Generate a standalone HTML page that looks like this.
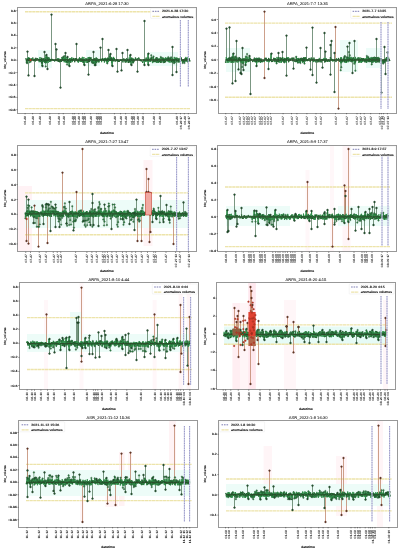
<!DOCTYPE html>
<html><head><meta charset="utf-8"><style>
html,body{margin:0;padding:0;background:#fff;width:401px;height:550px;overflow:hidden}
svg{display:block;font-family:"Liberation Sans",sans-serif;text-rendering:geometricPrecision}
</style></head><body>
<svg xmlns="http://www.w3.org/2000/svg" width="401" height="550" viewBox="0 0 401 550">
<rect width="401" height="550" fill="#fff"/>
<g opacity="0.999">
<clipPath id="c1"><rect x="17.5" y="7" width="179.0" height="106"/></clipPath>
<g clip-path="url(#c1)">
<rect x="38" y="50" width="14" height="18" fill="#edfcf8"/>
<rect x="86" y="50" width="14" height="16" fill="#edfcf8"/>
<rect x="150" y="52" width="28" height="14" fill="#edfcf8"/>
<line x1="25" y1="11.8" x2="190" y2="11.8" stroke="#ede4aa" stroke-width="1.4" stroke-dasharray="3.2 0.4"/>
<line x1="25" y1="108.6" x2="190" y2="108.6" stroke="#ede4aa" stroke-width="1.4" stroke-dasharray="3.2 0.4"/>
<path d="M27.5 60V51.6M28.5 60V75.4M34.5 60V76M47.5 60V69M51.5 60V14.6M55.5 60V44M56.5 60V49.4M60.5 60V87.6M76.5 60V44M84.5 60V65M88.5 60V74.6M93.5 60V52M95.5 60V65M100.5 60V47.6M102.5 60V39M108.5 60V50M116.5 60V49M117.5 60V71.6M121.5 60V70.4M122.5 60V53M127.5 60V50M137.5 60V71.6M144.5 60V21M144.5 60V65M148.5 60V53.6M148.5 60V65M172.5 60V47M172.5 60V75M176.5 60V72M44.5 60V52M46.5 60V55M42.5 60V66M65.5 60V53M67.5 60V57M69.5 60V66M110.5 60V54M112.5 60V66M130.5 60V55M131.5 60V65" stroke="#4f7458" stroke-width="0.75" fill="none"/>
<path d="M26.62 60V62.21M27.11 60V63.17M28.52 60V59.46M29.29 60V59.2M40.23 60V60.2M41.47 60V61.88M41.99 60V63.08M43.01 60V60.58M44.43 60V59.38M45.28 60V62.36M45.7 60V66.49M46.92 60V59.5M47.44 60V57.41M48.46 60V58.73M49.74 60V60.64M62.44 60V57.52M63.73 60V56.48M65.13 60V55.72M66.32 60V60.49M67.08 60V64.56M67.79 60V61.89M69.59 60V60.9M70.51 60V59.82M71.57 60V60.06M90.45 60V59.26M91.7 60V60.59M92.12 60V62.65M93.28 60V63.17M94.66 60V65.22M95.84 60V62.81M96.3 60V59.23M97.64 60V59.37M104.95 60V59.89M105.42 60V58.56M107.25 60V63.41M108.53 60V60.31M109.93 60V56.43M110.57 60V59.02M112.1 60V59.3M113.35 60V59.28M126.71 60V59.44M128.44 60V61.83M129.71 60V61.62M130.6 60V60.04M132.05 60V59.69M132.83 60V62.72M151.27 60V55.21M151.94 60V57.66M153.54 60V56.48M156.11 60V58.77M157.18 60V61.79M158.97 60V60.47M160.84 60V57M162.81 60V58.08M163.58 60V62.25M165.52 60V60.25M166.89 60V58.86M168.3 60V57.2M171.11 60V57.42M172.71 60V61.69M174.05 60V63.27M175.54 60V60.2M177.81 60V59.56M179.27 60V60.92M182.68 60V63M184.53 60V63M187.37 60V60.71M78.93 60V59.22M82.7 60V61.48M85.57 60V59.76M89.69 60V57.9" stroke="#3f7a4e" stroke-width="0.6" fill="none"/>
<path d="M26 58.8 26 59.7 26.4 61.7 26.5 62.7 26.6 62.2 26.9 60.1 27.1 60.5 27.1 63.2 27.4 58 27.6 59 27.8 60.8 28.3 60.3 28.4 57.4 28.5 59.5 28.8 57.4 28.9 60.6 29.3 59.2 29.3 61.2 29.6 58.6 29.6 63.1 30 62.1 30.8 61.7 31.2 58.1 31.6 59.7 32.3 58.3 32.9 58.1 33.3 60.8 33.9 60.6 34.4 59.9 34.8 59.3 35.5 61.5 35.9 58.3 36.6 60.5 37.3 58.7 37.8 58.9 38.6 59.4 39.2 62.2 39.7 60.2 40 57 40.2 60.2 40.4 61.9 40.4 59.6 40.9 59.4 41 60.1 41.3 61.7 41.5 61.9 41.5 60 41.7 58.2 42 59.7 42 63.1 42 66 42.3 59.9 42.4 63.2 43 59.1 43 62.2 43 60.6 43.5 58.8 43.7 58.1 43.8 58.6 44.1 60.7 44.2 61.7 44.4 59.4 44.5 59.1 44.6 62.2 45 62.9 45.2 60.9 45.3 62.4 45.6 56.8 45.6 58.4 45.7 63.2 45.9 62.6 46 55 46.2 61 46.4 63.1 46.7 58.3 46.8 57.3 46.9 59.5 47.3 61.8 47.3 60.3 47.4 57.4 47.7 57.4 48.1 63 48.1 61.9 48.5 58.7 48.6 57.6 48.9 59.7 49 57.4 49.3 61.9 49.6 59.1 49.6 60.4 49.7 60.6 50.1 59.6 50.8 61.7 51.3 59.4 51.8 59.4 52.3 59.5 52.8 60.3 53.5 60.2 54.2 60.3 54.6 61.1 55.4 59 55.8 60.1 56.3 60.3 57.1 60.7 57.8 58.1 58.4 61.3 58.8 58.2 59.5 61.8 59.9 60.6 60.3 61.1 61 58.9 61.4 61.2 62 61.2 62 57.3 62.3 60.5 62.4 57.5 62.5 59.3 62.7 60.6 63.1 59.7 63.3 60.8 63.7 59.9 63.7 56.8 63.9 60.2 64.2 62.3 64.5 57.8 64.5 60.9 65.1 62 65.1 56.8 65.3 59.6 65.5 58 66 62.8 66 60.7 66.3 60.5 66.4 62.9 66.8 61.3 66.9 60.7 67 57 67.1 63.2 67.3 57.5 67.5 61.7 67.7 63 67.8 61.9 68 61.3 68.3 60.6 68.4 62.1 68.9 60.9 68.9 58.7 69 66 69.2 61.4 69.6 58.3 69.6 59.7 69.6 60.9 70 62.3 70.1 58.4 70.5 58.6 70.5 59.8 70.8 62.2 71.1 58.1 71.3 58.5 71.4 58.5 71.6 60.1 71.8 59.7 71.8 57.2 72.2 62.1 72.6 59.2 73 60.7 73.7 58.6 74.1 59.8 74.7 61.8 75.1 58.3 75.5 58.8 76 61 76.6 58.8 77 59 77.4 61.1 77.9 60.2 78 61.7 78.3 62.8 78.6 59.9 78.7 59.8 78.9 59.2 79 60 79.1 61.7 79.5 57.2 79.9 59.3 80.1 59.5 80.5 62 80.5 60.6 80.9 58.6 81 58.8 81.4 62 81.4 60.4 81.8 61.4 82.1 59.5 82.2 56.9 82.6 57.1 82.7 61.5 82.7 60.1 82.9 61.6 83.2 62.2 83.4 62.5 83.8 58.8 83.9 57.1 84 65 84.2 59.9 84.5 62.8 84.7 61.3 84.8 62.6 85.2 59.9 85.4 60.5 85.6 59.8 85.8 58.5 85.8 58.4 86.3 62.8 86.3 58.9 86.8 59.8 87 60.1 87.4 62 87.7 62.2 87.9 57.5 88.1 60.2 88.4 59.7 88.6 61.2 88.7 57.1 88.9 61.4 89.2 57.6 89.6 61.1 89.6 61.4 89.7 57.9 90 59.9 90 59 90.5 59.3 90.5 58.8 90.7 58.2 91.1 57.3 91.3 59.9 91.6 61.5 91.7 60.6 92 60.4 92.1 62.6 92.2 61.5 92.7 61.9 92.8 59.1 93.2 59.1 93.3 63.2 93.5 59.6 93.7 62.6 94.2 58.2 94.3 59.5 94.7 63.2 94.8 62.3 95 58.7 95 65 95.3 60.8 95.6 60.1 95.7 60.5 95.8 62.8 96 61.5 96.2 57.3 96.3 59.2 96.5 59.2 96.7 63.2 96.9 59.1 97.3 61.5 97.4 60.9 97.6 59.4 97.7 61.5 97.9 60.8 98.3 59.5 98.9 62.1 99.6 60.7 100 59.5 100.6 58.8 101.2 59.8 101.6 62.2 102.3 58.7 102.9 59.1 103.4 60.2 103.9 59.3 104 58.1 104.4 62.6 104.5 60.7 104.8 59.6 104.9 58.7 105 59.9 105.4 58.9 105.4 58.6 105.6 59.2 105.9 58.1 106.3 62 106.4 60.3 106.9 62.4 107.1 59.3 107.3 63.2 107.3 60.5 107.7 57.7 107.8 58.2 108.2 62.2 108.2 58.2 108.5 60.3 108.7 61.4 108.8 60.9 109.3 59.6 109.3 58.6 109.7 59.7 109.9 56.8 110 60.4 110 54 110.1 58.2 110.4 58.8 110.5 60.8 110.6 59 110.8 58.3 110.9 58.8 111.3 58.1 111.5 63.1 111.9 57.3 112 66 112.1 59.3 112.1 59.7 112.2 62.4 112.5 61.3 112.7 60.6 113 58.8 113.3 59.3 113.4 61.4 113.5 56.9 113.9 59.7 113.9 59.3 114.4 57.9 115 60.9 115.8 61.3 116.4 60.5 116.8 59.3 117.3 60.7 117.7 59.5 118.3 61.3 119 60.5 119.4 61.2 120.1 60.2 120.7 60 121.1 60.9 121.9 60.1 122.5 61.5 123 62 123.6 58.7 124 58.9 124.6 60.9 125.1 61.9 125.6 59.8 126 61.4 126 62.1 126.4 58.5 126.4 61.8 126.7 59.4 126.8 61.3 127 60.3 127.2 60.7 127.6 59 127.7 59.3 128.3 62.6 128.4 62.2 128.4 61.8 128.6 62.8 129.1 60.4 129.1 57.6 129.5 61.4 129.6 60.8 129.7 61.6 130 61.7 130 55 130.1 59.2 130.4 60.3 130.6 62.4 130.6 60 131 65 131.1 62.8 131.2 58.6 131.6 61 131.8 58.1 131.9 61.4 132.1 59.7 132.1 58.6 132.5 60.9 132.8 62.7 132.9 61.9 133 58.2 133.6 63.1 133.6 59.2 134.2 61 134.7 60.4 135.5 57.9 135.9 59.9 136.3 59.5 136.9 58.6 137.5 59 138.1 59.3 138.7 58 139.4 58.4 140.2 60.4 140.7 59.6 141.4 60.8 142.1 61.1 142.6 62.2 143.4 61.6 143.9 59.7 144.4 65 144.5 61.8 145.1 60.1 145.6 61.8 146.1 58 146.8 61.8 147.5 60.4 148 53.6 148 65 148.2 59.1 148.8 58.1 149.2 59.8 149.8 59.5 150 62 150.1 60.9 150.3 61.9 150.7 58.9 150.7 58.9 151.2 57.7 151.2 59.5 151.3 56.8 151.6 60.1 151.7 58.1 151.9 57.7 152.1 62.2 152.4 62.1 152.6 62.9 153 62.9 153.1 61.6 153.3 58.2 153.5 56.8 153.6 61.3 153.8 58.7 154.1 61.1 154.3 60.9 154.7 61.8 154.8 62.2 155.1 61.3 155.3 58.8 155.5 60.2 155.7 62.2 156.1 58.8 156.2 58.1 156.3 57.8 156.7 59.1 156.8 63 157.2 61.8 157.2 58.1 157.2 60.5 157.6 60.2 158 61.4 158.1 60.7 158.4 63 158.5 59.4 158.8 59.4 159 60.5 159.1 58 159.4 60.4 159.5 61.8 159.8 61.2 160 60 160.1 60.2 160.6 62.9 160.7 62.1 160.8 57 161.1 58.5 161.3 58.7 161.6 57.6 161.8 61.9 162 62 162.5 58.7 162.6 59.8 162.8 58.1 163 58 163.3 59.4 163.5 62.7 163.6 62.2 163.8 61.8 163.8 58.6 164.1 58 164.5 61.2 164.6 62.2 164.9 59.1 165 60.6 165.4 57.5 165.4 61.7 165.5 60.3 165.8 58.3 165.9 57.6 166.3 58.4 166.5 59.2 166.7 60.2 166.9 58.9 167.1 59.2 167.2 61.6 167.5 60.2 167.9 58.1 167.9 58.4 168.3 57.2 168.4 60.9 168.6 61.9 168.8 62.2 169.1 58.1 169.3 62.3 169.6 59.2 169.7 61.5 170.2 62.6 170.3 58.7 170.6 58.8 170.7 58.8 171.1 57.4 171.2 58.2 171.3 61.3 171.8 62.5 171.8 60.7 172.1 58.3 172.6 60.4 172.7 58.5 172.7 61.7 173 62.1 173 59.1 173.4 61.9 173.8 59.4 173.8 60.7 174.1 63.2 174.3 56.9 174.3 60.6 174.6 61.2 174.7 62.1 175.2 63 175.2 60.1 175.5 60 175.5 60.2 175.8 58 176.1 60 176.4 59.1 176.6 58 176.9 57.5 176.9 61.3 177.2 60.3 177.3 59.1 177.6 60.4 177.8 59.6 178 58.9 178 58 178 62.6 178.5 60.2 178.5 61.8 178.9 61.7 179.1 59.4 179.3 60.9 179.6 62.4 179.7 57.9 180.1 61.7 180.2 61.1 180.7 59.4 180.8 61.9 181.2 57.3 181.3 58.6 181.6 59.8 181.9 59.1 181.9 60.6 182.4 60.8 182.5 60.7 182.7 63 182.8 62.8 183.2 60.1 183.3 59 183.7 61.5 183.8 60.4 184.2 59.3 184.4 60.1 184.5 63 184.8 60.9 185.2 58.6 185.3 61.7 185.9 58.5 185.9 56.9 186.4 61.5 186.5 58.8 186.8 59.4 187 61.2 187.1 58.1 187.4 60.7 187.5 57.4 187.7 61.3 187.9 62.6 188.2 60 188.7 60.4 189.2 58 189.8 60.9" stroke="#2e8c48" stroke-width="1.0" fill="none" stroke-linejoin="round"/>
<line x1="26" y1="60" x2="190" y2="60" stroke="#30482c" stroke-width="1.3"/>
<path d="M25.2 58.8a0.75 0.75 0 1 0 1.5 0a0.75 0.75 0 1 0 -1.5 0M26.4 60.5a0.75 0.75 0 1 0 1.5 0a0.75 0.75 0 1 0 -1.5 0M27.5 60.3a0.75 0.75 0 1 0 1.5 0a0.75 0.75 0 1 0 -1.5 0M28.8 58.6a0.75 0.75 0 1 0 1.5 0a0.75 0.75 0 1 0 -1.5 0M30.1 61.7a0.75 0.75 0 1 0 1.5 0a0.75 0.75 0 1 0 -1.5 0M30.9 59.7a0.75 0.75 0 1 0 1.5 0a0.75 0.75 0 1 0 -1.5 0M32.1 58.1a0.75 0.75 0 1 0 1.5 0a0.75 0.75 0 1 0 -1.5 0M33.1 60.6a0.75 0.75 0 1 0 1.5 0a0.75 0.75 0 1 0 -1.5 0M34.1 59.3a0.75 0.75 0 1 0 1.5 0a0.75 0.75 0 1 0 -1.5 0M35.1 58.3a0.75 0.75 0 1 0 1.5 0a0.75 0.75 0 1 0 -1.5 0M36.5 58.7a0.75 0.75 0 1 0 1.5 0a0.75 0.75 0 1 0 -1.5 0M37.8 59.4a0.75 0.75 0 1 0 1.5 0a0.75 0.75 0 1 0 -1.5 0M38.9 60.2a0.75 0.75 0 1 0 1.5 0a0.75 0.75 0 1 0 -1.5 0M40.2 59.4a0.75 0.75 0 1 0 1.5 0a0.75 0.75 0 1 0 -1.5 0M40.9 58.2a0.75 0.75 0 1 0 1.5 0a0.75 0.75 0 1 0 -1.5 0M42.2 59.1a0.75 0.75 0 1 0 1.5 0a0.75 0.75 0 1 0 -1.5 0M43.4 60.7a0.75 0.75 0 1 0 1.5 0a0.75 0.75 0 1 0 -1.5 0M44.4 60.9a0.75 0.75 0 1 0 1.5 0a0.75 0.75 0 1 0 -1.5 0M45.4 61a0.75 0.75 0 1 0 1.5 0a0.75 0.75 0 1 0 -1.5 0M46.6 60.3a0.75 0.75 0 1 0 1.5 0a0.75 0.75 0 1 0 -1.5 0M48.1 59.7a0.75 0.75 0 1 0 1.5 0a0.75 0.75 0 1 0 -1.5 0M49.3 59.6a0.75 0.75 0 1 0 1.5 0a0.75 0.75 0 1 0 -1.5 0M50.6 59.4a0.75 0.75 0 1 0 1.5 0a0.75 0.75 0 1 0 -1.5 0M51.6 59.5a0.75 0.75 0 1 0 1.5 0a0.75 0.75 0 1 0 -1.5 0M52.7 60.2a0.75 0.75 0 1 0 1.5 0a0.75 0.75 0 1 0 -1.5 0M53.9 61.1a0.75 0.75 0 1 0 1.5 0a0.75 0.75 0 1 0 -1.5 0M55 60.1a0.75 0.75 0 1 0 1.5 0a0.75 0.75 0 1 0 -1.5 0M56.4 60.7a0.75 0.75 0 1 0 1.5 0a0.75 0.75 0 1 0 -1.5 0M57.7 61.3a0.75 0.75 0 1 0 1.5 0a0.75 0.75 0 1 0 -1.5 0M58.8 61.8a0.75 0.75 0 1 0 1.5 0a0.75 0.75 0 1 0 -1.5 0M59.6 61.1a0.75 0.75 0 1 0 1.5 0a0.75 0.75 0 1 0 -1.5 0M60.7 61.2a0.75 0.75 0 1 0 1.5 0a0.75 0.75 0 1 0 -1.5 0M61.8 59.3a0.75 0.75 0 1 0 1.5 0a0.75 0.75 0 1 0 -1.5 0M63.1 60.2a0.75 0.75 0 1 0 1.5 0a0.75 0.75 0 1 0 -1.5 0M64.6 59.6a0.75 0.75 0 1 0 1.5 0a0.75 0.75 0 1 0 -1.5 0M66 61.3a0.75 0.75 0 1 0 1.5 0a0.75 0.75 0 1 0 -1.5 0M67.5 60.6a0.75 0.75 0 1 0 1.5 0a0.75 0.75 0 1 0 -1.5 0M68.8 59.7a0.75 0.75 0 1 0 1.5 0a0.75 0.75 0 1 0 -1.5 0M70 62.2a0.75 0.75 0 1 0 1.5 0a0.75 0.75 0 1 0 -1.5 0M71 59.7a0.75 0.75 0 1 0 1.5 0a0.75 0.75 0 1 0 -1.5 0M71.9 59.2a0.75 0.75 0 1 0 1.5 0a0.75 0.75 0 1 0 -1.5 0M73 58.6a0.75 0.75 0 1 0 1.5 0a0.75 0.75 0 1 0 -1.5 0M74 61.8a0.75 0.75 0 1 0 1.5 0a0.75 0.75 0 1 0 -1.5 0M74.8 58.8a0.75 0.75 0 1 0 1.5 0a0.75 0.75 0 1 0 -1.5 0M75.8 58.8a0.75 0.75 0 1 0 1.5 0a0.75 0.75 0 1 0 -1.5 0M76.7 61.1a0.75 0.75 0 1 0 1.5 0a0.75 0.75 0 1 0 -1.5 0M77.9 59.9a0.75 0.75 0 1 0 1.5 0a0.75 0.75 0 1 0 -1.5 0M79.1 59.3a0.75 0.75 0 1 0 1.5 0a0.75 0.75 0 1 0 -1.5 0M80.3 58.8a0.75 0.75 0 1 0 1.5 0a0.75 0.75 0 1 0 -1.5 0M81.4 59.5a0.75 0.75 0 1 0 1.5 0a0.75 0.75 0 1 0 -1.5 0M82.4 62.2a0.75 0.75 0 1 0 1.5 0a0.75 0.75 0 1 0 -1.5 0M83.4 59.9a0.75 0.75 0 1 0 1.5 0a0.75 0.75 0 1 0 -1.5 0M84.6 60.5a0.75 0.75 0 1 0 1.5 0a0.75 0.75 0 1 0 -1.5 0M85.5 58.9a0.75 0.75 0 1 0 1.5 0a0.75 0.75 0 1 0 -1.5 0M86.9 62.2a0.75 0.75 0 1 0 1.5 0a0.75 0.75 0 1 0 -1.5 0M87.8 61.2a0.75 0.75 0 1 0 1.5 0a0.75 0.75 0 1 0 -1.5 0M88.9 61.4a0.75 0.75 0 1 0 1.5 0a0.75 0.75 0 1 0 -1.5 0M89.9 58.2a0.75 0.75 0 1 0 1.5 0a0.75 0.75 0 1 0 -1.5 0M91.3 60.4a0.75 0.75 0 1 0 1.5 0a0.75 0.75 0 1 0 -1.5 0M92.7 59.6a0.75 0.75 0 1 0 1.5 0a0.75 0.75 0 1 0 -1.5 0M94.2 58.7a0.75 0.75 0 1 0 1.5 0a0.75 0.75 0 1 0 -1.5 0M95.2 61.5a0.75 0.75 0 1 0 1.5 0a0.75 0.75 0 1 0 -1.5 0M96.1 59.1a0.75 0.75 0 1 0 1.5 0a0.75 0.75 0 1 0 -1.5 0M97.2 60.8a0.75 0.75 0 1 0 1.5 0a0.75 0.75 0 1 0 -1.5 0M98.1 62.1a0.75 0.75 0 1 0 1.5 0a0.75 0.75 0 1 0 -1.5 0M99.2 59.5a0.75 0.75 0 1 0 1.5 0a0.75 0.75 0 1 0 -1.5 0M100.5 59.8a0.75 0.75 0 1 0 1.5 0a0.75 0.75 0 1 0 -1.5 0M101.5 58.7a0.75 0.75 0 1 0 1.5 0a0.75 0.75 0 1 0 -1.5 0M102.7 60.2a0.75 0.75 0 1 0 1.5 0a0.75 0.75 0 1 0 -1.5 0M103.7 60.7a0.75 0.75 0 1 0 1.5 0a0.75 0.75 0 1 0 -1.5 0M104.8 59.2a0.75 0.75 0 1 0 1.5 0a0.75 0.75 0 1 0 -1.5 0M106.3 59.3a0.75 0.75 0 1 0 1.5 0a0.75 0.75 0 1 0 -1.5 0M107.4 58.2a0.75 0.75 0 1 0 1.5 0a0.75 0.75 0 1 0 -1.5 0M108.5 59.6a0.75 0.75 0 1 0 1.5 0a0.75 0.75 0 1 0 -1.5 0M109.6 58.8a0.75 0.75 0 1 0 1.5 0a0.75 0.75 0 1 0 -1.5 0M110.6 58.1a0.75 0.75 0 1 0 1.5 0a0.75 0.75 0 1 0 -1.5 0M111.9 60.6a0.75 0.75 0 1 0 1.5 0a0.75 0.75 0 1 0 -1.5 0M113.2 59.3a0.75 0.75 0 1 0 1.5 0a0.75 0.75 0 1 0 -1.5 0M114.2 60.9a0.75 0.75 0 1 0 1.5 0a0.75 0.75 0 1 0 -1.5 0M115.7 60.5a0.75 0.75 0 1 0 1.5 0a0.75 0.75 0 1 0 -1.5 0M116.5 60.7a0.75 0.75 0 1 0 1.5 0a0.75 0.75 0 1 0 -1.5 0M117.5 61.3a0.75 0.75 0 1 0 1.5 0a0.75 0.75 0 1 0 -1.5 0M118.6 61.2a0.75 0.75 0 1 0 1.5 0a0.75 0.75 0 1 0 -1.5 0M119.9 60a0.75 0.75 0 1 0 1.5 0a0.75 0.75 0 1 0 -1.5 0M121.1 60.1a0.75 0.75 0 1 0 1.5 0a0.75 0.75 0 1 0 -1.5 0M122.2 62a0.75 0.75 0 1 0 1.5 0a0.75 0.75 0 1 0 -1.5 0M123.2 58.9a0.75 0.75 0 1 0 1.5 0a0.75 0.75 0 1 0 -1.5 0M124.4 61.9a0.75 0.75 0 1 0 1.5 0a0.75 0.75 0 1 0 -1.5 0M125.3 62.1a0.75 0.75 0 1 0 1.5 0a0.75 0.75 0 1 0 -1.5 0M126.3 60.3a0.75 0.75 0 1 0 1.5 0a0.75 0.75 0 1 0 -1.5 0M127.6 62.2a0.75 0.75 0 1 0 1.5 0a0.75 0.75 0 1 0 -1.5 0M128.8 61.4a0.75 0.75 0 1 0 1.5 0a0.75 0.75 0 1 0 -1.5 0M129.7 60.3a0.75 0.75 0 1 0 1.5 0a0.75 0.75 0 1 0 -1.5 0M131 58.1a0.75 0.75 0 1 0 1.5 0a0.75 0.75 0 1 0 -1.5 0M132.2 61.9a0.75 0.75 0 1 0 1.5 0a0.75 0.75 0 1 0 -1.5 0M133.5 61a0.75 0.75 0 1 0 1.5 0a0.75 0.75 0 1 0 -1.5 0M134.7 57.9a0.75 0.75 0 1 0 1.5 0a0.75 0.75 0 1 0 -1.5 0M135.6 59.5a0.75 0.75 0 1 0 1.5 0a0.75 0.75 0 1 0 -1.5 0M136.8 59a0.75 0.75 0 1 0 1.5 0a0.75 0.75 0 1 0 -1.5 0M138 58a0.75 0.75 0 1 0 1.5 0a0.75 0.75 0 1 0 -1.5 0M139.4 60.4a0.75 0.75 0 1 0 1.5 0a0.75 0.75 0 1 0 -1.5 0M140.6 60.8a0.75 0.75 0 1 0 1.5 0a0.75 0.75 0 1 0 -1.5 0M141.9 62.2a0.75 0.75 0 1 0 1.5 0a0.75 0.75 0 1 0 -1.5 0M143.1 59.7a0.75 0.75 0 1 0 1.5 0a0.75 0.75 0 1 0 -1.5 0M144.3 60.1a0.75 0.75 0 1 0 1.5 0a0.75 0.75 0 1 0 -1.5 0M145.4 58a0.75 0.75 0 1 0 1.5 0a0.75 0.75 0 1 0 -1.5 0M146.7 60.4a0.75 0.75 0 1 0 1.5 0a0.75 0.75 0 1 0 -1.5 0M148 58.1a0.75 0.75 0 1 0 1.5 0a0.75 0.75 0 1 0 -1.5 0M149 59.5a0.75 0.75 0 1 0 1.5 0a0.75 0.75 0 1 0 -1.5 0M150 58.9a0.75 0.75 0 1 0 1.5 0a0.75 0.75 0 1 0 -1.5 0M150.9 58.1a0.75 0.75 0 1 0 1.5 0a0.75 0.75 0 1 0 -1.5 0M152.3 61.6a0.75 0.75 0 1 0 1.5 0a0.75 0.75 0 1 0 -1.5 0M153.3 61.1a0.75 0.75 0 1 0 1.5 0a0.75 0.75 0 1 0 -1.5 0M154.3 61.3a0.75 0.75 0 1 0 1.5 0a0.75 0.75 0 1 0 -1.5 0M155.5 57.8a0.75 0.75 0 1 0 1.5 0a0.75 0.75 0 1 0 -1.5 0M156.5 58.1a0.75 0.75 0 1 0 1.5 0a0.75 0.75 0 1 0 -1.5 0M157.7 59.4a0.75 0.75 0 1 0 1.5 0a0.75 0.75 0 1 0 -1.5 0M158.7 61.8a0.75 0.75 0 1 0 1.5 0a0.75 0.75 0 1 0 -1.5 0M160 62.1a0.75 0.75 0 1 0 1.5 0a0.75 0.75 0 1 0 -1.5 0M161 61.9a0.75 0.75 0 1 0 1.5 0a0.75 0.75 0 1 0 -1.5 0M162.5 59.4a0.75 0.75 0 1 0 1.5 0a0.75 0.75 0 1 0 -1.5 0M163.8 62.2a0.75 0.75 0 1 0 1.5 0a0.75 0.75 0 1 0 -1.5 0M164.7 61.7a0.75 0.75 0 1 0 1.5 0a0.75 0.75 0 1 0 -1.5 0M165.7 59.2a0.75 0.75 0 1 0 1.5 0a0.75 0.75 0 1 0 -1.5 0M167.2 58.4a0.75 0.75 0 1 0 1.5 0a0.75 0.75 0 1 0 -1.5 0M168.4 58.1a0.75 0.75 0 1 0 1.5 0a0.75 0.75 0 1 0 -1.5 0M169.5 58.7a0.75 0.75 0 1 0 1.5 0a0.75 0.75 0 1 0 -1.5 0M170.6 61.3a0.75 0.75 0 1 0 1.5 0a0.75 0.75 0 1 0 -1.5 0M171.8 60.4a0.75 0.75 0 1 0 1.5 0a0.75 0.75 0 1 0 -1.5 0M173.1 60.7a0.75 0.75 0 1 0 1.5 0a0.75 0.75 0 1 0 -1.5 0M173.9 62.1a0.75 0.75 0 1 0 1.5 0a0.75 0.75 0 1 0 -1.5 0M175.1 58a0.75 0.75 0 1 0 1.5 0a0.75 0.75 0 1 0 -1.5 0M176.2 61.3a0.75 0.75 0 1 0 1.5 0a0.75 0.75 0 1 0 -1.5 0M177.2 58.9a0.75 0.75 0 1 0 1.5 0a0.75 0.75 0 1 0 -1.5 0M178.1 61.7a0.75 0.75 0 1 0 1.5 0a0.75 0.75 0 1 0 -1.5 0M179.5 61.1a0.75 0.75 0 1 0 1.5 0a0.75 0.75 0 1 0 -1.5 0M180.6 58.6a0.75 0.75 0 1 0 1.5 0a0.75 0.75 0 1 0 -1.5 0M181.7 60.7a0.75 0.75 0 1 0 1.5 0a0.75 0.75 0 1 0 -1.5 0M183 61.5a0.75 0.75 0 1 0 1.5 0a0.75 0.75 0 1 0 -1.5 0M184.4 58.6a0.75 0.75 0 1 0 1.5 0a0.75 0.75 0 1 0 -1.5 0M185.7 58.8a0.75 0.75 0 1 0 1.5 0a0.75 0.75 0 1 0 -1.5 0M187 61.3a0.75 0.75 0 1 0 1.5 0a0.75 0.75 0 1 0 -1.5 0M187.9 60.4a0.75 0.75 0 1 0 1.5 0a0.75 0.75 0 1 0 -1.5 0M189.1 60.9a0.75 0.75 0 1 0 1.5 0a0.75 0.75 0 1 0 -1.5 0" fill="#24602f"/>
<path d="M25.8 62.2a0.8 0.8 0 1 0 1.6 0a0.8 0.8 0 1 0 -1.6 0M26.3 63.2a0.8 0.8 0 1 0 1.6 0a0.8 0.8 0 1 0 -1.6 0M27.7 59.5a0.8 0.8 0 1 0 1.6 0a0.8 0.8 0 1 0 -1.6 0M28.5 59.2a0.8 0.8 0 1 0 1.6 0a0.8 0.8 0 1 0 -1.6 0M39.4 60.2a0.8 0.8 0 1 0 1.6 0a0.8 0.8 0 1 0 -1.6 0M40.7 61.9a0.8 0.8 0 1 0 1.6 0a0.8 0.8 0 1 0 -1.6 0M41.2 63.1a0.8 0.8 0 1 0 1.6 0a0.8 0.8 0 1 0 -1.6 0M42.2 60.6a0.8 0.8 0 1 0 1.6 0a0.8 0.8 0 1 0 -1.6 0M43.6 59.4a0.8 0.8 0 1 0 1.6 0a0.8 0.8 0 1 0 -1.6 0M44.5 62.4a0.8 0.8 0 1 0 1.6 0a0.8 0.8 0 1 0 -1.6 0M44.9 66.5a0.8 0.8 0 1 0 1.6 0a0.8 0.8 0 1 0 -1.6 0M46.1 59.5a0.8 0.8 0 1 0 1.6 0a0.8 0.8 0 1 0 -1.6 0M46.6 57.4a0.8 0.8 0 1 0 1.6 0a0.8 0.8 0 1 0 -1.6 0M47.7 58.7a0.8 0.8 0 1 0 1.6 0a0.8 0.8 0 1 0 -1.6 0M48.9 60.6a0.8 0.8 0 1 0 1.6 0a0.8 0.8 0 1 0 -1.6 0M61.6 57.5a0.8 0.8 0 1 0 1.6 0a0.8 0.8 0 1 0 -1.6 0M62.9 56.5a0.8 0.8 0 1 0 1.6 0a0.8 0.8 0 1 0 -1.6 0M64.3 55.7a0.8 0.8 0 1 0 1.6 0a0.8 0.8 0 1 0 -1.6 0M65.5 60.5a0.8 0.8 0 1 0 1.6 0a0.8 0.8 0 1 0 -1.6 0M66.3 64.6a0.8 0.8 0 1 0 1.6 0a0.8 0.8 0 1 0 -1.6 0M67 61.9a0.8 0.8 0 1 0 1.6 0a0.8 0.8 0 1 0 -1.6 0M68.8 60.9a0.8 0.8 0 1 0 1.6 0a0.8 0.8 0 1 0 -1.6 0M69.7 59.8a0.8 0.8 0 1 0 1.6 0a0.8 0.8 0 1 0 -1.6 0M70.8 60.1a0.8 0.8 0 1 0 1.6 0a0.8 0.8 0 1 0 -1.6 0M89.7 59.3a0.8 0.8 0 1 0 1.6 0a0.8 0.8 0 1 0 -1.6 0M90.9 60.6a0.8 0.8 0 1 0 1.6 0a0.8 0.8 0 1 0 -1.6 0M91.3 62.6a0.8 0.8 0 1 0 1.6 0a0.8 0.8 0 1 0 -1.6 0M92.5 63.2a0.8 0.8 0 1 0 1.6 0a0.8 0.8 0 1 0 -1.6 0M93.9 65.2a0.8 0.8 0 1 0 1.6 0a0.8 0.8 0 1 0 -1.6 0M95 62.8a0.8 0.8 0 1 0 1.6 0a0.8 0.8 0 1 0 -1.6 0M95.5 59.2a0.8 0.8 0 1 0 1.6 0a0.8 0.8 0 1 0 -1.6 0M96.8 59.4a0.8 0.8 0 1 0 1.6 0a0.8 0.8 0 1 0 -1.6 0M104.2 59.9a0.8 0.8 0 1 0 1.6 0a0.8 0.8 0 1 0 -1.6 0M104.6 58.6a0.8 0.8 0 1 0 1.6 0a0.8 0.8 0 1 0 -1.6 0M106.5 63.4a0.8 0.8 0 1 0 1.6 0a0.8 0.8 0 1 0 -1.6 0M107.7 60.3a0.8 0.8 0 1 0 1.6 0a0.8 0.8 0 1 0 -1.6 0M109.1 56.4a0.8 0.8 0 1 0 1.6 0a0.8 0.8 0 1 0 -1.6 0M109.8 59a0.8 0.8 0 1 0 1.6 0a0.8 0.8 0 1 0 -1.6 0M111.3 59.3a0.8 0.8 0 1 0 1.6 0a0.8 0.8 0 1 0 -1.6 0M112.5 59.3a0.8 0.8 0 1 0 1.6 0a0.8 0.8 0 1 0 -1.6 0M125.9 59.4a0.8 0.8 0 1 0 1.6 0a0.8 0.8 0 1 0 -1.6 0M127.6 61.8a0.8 0.8 0 1 0 1.6 0a0.8 0.8 0 1 0 -1.6 0M128.9 61.6a0.8 0.8 0 1 0 1.6 0a0.8 0.8 0 1 0 -1.6 0M129.8 60a0.8 0.8 0 1 0 1.6 0a0.8 0.8 0 1 0 -1.6 0M131.3 59.7a0.8 0.8 0 1 0 1.6 0a0.8 0.8 0 1 0 -1.6 0M132 62.7a0.8 0.8 0 1 0 1.6 0a0.8 0.8 0 1 0 -1.6 0M150.5 55.2a0.8 0.8 0 1 0 1.6 0a0.8 0.8 0 1 0 -1.6 0M151.1 57.7a0.8 0.8 0 1 0 1.6 0a0.8 0.8 0 1 0 -1.6 0M152.7 56.5a0.8 0.8 0 1 0 1.6 0a0.8 0.8 0 1 0 -1.6 0M155.3 58.8a0.8 0.8 0 1 0 1.6 0a0.8 0.8 0 1 0 -1.6 0M156.4 61.8a0.8 0.8 0 1 0 1.6 0a0.8 0.8 0 1 0 -1.6 0M158.2 60.5a0.8 0.8 0 1 0 1.6 0a0.8 0.8 0 1 0 -1.6 0M160 57a0.8 0.8 0 1 0 1.6 0a0.8 0.8 0 1 0 -1.6 0M162 58.1a0.8 0.8 0 1 0 1.6 0a0.8 0.8 0 1 0 -1.6 0M162.8 62.2a0.8 0.8 0 1 0 1.6 0a0.8 0.8 0 1 0 -1.6 0M164.7 60.3a0.8 0.8 0 1 0 1.6 0a0.8 0.8 0 1 0 -1.6 0M166.1 58.9a0.8 0.8 0 1 0 1.6 0a0.8 0.8 0 1 0 -1.6 0M167.5 57.2a0.8 0.8 0 1 0 1.6 0a0.8 0.8 0 1 0 -1.6 0M170.3 57.4a0.8 0.8 0 1 0 1.6 0a0.8 0.8 0 1 0 -1.6 0M171.9 61.7a0.8 0.8 0 1 0 1.6 0a0.8 0.8 0 1 0 -1.6 0M173.3 63.3a0.8 0.8 0 1 0 1.6 0a0.8 0.8 0 1 0 -1.6 0M174.7 60.2a0.8 0.8 0 1 0 1.6 0a0.8 0.8 0 1 0 -1.6 0M177 59.6a0.8 0.8 0 1 0 1.6 0a0.8 0.8 0 1 0 -1.6 0M178.5 60.9a0.8 0.8 0 1 0 1.6 0a0.8 0.8 0 1 0 -1.6 0M181.9 63a0.8 0.8 0 1 0 1.6 0a0.8 0.8 0 1 0 -1.6 0M183.7 63a0.8 0.8 0 1 0 1.6 0a0.8 0.8 0 1 0 -1.6 0M186.6 60.7a0.8 0.8 0 1 0 1.6 0a0.8 0.8 0 1 0 -1.6 0M78.1 59.2a0.8 0.8 0 1 0 1.6 0a0.8 0.8 0 1 0 -1.6 0M81.9 61.5a0.8 0.8 0 1 0 1.6 0a0.8 0.8 0 1 0 -1.6 0M84.8 59.8a0.8 0.8 0 1 0 1.6 0a0.8 0.8 0 1 0 -1.6 0M88.9 57.9a0.8 0.8 0 1 0 1.6 0a0.8 0.8 0 1 0 -1.6 0" fill="#33904c" stroke="#1a3320" stroke-width="0.3"/>
<path d="M26.6 51.6a0.9 0.9 0 1 0 1.8 0a0.9 0.9 0 1 0 -1.8 0M27.6 75.4a0.9 0.9 0 1 0 1.8 0a0.9 0.9 0 1 0 -1.8 0M33.6 76a0.9 0.9 0 1 0 1.8 0a0.9 0.9 0 1 0 -1.8 0M46.6 69a0.9 0.9 0 1 0 1.8 0a0.9 0.9 0 1 0 -1.8 0M50.6 14.6a0.9 0.9 0 1 0 1.8 0a0.9 0.9 0 1 0 -1.8 0M54.6 44a0.9 0.9 0 1 0 1.8 0a0.9 0.9 0 1 0 -1.8 0M55.6 49.4a0.9 0.9 0 1 0 1.8 0a0.9 0.9 0 1 0 -1.8 0M59.6 87.6a0.9 0.9 0 1 0 1.8 0a0.9 0.9 0 1 0 -1.8 0M75.6 44a0.9 0.9 0 1 0 1.8 0a0.9 0.9 0 1 0 -1.8 0M83.6 65a0.9 0.9 0 1 0 1.8 0a0.9 0.9 0 1 0 -1.8 0M87.6 74.6a0.9 0.9 0 1 0 1.8 0a0.9 0.9 0 1 0 -1.8 0M92.6 52a0.9 0.9 0 1 0 1.8 0a0.9 0.9 0 1 0 -1.8 0M94.6 65a0.9 0.9 0 1 0 1.8 0a0.9 0.9 0 1 0 -1.8 0M99.6 47.6a0.9 0.9 0 1 0 1.8 0a0.9 0.9 0 1 0 -1.8 0M101.6 39a0.9 0.9 0 1 0 1.8 0a0.9 0.9 0 1 0 -1.8 0M107.6 50a0.9 0.9 0 1 0 1.8 0a0.9 0.9 0 1 0 -1.8 0M115.6 49a0.9 0.9 0 1 0 1.8 0a0.9 0.9 0 1 0 -1.8 0M116.6 71.6a0.9 0.9 0 1 0 1.8 0a0.9 0.9 0 1 0 -1.8 0M120.6 70.4a0.9 0.9 0 1 0 1.8 0a0.9 0.9 0 1 0 -1.8 0M121.6 53a0.9 0.9 0 1 0 1.8 0a0.9 0.9 0 1 0 -1.8 0M126.6 50a0.9 0.9 0 1 0 1.8 0a0.9 0.9 0 1 0 -1.8 0M136.6 71.6a0.9 0.9 0 1 0 1.8 0a0.9 0.9 0 1 0 -1.8 0M143.6 21a0.9 0.9 0 1 0 1.8 0a0.9 0.9 0 1 0 -1.8 0M143.6 65a0.9 0.9 0 1 0 1.8 0a0.9 0.9 0 1 0 -1.8 0M147.6 53.6a0.9 0.9 0 1 0 1.8 0a0.9 0.9 0 1 0 -1.8 0M147.6 65a0.9 0.9 0 1 0 1.8 0a0.9 0.9 0 1 0 -1.8 0M171.6 47a0.9 0.9 0 1 0 1.8 0a0.9 0.9 0 1 0 -1.8 0M171.6 75a0.9 0.9 0 1 0 1.8 0a0.9 0.9 0 1 0 -1.8 0M175.6 72a0.9 0.9 0 1 0 1.8 0a0.9 0.9 0 1 0 -1.8 0M43.6 52a0.9 0.9 0 1 0 1.8 0a0.9 0.9 0 1 0 -1.8 0M45.6 55a0.9 0.9 0 1 0 1.8 0a0.9 0.9 0 1 0 -1.8 0M41.6 66a0.9 0.9 0 1 0 1.8 0a0.9 0.9 0 1 0 -1.8 0M64.6 53a0.9 0.9 0 1 0 1.8 0a0.9 0.9 0 1 0 -1.8 0M66.6 57a0.9 0.9 0 1 0 1.8 0a0.9 0.9 0 1 0 -1.8 0M68.6 66a0.9 0.9 0 1 0 1.8 0a0.9 0.9 0 1 0 -1.8 0M109.6 54a0.9 0.9 0 1 0 1.8 0a0.9 0.9 0 1 0 -1.8 0M111.6 66a0.9 0.9 0 1 0 1.8 0a0.9 0.9 0 1 0 -1.8 0M129.6 55a0.9 0.9 0 1 0 1.8 0a0.9 0.9 0 1 0 -1.8 0M130.6 65a0.9 0.9 0 1 0 1.8 0a0.9 0.9 0 1 0 -1.8 0" fill="#275a32" stroke="#1a3320" stroke-width="0.4"/>
<path d="M29.6 60a0.9 0.9 0 1 0 1.8 0a0.9 0.9 0 1 0 -1.8 0" fill="#c83a2a" stroke="#6a2a1a" stroke-width="0.25"/>
<line x1="180.4" y1="20" x2="180.4" y2="87" stroke="#cfcfe8" stroke-width="1.1"/>
<line x1="180.4" y1="20" x2="180.4" y2="87" stroke="#8080b8" stroke-width="0.7" stroke-dasharray="1.3 1.1"/>
<line x1="188.3" y1="20" x2="188.3" y2="87" stroke="#cfcfe8" stroke-width="1.1"/>
<line x1="188.3" y1="20" x2="188.3" y2="87" stroke="#8080b8" stroke-width="0.7" stroke-dasharray="1.3 1.1"/>
</g>
<rect x="17.5" y="7.5" width="179" height="106" fill="none" stroke="#989898" stroke-width="1.0"/>
<line x1="16.2" y1="10.7" x2="17.5" y2="10.7" stroke="#333" stroke-width="0.5"/>
<text x="15.6" y="11.74" text-anchor="end" font-size="3.02" textLength="4.61" lengthAdjust="spacingAndGlyphs" fill="#111" stroke="#111" stroke-width="0.14">0.8</text>
<line x1="16.2" y1="23.07" x2="17.5" y2="23.07" stroke="#333" stroke-width="0.5"/>
<text x="15.6" y="24.12" text-anchor="end" font-size="3.02" textLength="4.61" lengthAdjust="spacingAndGlyphs" fill="#111" stroke="#111" stroke-width="0.14">0.6</text>
<line x1="16.2" y1="35.45" x2="17.5" y2="35.45" stroke="#333" stroke-width="0.5"/>
<text x="15.6" y="36.49" text-anchor="end" font-size="3.02" textLength="4.61" lengthAdjust="spacingAndGlyphs" fill="#111" stroke="#111" stroke-width="0.14">0.4</text>
<line x1="16.2" y1="47.83" x2="17.5" y2="47.83" stroke="#333" stroke-width="0.5"/>
<text x="15.6" y="48.87" text-anchor="end" font-size="3.02" textLength="4.61" lengthAdjust="spacingAndGlyphs" fill="#111" stroke="#111" stroke-width="0.14">0.2</text>
<line x1="16.2" y1="60.2" x2="17.5" y2="60.2" stroke="#333" stroke-width="0.5"/>
<text x="15.6" y="61.24" text-anchor="end" font-size="3.02" textLength="4.61" lengthAdjust="spacingAndGlyphs" fill="#111" stroke="#111" stroke-width="0.14">0.0</text>
<line x1="16.2" y1="72.58" x2="17.5" y2="72.58" stroke="#333" stroke-width="0.5"/>
<text x="15.6" y="73.62" text-anchor="end" font-size="3.02" textLength="7.04" lengthAdjust="spacingAndGlyphs" fill="#111" stroke="#111" stroke-width="0.14">−0.2</text>
<line x1="16.2" y1="84.95" x2="17.5" y2="84.95" stroke="#333" stroke-width="0.5"/>
<text x="15.6" y="85.99" text-anchor="end" font-size="3.02" textLength="7.04" lengthAdjust="spacingAndGlyphs" fill="#111" stroke="#111" stroke-width="0.14">−0.4</text>
<line x1="16.2" y1="97.33" x2="17.5" y2="97.33" stroke="#333" stroke-width="0.5"/>
<text x="15.6" y="98.37" text-anchor="end" font-size="3.02" textLength="7.04" lengthAdjust="spacingAndGlyphs" fill="#111" stroke="#111" stroke-width="0.14">−0.6</text>
<line x1="16.2" y1="109.7" x2="17.5" y2="109.7" stroke="#333" stroke-width="0.5"/>
<text x="15.6" y="110.74" text-anchor="end" font-size="3.02" textLength="7.04" lengthAdjust="spacingAndGlyphs" fill="#111" stroke="#111" stroke-width="0.14">−0.8</text>
<line x1="25.1" y1="113" x2="25.1" y2="114.3" stroke="#333" stroke-width="0.5"/>
<text transform="translate(26.49 116.1) rotate(-90)" text-anchor="end" font-size="3.02" textLength="8.43" lengthAdjust="spacingAndGlyphs" fill="#222" stroke="#222" stroke-width="0.06">06-28</text>
<line x1="32.6" y1="113" x2="32.6" y2="114.3" stroke="#333" stroke-width="0.5"/>
<text transform="translate(33.99 116.1) rotate(-90)" text-anchor="end" font-size="3.02" textLength="8.43" lengthAdjust="spacingAndGlyphs" fill="#222" stroke="#222" stroke-width="0.06">06-28</text>
<line x1="40.1" y1="113" x2="40.1" y2="114.3" stroke="#333" stroke-width="0.5"/>
<text transform="translate(41.49 116.1) rotate(-90)" text-anchor="end" font-size="3.02" textLength="8.43" lengthAdjust="spacingAndGlyphs" fill="#222" stroke="#222" stroke-width="0.06">06-28</text>
<line x1="49.75" y1="113" x2="49.75" y2="114.3" stroke="#333" stroke-width="0.5"/>
<text transform="translate(51.14 116.1) rotate(-90)" text-anchor="end" font-size="3.02" textLength="8.43" lengthAdjust="spacingAndGlyphs" fill="#222" stroke="#222" stroke-width="0.06">06-28</text>
<line x1="58.9" y1="113" x2="58.9" y2="114.3" stroke="#333" stroke-width="0.5"/>
<text transform="translate(60.29 116.1) rotate(-90)" text-anchor="end" font-size="3.02" textLength="8.43" lengthAdjust="spacingAndGlyphs" fill="#222" stroke="#222" stroke-width="0.06">06-28</text>
<line x1="63.25" y1="113" x2="63.25" y2="114.3" stroke="#333" stroke-width="0.5"/>
<text transform="translate(64.64 116.1) rotate(-90)" text-anchor="end" font-size="3.02" textLength="8.43" lengthAdjust="spacingAndGlyphs" fill="#222" stroke="#222" stroke-width="0.06">06-28</text>
<line x1="72.8" y1="113" x2="72.8" y2="114.3" stroke="#333" stroke-width="0.5"/>
<text transform="translate(74.19 116.1) rotate(-90)" text-anchor="end" font-size="3.02" textLength="8.43" lengthAdjust="spacingAndGlyphs" fill="#222" stroke="#222" stroke-width="0.06">06-28</text>
<line x1="74.4" y1="113" x2="74.4" y2="114.3" stroke="#333" stroke-width="0.5"/>
<text transform="translate(75.79 116.1) rotate(-90)" text-anchor="end" font-size="3.02" textLength="8.43" lengthAdjust="spacingAndGlyphs" fill="#222" stroke="#222" stroke-width="0.06">06-28</text>
<line x1="78.75" y1="113" x2="78.75" y2="114.3" stroke="#333" stroke-width="0.5"/>
<text transform="translate(80.14 116.1) rotate(-90)" text-anchor="end" font-size="3.02" textLength="8.43" lengthAdjust="spacingAndGlyphs" fill="#222" stroke="#222" stroke-width="0.06">06-28</text>
<line x1="82.5" y1="113" x2="82.5" y2="114.3" stroke="#333" stroke-width="0.5"/>
<text transform="translate(83.89 116.1) rotate(-90)" text-anchor="end" font-size="3.02" textLength="8.43" lengthAdjust="spacingAndGlyphs" fill="#222" stroke="#222" stroke-width="0.06">06-28</text>
<line x1="84.5" y1="113" x2="84.5" y2="114.3" stroke="#333" stroke-width="0.5"/>
<text transform="translate(85.89 116.1) rotate(-90)" text-anchor="end" font-size="3.02" textLength="8.43" lengthAdjust="spacingAndGlyphs" fill="#222" stroke="#222" stroke-width="0.06">06-28</text>
<line x1="90.6" y1="113" x2="90.6" y2="114.3" stroke="#333" stroke-width="0.5"/>
<text transform="translate(91.99 116.1) rotate(-90)" text-anchor="end" font-size="3.02" textLength="8.43" lengthAdjust="spacingAndGlyphs" fill="#222" stroke="#222" stroke-width="0.06">06-28</text>
<line x1="96.8" y1="113" x2="96.8" y2="114.3" stroke="#333" stroke-width="0.5"/>
<text transform="translate(98.19 116.1) rotate(-90)" text-anchor="end" font-size="3.02" textLength="8.43" lengthAdjust="spacingAndGlyphs" fill="#222" stroke="#222" stroke-width="0.06">06-28</text>
<line x1="98.8" y1="113" x2="98.8" y2="114.3" stroke="#333" stroke-width="0.5"/>
<text transform="translate(100.19 116.1) rotate(-90)" text-anchor="end" font-size="3.02" textLength="8.43" lengthAdjust="spacingAndGlyphs" fill="#222" stroke="#222" stroke-width="0.06">06-28</text>
<line x1="100.8" y1="113" x2="100.8" y2="114.3" stroke="#333" stroke-width="0.5"/>
<text transform="translate(102.19 116.1) rotate(-90)" text-anchor="end" font-size="3.02" textLength="8.43" lengthAdjust="spacingAndGlyphs" fill="#222" stroke="#222" stroke-width="0.06">06-28</text>
<line x1="114.4" y1="113" x2="114.4" y2="114.3" stroke="#333" stroke-width="0.5"/>
<text transform="translate(115.79 116.1) rotate(-90)" text-anchor="end" font-size="3.02" textLength="8.43" lengthAdjust="spacingAndGlyphs" fill="#222" stroke="#222" stroke-width="0.06">06-28</text>
<line x1="120.6" y1="113" x2="120.6" y2="114.3" stroke="#333" stroke-width="0.5"/>
<text transform="translate(121.99 116.1) rotate(-90)" text-anchor="end" font-size="3.02" textLength="8.43" lengthAdjust="spacingAndGlyphs" fill="#222" stroke="#222" stroke-width="0.06">06-28</text>
<line x1="125.6" y1="113" x2="125.6" y2="114.3" stroke="#333" stroke-width="0.5"/>
<text transform="translate(126.99 116.1) rotate(-90)" text-anchor="end" font-size="3.02" textLength="8.43" lengthAdjust="spacingAndGlyphs" fill="#222" stroke="#222" stroke-width="0.06">06-28</text>
<line x1="131.8" y1="113" x2="131.8" y2="114.3" stroke="#333" stroke-width="0.5"/>
<text transform="translate(133.19 116.1) rotate(-90)" text-anchor="end" font-size="3.02" textLength="8.43" lengthAdjust="spacingAndGlyphs" fill="#222" stroke="#222" stroke-width="0.06">06-28</text>
<line x1="133.8" y1="113" x2="133.8" y2="114.3" stroke="#333" stroke-width="0.5"/>
<text transform="translate(135.19 116.1) rotate(-90)" text-anchor="end" font-size="3.02" textLength="8.43" lengthAdjust="spacingAndGlyphs" fill="#222" stroke="#222" stroke-width="0.06">06-28</text>
<line x1="137.5" y1="113" x2="137.5" y2="114.3" stroke="#333" stroke-width="0.5"/>
<text transform="translate(138.89 116.1) rotate(-90)" text-anchor="end" font-size="3.02" textLength="8.43" lengthAdjust="spacingAndGlyphs" fill="#222" stroke="#222" stroke-width="0.06">06-28</text>
<line x1="143.1" y1="113" x2="143.1" y2="114.3" stroke="#333" stroke-width="0.5"/>
<text transform="translate(144.49 116.1) rotate(-90)" text-anchor="end" font-size="3.02" textLength="8.43" lengthAdjust="spacingAndGlyphs" fill="#222" stroke="#222" stroke-width="0.06">06-28</text>
<line x1="153.75" y1="113" x2="153.75" y2="114.3" stroke="#333" stroke-width="0.5"/>
<text transform="translate(155.14 116.1) rotate(-90)" text-anchor="end" font-size="3.02" textLength="8.43" lengthAdjust="spacingAndGlyphs" fill="#222" stroke="#222" stroke-width="0.06">06-28</text>
<line x1="159.4" y1="113" x2="159.4" y2="114.3" stroke="#333" stroke-width="0.5"/>
<text transform="translate(160.79 116.1) rotate(-90)" text-anchor="end" font-size="3.02" textLength="8.43" lengthAdjust="spacingAndGlyphs" fill="#222" stroke="#222" stroke-width="0.06">06-28</text>
<line x1="176.2" y1="113" x2="176.2" y2="114.3" stroke="#333" stroke-width="0.5"/>
<text transform="translate(177.59 116.1) rotate(-90)" text-anchor="end" font-size="3.02" textLength="8.43" lengthAdjust="spacingAndGlyphs" fill="#222" stroke="#222" stroke-width="0.06">06-28</text>
<line x1="180.5" y1="113" x2="180.5" y2="114.3" stroke="#333" stroke-width="0.5"/>
<text transform="translate(181.89 116.1) rotate(-90)" text-anchor="end" font-size="3.02" textLength="13.04" lengthAdjust="spacingAndGlyphs" fill="#222" stroke="#222" stroke-width="0.06">06-28 17</text>
<line x1="184.3" y1="113" x2="184.3" y2="114.3" stroke="#333" stroke-width="0.5"/>
<text transform="translate(185.69 116.1) rotate(-90)" text-anchor="end" font-size="3.02" textLength="8.43" lengthAdjust="spacingAndGlyphs" fill="#222" stroke="#222" stroke-width="0.06">06-28</text>
<line x1="188.3" y1="113" x2="188.3" y2="114.3" stroke="#333" stroke-width="0.5"/>
<text transform="translate(189.69 116.1) rotate(-90)" text-anchor="end" font-size="3.02" textLength="13.04" lengthAdjust="spacingAndGlyphs" fill="#222" stroke="#222" stroke-width="0.06">06-28 17</text>
<text x="107" y="5.1" text-anchor="middle" font-size="3.92" textLength="43.27" lengthAdjust="spacingAndGlyphs" fill="#1a1a1a" stroke="#1a1a1a" stroke-width="0.05">ARPA_2021-6-28 17:30</text>
<text transform="translate(5.9 60) rotate(-90)" text-anchor="middle" font-size="3.17" textLength="17.63" lengthAdjust="spacingAndGlyphs" fill="#111" stroke="#111" stroke-width="0.14">btc_volume</text>
<text x="107" y="133.9" text-anchor="middle" font-size="3.17" textLength="13.77" lengthAdjust="spacingAndGlyphs" fill="#111" stroke="#111" stroke-width="0.14">datetime</text>
<rect x="150.5" y="8.3" width="45" height="10" rx="0.6" fill="#fff" fill-opacity="0.85" stroke="#ddd" stroke-width="0.3"/>
<line x1="152.4" y1="11.3" x2="159.9" y2="11.3" stroke="#5a5aa0" stroke-width="0.8" stroke-dasharray="1.6 0.9"/>
<line x1="152.4" y1="16.4" x2="159.9" y2="16.4" stroke="#ede4aa" stroke-width="1.4" stroke-dasharray="3.2 0.4"/>
<text x="162" y="12.42" font-size="3.24" textLength="26.13" lengthAdjust="spacingAndGlyphs" fill="#111" stroke="#111" stroke-width="0.14">2021-6-28 17:30</text>
<text x="162" y="17.52" font-size="3.24" textLength="31.3" lengthAdjust="spacingAndGlyphs" fill="#111" stroke="#111" stroke-width="0.14">anomalous volumes</text>
<clipPath id="c2"><rect x="218" y="7" width="178.7" height="106"/></clipPath>
<g clip-path="url(#c2)">
<rect x="226" y="48" width="24" height="24" fill="#edfcf8"/>
<rect x="340" y="40" width="18" height="32" fill="#edfcf8"/>
<rect x="366" y="48" width="16" height="20" fill="#edfcf8"/>
<line x1="225" y1="23.1" x2="392" y2="23.1" stroke="#ede4aa" stroke-width="1.4" stroke-dasharray="3.2 0.4"/>
<line x1="225" y1="97.3" x2="392" y2="97.3" stroke="#ede4aa" stroke-width="1.4" stroke-dasharray="3.2 0.4"/>
<path d="M226.5 60V28.6M229.5 60V27.4M232.5 60V83.4M233.5 60V53.6M235.5 60V81M236.5 60V41M238.5 60V69.4M240.5 60V73M241.5 60V74M242.5 60V48M243.5 60V70M245.5 60V65M249.5 60V56M250.5 60V94M256.5 60V66M268.5 60V69M271.5 60V53.6M278.5 60V53M282.5 60V52M286.5 60V35.6M286.5 60V75.6M293.5 60V68.6M306.5 60V47.6M310.5 60V69.6M312.5 60V27.6M312.5 60V75M316.5 60V82.6M320.5 60V48M322.5 60V67.6M324.5 60V33M325.5 60V51.6M330.5 60V45M330.5 60V74.6M331.5 60V41M334.5 60V53M334.5 60V92M347.5 60V46.6M349.5 60V43M354.5 60V41M352.5 60V73M376.5 60V39M381.5 60V92.6M384.5 60V47M385.5 60V74M387.5 60V52.4" stroke="#4f7458" stroke-width="0.75" fill="none"/>
<path d="M226.54 60V60.18M228.25 60V59.32M228.86 60V58.33M229.96 60V57.89M231.75 60V57.98M232.21 60V57.05M233.77 60V57.77M235.23 60V56.54M236.61 60V57.74M237.28 60V59.37M238.93 60V57.99M239.79 60V58.54M240.89 60V59.19M242.17 60V67.13M243.16 60V63.44M244.18 60V58.98M245.96 60V56.54M247.14 60V54M247.77 60V59.95M248.96 60V59.95M254.46 60V58.44M256.58 60V58.63M259.03 60V58.3M261.09 60V59.25M276.58 60V63.41M278.44 60V58.18M279.84 60V59.63M281.68 60V60.34M283.38 60V61.14M284.29 60V62.37M285.5 60V60.25M287.61 60V59.35M289.57 60V58.96M296.19 60V56.75M297.27 60V59.57M297.92 60V62.75M299.14 60V60.45M300.41 60V63M301.01 60V60.42M301.82 60V58.99M302.8 60V58.89M303.73 60V58.29M304.46 60V63.57M305.69 60V60.07M340.7 60V70.33M341.4 60V67.35M342 60V61.48M343.56 60V58.2M344.48 60V56.71M344.88 60V56.09M345.91 60V59.93M346.8 60V57.18M348.12 60V58.1M348.93 60V52M349.83 60V55.24M350.64 60V60.69M351.48 60V61.4M352.88 60V58.15M353.54 60V59.71M354.26 60V63.66M355.38 60V70.65M366.81 60V55.97M368.19 60V56.95M369.14 60V61.42M370.33 60V60.93M371.72 60V64.42M372.68 60V62.1M373.2 60V57.9M374.63 60V57.45M375.94 60V61.94M377.34 60V58.59M378.23 60V57.79M379.41 60V61.76M383.19 60V63.62M384.14 60V62.52M385.37 60V61.28M386.9 60V60.26M358.75 60V58.5M361.56 60V60M364.94 60V61.56" stroke="#3f7a4e" stroke-width="0.6" fill="none"/>
<path d="M264.5 60V11.6M264.5 60V78M335.5 60V27M338.5 60V108.6" stroke="#bc8064" stroke-width="0.75" fill="none"/>
<path d="M225.6 61.9 226 62.9 226.2 58.4 226.3 57 226.5 60.2 226.8 60.1 226.9 58 227.3 61 227.5 60.1 227.7 62.5 227.9 59.9 228.1 62.9 228.2 59.3 228.4 60.6 228.5 61.3 228.9 58.3 229 61.2 229.1 58.7 229.4 60 229.6 61.3 229.9 62.4 230 57.9 230.1 58.3 230.4 58.8 230.7 60.4 230.8 62.2 231.2 62.8 231.3 58.8 231.7 57.9 231.8 58 231.8 63 232.2 61.7 232.2 57.1 232.2 61.3 232.7 62.1 232.7 58.5 233 53.6 233.3 58.8 233.4 60.4 233.8 57.8 233.8 62.9 234 60.3 234.3 57.7 234.7 59.3 234.9 61.1 235.1 61.8 235.2 56.8 235.2 57.1 235.7 57 235.8 59.5 236.3 60 236.3 58.2 236.6 57.7 236.7 59.4 236.9 61.3 237.2 62.7 237.3 59.4 237.5 60.9 237.6 59.2 238.1 58.7 238.2 59.3 238.6 60.3 238.8 62.1 238.9 58 239 61.1 239.5 57.4 239.5 58.6 239.8 58.5 240.1 59.1 240.1 60.6 240.5 59.4 240.8 60.9 240.9 59.2 241.1 62.9 241.5 59.4 241.6 62.1 241.8 62.5 242 59.9 242.2 63.2 242.2 60.3 242.4 62.1 242.6 58.9 242.8 59.7 243 58 243.2 63.2 243.3 60.2 243.4 59.7 243.8 60 243.9 60.9 244.2 59 244.2 61.2 244.3 60 244.5 59.4 245 59.1 245.1 62.7 245.5 60.6 245.5 62.2 245.6 65 246 56.8 246 60.2 246.1 61.3 246.4 63.1 246.9 62.1 247 59.8 247.1 56.8 247.3 59.9 247.5 60.9 247.7 60.9 247.8 59.9 247.9 61.8 248.2 61.5 248.4 60.7 248.8 61.3 249 59.9 249 56.9 249.1 60.5 249.5 60.9 249.6 56 249.7 61.5 249.9 57.9 250.1 58.2 250.7 59.2 251.3 59.6 252.1 60.5 252.8 61.5 253.5 59.8 254 59.9 254 60.1 254.3 61.7 254.5 58.4 254.6 60.8 254.8 61.7 255.2 62.2 255.3 61.8 255.6 60.2 255.9 59 256 58 256.5 62 256.6 58.6 256.6 66 256.7 61.3 256.8 59.2 257 59.5 257.3 57.9 257.7 60 257.8 62.5 258.3 58.2 258.3 59.1 258.7 61.6 258.8 60.1 259 58.3 259.2 58.6 259.2 59.9 259.5 62.2 259.8 59 260 61.3 260.4 60 260.5 63 260.9 59.4 261.1 59.2 261.1 61.5 261.5 61.7 261.6 60 261.9 61 262.2 61.7 262.8 60.6 263.5 60.7 264.2 62.1 265 58.3 265.7 59.5 266.2 58.2 266.9 61.7 267.5 60 268 61.9 268.6 58.5 269.3 62.2 269.7 59.4 270.2 59.4 270.6 60.6 271 53.6 271.1 60.8 271.7 61.5 272.3 61.6 272.8 61.3 273.5 59.1 273.8 58.2 274.5 62.1 274.9 58.9 275.4 58.1 276 62.3 276.1 61.6 276.5 60.2 276.6 63.2 276.8 58.6 277 56.9 277.6 61.3 277.6 61.2 278 61.6 278.1 62.1 278.4 58.2 278.5 57.2 278.7 61.7 278.8 60 279.4 62.6 279.4 61.4 279.8 60.8 279.8 59.6 280 57.8 280.3 58.9 280.7 60 280.9 62.8 281.1 58.4 281.5 62.6 281.7 60.3 281.8 61.8 282 61 282.2 57.9 282.4 58.6 282.8 57.2 282.9 59.1 283.3 58.7 283.4 61.1 283.6 59.8 283.6 58.8 284 59.6 284.3 62.4 284.3 58 284.4 57.9 284.8 59.5 285 58.7 285.2 62 285.5 60.2 285.5 59.9 285.6 60.3 286 58.9 286.2 62.9 286.6 58 286.6 57.1 287 58.4 287.2 60.1 287.5 57.6 287.6 59.3 287.7 59.2 287.9 58.8 288.3 57.1 288.5 61.8 288.9 62 289 61.6 289.2 59.9 289.6 59 289.7 60 289.7 59.7 290.3 60.8 290.9 59 291.6 58.8 292.1 57.9 292.6 61.3 293 58.6 293.5 59.1 293.9 58 294.3 61.3 295 61.3 295.7 62.2 296 60.9 296.1 60.9 296.2 56.8 296.5 56.9 296.7 62 297.1 60.5 297.2 61 297.3 59.6 297.5 58.3 297.9 62.7 297.9 62 298 62.8 298.4 59.3 298.6 59.2 298.8 57.9 299.1 60.4 299.3 62.7 299.3 61.3 299.7 62.1 300.1 58.9 300.1 62.4 300.4 63 300.6 58.2 300.7 61 301 60.4 301.1 61.2 301.2 58.3 301.6 60.7 301.8 60.4 301.8 59 301.9 60.3 302.3 60.5 302.3 61.9 302.7 60.3 302.8 63.1 302.8 58.9 303.2 58.3 303.3 61.5 303.7 57.6 303.7 58.3 303.9 58.1 304.2 57.1 304.5 63.2 304.5 58.4 304.7 58.8 305.1 60.8 305.2 57.6 305.7 60.1 305.7 61.4 305.8 57.8 306.4 58.6 307 60 307.5 61.2 308 59.9 308.5 58.7 309.1 58.5 309.8 59.4 310.2 61.3 310.6 59.1 311.2 57.9 311.9 60.3 312.7 59.2 313.4 62.1 314 58.1 314.5 61.4 314.8 60.6 315.4 61.1 315.9 61.9 316.3 59.6 316.8 60.3 317.3 59.5 317.8 61.9 318.2 59 318.6 60.9 319.3 57.9 320 61.7 320.6 60.4 321.3 61.9 321.7 60.9 322.1 59.4 322.9 60.6 323.4 59.8 324 57.9 324.6 61.9 325 58 325.6 61.4 326.2 58.2 326.8 60.7 327.3 61.4 327.9 61.3 328.3 59.4 329 60.7 329.7 62 330.4 57.8 330.9 60.7 331.6 59.2 332 60.4 332.5 60.1 332.9 61.7 333.3 60.3 334 60.6 334.4 60.2 335.2 60.6 335.9 61.4 336.4 58.3 337.1 59.9 337.8 59.8 338.5 58.4 339.2 61.6 339.9 61.2 340 60.5 340.4 58 340.5 58.6 340.7 63.2 340.9 57.1 341 59 341.3 57.2 341.4 63.2 341.5 60.4 341.8 60.3 342 61.5 342 60.7 342.4 60.8 342.8 59.6 342.8 62.2 343.1 60.5 343.3 58.3 343.6 58.2 343.8 59.7 343.8 59.4 344.2 59 344.4 61.7 344.5 56.8 344.6 57.7 344.9 56.8 344.9 60.6 345.2 62.7 345.3 59.7 345.7 62.6 345.8 61.4 345.9 59.9 346.2 60.2 346.5 62.9 346.6 61.6 346.8 57.2 347.1 59.7 347.2 60.9 347.5 57.3 347.8 60.2 348 62.3 348.1 58.1 348.2 59 348.4 58.6 348.9 61.9 348.9 56.8 349 60.4 349.2 58.6 349.4 59.4 349.7 57.1 349.8 58.4 349.8 56.8 350.3 58.8 350.3 59.1 350.6 60.7 350.7 60 350.8 59.7 351.2 56.9 351.5 59.8 351.5 61.4 351.5 58.5 352 59.5 352 61.9 352.5 59.2 352.5 58.8 352.9 58.2 352.9 59.7 353 61.5 353.4 57.3 353.5 59.7 353.7 59.4 353.9 58.2 354.2 59.3 354.3 63.2 354.4 60 354.6 62.5 354.9 62.5 355 59.9 355.4 63.2 355.5 56.9 355.6 61.7 356.2 58.6 356.7 59.5 357.3 59.5 357.8 59.1 358 57.1 358.3 57.4 358.5 61.1 358.8 58.5 358.8 63 359.3 61.7 359.4 60.1 359.7 60.2 359.7 61.8 360 57.3 360.4 59.9 360.5 62.3 360.9 62.3 361 60.6 361.3 63 361.6 60 361.6 58.6 361.8 62.3 362 59 362.3 59.2 362.4 62 362.7 58.3 362.8 60.1 363.2 61.4 363.4 58.7 363.6 60.5 364 58 364 59.6 364.4 61.9 364.7 60.3 364.9 59.1 364.9 61.6 365.3 59.1 365.5 59.7 365.7 58.5 366 58.1 366 61.9 366.4 57.8 366.7 59.7 366.7 62.9 366.8 56.8 367.3 58.3 367.4 61 367.6 59.9 368.1 57.9 368.1 57.5 368.2 57 368.5 61.7 368.8 58.3 368.8 61.4 369.1 61.4 369.2 59.3 369.3 61.8 369.6 58.9 369.8 59.8 370.2 60 370.2 57.7 370.3 60.9 370.7 58.3 370.8 61.6 371.1 57.1 371.4 57.2 371.5 61.6 371.7 63.2 371.9 58.3 372 58.5 372.4 60 372.7 62.1 372.7 62.2 372.7 57.6 373.1 60.5 373.2 57.9 373.2 61.1 373.7 62.1 373.7 60 374 59.9 374.2 57 374.5 59.4 374.6 61.9 374.6 57.5 375 57.5 375.2 57.8 375.4 62.1 375.7 62.1 375.8 57.5 375.9 61.9 376.2 62.4 376.3 57.9 376.6 58.4 376.9 60.7 377.2 57.4 377.3 58.6 377.5 60.6 377.7 61.7 378.1 62.3 378.2 57.8 378.4 59 378.5 58.5 378.9 57.6 378.9 60.9 379.3 61.7 379.4 61.8 379.4 59.5 379.8 58.7 379.9 58.5 380.2 59.4 380.9 58.7 381.4 58.2 381.9 60.4 382 61.9 382.5 61.2 382.5 60.6 382.9 63.1 383.1 60.9 383.2 63.2 383.4 60.6 383.8 61.5 383.8 59.5 384.1 62.5 384.2 61.9 384.4 59.2 384.7 62.2 384.9 61.5 385.4 61.3 385.4 59.8 385.5 61.3 385.8 58.2 386 59.1 386.3 61 386.5 57.8 386.8 61.4 386.9 60.9 386.9 60.3 387.3 57 387.5 60.8 387.8 58.6 387.9 62 388.5 57.9 389.2 59.2 389.6 60.5" stroke="#2e8c48" stroke-width="1.0" fill="none" stroke-linejoin="round"/>
<line x1="225.6" y1="60" x2="390" y2="60" stroke="#30482c" stroke-width="1.3"/>
<path d="M224.8 61.9a0.75 0.75 0 1 0 1.5 0a0.75 0.75 0 1 0 -1.5 0M226 60.1a0.75 0.75 0 1 0 1.5 0a0.75 0.75 0 1 0 -1.5 0M227.1 59.9a0.75 0.75 0 1 0 1.5 0a0.75 0.75 0 1 0 -1.5 0M228.3 58.7a0.75 0.75 0 1 0 1.5 0a0.75 0.75 0 1 0 -1.5 0M229.4 58.3a0.75 0.75 0 1 0 1.5 0a0.75 0.75 0 1 0 -1.5 0M230.5 58.8a0.75 0.75 0 1 0 1.5 0a0.75 0.75 0 1 0 -1.5 0M231.4 61.7a0.75 0.75 0 1 0 1.5 0a0.75 0.75 0 1 0 -1.5 0M232.7 60.4a0.75 0.75 0 1 0 1.5 0a0.75 0.75 0 1 0 -1.5 0M234 59.3a0.75 0.75 0 1 0 1.5 0a0.75 0.75 0 1 0 -1.5 0M235 59.5a0.75 0.75 0 1 0 1.5 0a0.75 0.75 0 1 0 -1.5 0M236.1 61.3a0.75 0.75 0 1 0 1.5 0a0.75 0.75 0 1 0 -1.5 0M237.4 59.3a0.75 0.75 0 1 0 1.5 0a0.75 0.75 0 1 0 -1.5 0M238.7 58.6a0.75 0.75 0 1 0 1.5 0a0.75 0.75 0 1 0 -1.5 0M240.1 60.9a0.75 0.75 0 1 0 1.5 0a0.75 0.75 0 1 0 -1.5 0M241.3 59.9a0.75 0.75 0 1 0 1.5 0a0.75 0.75 0 1 0 -1.5 0M242 59.7a0.75 0.75 0 1 0 1.5 0a0.75 0.75 0 1 0 -1.5 0M243.1 60a0.75 0.75 0 1 0 1.5 0a0.75 0.75 0 1 0 -1.5 0M244.2 59.1a0.75 0.75 0 1 0 1.5 0a0.75 0.75 0 1 0 -1.5 0M245.4 61.3a0.75 0.75 0 1 0 1.5 0a0.75 0.75 0 1 0 -1.5 0M246.5 59.9a0.75 0.75 0 1 0 1.5 0a0.75 0.75 0 1 0 -1.5 0M247.5 61.5a0.75 0.75 0 1 0 1.5 0a0.75 0.75 0 1 0 -1.5 0M248.4 60.5a0.75 0.75 0 1 0 1.5 0a0.75 0.75 0 1 0 -1.5 0M249.3 58.2a0.75 0.75 0 1 0 1.5 0a0.75 0.75 0 1 0 -1.5 0M250.5 59.6a0.75 0.75 0 1 0 1.5 0a0.75 0.75 0 1 0 -1.5 0M252 61.5a0.75 0.75 0 1 0 1.5 0a0.75 0.75 0 1 0 -1.5 0M253.3 60.1a0.75 0.75 0 1 0 1.5 0a0.75 0.75 0 1 0 -1.5 0M254.6 61.8a0.75 0.75 0 1 0 1.5 0a0.75 0.75 0 1 0 -1.5 0M255.9 61.3a0.75 0.75 0 1 0 1.5 0a0.75 0.75 0 1 0 -1.5 0M256.9 60a0.75 0.75 0 1 0 1.5 0a0.75 0.75 0 1 0 -1.5 0M258 61.6a0.75 0.75 0 1 0 1.5 0a0.75 0.75 0 1 0 -1.5 0M259.1 59a0.75 0.75 0 1 0 1.5 0a0.75 0.75 0 1 0 -1.5 0M260.4 61.5a0.75 0.75 0 1 0 1.5 0a0.75 0.75 0 1 0 -1.5 0M261.5 61.7a0.75 0.75 0 1 0 1.5 0a0.75 0.75 0 1 0 -1.5 0M262.7 60.7a0.75 0.75 0 1 0 1.5 0a0.75 0.75 0 1 0 -1.5 0M264.3 58.3a0.75 0.75 0 1 0 1.5 0a0.75 0.75 0 1 0 -1.5 0M265.4 58.2a0.75 0.75 0 1 0 1.5 0a0.75 0.75 0 1 0 -1.5 0M266.8 60a0.75 0.75 0 1 0 1.5 0a0.75 0.75 0 1 0 -1.5 0M267.9 58.5a0.75 0.75 0 1 0 1.5 0a0.75 0.75 0 1 0 -1.5 0M269 59.4a0.75 0.75 0 1 0 1.5 0a0.75 0.75 0 1 0 -1.5 0M269.9 60.6a0.75 0.75 0 1 0 1.5 0a0.75 0.75 0 1 0 -1.5 0M270.9 61.5a0.75 0.75 0 1 0 1.5 0a0.75 0.75 0 1 0 -1.5 0M272 61.3a0.75 0.75 0 1 0 1.5 0a0.75 0.75 0 1 0 -1.5 0M273.1 58.2a0.75 0.75 0 1 0 1.5 0a0.75 0.75 0 1 0 -1.5 0M274.1 58.9a0.75 0.75 0 1 0 1.5 0a0.75 0.75 0 1 0 -1.5 0M275.3 61.6a0.75 0.75 0 1 0 1.5 0a0.75 0.75 0 1 0 -1.5 0M276.8 61.3a0.75 0.75 0 1 0 1.5 0a0.75 0.75 0 1 0 -1.5 0M278 61.7a0.75 0.75 0 1 0 1.5 0a0.75 0.75 0 1 0 -1.5 0M279.3 57.8a0.75 0.75 0 1 0 1.5 0a0.75 0.75 0 1 0 -1.5 0M280.3 58.4a0.75 0.75 0 1 0 1.5 0a0.75 0.75 0 1 0 -1.5 0M281.5 57.9a0.75 0.75 0 1 0 1.5 0a0.75 0.75 0 1 0 -1.5 0M282.9 59.8a0.75 0.75 0 1 0 1.5 0a0.75 0.75 0 1 0 -1.5 0M284.2 58.7a0.75 0.75 0 1 0 1.5 0a0.75 0.75 0 1 0 -1.5 0M285.3 58.9a0.75 0.75 0 1 0 1.5 0a0.75 0.75 0 1 0 -1.5 0M286.3 58.4a0.75 0.75 0 1 0 1.5 0a0.75 0.75 0 1 0 -1.5 0M287.8 61.8a0.75 0.75 0 1 0 1.5 0a0.75 0.75 0 1 0 -1.5 0M289 59.7a0.75 0.75 0 1 0 1.5 0a0.75 0.75 0 1 0 -1.5 0M290.1 59a0.75 0.75 0 1 0 1.5 0a0.75 0.75 0 1 0 -1.5 0M291.3 57.9a0.75 0.75 0 1 0 1.5 0a0.75 0.75 0 1 0 -1.5 0M292.2 58.6a0.75 0.75 0 1 0 1.5 0a0.75 0.75 0 1 0 -1.5 0M293.1 58a0.75 0.75 0 1 0 1.5 0a0.75 0.75 0 1 0 -1.5 0M294.3 61.3a0.75 0.75 0 1 0 1.5 0a0.75 0.75 0 1 0 -1.5 0M295.4 60.9a0.75 0.75 0 1 0 1.5 0a0.75 0.75 0 1 0 -1.5 0M296.5 61a0.75 0.75 0 1 0 1.5 0a0.75 0.75 0 1 0 -1.5 0M297.9 59.2a0.75 0.75 0 1 0 1.5 0a0.75 0.75 0 1 0 -1.5 0M299.3 58.9a0.75 0.75 0 1 0 1.5 0a0.75 0.75 0 1 0 -1.5 0M300.4 58.3a0.75 0.75 0 1 0 1.5 0a0.75 0.75 0 1 0 -1.5 0M301.5 60.5a0.75 0.75 0 1 0 1.5 0a0.75 0.75 0 1 0 -1.5 0M302.5 61.5a0.75 0.75 0 1 0 1.5 0a0.75 0.75 0 1 0 -1.5 0M303.8 58.4a0.75 0.75 0 1 0 1.5 0a0.75 0.75 0 1 0 -1.5 0M305 57.8a0.75 0.75 0 1 0 1.5 0a0.75 0.75 0 1 0 -1.5 0M306.2 60a0.75 0.75 0 1 0 1.5 0a0.75 0.75 0 1 0 -1.5 0M307.3 59.9a0.75 0.75 0 1 0 1.5 0a0.75 0.75 0 1 0 -1.5 0M308.4 58.5a0.75 0.75 0 1 0 1.5 0a0.75 0.75 0 1 0 -1.5 0M309.5 61.3a0.75 0.75 0 1 0 1.5 0a0.75 0.75 0 1 0 -1.5 0M310.5 57.9a0.75 0.75 0 1 0 1.5 0a0.75 0.75 0 1 0 -1.5 0M311.9 59.2a0.75 0.75 0 1 0 1.5 0a0.75 0.75 0 1 0 -1.5 0M313.2 58.1a0.75 0.75 0 1 0 1.5 0a0.75 0.75 0 1 0 -1.5 0M314.1 60.6a0.75 0.75 0 1 0 1.5 0a0.75 0.75 0 1 0 -1.5 0M315.2 61.9a0.75 0.75 0 1 0 1.5 0a0.75 0.75 0 1 0 -1.5 0M316.1 60.3a0.75 0.75 0 1 0 1.5 0a0.75 0.75 0 1 0 -1.5 0M317.1 61.9a0.75 0.75 0 1 0 1.5 0a0.75 0.75 0 1 0 -1.5 0M317.8 60.9a0.75 0.75 0 1 0 1.5 0a0.75 0.75 0 1 0 -1.5 0M319.2 61.7a0.75 0.75 0 1 0 1.5 0a0.75 0.75 0 1 0 -1.5 0M320.5 61.9a0.75 0.75 0 1 0 1.5 0a0.75 0.75 0 1 0 -1.5 0M321.3 59.4a0.75 0.75 0 1 0 1.5 0a0.75 0.75 0 1 0 -1.5 0M322.7 59.8a0.75 0.75 0 1 0 1.5 0a0.75 0.75 0 1 0 -1.5 0M323.9 61.9a0.75 0.75 0 1 0 1.5 0a0.75 0.75 0 1 0 -1.5 0M324.9 61.4a0.75 0.75 0 1 0 1.5 0a0.75 0.75 0 1 0 -1.5 0M326.1 60.7a0.75 0.75 0 1 0 1.5 0a0.75 0.75 0 1 0 -1.5 0M327.1 61.3a0.75 0.75 0 1 0 1.5 0a0.75 0.75 0 1 0 -1.5 0M328.2 60.7a0.75 0.75 0 1 0 1.5 0a0.75 0.75 0 1 0 -1.5 0M329.6 57.8a0.75 0.75 0 1 0 1.5 0a0.75 0.75 0 1 0 -1.5 0M330.9 59.2a0.75 0.75 0 1 0 1.5 0a0.75 0.75 0 1 0 -1.5 0M331.7 60.1a0.75 0.75 0 1 0 1.5 0a0.75 0.75 0 1 0 -1.5 0M332.5 60.3a0.75 0.75 0 1 0 1.5 0a0.75 0.75 0 1 0 -1.5 0M333.7 60.2a0.75 0.75 0 1 0 1.5 0a0.75 0.75 0 1 0 -1.5 0M335.2 61.4a0.75 0.75 0 1 0 1.5 0a0.75 0.75 0 1 0 -1.5 0M336.3 59.9a0.75 0.75 0 1 0 1.5 0a0.75 0.75 0 1 0 -1.5 0M337.7 58.4a0.75 0.75 0 1 0 1.5 0a0.75 0.75 0 1 0 -1.5 0M339.1 61.2a0.75 0.75 0 1 0 1.5 0a0.75 0.75 0 1 0 -1.5 0M340.3 59a0.75 0.75 0 1 0 1.5 0a0.75 0.75 0 1 0 -1.5 0M341.3 60.7a0.75 0.75 0 1 0 1.5 0a0.75 0.75 0 1 0 -1.5 0M342.4 60.5a0.75 0.75 0 1 0 1.5 0a0.75 0.75 0 1 0 -1.5 0M343.7 61.7a0.75 0.75 0 1 0 1.5 0a0.75 0.75 0 1 0 -1.5 0M344.6 59.7a0.75 0.75 0 1 0 1.5 0a0.75 0.75 0 1 0 -1.5 0M345.8 61.6a0.75 0.75 0 1 0 1.5 0a0.75 0.75 0 1 0 -1.5 0M347.1 60.2a0.75 0.75 0 1 0 1.5 0a0.75 0.75 0 1 0 -1.5 0M348.3 60.4a0.75 0.75 0 1 0 1.5 0a0.75 0.75 0 1 0 -1.5 0M349.1 58.4a0.75 0.75 0 1 0 1.5 0a0.75 0.75 0 1 0 -1.5 0M349.9 60a0.75 0.75 0 1 0 1.5 0a0.75 0.75 0 1 0 -1.5 0M351.2 59.5a0.75 0.75 0 1 0 1.5 0a0.75 0.75 0 1 0 -1.5 0M352.2 59.7a0.75 0.75 0 1 0 1.5 0a0.75 0.75 0 1 0 -1.5 0M353.7 60a0.75 0.75 0 1 0 1.5 0a0.75 0.75 0 1 0 -1.5 0M354.8 61.7a0.75 0.75 0 1 0 1.5 0a0.75 0.75 0 1 0 -1.5 0M355.9 59.5a0.75 0.75 0 1 0 1.5 0a0.75 0.75 0 1 0 -1.5 0M357 59.1a0.75 0.75 0 1 0 1.5 0a0.75 0.75 0 1 0 -1.5 0M358.5 61.7a0.75 0.75 0 1 0 1.5 0a0.75 0.75 0 1 0 -1.5 0M359.6 59.9a0.75 0.75 0 1 0 1.5 0a0.75 0.75 0 1 0 -1.5 0M360.8 58.6a0.75 0.75 0 1 0 1.5 0a0.75 0.75 0 1 0 -1.5 0M361.6 59.2a0.75 0.75 0 1 0 1.5 0a0.75 0.75 0 1 0 -1.5 0M362.6 58.7a0.75 0.75 0 1 0 1.5 0a0.75 0.75 0 1 0 -1.5 0M364 60.3a0.75 0.75 0 1 0 1.5 0a0.75 0.75 0 1 0 -1.5 0M365.3 61.9a0.75 0.75 0 1 0 1.5 0a0.75 0.75 0 1 0 -1.5 0M366.7 61a0.75 0.75 0 1 0 1.5 0a0.75 0.75 0 1 0 -1.5 0M368.1 58.3a0.75 0.75 0 1 0 1.5 0a0.75 0.75 0 1 0 -1.5 0M368.9 58.9a0.75 0.75 0 1 0 1.5 0a0.75 0.75 0 1 0 -1.5 0M370.1 61.6a0.75 0.75 0 1 0 1.5 0a0.75 0.75 0 1 0 -1.5 0M371.3 58.5a0.75 0.75 0 1 0 1.5 0a0.75 0.75 0 1 0 -1.5 0M372.4 60.5a0.75 0.75 0 1 0 1.5 0a0.75 0.75 0 1 0 -1.5 0M373.3 59.9a0.75 0.75 0 1 0 1.5 0a0.75 0.75 0 1 0 -1.5 0M374.5 57.8a0.75 0.75 0 1 0 1.5 0a0.75 0.75 0 1 0 -1.5 0M375.5 57.9a0.75 0.75 0 1 0 1.5 0a0.75 0.75 0 1 0 -1.5 0M376.9 61.7a0.75 0.75 0 1 0 1.5 0a0.75 0.75 0 1 0 -1.5 0M378.2 60.9a0.75 0.75 0 1 0 1.5 0a0.75 0.75 0 1 0 -1.5 0M379 58.7a0.75 0.75 0 1 0 1.5 0a0.75 0.75 0 1 0 -1.5 0M380.1 58.7a0.75 0.75 0 1 0 1.5 0a0.75 0.75 0 1 0 -1.5 0M381.1 60.4a0.75 0.75 0 1 0 1.5 0a0.75 0.75 0 1 0 -1.5 0M382.3 60.9a0.75 0.75 0 1 0 1.5 0a0.75 0.75 0 1 0 -1.5 0M383.4 61.9a0.75 0.75 0 1 0 1.5 0a0.75 0.75 0 1 0 -1.5 0M384.7 59.8a0.75 0.75 0 1 0 1.5 0a0.75 0.75 0 1 0 -1.5 0M385.7 57.8a0.75 0.75 0 1 0 1.5 0a0.75 0.75 0 1 0 -1.5 0M386.7 60.8a0.75 0.75 0 1 0 1.5 0a0.75 0.75 0 1 0 -1.5 0M387.8 57.9a0.75 0.75 0 1 0 1.5 0a0.75 0.75 0 1 0 -1.5 0M388.9 60.5a0.75 0.75 0 1 0 1.5 0a0.75 0.75 0 1 0 -1.5 0" fill="#24602f"/>
<path d="M225.7 60.2a0.8 0.8 0 1 0 1.6 0a0.8 0.8 0 1 0 -1.6 0M227.4 59.3a0.8 0.8 0 1 0 1.6 0a0.8 0.8 0 1 0 -1.6 0M228.1 58.3a0.8 0.8 0 1 0 1.6 0a0.8 0.8 0 1 0 -1.6 0M229.2 57.9a0.8 0.8 0 1 0 1.6 0a0.8 0.8 0 1 0 -1.6 0M231 58a0.8 0.8 0 1 0 1.6 0a0.8 0.8 0 1 0 -1.6 0M231.4 57.1a0.8 0.8 0 1 0 1.6 0a0.8 0.8 0 1 0 -1.6 0M233 57.8a0.8 0.8 0 1 0 1.6 0a0.8 0.8 0 1 0 -1.6 0M234.4 56.5a0.8 0.8 0 1 0 1.6 0a0.8 0.8 0 1 0 -1.6 0M235.8 57.7a0.8 0.8 0 1 0 1.6 0a0.8 0.8 0 1 0 -1.6 0M236.5 59.4a0.8 0.8 0 1 0 1.6 0a0.8 0.8 0 1 0 -1.6 0M238.1 58a0.8 0.8 0 1 0 1.6 0a0.8 0.8 0 1 0 -1.6 0M239 58.5a0.8 0.8 0 1 0 1.6 0a0.8 0.8 0 1 0 -1.6 0M240.1 59.2a0.8 0.8 0 1 0 1.6 0a0.8 0.8 0 1 0 -1.6 0M241.4 67.1a0.8 0.8 0 1 0 1.6 0a0.8 0.8 0 1 0 -1.6 0M242.4 63.4a0.8 0.8 0 1 0 1.6 0a0.8 0.8 0 1 0 -1.6 0M243.4 59a0.8 0.8 0 1 0 1.6 0a0.8 0.8 0 1 0 -1.6 0M245.2 56.5a0.8 0.8 0 1 0 1.6 0a0.8 0.8 0 1 0 -1.6 0M246.3 54a0.8 0.8 0 1 0 1.6 0a0.8 0.8 0 1 0 -1.6 0M247 59.9a0.8 0.8 0 1 0 1.6 0a0.8 0.8 0 1 0 -1.6 0M248.2 59.9a0.8 0.8 0 1 0 1.6 0a0.8 0.8 0 1 0 -1.6 0M253.7 58.4a0.8 0.8 0 1 0 1.6 0a0.8 0.8 0 1 0 -1.6 0M255.8 58.6a0.8 0.8 0 1 0 1.6 0a0.8 0.8 0 1 0 -1.6 0M258.2 58.3a0.8 0.8 0 1 0 1.6 0a0.8 0.8 0 1 0 -1.6 0M260.3 59.2a0.8 0.8 0 1 0 1.6 0a0.8 0.8 0 1 0 -1.6 0M275.8 63.4a0.8 0.8 0 1 0 1.6 0a0.8 0.8 0 1 0 -1.6 0M277.6 58.2a0.8 0.8 0 1 0 1.6 0a0.8 0.8 0 1 0 -1.6 0M279 59.6a0.8 0.8 0 1 0 1.6 0a0.8 0.8 0 1 0 -1.6 0M280.9 60.3a0.8 0.8 0 1 0 1.6 0a0.8 0.8 0 1 0 -1.6 0M282.6 61.1a0.8 0.8 0 1 0 1.6 0a0.8 0.8 0 1 0 -1.6 0M283.5 62.4a0.8 0.8 0 1 0 1.6 0a0.8 0.8 0 1 0 -1.6 0M284.7 60.2a0.8 0.8 0 1 0 1.6 0a0.8 0.8 0 1 0 -1.6 0M286.8 59.3a0.8 0.8 0 1 0 1.6 0a0.8 0.8 0 1 0 -1.6 0M288.8 59a0.8 0.8 0 1 0 1.6 0a0.8 0.8 0 1 0 -1.6 0M295.4 56.7a0.8 0.8 0 1 0 1.6 0a0.8 0.8 0 1 0 -1.6 0M296.5 59.6a0.8 0.8 0 1 0 1.6 0a0.8 0.8 0 1 0 -1.6 0M297.1 62.7a0.8 0.8 0 1 0 1.6 0a0.8 0.8 0 1 0 -1.6 0M298.3 60.4a0.8 0.8 0 1 0 1.6 0a0.8 0.8 0 1 0 -1.6 0M299.6 63a0.8 0.8 0 1 0 1.6 0a0.8 0.8 0 1 0 -1.6 0M300.2 60.4a0.8 0.8 0 1 0 1.6 0a0.8 0.8 0 1 0 -1.6 0M301 59a0.8 0.8 0 1 0 1.6 0a0.8 0.8 0 1 0 -1.6 0M302 58.9a0.8 0.8 0 1 0 1.6 0a0.8 0.8 0 1 0 -1.6 0M302.9 58.3a0.8 0.8 0 1 0 1.6 0a0.8 0.8 0 1 0 -1.6 0M303.7 63.6a0.8 0.8 0 1 0 1.6 0a0.8 0.8 0 1 0 -1.6 0M304.9 60.1a0.8 0.8 0 1 0 1.6 0a0.8 0.8 0 1 0 -1.6 0M339.9 70.3a0.8 0.8 0 1 0 1.6 0a0.8 0.8 0 1 0 -1.6 0M340.6 67.3a0.8 0.8 0 1 0 1.6 0a0.8 0.8 0 1 0 -1.6 0M341.2 61.5a0.8 0.8 0 1 0 1.6 0a0.8 0.8 0 1 0 -1.6 0M342.8 58.2a0.8 0.8 0 1 0 1.6 0a0.8 0.8 0 1 0 -1.6 0M343.7 56.7a0.8 0.8 0 1 0 1.6 0a0.8 0.8 0 1 0 -1.6 0M344.1 56.1a0.8 0.8 0 1 0 1.6 0a0.8 0.8 0 1 0 -1.6 0M345.1 59.9a0.8 0.8 0 1 0 1.6 0a0.8 0.8 0 1 0 -1.6 0M346 57.2a0.8 0.8 0 1 0 1.6 0a0.8 0.8 0 1 0 -1.6 0M347.3 58.1a0.8 0.8 0 1 0 1.6 0a0.8 0.8 0 1 0 -1.6 0M348.1 52a0.8 0.8 0 1 0 1.6 0a0.8 0.8 0 1 0 -1.6 0M349 55.2a0.8 0.8 0 1 0 1.6 0a0.8 0.8 0 1 0 -1.6 0M349.8 60.7a0.8 0.8 0 1 0 1.6 0a0.8 0.8 0 1 0 -1.6 0M350.7 61.4a0.8 0.8 0 1 0 1.6 0a0.8 0.8 0 1 0 -1.6 0M352.1 58.2a0.8 0.8 0 1 0 1.6 0a0.8 0.8 0 1 0 -1.6 0M352.7 59.7a0.8 0.8 0 1 0 1.6 0a0.8 0.8 0 1 0 -1.6 0M353.5 63.7a0.8 0.8 0 1 0 1.6 0a0.8 0.8 0 1 0 -1.6 0M354.6 70.7a0.8 0.8 0 1 0 1.6 0a0.8 0.8 0 1 0 -1.6 0M366 56a0.8 0.8 0 1 0 1.6 0a0.8 0.8 0 1 0 -1.6 0M367.4 57a0.8 0.8 0 1 0 1.6 0a0.8 0.8 0 1 0 -1.6 0M368.3 61.4a0.8 0.8 0 1 0 1.6 0a0.8 0.8 0 1 0 -1.6 0M369.5 60.9a0.8 0.8 0 1 0 1.6 0a0.8 0.8 0 1 0 -1.6 0M370.9 64.4a0.8 0.8 0 1 0 1.6 0a0.8 0.8 0 1 0 -1.6 0M371.9 62.1a0.8 0.8 0 1 0 1.6 0a0.8 0.8 0 1 0 -1.6 0M372.4 57.9a0.8 0.8 0 1 0 1.6 0a0.8 0.8 0 1 0 -1.6 0M373.8 57.5a0.8 0.8 0 1 0 1.6 0a0.8 0.8 0 1 0 -1.6 0M375.1 61.9a0.8 0.8 0 1 0 1.6 0a0.8 0.8 0 1 0 -1.6 0M376.5 58.6a0.8 0.8 0 1 0 1.6 0a0.8 0.8 0 1 0 -1.6 0M377.4 57.8a0.8 0.8 0 1 0 1.6 0a0.8 0.8 0 1 0 -1.6 0M378.6 61.8a0.8 0.8 0 1 0 1.6 0a0.8 0.8 0 1 0 -1.6 0M382.4 63.6a0.8 0.8 0 1 0 1.6 0a0.8 0.8 0 1 0 -1.6 0M383.3 62.5a0.8 0.8 0 1 0 1.6 0a0.8 0.8 0 1 0 -1.6 0M384.6 61.3a0.8 0.8 0 1 0 1.6 0a0.8 0.8 0 1 0 -1.6 0M386.1 60.3a0.8 0.8 0 1 0 1.6 0a0.8 0.8 0 1 0 -1.6 0M358 58.5a0.8 0.8 0 1 0 1.6 0a0.8 0.8 0 1 0 -1.6 0M360.8 60a0.8 0.8 0 1 0 1.6 0a0.8 0.8 0 1 0 -1.6 0M364.1 61.6a0.8 0.8 0 1 0 1.6 0a0.8 0.8 0 1 0 -1.6 0" fill="#33904c" stroke="#1a3320" stroke-width="0.3"/>
<path d="M225.6 28.6a0.9 0.9 0 1 0 1.8 0a0.9 0.9 0 1 0 -1.8 0M228.6 27.4a0.9 0.9 0 1 0 1.8 0a0.9 0.9 0 1 0 -1.8 0M231.6 83.4a0.9 0.9 0 1 0 1.8 0a0.9 0.9 0 1 0 -1.8 0M232.6 53.6a0.9 0.9 0 1 0 1.8 0a0.9 0.9 0 1 0 -1.8 0M234.6 81a0.9 0.9 0 1 0 1.8 0a0.9 0.9 0 1 0 -1.8 0M235.6 41a0.9 0.9 0 1 0 1.8 0a0.9 0.9 0 1 0 -1.8 0M237.6 69.4a0.9 0.9 0 1 0 1.8 0a0.9 0.9 0 1 0 -1.8 0M239.6 73a0.9 0.9 0 1 0 1.8 0a0.9 0.9 0 1 0 -1.8 0M240.6 74a0.9 0.9 0 1 0 1.8 0a0.9 0.9 0 1 0 -1.8 0M241.6 48a0.9 0.9 0 1 0 1.8 0a0.9 0.9 0 1 0 -1.8 0M242.6 70a0.9 0.9 0 1 0 1.8 0a0.9 0.9 0 1 0 -1.8 0M244.6 65a0.9 0.9 0 1 0 1.8 0a0.9 0.9 0 1 0 -1.8 0M248.6 56a0.9 0.9 0 1 0 1.8 0a0.9 0.9 0 1 0 -1.8 0M249.6 94a0.9 0.9 0 1 0 1.8 0a0.9 0.9 0 1 0 -1.8 0M255.6 66a0.9 0.9 0 1 0 1.8 0a0.9 0.9 0 1 0 -1.8 0M267.6 69a0.9 0.9 0 1 0 1.8 0a0.9 0.9 0 1 0 -1.8 0M270.6 53.6a0.9 0.9 0 1 0 1.8 0a0.9 0.9 0 1 0 -1.8 0M277.6 53a0.9 0.9 0 1 0 1.8 0a0.9 0.9 0 1 0 -1.8 0M281.6 52a0.9 0.9 0 1 0 1.8 0a0.9 0.9 0 1 0 -1.8 0M285.6 35.6a0.9 0.9 0 1 0 1.8 0a0.9 0.9 0 1 0 -1.8 0M285.6 75.6a0.9 0.9 0 1 0 1.8 0a0.9 0.9 0 1 0 -1.8 0M292.6 68.6a0.9 0.9 0 1 0 1.8 0a0.9 0.9 0 1 0 -1.8 0M305.6 47.6a0.9 0.9 0 1 0 1.8 0a0.9 0.9 0 1 0 -1.8 0M309.6 69.6a0.9 0.9 0 1 0 1.8 0a0.9 0.9 0 1 0 -1.8 0M311.6 27.6a0.9 0.9 0 1 0 1.8 0a0.9 0.9 0 1 0 -1.8 0M311.6 75a0.9 0.9 0 1 0 1.8 0a0.9 0.9 0 1 0 -1.8 0M315.6 82.6a0.9 0.9 0 1 0 1.8 0a0.9 0.9 0 1 0 -1.8 0M319.6 48a0.9 0.9 0 1 0 1.8 0a0.9 0.9 0 1 0 -1.8 0M321.6 67.6a0.9 0.9 0 1 0 1.8 0a0.9 0.9 0 1 0 -1.8 0M323.6 33a0.9 0.9 0 1 0 1.8 0a0.9 0.9 0 1 0 -1.8 0M324.6 51.6a0.9 0.9 0 1 0 1.8 0a0.9 0.9 0 1 0 -1.8 0M329.6 45a0.9 0.9 0 1 0 1.8 0a0.9 0.9 0 1 0 -1.8 0M329.6 74.6a0.9 0.9 0 1 0 1.8 0a0.9 0.9 0 1 0 -1.8 0M330.6 41a0.9 0.9 0 1 0 1.8 0a0.9 0.9 0 1 0 -1.8 0M333.6 53a0.9 0.9 0 1 0 1.8 0a0.9 0.9 0 1 0 -1.8 0M333.6 92a0.9 0.9 0 1 0 1.8 0a0.9 0.9 0 1 0 -1.8 0M346.6 46.6a0.9 0.9 0 1 0 1.8 0a0.9 0.9 0 1 0 -1.8 0M348.6 43a0.9 0.9 0 1 0 1.8 0a0.9 0.9 0 1 0 -1.8 0M353.6 41a0.9 0.9 0 1 0 1.8 0a0.9 0.9 0 1 0 -1.8 0M351.6 73a0.9 0.9 0 1 0 1.8 0a0.9 0.9 0 1 0 -1.8 0M375.6 39a0.9 0.9 0 1 0 1.8 0a0.9 0.9 0 1 0 -1.8 0M380.6 92.6a0.9 0.9 0 1 0 1.8 0a0.9 0.9 0 1 0 -1.8 0M383.6 47a0.9 0.9 0 1 0 1.8 0a0.9 0.9 0 1 0 -1.8 0M384.6 74a0.9 0.9 0 1 0 1.8 0a0.9 0.9 0 1 0 -1.8 0M386.6 52.4a0.9 0.9 0 1 0 1.8 0a0.9 0.9 0 1 0 -1.8 0" fill="#275a32" stroke="#1a3320" stroke-width="0.4"/>
<path d="M263.6 11.6a0.9 0.9 0 1 0 1.8 0a0.9 0.9 0 1 0 -1.8 0M263.6 78a0.9 0.9 0 1 0 1.8 0a0.9 0.9 0 1 0 -1.8 0M334.6 27a0.9 0.9 0 1 0 1.8 0a0.9 0.9 0 1 0 -1.8 0M337.6 108.6a0.9 0.9 0 1 0 1.8 0a0.9 0.9 0 1 0 -1.8 0" fill="#6a3a28" stroke="#3a1a10" stroke-width="0.3"/>
<line x1="381" y1="22" x2="381" y2="109" stroke="#cfcfe8" stroke-width="1.1"/>
<line x1="381" y1="22" x2="381" y2="109" stroke="#8080b8" stroke-width="0.7" stroke-dasharray="1.3 1.1"/>
<line x1="388" y1="22" x2="388" y2="109" stroke="#cfcfe8" stroke-width="1.1"/>
<line x1="388" y1="22" x2="388" y2="109" stroke="#8080b8" stroke-width="0.7" stroke-dasharray="1.3 1.1"/>
</g>
<rect x="218.5" y="7.5" width="178" height="106" fill="none" stroke="#989898" stroke-width="1.0"/>
<line x1="216.7" y1="19.5" x2="218" y2="19.5" stroke="#333" stroke-width="0.5"/>
<text x="216.1" y="20.54" text-anchor="end" font-size="3.02" textLength="4.61" lengthAdjust="spacingAndGlyphs" fill="#111" stroke="#111" stroke-width="0.14">0.6</text>
<line x1="216.7" y1="32.95" x2="218" y2="32.95" stroke="#333" stroke-width="0.5"/>
<text x="216.1" y="33.99" text-anchor="end" font-size="3.02" textLength="4.61" lengthAdjust="spacingAndGlyphs" fill="#111" stroke="#111" stroke-width="0.14">0.4</text>
<line x1="216.7" y1="46.4" x2="218" y2="46.4" stroke="#333" stroke-width="0.5"/>
<text x="216.1" y="47.44" text-anchor="end" font-size="3.02" textLength="4.61" lengthAdjust="spacingAndGlyphs" fill="#111" stroke="#111" stroke-width="0.14">0.2</text>
<line x1="216.7" y1="59.85" x2="218" y2="59.85" stroke="#333" stroke-width="0.5"/>
<text x="216.1" y="60.89" text-anchor="end" font-size="3.02" textLength="4.61" lengthAdjust="spacingAndGlyphs" fill="#111" stroke="#111" stroke-width="0.14">0.0</text>
<line x1="216.7" y1="73.3" x2="218" y2="73.3" stroke="#333" stroke-width="0.5"/>
<text x="216.1" y="74.34" text-anchor="end" font-size="3.02" textLength="7.04" lengthAdjust="spacingAndGlyphs" fill="#111" stroke="#111" stroke-width="0.14">−0.2</text>
<line x1="216.7" y1="86.75" x2="218" y2="86.75" stroke="#333" stroke-width="0.5"/>
<text x="216.1" y="87.79" text-anchor="end" font-size="3.02" textLength="7.04" lengthAdjust="spacingAndGlyphs" fill="#111" stroke="#111" stroke-width="0.14">−0.4</text>
<line x1="216.7" y1="100.2" x2="218" y2="100.2" stroke="#333" stroke-width="0.5"/>
<text x="216.1" y="101.24" text-anchor="end" font-size="3.02" textLength="7.04" lengthAdjust="spacingAndGlyphs" fill="#111" stroke="#111" stroke-width="0.14">−0.6</text>
<line x1="225.75" y1="113" x2="225.75" y2="114.3" stroke="#333" stroke-width="0.5"/>
<text transform="translate(227.14 116.1) rotate(-90)" text-anchor="end" font-size="3.02" textLength="8.43" lengthAdjust="spacingAndGlyphs" fill="#222" stroke="#222" stroke-width="0.06">07-07</text>
<line x1="231.75" y1="113" x2="231.75" y2="114.3" stroke="#333" stroke-width="0.5"/>
<text transform="translate(233.14 116.1) rotate(-90)" text-anchor="end" font-size="3.02" textLength="8.43" lengthAdjust="spacingAndGlyphs" fill="#222" stroke="#222" stroke-width="0.06">07-07</text>
<line x1="239.25" y1="113" x2="239.25" y2="114.3" stroke="#333" stroke-width="0.5"/>
<text transform="translate(240.64 116.1) rotate(-90)" text-anchor="end" font-size="3.02" textLength="8.43" lengthAdjust="spacingAndGlyphs" fill="#222" stroke="#222" stroke-width="0.06">07-07</text>
<line x1="243.5" y1="113" x2="243.5" y2="114.3" stroke="#333" stroke-width="0.5"/>
<text transform="translate(244.89 116.1) rotate(-90)" text-anchor="end" font-size="3.02" textLength="8.43" lengthAdjust="spacingAndGlyphs" fill="#222" stroke="#222" stroke-width="0.06">07-07</text>
<line x1="247" y1="113" x2="247" y2="114.3" stroke="#333" stroke-width="0.5"/>
<text transform="translate(248.39 116.1) rotate(-90)" text-anchor="end" font-size="3.02" textLength="8.43" lengthAdjust="spacingAndGlyphs" fill="#222" stroke="#222" stroke-width="0.06">07-07</text>
<line x1="249" y1="113" x2="249" y2="114.3" stroke="#333" stroke-width="0.5"/>
<text transform="translate(250.39 116.1) rotate(-90)" text-anchor="end" font-size="3.02" textLength="8.43" lengthAdjust="spacingAndGlyphs" fill="#222" stroke="#222" stroke-width="0.06">07-07</text>
<line x1="251.4" y1="113" x2="251.4" y2="114.3" stroke="#333" stroke-width="0.5"/>
<text transform="translate(252.79 116.1) rotate(-90)" text-anchor="end" font-size="3.02" textLength="8.43" lengthAdjust="spacingAndGlyphs" fill="#222" stroke="#222" stroke-width="0.06">07-07</text>
<line x1="254.5" y1="113" x2="254.5" y2="114.3" stroke="#333" stroke-width="0.5"/>
<text transform="translate(255.89 116.1) rotate(-90)" text-anchor="end" font-size="3.02" textLength="8.43" lengthAdjust="spacingAndGlyphs" fill="#222" stroke="#222" stroke-width="0.06">07-07</text>
<line x1="259.5" y1="113" x2="259.5" y2="114.3" stroke="#333" stroke-width="0.5"/>
<text transform="translate(260.89 116.1) rotate(-90)" text-anchor="end" font-size="3.02" textLength="8.43" lengthAdjust="spacingAndGlyphs" fill="#222" stroke="#222" stroke-width="0.06">07-07</text>
<line x1="262" y1="113" x2="262" y2="114.3" stroke="#333" stroke-width="0.5"/>
<text transform="translate(263.39 116.1) rotate(-90)" text-anchor="end" font-size="3.02" textLength="8.43" lengthAdjust="spacingAndGlyphs" fill="#222" stroke="#222" stroke-width="0.06">07-07</text>
<line x1="264.2" y1="113" x2="264.2" y2="114.3" stroke="#333" stroke-width="0.5"/>
<text transform="translate(265.59 116.1) rotate(-90)" text-anchor="end" font-size="3.02" textLength="8.43" lengthAdjust="spacingAndGlyphs" fill="#222" stroke="#222" stroke-width="0.06">07-07</text>
<line x1="268" y1="113" x2="268" y2="114.3" stroke="#333" stroke-width="0.5"/>
<text transform="translate(269.39 116.1) rotate(-90)" text-anchor="end" font-size="3.02" textLength="8.43" lengthAdjust="spacingAndGlyphs" fill="#222" stroke="#222" stroke-width="0.06">07-07</text>
<line x1="270.5" y1="113" x2="270.5" y2="114.3" stroke="#333" stroke-width="0.5"/>
<text transform="translate(271.89 116.1) rotate(-90)" text-anchor="end" font-size="3.02" textLength="8.43" lengthAdjust="spacingAndGlyphs" fill="#222" stroke="#222" stroke-width="0.06">07-07</text>
<line x1="283.1" y1="113" x2="283.1" y2="114.3" stroke="#333" stroke-width="0.5"/>
<text transform="translate(284.49 116.1) rotate(-90)" text-anchor="end" font-size="3.02" textLength="8.43" lengthAdjust="spacingAndGlyphs" fill="#222" stroke="#222" stroke-width="0.06">07-07</text>
<line x1="291.5" y1="113" x2="291.5" y2="114.3" stroke="#333" stroke-width="0.5"/>
<text transform="translate(292.89 116.1) rotate(-90)" text-anchor="end" font-size="3.02" textLength="8.43" lengthAdjust="spacingAndGlyphs" fill="#222" stroke="#222" stroke-width="0.06">07-07</text>
<line x1="296.9" y1="113" x2="296.9" y2="114.3" stroke="#333" stroke-width="0.5"/>
<text transform="translate(298.29 116.1) rotate(-90)" text-anchor="end" font-size="3.02" textLength="8.43" lengthAdjust="spacingAndGlyphs" fill="#222" stroke="#222" stroke-width="0.06">07-07</text>
<line x1="306.9" y1="113" x2="306.9" y2="114.3" stroke="#333" stroke-width="0.5"/>
<text transform="translate(308.29 116.1) rotate(-90)" text-anchor="end" font-size="3.02" textLength="8.43" lengthAdjust="spacingAndGlyphs" fill="#222" stroke="#222" stroke-width="0.06">07-07</text>
<line x1="316" y1="113" x2="316" y2="114.3" stroke="#333" stroke-width="0.5"/>
<text transform="translate(317.39 116.1) rotate(-90)" text-anchor="end" font-size="3.02" textLength="8.43" lengthAdjust="spacingAndGlyphs" fill="#222" stroke="#222" stroke-width="0.06">07-07</text>
<line x1="321" y1="113" x2="321" y2="114.3" stroke="#333" stroke-width="0.5"/>
<text transform="translate(322.39 116.1) rotate(-90)" text-anchor="end" font-size="3.02" textLength="8.43" lengthAdjust="spacingAndGlyphs" fill="#222" stroke="#222" stroke-width="0.06">07-07</text>
<line x1="335.6" y1="113" x2="335.6" y2="114.3" stroke="#333" stroke-width="0.5"/>
<text transform="translate(336.99 116.1) rotate(-90)" text-anchor="end" font-size="3.02" textLength="8.43" lengthAdjust="spacingAndGlyphs" fill="#222" stroke="#222" stroke-width="0.06">07-07</text>
<line x1="346.6" y1="113" x2="346.6" y2="114.3" stroke="#333" stroke-width="0.5"/>
<text transform="translate(347.99 116.1) rotate(-90)" text-anchor="end" font-size="3.02" textLength="8.43" lengthAdjust="spacingAndGlyphs" fill="#222" stroke="#222" stroke-width="0.06">07-07</text>
<line x1="357" y1="113" x2="357" y2="114.3" stroke="#333" stroke-width="0.5"/>
<text transform="translate(358.39 116.1) rotate(-90)" text-anchor="end" font-size="3.02" textLength="8.43" lengthAdjust="spacingAndGlyphs" fill="#222" stroke="#222" stroke-width="0.06">07-07</text>
<line x1="360.6" y1="113" x2="360.6" y2="114.3" stroke="#333" stroke-width="0.5"/>
<text transform="translate(361.99 116.1) rotate(-90)" text-anchor="end" font-size="3.02" textLength="8.43" lengthAdjust="spacingAndGlyphs" fill="#222" stroke="#222" stroke-width="0.06">07-07</text>
<line x1="364.2" y1="113" x2="364.2" y2="114.3" stroke="#333" stroke-width="0.5"/>
<text transform="translate(365.59 116.1) rotate(-90)" text-anchor="end" font-size="3.02" textLength="8.43" lengthAdjust="spacingAndGlyphs" fill="#222" stroke="#222" stroke-width="0.06">07-07</text>
<line x1="370.7" y1="113" x2="370.7" y2="114.3" stroke="#333" stroke-width="0.5"/>
<text transform="translate(372.09 116.1) rotate(-90)" text-anchor="end" font-size="3.02" textLength="8.43" lengthAdjust="spacingAndGlyphs" fill="#222" stroke="#222" stroke-width="0.06">07-07</text>
<line x1="379.6" y1="113" x2="379.6" y2="114.3" stroke="#333" stroke-width="0.5"/>
<text transform="translate(380.99 116.1) rotate(-90)" text-anchor="end" font-size="3.02" textLength="8.43" lengthAdjust="spacingAndGlyphs" fill="#222" stroke="#222" stroke-width="0.06">07-07</text>
<line x1="381.4" y1="113" x2="381.4" y2="114.3" stroke="#333" stroke-width="0.5"/>
<text transform="translate(382.79 116.1) rotate(-90)" text-anchor="end" font-size="3.02" textLength="13.04" lengthAdjust="spacingAndGlyphs" fill="#222" stroke="#222" stroke-width="0.06">07-07 13</text>
<line x1="383.6" y1="113" x2="383.6" y2="114.3" stroke="#333" stroke-width="0.5"/>
<text transform="translate(384.99 116.1) rotate(-90)" text-anchor="end" font-size="3.02" textLength="8.43" lengthAdjust="spacingAndGlyphs" fill="#222" stroke="#222" stroke-width="0.06">07-07</text>
<line x1="387.4" y1="113" x2="387.4" y2="114.3" stroke="#333" stroke-width="0.5"/>
<text transform="translate(388.79 116.1) rotate(-90)" text-anchor="end" font-size="3.02" textLength="13.04" lengthAdjust="spacingAndGlyphs" fill="#222" stroke="#222" stroke-width="0.06">07-07 13</text>
<text x="307.35" y="5.1" text-anchor="middle" font-size="3.92" textLength="40.87" lengthAdjust="spacingAndGlyphs" fill="#1a1a1a" stroke="#1a1a1a" stroke-width="0.05">ARPA_2021-7-7 13:35</text>
<text transform="translate(205.6 60) rotate(-90)" text-anchor="middle" font-size="3.17" textLength="17.63" lengthAdjust="spacingAndGlyphs" fill="#111" stroke="#111" stroke-width="0.14">btc_volume</text>
<text x="307.35" y="133.9" text-anchor="middle" font-size="3.17" textLength="13.77" lengthAdjust="spacingAndGlyphs" fill="#111" stroke="#111" stroke-width="0.14">datetime</text>
<rect x="350.7" y="8.3" width="45" height="10" rx="0.6" fill="#fff" fill-opacity="0.85" stroke="#ddd" stroke-width="0.3"/>
<line x1="352.6" y1="11.3" x2="360.1" y2="11.3" stroke="#5a5aa0" stroke-width="0.8" stroke-dasharray="1.6 0.9"/>
<line x1="352.6" y1="16.4" x2="360.1" y2="16.4" stroke="#ede4aa" stroke-width="1.4" stroke-dasharray="3.2 0.4"/>
<text x="362.2" y="12.42" font-size="3.24" textLength="24.15" lengthAdjust="spacingAndGlyphs" fill="#111" stroke="#111" stroke-width="0.14">2021-7-7 13:35</text>
<text x="362.2" y="17.52" font-size="3.24" textLength="31.3" lengthAdjust="spacingAndGlyphs" fill="#111" stroke="#111" stroke-width="0.14">anomalous volumes</text>
<clipPath id="c3"><rect x="17.7" y="145" width="178.5" height="106.69999999999999"/></clipPath>
<g clip-path="url(#c3)">
<rect x="18" y="186" width="14" height="65" fill="#fff2f5"/>
<rect x="143.5" y="160" width="9" height="86" fill="#fff3f5"/>
<rect x="25" y="200" width="163" height="28" fill="#edfcf8"/>
<line x1="25" y1="192.9" x2="189" y2="192.9" stroke="#ede4aa" stroke-width="1.4" stroke-dasharray="3.2 0.4"/>
<line x1="25" y1="234.8" x2="189" y2="234.8" stroke="#ede4aa" stroke-width="1.4" stroke-dasharray="3.2 0.4"/>
<path d="M26.5 213.8V196.6M28.5 213.8V199.6M33.5 213.8V223M42.5 213.8V206M43.5 213.8V224M46.5 213.8V204M48.5 213.8V204.4M50.5 213.8V231M55.5 213.8V204.6M55.5 213.8V227M59.5 213.8V227M66.5 213.8V223.6M69.5 213.8V202M73.5 213.8V230.4M83.5 213.8V221M90.5 213.8V225M92.5 213.8V194M92.5 213.8V203M93.5 213.8V225M98.5 213.8V226M104.5 213.8V204.6M111.5 213.8V229M122.5 213.8V219M129.5 213.8V224M134.5 213.8V213M134.5 213.8V230M136.5 213.8V199.6M160.5 213.8V196M166.5 213.8V205M169.5 213.8V220M183.5 213.8V202.4M152.5 213.8V222M156.5 213.8V219M163.5 213.8V222" stroke="#4f7458" stroke-width="0.75" fill="none"/>
<path d="M25.4 213.8V218.26M26.36 213.8V214.6M27 213.8V211.37M27.69 213.8V207.85M28.1 213.8V205.18M29.26 213.8V205.78M29.85 213.8V214.32M30.48 213.8V211.46M31.6 213.8V207.37M31.84 213.8V211.52M32.81 213.8V211.21M33.39 213.8V216.69M34.19 213.8V217.21M35 213.8V223.07M35.95 213.8V217.95M36.82 213.8V226.8M37.34 213.8V218.3M38.35 213.8V226.8M39.03 213.8V226.8M39.84 213.8V224.51M40.24 213.8V212.87M40.86 213.8V212.43M41.61 213.8V215M42.3 213.8V205.15M42.93 213.8V206.95M43.58 213.8V214.05M44.06 213.8V214.65M44.92 213.8V211.79M45.61 213.8V204.84M45.82 213.8V207.32M46.64 213.8V214.8M47.28 213.8V204.33M47.96 213.8V210.98M48.46 213.8V209.21M49 213.8V204.93M49.98 213.8V208.35M50.59 213.8V211.68M50.92 213.8V201.8M51.74 213.8V206.49M52.64 213.8V207.04M53.15 213.8V207.95M53.84 213.8V208.27M54.25 213.8V212.1M54.87 213.8V208.86M55.64 213.8V213.63M56 213.8V207.46M56.88 213.8V214.2M57.69 213.8V216.61M58.35 213.8V218.68M58.6 213.8V221.54M59.47 213.8V218.91M60.06 213.8V213.28M60.53 213.8V219.83M61.07 213.8V224.74M62.02 213.8V217.9M62.7 213.8V211.47M63.46 213.8V216.16M63.79 213.8V207.14M64.72 213.8V206.7M64.92 213.8V203.28M65.8 213.8V208.5M66.54 213.8V223.39M67.07 213.8V225.78M67.76 213.8V215.52M68.37 213.8V216.92M69.18 213.8V225M69.65 213.8V213.18M70.17 213.8V220.18M71.02 213.8V224.63M71.69 213.8V211.81M72.34 213.8V206.17M72.77 213.8V213.74M73.3 213.8V221.73M73.97 213.8V227.69M74.53 213.8V220.86M75.48 213.8V221.16M76.01 213.8V219.88M77.24 213.8V217.55M78.47 213.8V212.51M79.25 213.8V213.55M79.94 213.8V210.69M81.07 213.8V210.45M81.95 213.8V213.64M82.56 213.8V221.8M83.7 213.8V215.98M84.57 213.8V225.08M84.82 213.8V220.67M85.64 213.8V226.8M86.13 213.8V220.55M87.2 213.8V225.17M87.88 213.8V220.21M88.66 213.8V218.94M89.35 213.8V222.39M90.02 213.8V211.09M90.42 213.8V215.99M91.29 213.8V209.04M91.77 213.8V215.27M92.43 213.8V226.8M93.4 213.8V216.66M94.04 213.8V210.03M94.49 213.8V212.58M95.15 213.8V209.15M95.84 213.8V214.53M96.63 213.8V212.23M97.11 213.8V213.39M98.16 213.8V207.95M98.5 213.8V206.96M99.35 213.8V202.13M99.77 213.8V204.06M100.73 213.8V209.01M101.2 213.8V208.91M102.09 213.8V215.53M102.86 213.8V216.1M103.27 213.8V219.58M104.11 213.8V225.51M104.51 213.8V221.62M105.18 213.8V208.66M105.92 213.8V210.81M106.92 213.8V225.09M107.53 213.8V216.37M108.33 213.8V206.48M108.76 213.8V203.49M109.25 213.8V205.81M110.26 213.8V212.27M110.6 213.8V218.56M111.51 213.8V214.14M112.4 213.8V216.82M112.72 213.8V204.55M113.83 213.8V210.41M114.49 213.8V204.54M115.04 213.8V207.41M115.87 213.8V212M116.05 213.8V217.29M117.13 213.8V224.82M117.78 213.8V226.8M118.22 213.8V222.24M118.81 213.8V214.23M119.73 213.8V213.98M120.55 213.8V219.12M121.33 213.8V214.88M121.79 213.8V212.41M122.87 213.8V219.5M123.45 213.8V224.8M124.23 213.8V222.41M124.73 213.8V216.53M125.45 213.8V217.56M126.49 213.8V218.42M127.26 213.8V215.59M127.81 213.8V210.86M128.38 213.8V211.72M129.07 213.8V213.19M129.68 213.8V216.71M130.85 213.8V220.08M131.58 213.8V219.64M132.19 213.8V214.53M132.69 213.8V217.55M133.43 213.8V221.82M134.08 213.8V217.08M135.01 213.8V208.96M135.41 213.8V213.75M136.4 213.8V214.82M137.42 213.8V215.49M138.03 213.8V219.93M138.66 213.8V219.19M139.25 213.8V221.63M139.94 213.8V220.65M140.73 213.8V211.84M141.32 213.8V210.63M142.06 213.8V208.05M142.89 213.8V204.91M143.69 213.8V214.55M152.51 213.8V214.23M153.08 213.8V210.53M153.68 213.8V208.6M154.08 213.8V210.08M155.23 213.8V212.14M155.77 213.8V215.25M156.2 213.8V218.3M157 213.8V214.3M157.65 213.8V214.68M158.39 213.8V207.78M159.24 213.8V211.65M159.77 213.8V222.45M160.09 213.8V214.29M161.13 213.8V212.23M161.43 213.8V212.77M162.31 213.8V211.08M163.06 213.8V220.03M163.6 213.8V218.57M164.24 213.8V211.73M165.01 213.8V213.78M165.9 213.8V215.4M166.14 213.8V214.11M166.74 213.8V214.55M167.91 213.8V216.4M168.48 213.8V211.42M168.78 213.8V219.62M169.66 213.8V222.8M170.08 213.8V213.33M170.84 213.8V206.54M171.78 213.8V214.48M172.12 213.8V216.59M173.61 213.8V214.59M174.55 213.8V215.14M175.86 213.8V215.83M177.04 213.8V216.29M178.17 213.8V216.39M178.65 213.8V218.8M179.96 213.8V218.3M181.04 213.8V215.35M182.55 213.8V214.71M183.42 213.8V215.66M184.45 213.8V214.83M185.08 213.8V211.89M186.42 213.8V212.96" stroke="#3f7a4e" stroke-width="0.6" fill="none"/>
<path d="M26.5 213.8V241M28.5 213.8V243.6M34.5 213.8V205.6M38.5 213.8V246.6M47.5 213.8V243M62.5 213.8V172.6M76.5 213.8V192M82.5 213.8V149M137.5 213.8V241M141.5 213.8V241M146.5 213.8V169M148.5 213.8V179M148.5 213.8V192M149.5 213.8V242M150.5 213.8V232M173.5 213.8V244M146.5 213.8V192M150.5 213.8V193" stroke="#bc8064" stroke-width="0.75" fill="none"/>
<path d="M25 214.3 25.4 212.9 25.4 217 25.5 215.8 25.9 216.1 25.9 214.8 26.3 213.5 26.4 214.6 26.4 216.4 26.8 213.8 26.8 214.8 27 211.4 27.3 213.8 27.5 215.6 27.7 210.6 27.9 214 28.1 215.9 28.1 210.6 28.3 216.6 28.6 214.7 28.8 212.5 29.1 212.6 29.2 213.8 29.3 210.6 29.5 214.5 29.6 212.4 29.9 214.3 30 213.3 30.2 212.2 30.5 211.5 30.6 216.5 30.9 214.9 31 215 31.3 213.2 31.4 211 31.6 210.6 31.8 211.5 31.9 214.5 32 212.4 32.3 216.3 32.5 211.5 32.8 211.2 32.9 211.4 33.2 212.1 33.3 212.2 33.4 216.7 33.6 215 33.6 210.6 34.1 212.5 34.1 212.3 34.2 217 34.5 211.8 34.5 213.2 34.9 210.8 35 217 35.2 211.6 35.4 215.4 35.8 213.6 35.9 211.4 35.9 217 36.2 211.4 36.5 213.4 36.6 211 36.8 217 36.9 214.2 37 211.9 37.3 217 37.3 211.9 37.4 214.8 37.8 213.6 38.1 214.1 38.2 214 38.3 217 38.6 212.4 38.7 212.6 39 213.4 39 217 39.1 213.7 39.5 215.6 39.6 215.9 39.8 216.2 39.8 217 40 214.6 40.1 213.3 40.2 212.9 40.5 212.1 40.7 212.8 40.8 212.3 40.9 212.4 41.3 213.3 41.3 214.3 41.6 215 41.7 211.8 41.7 213.2 42.3 211.1 42.3 210.6 42.4 211.8 42.8 215.5 42.9 210.6 43 215.9 43.3 217 43.6 214.1 43.6 213.6 43.8 210.6 44.1 214.6 44.4 214.9 44.4 213.2 44.9 211.4 44.9 211.8 45 215.8 45.3 210.9 45.6 210.6 45.6 215.6 45.6 213.6 45.8 210.6 46.1 211.4 46.2 212.1 46.5 212.9 46.6 214.9 46.6 214.8 47 215.3 47.2 212.1 47.3 210.6 47.6 216.8 47.9 215.2 48 211 48.1 215.9 48.3 214.4 48.4 210.6 48.5 210.6 48.8 213.2 49 214.6 49 210.6 49.3 214 49.4 211.4 49.7 216 49.8 212.8 50 210.6 50.1 216.1 50.2 213.5 50.4 213.4 50.6 211.7 50.6 211.1 50.9 216.2 50.9 210.6 51 211.4 51.3 213.3 51.4 216.2 51.6 215.7 51.7 210.6 51.9 211.9 52.1 213.5 52.5 211.7 52.6 212.1 52.6 210.6 52.9 211.1 53 212.2 53.2 210.6 53.3 212.9 53.5 212.1 53.7 212.6 53.8 210.6 54 216.2 54.2 210.7 54.3 212.1 54.6 214.4 54.6 213.1 54.9 210.6 55 215.2 55.3 213.5 55.4 210.9 55.6 213.6 55.7 216.9 55.9 211.5 56 210.6 56.1 211.3 56.5 215.4 56.7 214.7 56.9 214.2 57 212 57.3 212.7 57.7 216.6 57.8 215.2 57.9 210.9 58.2 215.7 58.3 212 58.4 217 58.6 217 58.7 215.7 58.8 213.7 59.1 216.2 59.3 215.5 59.4 214.6 59.5 217 59.8 211.9 59.9 215.3 60.1 213.3 60.4 213.4 60.5 215.9 60.5 217 60.9 212.4 61.1 217 61.1 213.8 61.4 216.4 61.7 215.5 61.9 212.1 62 217 62.3 214.1 62.4 216.7 62.7 211.5 62.7 215.6 62.9 213.4 63.4 211.2 63.4 216.1 63.5 216.2 63.8 210.6 63.9 211.6 63.9 212.4 64.3 210.8 64.3 213 64.6 213.1 64.7 210.6 64.9 212.6 64.9 210.6 65.1 211.7 65.5 215.5 65.5 212.3 65.8 210.6 65.8 211.5 66.3 216.4 66.3 212.1 66.5 217 66.7 212 66.8 214.2 67.1 217 67.2 216.2 67.4 215.6 67.8 215.5 67.8 216.4 68.1 212.6 68.2 213 68.4 216.9 68.7 215.7 68.8 214.7 69.2 217 69.3 215.7 69.3 213.8 69.7 213.2 69.8 212.6 70 212.7 70.2 217 70.2 214.1 70.6 211.4 70.6 213.5 71 211.8 71 217 71.2 212.1 71.6 212.5 71.7 213.6 71.7 211.8 72.1 212.5 72.3 215.8 72.3 210.6 72.7 216.5 72.8 213.7 72.8 212.1 73.2 215.7 73.3 215.9 73.3 217 73.6 213.5 73.8 211.6 74 217 74.1 212.2 74.1 213.2 74.5 217 74.6 216.2 74.9 212.5 75 211.9 75.3 211.3 75.5 217 75.6 213.1 75.8 215.9 76 217 76.2 215.7 76.4 214.3 76.5 211.9 76.8 213 77 215.5 77.2 217 77.4 215 77.4 213.3 77.8 213 78 216 78.3 210.6 78.3 213.1 78.5 212.5 78.6 212.8 79 215.7 79.1 211.9 79.3 213.6 79.5 216.9 79.8 213.2 79.9 210.7 80 213.2 80.3 215.7 80.5 215.2 80.9 216 81.1 210.6 81.1 214.2 81.3 215.1 81.6 211.2 82 213.6 82 216.2 82 213.1 82.4 212.9 82.4 214.3 82.6 217 82.9 212 83.2 213.6 83.3 212.7 83.6 214.7 83.6 210.7 83.7 216 84 212.2 84 216.2 84.6 212.8 84.6 217 84.8 213.6 84.8 217 85 214.6 85.3 212.6 85.6 215.9 85.6 217 85.7 211.9 86 212.5 86.1 214.8 86.1 217 86.5 211 86.7 212.2 87 216.7 87.1 211.8 87.2 217 87.4 215 87.7 212 87.8 215.7 87.9 217 88.1 214.7 88.5 215.9 88.6 213.2 88.7 217 89 215.4 89 214 89.3 217 89.4 212.4 89.6 214.3 89.9 211.6 90 211.1 90.1 216.2 90.4 216 90.5 215.9 90.7 212.5 91 216.7 91.3 215.8 91.3 210.6 91.5 213.2 91.8 215.3 91.9 214 91.9 213.3 92.4 217 92.5 216.3 92.5 214.8 92.8 210.6 93 213 93.2 216.4 93.4 216.7 93.6 213.6 93.8 216 94 210.6 94.1 211.9 94.4 212.3 94.5 212.6 94.6 213.4 94.7 214.1 95 216.7 95.1 210.6 95.3 213.7 95.5 215.9 95.8 214.5 95.9 215.1 96 216.2 96.5 212.3 96.6 212.2 96.7 212.7 96.9 216.9 97.1 213.4 97.2 212.4 97.3 213.4 97.7 214.1 97.9 211.6 98.2 210.6 98.2 213.8 98.4 215.4 98.5 210.6 98.8 212.1 98.8 216.9 99.3 211.4 99.3 210.6 99.4 212 99.8 210.6 99.9 216.2 100 212.3 100.3 210.8 100.4 214.1 100.7 210.6 100.9 214.3 101.1 213.9 101.2 210.6 101.4 211.1 101.5 212.3 101.8 215.8 102.1 215.5 102.2 214.1 102.4 211.7 102.7 213.3 102.8 213.5 102.9 216.1 103.1 214.2 103.2 216.9 103.3 217 103.5 215.2 103.8 210.6 103.9 213.1 104.1 217 104.3 211.5 104.5 217 104.7 211.7 104.8 214 105.2 210.6 105.2 214.4 105.4 216.4 105.9 215.4 105.9 210.8 106 211.7 106.3 215.5 106.6 213.6 106.7 215.6 106.9 217 107.2 213.3 107.3 212.5 107.5 216.4 107.7 213 108 215.4 108.1 213.1 108.3 210.6 108.3 215.1 108.6 211.1 108.8 210.6 108.8 212 109.1 214.3 109.3 210.6 109.3 212.7 109.6 216.4 110 215.5 110 216.8 110.3 212.3 110.5 213.1 110.6 217 110.6 213.1 111 212.9 111.1 212.4 111.5 213.6 111.5 210.8 111.5 214.1 112 212.9 112.1 215.3 112.3 211.2 112.4 216.8 112.7 210.6 112.7 212.3 112.8 215.6 113.3 213 113.4 215 113.8 210.6 113.9 212.4 114 214.5 114.3 216.7 114.5 210.6 114.7 211.9 114.8 216.6 115 210.6 115.1 212.4 115.2 211 115.6 213.5 115.7 212.8 115.9 212 116 214.6 116 211.2 116.1 217 116.4 212.6 116.6 213.1 116.9 216.9 117.1 217 117.3 215.7 117.4 212.7 117.7 216.1 117.8 217 117.9 216.1 118 212 118.2 217 118.4 212.4 118.6 215.8 118.7 213.2 118.8 214.2 118.9 213.6 119.3 213.2 119.4 211.6 119.7 214 119.9 216.1 119.9 214.5 120.4 210.8 120.5 216.2 120.6 217 121 216.5 121.2 211.8 121.3 214.9 121.5 216.6 121.8 212.4 122 214.8 122.1 215.1 122.6 212.5 122.6 219 122.7 215.5 122.9 217 123.1 212.6 123.4 212.5 123.5 217 123.5 212.7 123.9 210.8 124 214.6 124.2 217 124.2 212.4 124.5 215.1 124.6 210.7 124.7 216.5 125.1 214.7 125.1 215.9 125.5 217 125.5 215.2 125.6 213 126.1 210.8 126.2 213.5 126.5 217 126.6 214.4 126.7 213.5 126.9 216.4 127.3 215.6 127.3 213 127.4 214 127.8 214.1 127.8 210.9 127.9 215.9 128.2 213.2 128.2 216.2 128.4 211.7 128.7 212.5 128.8 213.2 129.1 214.1 129.1 213.2 129.4 215.9 129.6 212.8 129.7 216.7 129.8 216.3 130.1 213.6 130.4 215.7 130.6 213.8 130.7 212.2 130.8 217 131.2 216.6 131.4 215.9 131.6 217 131.7 212.9 131.8 215.3 132.2 214.5 132.3 213.6 132.4 213.8 132.7 217 132.7 213.5 132.8 212.7 133.3 214.5 133.4 212.1 133.4 217 133.6 214.7 134.1 211.7 134.1 217 134.1 215.7 134.5 212.3 134.6 213 134.9 211.8 135 210.6 135.1 212 135.3 216 135.4 213.8 135.6 210.6 136 214.8 136 212.7 136.4 214.8 136.4 214.8 136.6 214.2 136.9 214.5 137.3 216.5 137.3 215.6 137.4 215.5 137.7 210.8 137.8 212.8 138 217 138.3 211.7 138.4 216 138.7 217 138.7 214.8 139 214.3 139.2 217 139.3 211.7 139.6 211.5 139.7 213.9 139.9 217 140.2 213.6 140.3 214 140.7 216.9 140.7 211.8 140.8 211.8 141 213.2 141.3 215.3 141.3 210.6 141.6 215.8 142 215.3 142.1 210.6 142.1 212.8 142.5 214.9 142.8 214.6 142.9 210.6 143.1 215.7 143.3 212.4 143.5 211.4 143.7 214.6 143.9 213.7 144.4 216 144.7 212.3 145.2 213.9 145.8 212.4 146.3 214.8 147 213.7 147.8 214.3 148.4 212.7 148.8 213.2 149.6 214.6 150.3 215.6 151 212.9 151.4 211.5 152 212.9 152.1 212.2 152.4 215.5 152.5 214.2 152.8 215.4 152.9 211.6 153.1 210.6 153.2 215.4 153.2 212.9 153.7 210.6 153.7 213.9 153.8 212.6 154.1 210.6 154.1 213.4 154.4 211.6 154.6 214.6 154.9 212.6 155 213.2 155.2 212.1 155.6 215.5 155.6 215.7 155.8 215.2 156 213.9 156 219 156.2 211.9 156.2 217 156.3 216.9 156.7 216.5 156.9 212.8 157 214.3 157 212 157.4 212.7 157.5 216 157.7 214.7 157.8 213.1 158.2 214.4 158.3 211.3 158.4 210.6 158.8 215 158.8 213.9 159.1 211.5 159.2 211.6 159.4 213.5 159.4 211.8 159.8 217 159.9 214.6 160.1 214.3 160.1 215.8 160.5 212.5 160.5 215.8 160.8 212.3 161.1 215.4 161.1 212.2 161.2 211 161.4 212.8 161.5 214.1 161.7 213.4 162.1 216.9 162.2 214.5 162.3 211.1 162.4 212.2 162.5 212.6 162.8 216.1 163.1 217 163.1 213.4 163.3 213.9 163.6 217 163.7 215.6 163.9 212.2 164 213.9 164.2 211.7 164.3 215.4 164.5 211.4 164.7 213.9 165 213.8 165.1 214.9 165.3 213.4 165.5 212.7 165.8 214.1 165.8 216.4 165.9 215.4 166.1 214.1 166.2 214.4 166.4 211.9 166.7 214.5 166.7 214.6 166.9 214.8 167.2 212.4 167.5 212.7 167.7 212 167.9 216.4 168.1 213.5 168.2 215.4 168.5 211.4 168.5 212.1 168.7 215.3 168.8 217 169 220 169.2 214.6 169.2 210.7 169.6 211.9 169.7 217 169.7 213.3 170.1 215.9 170.1 213.3 170.1 211.7 170.4 216.5 170.6 213.1 170.8 213.3 170.8 210.6 171.1 211.9 171.3 212.4 171.8 214.5 171.8 213.5 171.9 210.9 172 214.7 172.1 216.6 172.2 214.5 172.5 215.7 172.6 214.7 173 212.1 173.1 213.9 173.3 214.4 173.6 214.6 173.6 215.5 173.8 214.9 174.1 212 174.2 216.9 174.5 215.1 174.6 213.3 174.7 214.8 175 211.8 175.2 213.9 175.4 215 175.8 215.8 175.9 212 175.9 215.8 176.2 216 176.6 213 176.8 214.9 177 216.3 177.2 212.8 177.3 212.5 177.8 213.1 177.9 214.3 178.2 216.4 178.2 216.8 178.4 213 178.6 216.8 178.7 217 179.1 212.3 179.1 212.9 179.5 213.4 179.6 211.6 180 217 180 216.7 180.3 215.6 180.5 213.8 180.9 212.8 181 216.2 181 215.4 181.3 213.1 181.5 215.7 181.8 215.7 182.1 214.7 182.2 212.7 182.5 214.7 182.7 214.6 182.7 213 183.2 212.7 183.2 212.6 183.4 215.7 183.6 213.2 183.7 215.9 183.9 216.1 184.1 213.6 184.3 214.8 184.5 214.8 184.8 215.2 184.8 214 185.1 211.9 185.1 215.3 185.2 215.6 185.6 214.5 185.8 216.9 186.2 213.6 186.2 215.4 186.4 213 186.7 216.7 187 215 187.4 212.8" stroke="#2e8c48" stroke-width="1.0" fill="none" stroke-linejoin="round"/>
<line x1="25.4" y1="213.8" x2="187.5" y2="213.8" stroke="#30482c" stroke-width="1.3"/>
<path d="M24.6 212.9a0.75 0.75 0 1 0 1.5 0a0.75 0.75 0 1 0 -1.5 0M25.6 213.5a0.75 0.75 0 1 0 1.5 0a0.75 0.75 0 1 0 -1.5 0M26.7 215.6a0.75 0.75 0 1 0 1.5 0a0.75 0.75 0 1 0 -1.5 0M27.8 214.7a0.75 0.75 0 1 0 1.5 0a0.75 0.75 0 1 0 -1.5 0M28.9 212.4a0.75 0.75 0 1 0 1.5 0a0.75 0.75 0 1 0 -1.5 0M30.2 214.9a0.75 0.75 0 1 0 1.5 0a0.75 0.75 0 1 0 -1.5 0M31.2 214.5a0.75 0.75 0 1 0 1.5 0a0.75 0.75 0 1 0 -1.5 0M32.5 212.1a0.75 0.75 0 1 0 1.5 0a0.75 0.75 0 1 0 -1.5 0M33.4 212.3a0.75 0.75 0 1 0 1.5 0a0.75 0.75 0 1 0 -1.5 0M34.4 211.6a0.75 0.75 0 1 0 1.5 0a0.75 0.75 0 1 0 -1.5 0M35.8 213.4a0.75 0.75 0 1 0 1.5 0a0.75 0.75 0 1 0 -1.5 0M36.6 211.9a0.75 0.75 0 1 0 1.5 0a0.75 0.75 0 1 0 -1.5 0M37.8 212.4a0.75 0.75 0 1 0 1.5 0a0.75 0.75 0 1 0 -1.5 0M38.8 215.9a0.75 0.75 0 1 0 1.5 0a0.75 0.75 0 1 0 -1.5 0M39.9 212.8a0.75 0.75 0 1 0 1.5 0a0.75 0.75 0 1 0 -1.5 0M41 213.2a0.75 0.75 0 1 0 1.5 0a0.75 0.75 0 1 0 -1.5 0M42.3 215.9a0.75 0.75 0 1 0 1.5 0a0.75 0.75 0 1 0 -1.5 0M43.6 214.9a0.75 0.75 0 1 0 1.5 0a0.75 0.75 0 1 0 -1.5 0M44.9 213.6a0.75 0.75 0 1 0 1.5 0a0.75 0.75 0 1 0 -1.5 0M45.8 214.9a0.75 0.75 0 1 0 1.5 0a0.75 0.75 0 1 0 -1.5 0M47.1 215.2a0.75 0.75 0 1 0 1.5 0a0.75 0.75 0 1 0 -1.5 0M48 213.2a0.75 0.75 0 1 0 1.5 0a0.75 0.75 0 1 0 -1.5 0M48.9 216a0.75 0.75 0 1 0 1.5 0a0.75 0.75 0 1 0 -1.5 0M49.7 213.4a0.75 0.75 0 1 0 1.5 0a0.75 0.75 0 1 0 -1.5 0M50.7 216.2a0.75 0.75 0 1 0 1.5 0a0.75 0.75 0 1 0 -1.5 0M51.7 211.7a0.75 0.75 0 1 0 1.5 0a0.75 0.75 0 1 0 -1.5 0M52.7 212.1a0.75 0.75 0 1 0 1.5 0a0.75 0.75 0 1 0 -1.5 0M53.8 214.4a0.75 0.75 0 1 0 1.5 0a0.75 0.75 0 1 0 -1.5 0M55.2 211.5a0.75 0.75 0 1 0 1.5 0a0.75 0.75 0 1 0 -1.5 0M56.3 212a0.75 0.75 0 1 0 1.5 0a0.75 0.75 0 1 0 -1.5 0M57.5 212a0.75 0.75 0 1 0 1.5 0a0.75 0.75 0 1 0 -1.5 0M58.5 215.5a0.75 0.75 0 1 0 1.5 0a0.75 0.75 0 1 0 -1.5 0M59.7 215.9a0.75 0.75 0 1 0 1.5 0a0.75 0.75 0 1 0 -1.5 0M60.9 215.5a0.75 0.75 0 1 0 1.5 0a0.75 0.75 0 1 0 -1.5 0M62 215.6a0.75 0.75 0 1 0 1.5 0a0.75 0.75 0 1 0 -1.5 0M63.2 212.4a0.75 0.75 0 1 0 1.5 0a0.75 0.75 0 1 0 -1.5 0M64.1 212.6a0.75 0.75 0 1 0 1.5 0a0.75 0.75 0 1 0 -1.5 0M65.5 212.1a0.75 0.75 0 1 0 1.5 0a0.75 0.75 0 1 0 -1.5 0M66.7 215.6a0.75 0.75 0 1 0 1.5 0a0.75 0.75 0 1 0 -1.5 0M68.1 214.7a0.75 0.75 0 1 0 1.5 0a0.75 0.75 0 1 0 -1.5 0M69.2 212.7a0.75 0.75 0 1 0 1.5 0a0.75 0.75 0 1 0 -1.5 0M70.2 211.8a0.75 0.75 0 1 0 1.5 0a0.75 0.75 0 1 0 -1.5 0M71.6 215.8a0.75 0.75 0 1 0 1.5 0a0.75 0.75 0 1 0 -1.5 0M72.5 215.9a0.75 0.75 0 1 0 1.5 0a0.75 0.75 0 1 0 -1.5 0M73.4 213.2a0.75 0.75 0 1 0 1.5 0a0.75 0.75 0 1 0 -1.5 0M74.8 213.1a0.75 0.75 0 1 0 1.5 0a0.75 0.75 0 1 0 -1.5 0M76.1 213a0.75 0.75 0 1 0 1.5 0a0.75 0.75 0 1 0 -1.5 0M77.2 216a0.75 0.75 0 1 0 1.5 0a0.75 0.75 0 1 0 -1.5 0M78.3 215.7a0.75 0.75 0 1 0 1.5 0a0.75 0.75 0 1 0 -1.5 0M79.5 215.7a0.75 0.75 0 1 0 1.5 0a0.75 0.75 0 1 0 -1.5 0M80.5 215.1a0.75 0.75 0 1 0 1.5 0a0.75 0.75 0 1 0 -1.5 0M81.7 214.3a0.75 0.75 0 1 0 1.5 0a0.75 0.75 0 1 0 -1.5 0M82.8 214.7a0.75 0.75 0 1 0 1.5 0a0.75 0.75 0 1 0 -1.5 0M84 213.6a0.75 0.75 0 1 0 1.5 0a0.75 0.75 0 1 0 -1.5 0M85.2 212.5a0.75 0.75 0 1 0 1.5 0a0.75 0.75 0 1 0 -1.5 0M86.3 211.8a0.75 0.75 0 1 0 1.5 0a0.75 0.75 0 1 0 -1.5 0M87.8 213.2a0.75 0.75 0 1 0 1.5 0a0.75 0.75 0 1 0 -1.5 0M88.6 212.4a0.75 0.75 0 1 0 1.5 0a0.75 0.75 0 1 0 -1.5 0M89.9 212.5a0.75 0.75 0 1 0 1.5 0a0.75 0.75 0 1 0 -1.5 0M91.1 214a0.75 0.75 0 1 0 1.5 0a0.75 0.75 0 1 0 -1.5 0M92.3 213a0.75 0.75 0 1 0 1.5 0a0.75 0.75 0 1 0 -1.5 0M93.6 212.3a0.75 0.75 0 1 0 1.5 0a0.75 0.75 0 1 0 -1.5 0M94.8 215.9a0.75 0.75 0 1 0 1.5 0a0.75 0.75 0 1 0 -1.5 0M96 212.7a0.75 0.75 0 1 0 1.5 0a0.75 0.75 0 1 0 -1.5 0M97 214.1a0.75 0.75 0 1 0 1.5 0a0.75 0.75 0 1 0 -1.5 0M98 212.1a0.75 0.75 0 1 0 1.5 0a0.75 0.75 0 1 0 -1.5 0M99.2 212.3a0.75 0.75 0 1 0 1.5 0a0.75 0.75 0 1 0 -1.5 0M100.3 213.9a0.75 0.75 0 1 0 1.5 0a0.75 0.75 0 1 0 -1.5 0M101.5 214.1a0.75 0.75 0 1 0 1.5 0a0.75 0.75 0 1 0 -1.5 0M102.4 214.2a0.75 0.75 0 1 0 1.5 0a0.75 0.75 0 1 0 -1.5 0M103.2 213.1a0.75 0.75 0 1 0 1.5 0a0.75 0.75 0 1 0 -1.5 0M104.5 214.4a0.75 0.75 0 1 0 1.5 0a0.75 0.75 0 1 0 -1.5 0M105.8 213.6a0.75 0.75 0 1 0 1.5 0a0.75 0.75 0 1 0 -1.5 0M107.2 215.4a0.75 0.75 0 1 0 1.5 0a0.75 0.75 0 1 0 -1.5 0M108.1 212a0.75 0.75 0 1 0 1.5 0a0.75 0.75 0 1 0 -1.5 0M109.2 215.5a0.75 0.75 0 1 0 1.5 0a0.75 0.75 0 1 0 -1.5 0M110.3 212.4a0.75 0.75 0 1 0 1.5 0a0.75 0.75 0 1 0 -1.5 0M111.4 215.3a0.75 0.75 0 1 0 1.5 0a0.75 0.75 0 1 0 -1.5 0M112.6 215a0.75 0.75 0 1 0 1.5 0a0.75 0.75 0 1 0 -1.5 0M114 211.9a0.75 0.75 0 1 0 1.5 0a0.75 0.75 0 1 0 -1.5 0M114.9 213.5a0.75 0.75 0 1 0 1.5 0a0.75 0.75 0 1 0 -1.5 0M115.9 213.1a0.75 0.75 0 1 0 1.5 0a0.75 0.75 0 1 0 -1.5 0M117.1 216.1a0.75 0.75 0 1 0 1.5 0a0.75 0.75 0 1 0 -1.5 0M118 213.2a0.75 0.75 0 1 0 1.5 0a0.75 0.75 0 1 0 -1.5 0M119.2 214.5a0.75 0.75 0 1 0 1.5 0a0.75 0.75 0 1 0 -1.5 0M120.5 211.8a0.75 0.75 0 1 0 1.5 0a0.75 0.75 0 1 0 -1.5 0M121.9 215.5a0.75 0.75 0 1 0 1.5 0a0.75 0.75 0 1 0 -1.5 0M123.2 214.6a0.75 0.75 0 1 0 1.5 0a0.75 0.75 0 1 0 -1.5 0M124.3 214.7a0.75 0.75 0 1 0 1.5 0a0.75 0.75 0 1 0 -1.5 0M125.5 213.5a0.75 0.75 0 1 0 1.5 0a0.75 0.75 0 1 0 -1.5 0M126.5 213a0.75 0.75 0 1 0 1.5 0a0.75 0.75 0 1 0 -1.5 0M127.5 213.2a0.75 0.75 0 1 0 1.5 0a0.75 0.75 0 1 0 -1.5 0M128.8 212.8a0.75 0.75 0 1 0 1.5 0a0.75 0.75 0 1 0 -1.5 0M129.9 213.8a0.75 0.75 0 1 0 1.5 0a0.75 0.75 0 1 0 -1.5 0M131 215.3a0.75 0.75 0 1 0 1.5 0a0.75 0.75 0 1 0 -1.5 0M132.1 212.7a0.75 0.75 0 1 0 1.5 0a0.75 0.75 0 1 0 -1.5 0M133.4 215.7a0.75 0.75 0 1 0 1.5 0a0.75 0.75 0 1 0 -1.5 0M134.6 216a0.75 0.75 0 1 0 1.5 0a0.75 0.75 0 1 0 -1.5 0M135.9 214.2a0.75 0.75 0 1 0 1.5 0a0.75 0.75 0 1 0 -1.5 0M137 212.8a0.75 0.75 0 1 0 1.5 0a0.75 0.75 0 1 0 -1.5 0M138.3 214.3a0.75 0.75 0 1 0 1.5 0a0.75 0.75 0 1 0 -1.5 0M139.6 214a0.75 0.75 0 1 0 1.5 0a0.75 0.75 0 1 0 -1.5 0M140.6 215.3a0.75 0.75 0 1 0 1.5 0a0.75 0.75 0 1 0 -1.5 0M142.1 214.6a0.75 0.75 0 1 0 1.5 0a0.75 0.75 0 1 0 -1.5 0M143.2 213.7a0.75 0.75 0 1 0 1.5 0a0.75 0.75 0 1 0 -1.5 0M144 212.3a0.75 0.75 0 1 0 1.5 0a0.75 0.75 0 1 0 -1.5 0M145.1 212.4a0.75 0.75 0 1 0 1.5 0a0.75 0.75 0 1 0 -1.5 0M146.3 213.7a0.75 0.75 0 1 0 1.5 0a0.75 0.75 0 1 0 -1.5 0M147.6 212.7a0.75 0.75 0 1 0 1.5 0a0.75 0.75 0 1 0 -1.5 0M148.8 214.6a0.75 0.75 0 1 0 1.5 0a0.75 0.75 0 1 0 -1.5 0M150.3 212.9a0.75 0.75 0 1 0 1.5 0a0.75 0.75 0 1 0 -1.5 0M151.3 212.2a0.75 0.75 0 1 0 1.5 0a0.75 0.75 0 1 0 -1.5 0M152.5 215.4a0.75 0.75 0 1 0 1.5 0a0.75 0.75 0 1 0 -1.5 0M153.7 211.6a0.75 0.75 0 1 0 1.5 0a0.75 0.75 0 1 0 -1.5 0M154.9 215.7a0.75 0.75 0 1 0 1.5 0a0.75 0.75 0 1 0 -1.5 0M156.1 212.8a0.75 0.75 0 1 0 1.5 0a0.75 0.75 0 1 0 -1.5 0M157.5 214.4a0.75 0.75 0 1 0 1.5 0a0.75 0.75 0 1 0 -1.5 0M158.7 213.5a0.75 0.75 0 1 0 1.5 0a0.75 0.75 0 1 0 -1.5 0M159.7 212.5a0.75 0.75 0 1 0 1.5 0a0.75 0.75 0 1 0 -1.5 0M161 213.4a0.75 0.75 0 1 0 1.5 0a0.75 0.75 0 1 0 -1.5 0M161.8 212.6a0.75 0.75 0 1 0 1.5 0a0.75 0.75 0 1 0 -1.5 0M163.1 212.2a0.75 0.75 0 1 0 1.5 0a0.75 0.75 0 1 0 -1.5 0M163.9 213.9a0.75 0.75 0 1 0 1.5 0a0.75 0.75 0 1 0 -1.5 0M165 214.1a0.75 0.75 0 1 0 1.5 0a0.75 0.75 0 1 0 -1.5 0M166.1 214.8a0.75 0.75 0 1 0 1.5 0a0.75 0.75 0 1 0 -1.5 0M167.3 213.5a0.75 0.75 0 1 0 1.5 0a0.75 0.75 0 1 0 -1.5 0M168.4 214.6a0.75 0.75 0 1 0 1.5 0a0.75 0.75 0 1 0 -1.5 0M169.4 211.7a0.75 0.75 0 1 0 1.5 0a0.75 0.75 0 1 0 -1.5 0M170.4 211.9a0.75 0.75 0 1 0 1.5 0a0.75 0.75 0 1 0 -1.5 0M171.4 214.5a0.75 0.75 0 1 0 1.5 0a0.75 0.75 0 1 0 -1.5 0M172.4 213.9a0.75 0.75 0 1 0 1.5 0a0.75 0.75 0 1 0 -1.5 0M173.4 212a0.75 0.75 0 1 0 1.5 0a0.75 0.75 0 1 0 -1.5 0M174.4 213.9a0.75 0.75 0 1 0 1.5 0a0.75 0.75 0 1 0 -1.5 0M175.8 213a0.75 0.75 0 1 0 1.5 0a0.75 0.75 0 1 0 -1.5 0M177.1 214.3a0.75 0.75 0 1 0 1.5 0a0.75 0.75 0 1 0 -1.5 0M178.3 212.9a0.75 0.75 0 1 0 1.5 0a0.75 0.75 0 1 0 -1.5 0M179.5 215.6a0.75 0.75 0 1 0 1.5 0a0.75 0.75 0 1 0 -1.5 0M180.8 215.7a0.75 0.75 0 1 0 1.5 0a0.75 0.75 0 1 0 -1.5 0M181.9 213a0.75 0.75 0 1 0 1.5 0a0.75 0.75 0 1 0 -1.5 0M182.9 215.9a0.75 0.75 0 1 0 1.5 0a0.75 0.75 0 1 0 -1.5 0M184 215.2a0.75 0.75 0 1 0 1.5 0a0.75 0.75 0 1 0 -1.5 0M184.9 214.5a0.75 0.75 0 1 0 1.5 0a0.75 0.75 0 1 0 -1.5 0M186.2 215a0.75 0.75 0 1 0 1.5 0a0.75 0.75 0 1 0 -1.5 0" fill="#24602f"/>
<path d="M24.6 218.3a0.8 0.8 0 1 0 1.6 0a0.8 0.8 0 1 0 -1.6 0M25.6 214.6a0.8 0.8 0 1 0 1.6 0a0.8 0.8 0 1 0 -1.6 0M26.2 211.4a0.8 0.8 0 1 0 1.6 0a0.8 0.8 0 1 0 -1.6 0M26.9 207.8a0.8 0.8 0 1 0 1.6 0a0.8 0.8 0 1 0 -1.6 0M27.3 205.2a0.8 0.8 0 1 0 1.6 0a0.8 0.8 0 1 0 -1.6 0M28.5 205.8a0.8 0.8 0 1 0 1.6 0a0.8 0.8 0 1 0 -1.6 0M29.1 214.3a0.8 0.8 0 1 0 1.6 0a0.8 0.8 0 1 0 -1.6 0M29.7 211.5a0.8 0.8 0 1 0 1.6 0a0.8 0.8 0 1 0 -1.6 0M30.8 207.4a0.8 0.8 0 1 0 1.6 0a0.8 0.8 0 1 0 -1.6 0M31 211.5a0.8 0.8 0 1 0 1.6 0a0.8 0.8 0 1 0 -1.6 0M32 211.2a0.8 0.8 0 1 0 1.6 0a0.8 0.8 0 1 0 -1.6 0M32.6 216.7a0.8 0.8 0 1 0 1.6 0a0.8 0.8 0 1 0 -1.6 0M33.4 217.2a0.8 0.8 0 1 0 1.6 0a0.8 0.8 0 1 0 -1.6 0M34.2 223.1a0.8 0.8 0 1 0 1.6 0a0.8 0.8 0 1 0 -1.6 0M35.1 217.9a0.8 0.8 0 1 0 1.6 0a0.8 0.8 0 1 0 -1.6 0M36 226.8a0.8 0.8 0 1 0 1.6 0a0.8 0.8 0 1 0 -1.6 0M36.5 218.3a0.8 0.8 0 1 0 1.6 0a0.8 0.8 0 1 0 -1.6 0M37.5 226.8a0.8 0.8 0 1 0 1.6 0a0.8 0.8 0 1 0 -1.6 0M38.2 226.8a0.8 0.8 0 1 0 1.6 0a0.8 0.8 0 1 0 -1.6 0M39 224.5a0.8 0.8 0 1 0 1.6 0a0.8 0.8 0 1 0 -1.6 0M39.4 212.9a0.8 0.8 0 1 0 1.6 0a0.8 0.8 0 1 0 -1.6 0M40.1 212.4a0.8 0.8 0 1 0 1.6 0a0.8 0.8 0 1 0 -1.6 0M40.8 215a0.8 0.8 0 1 0 1.6 0a0.8 0.8 0 1 0 -1.6 0M41.5 205.1a0.8 0.8 0 1 0 1.6 0a0.8 0.8 0 1 0 -1.6 0M42.1 207a0.8 0.8 0 1 0 1.6 0a0.8 0.8 0 1 0 -1.6 0M42.8 214.1a0.8 0.8 0 1 0 1.6 0a0.8 0.8 0 1 0 -1.6 0M43.3 214.6a0.8 0.8 0 1 0 1.6 0a0.8 0.8 0 1 0 -1.6 0M44.1 211.8a0.8 0.8 0 1 0 1.6 0a0.8 0.8 0 1 0 -1.6 0M44.8 204.8a0.8 0.8 0 1 0 1.6 0a0.8 0.8 0 1 0 -1.6 0M45 207.3a0.8 0.8 0 1 0 1.6 0a0.8 0.8 0 1 0 -1.6 0M45.8 214.8a0.8 0.8 0 1 0 1.6 0a0.8 0.8 0 1 0 -1.6 0M46.5 204.3a0.8 0.8 0 1 0 1.6 0a0.8 0.8 0 1 0 -1.6 0M47.2 211a0.8 0.8 0 1 0 1.6 0a0.8 0.8 0 1 0 -1.6 0M47.7 209.2a0.8 0.8 0 1 0 1.6 0a0.8 0.8 0 1 0 -1.6 0M48.2 204.9a0.8 0.8 0 1 0 1.6 0a0.8 0.8 0 1 0 -1.6 0M49.2 208.3a0.8 0.8 0 1 0 1.6 0a0.8 0.8 0 1 0 -1.6 0M49.8 211.7a0.8 0.8 0 1 0 1.6 0a0.8 0.8 0 1 0 -1.6 0M50.1 201.8a0.8 0.8 0 1 0 1.6 0a0.8 0.8 0 1 0 -1.6 0M50.9 206.5a0.8 0.8 0 1 0 1.6 0a0.8 0.8 0 1 0 -1.6 0M51.8 207a0.8 0.8 0 1 0 1.6 0a0.8 0.8 0 1 0 -1.6 0M52.4 207.9a0.8 0.8 0 1 0 1.6 0a0.8 0.8 0 1 0 -1.6 0M53 208.3a0.8 0.8 0 1 0 1.6 0a0.8 0.8 0 1 0 -1.6 0M53.5 212.1a0.8 0.8 0 1 0 1.6 0a0.8 0.8 0 1 0 -1.6 0M54.1 208.9a0.8 0.8 0 1 0 1.6 0a0.8 0.8 0 1 0 -1.6 0M54.8 213.6a0.8 0.8 0 1 0 1.6 0a0.8 0.8 0 1 0 -1.6 0M55.2 207.5a0.8 0.8 0 1 0 1.6 0a0.8 0.8 0 1 0 -1.6 0M56.1 214.2a0.8 0.8 0 1 0 1.6 0a0.8 0.8 0 1 0 -1.6 0M56.9 216.6a0.8 0.8 0 1 0 1.6 0a0.8 0.8 0 1 0 -1.6 0M57.6 218.7a0.8 0.8 0 1 0 1.6 0a0.8 0.8 0 1 0 -1.6 0M57.8 221.5a0.8 0.8 0 1 0 1.6 0a0.8 0.8 0 1 0 -1.6 0M58.7 218.9a0.8 0.8 0 1 0 1.6 0a0.8 0.8 0 1 0 -1.6 0M59.3 213.3a0.8 0.8 0 1 0 1.6 0a0.8 0.8 0 1 0 -1.6 0M59.7 219.8a0.8 0.8 0 1 0 1.6 0a0.8 0.8 0 1 0 -1.6 0M60.3 224.7a0.8 0.8 0 1 0 1.6 0a0.8 0.8 0 1 0 -1.6 0M61.2 217.9a0.8 0.8 0 1 0 1.6 0a0.8 0.8 0 1 0 -1.6 0M61.9 211.5a0.8 0.8 0 1 0 1.6 0a0.8 0.8 0 1 0 -1.6 0M62.7 216.2a0.8 0.8 0 1 0 1.6 0a0.8 0.8 0 1 0 -1.6 0M63 207.1a0.8 0.8 0 1 0 1.6 0a0.8 0.8 0 1 0 -1.6 0M63.9 206.7a0.8 0.8 0 1 0 1.6 0a0.8 0.8 0 1 0 -1.6 0M64.1 203.3a0.8 0.8 0 1 0 1.6 0a0.8 0.8 0 1 0 -1.6 0M65 208.5a0.8 0.8 0 1 0 1.6 0a0.8 0.8 0 1 0 -1.6 0M65.7 223.4a0.8 0.8 0 1 0 1.6 0a0.8 0.8 0 1 0 -1.6 0M66.3 225.8a0.8 0.8 0 1 0 1.6 0a0.8 0.8 0 1 0 -1.6 0M67 215.5a0.8 0.8 0 1 0 1.6 0a0.8 0.8 0 1 0 -1.6 0M67.6 216.9a0.8 0.8 0 1 0 1.6 0a0.8 0.8 0 1 0 -1.6 0M68.4 225a0.8 0.8 0 1 0 1.6 0a0.8 0.8 0 1 0 -1.6 0M68.9 213.2a0.8 0.8 0 1 0 1.6 0a0.8 0.8 0 1 0 -1.6 0M69.4 220.2a0.8 0.8 0 1 0 1.6 0a0.8 0.8 0 1 0 -1.6 0M70.2 224.6a0.8 0.8 0 1 0 1.6 0a0.8 0.8 0 1 0 -1.6 0M70.9 211.8a0.8 0.8 0 1 0 1.6 0a0.8 0.8 0 1 0 -1.6 0M71.5 206.2a0.8 0.8 0 1 0 1.6 0a0.8 0.8 0 1 0 -1.6 0M72 213.7a0.8 0.8 0 1 0 1.6 0a0.8 0.8 0 1 0 -1.6 0M72.5 221.7a0.8 0.8 0 1 0 1.6 0a0.8 0.8 0 1 0 -1.6 0M73.2 227.7a0.8 0.8 0 1 0 1.6 0a0.8 0.8 0 1 0 -1.6 0M73.7 220.9a0.8 0.8 0 1 0 1.6 0a0.8 0.8 0 1 0 -1.6 0M74.7 221.2a0.8 0.8 0 1 0 1.6 0a0.8 0.8 0 1 0 -1.6 0M75.2 219.9a0.8 0.8 0 1 0 1.6 0a0.8 0.8 0 1 0 -1.6 0M76.4 217.6a0.8 0.8 0 1 0 1.6 0a0.8 0.8 0 1 0 -1.6 0M77.7 212.5a0.8 0.8 0 1 0 1.6 0a0.8 0.8 0 1 0 -1.6 0M78.5 213.6a0.8 0.8 0 1 0 1.6 0a0.8 0.8 0 1 0 -1.6 0M79.1 210.7a0.8 0.8 0 1 0 1.6 0a0.8 0.8 0 1 0 -1.6 0M80.3 210.4a0.8 0.8 0 1 0 1.6 0a0.8 0.8 0 1 0 -1.6 0M81.2 213.6a0.8 0.8 0 1 0 1.6 0a0.8 0.8 0 1 0 -1.6 0M81.8 221.8a0.8 0.8 0 1 0 1.6 0a0.8 0.8 0 1 0 -1.6 0M82.9 216a0.8 0.8 0 1 0 1.6 0a0.8 0.8 0 1 0 -1.6 0M83.8 225.1a0.8 0.8 0 1 0 1.6 0a0.8 0.8 0 1 0 -1.6 0M84 220.7a0.8 0.8 0 1 0 1.6 0a0.8 0.8 0 1 0 -1.6 0M84.8 226.8a0.8 0.8 0 1 0 1.6 0a0.8 0.8 0 1 0 -1.6 0M85.3 220.6a0.8 0.8 0 1 0 1.6 0a0.8 0.8 0 1 0 -1.6 0M86.4 225.2a0.8 0.8 0 1 0 1.6 0a0.8 0.8 0 1 0 -1.6 0M87.1 220.2a0.8 0.8 0 1 0 1.6 0a0.8 0.8 0 1 0 -1.6 0M87.9 218.9a0.8 0.8 0 1 0 1.6 0a0.8 0.8 0 1 0 -1.6 0M88.5 222.4a0.8 0.8 0 1 0 1.6 0a0.8 0.8 0 1 0 -1.6 0M89.2 211.1a0.8 0.8 0 1 0 1.6 0a0.8 0.8 0 1 0 -1.6 0M89.6 216a0.8 0.8 0 1 0 1.6 0a0.8 0.8 0 1 0 -1.6 0M90.5 209a0.8 0.8 0 1 0 1.6 0a0.8 0.8 0 1 0 -1.6 0M91 215.3a0.8 0.8 0 1 0 1.6 0a0.8 0.8 0 1 0 -1.6 0M91.6 226.8a0.8 0.8 0 1 0 1.6 0a0.8 0.8 0 1 0 -1.6 0M92.6 216.7a0.8 0.8 0 1 0 1.6 0a0.8 0.8 0 1 0 -1.6 0M93.2 210a0.8 0.8 0 1 0 1.6 0a0.8 0.8 0 1 0 -1.6 0M93.7 212.6a0.8 0.8 0 1 0 1.6 0a0.8 0.8 0 1 0 -1.6 0M94.3 209.2a0.8 0.8 0 1 0 1.6 0a0.8 0.8 0 1 0 -1.6 0M95 214.5a0.8 0.8 0 1 0 1.6 0a0.8 0.8 0 1 0 -1.6 0M95.8 212.2a0.8 0.8 0 1 0 1.6 0a0.8 0.8 0 1 0 -1.6 0M96.3 213.4a0.8 0.8 0 1 0 1.6 0a0.8 0.8 0 1 0 -1.6 0M97.4 208a0.8 0.8 0 1 0 1.6 0a0.8 0.8 0 1 0 -1.6 0M97.7 207a0.8 0.8 0 1 0 1.6 0a0.8 0.8 0 1 0 -1.6 0M98.5 202.1a0.8 0.8 0 1 0 1.6 0a0.8 0.8 0 1 0 -1.6 0M99 204.1a0.8 0.8 0 1 0 1.6 0a0.8 0.8 0 1 0 -1.6 0M99.9 209a0.8 0.8 0 1 0 1.6 0a0.8 0.8 0 1 0 -1.6 0M100.4 208.9a0.8 0.8 0 1 0 1.6 0a0.8 0.8 0 1 0 -1.6 0M101.3 215.5a0.8 0.8 0 1 0 1.6 0a0.8 0.8 0 1 0 -1.6 0M102.1 216.1a0.8 0.8 0 1 0 1.6 0a0.8 0.8 0 1 0 -1.6 0M102.5 219.6a0.8 0.8 0 1 0 1.6 0a0.8 0.8 0 1 0 -1.6 0M103.3 225.5a0.8 0.8 0 1 0 1.6 0a0.8 0.8 0 1 0 -1.6 0M103.7 221.6a0.8 0.8 0 1 0 1.6 0a0.8 0.8 0 1 0 -1.6 0M104.4 208.7a0.8 0.8 0 1 0 1.6 0a0.8 0.8 0 1 0 -1.6 0M105.1 210.8a0.8 0.8 0 1 0 1.6 0a0.8 0.8 0 1 0 -1.6 0M106.1 225.1a0.8 0.8 0 1 0 1.6 0a0.8 0.8 0 1 0 -1.6 0M106.7 216.4a0.8 0.8 0 1 0 1.6 0a0.8 0.8 0 1 0 -1.6 0M107.5 206.5a0.8 0.8 0 1 0 1.6 0a0.8 0.8 0 1 0 -1.6 0M108 203.5a0.8 0.8 0 1 0 1.6 0a0.8 0.8 0 1 0 -1.6 0M108.5 205.8a0.8 0.8 0 1 0 1.6 0a0.8 0.8 0 1 0 -1.6 0M109.5 212.3a0.8 0.8 0 1 0 1.6 0a0.8 0.8 0 1 0 -1.6 0M109.8 218.6a0.8 0.8 0 1 0 1.6 0a0.8 0.8 0 1 0 -1.6 0M110.7 214.1a0.8 0.8 0 1 0 1.6 0a0.8 0.8 0 1 0 -1.6 0M111.6 216.8a0.8 0.8 0 1 0 1.6 0a0.8 0.8 0 1 0 -1.6 0M111.9 204.5a0.8 0.8 0 1 0 1.6 0a0.8 0.8 0 1 0 -1.6 0M113 210.4a0.8 0.8 0 1 0 1.6 0a0.8 0.8 0 1 0 -1.6 0M113.7 204.5a0.8 0.8 0 1 0 1.6 0a0.8 0.8 0 1 0 -1.6 0M114.2 207.4a0.8 0.8 0 1 0 1.6 0a0.8 0.8 0 1 0 -1.6 0M115.1 212a0.8 0.8 0 1 0 1.6 0a0.8 0.8 0 1 0 -1.6 0M115.3 217.3a0.8 0.8 0 1 0 1.6 0a0.8 0.8 0 1 0 -1.6 0M116.3 224.8a0.8 0.8 0 1 0 1.6 0a0.8 0.8 0 1 0 -1.6 0M117 226.8a0.8 0.8 0 1 0 1.6 0a0.8 0.8 0 1 0 -1.6 0M117.4 222.2a0.8 0.8 0 1 0 1.6 0a0.8 0.8 0 1 0 -1.6 0M118 214.2a0.8 0.8 0 1 0 1.6 0a0.8 0.8 0 1 0 -1.6 0M118.9 214a0.8 0.8 0 1 0 1.6 0a0.8 0.8 0 1 0 -1.6 0M119.8 219.1a0.8 0.8 0 1 0 1.6 0a0.8 0.8 0 1 0 -1.6 0M120.5 214.9a0.8 0.8 0 1 0 1.6 0a0.8 0.8 0 1 0 -1.6 0M121 212.4a0.8 0.8 0 1 0 1.6 0a0.8 0.8 0 1 0 -1.6 0M122.1 219.5a0.8 0.8 0 1 0 1.6 0a0.8 0.8 0 1 0 -1.6 0M122.7 224.8a0.8 0.8 0 1 0 1.6 0a0.8 0.8 0 1 0 -1.6 0M123.4 222.4a0.8 0.8 0 1 0 1.6 0a0.8 0.8 0 1 0 -1.6 0M123.9 216.5a0.8 0.8 0 1 0 1.6 0a0.8 0.8 0 1 0 -1.6 0M124.7 217.6a0.8 0.8 0 1 0 1.6 0a0.8 0.8 0 1 0 -1.6 0M125.7 218.4a0.8 0.8 0 1 0 1.6 0a0.8 0.8 0 1 0 -1.6 0M126.5 215.6a0.8 0.8 0 1 0 1.6 0a0.8 0.8 0 1 0 -1.6 0M127 210.9a0.8 0.8 0 1 0 1.6 0a0.8 0.8 0 1 0 -1.6 0M127.6 211.7a0.8 0.8 0 1 0 1.6 0a0.8 0.8 0 1 0 -1.6 0M128.3 213.2a0.8 0.8 0 1 0 1.6 0a0.8 0.8 0 1 0 -1.6 0M128.9 216.7a0.8 0.8 0 1 0 1.6 0a0.8 0.8 0 1 0 -1.6 0M130 220.1a0.8 0.8 0 1 0 1.6 0a0.8 0.8 0 1 0 -1.6 0M130.8 219.6a0.8 0.8 0 1 0 1.6 0a0.8 0.8 0 1 0 -1.6 0M131.4 214.5a0.8 0.8 0 1 0 1.6 0a0.8 0.8 0 1 0 -1.6 0M131.9 217.5a0.8 0.8 0 1 0 1.6 0a0.8 0.8 0 1 0 -1.6 0M132.6 221.8a0.8 0.8 0 1 0 1.6 0a0.8 0.8 0 1 0 -1.6 0M133.3 217.1a0.8 0.8 0 1 0 1.6 0a0.8 0.8 0 1 0 -1.6 0M134.2 209a0.8 0.8 0 1 0 1.6 0a0.8 0.8 0 1 0 -1.6 0M134.6 213.8a0.8 0.8 0 1 0 1.6 0a0.8 0.8 0 1 0 -1.6 0M135.6 214.8a0.8 0.8 0 1 0 1.6 0a0.8 0.8 0 1 0 -1.6 0M136.6 215.5a0.8 0.8 0 1 0 1.6 0a0.8 0.8 0 1 0 -1.6 0M137.2 219.9a0.8 0.8 0 1 0 1.6 0a0.8 0.8 0 1 0 -1.6 0M137.9 219.2a0.8 0.8 0 1 0 1.6 0a0.8 0.8 0 1 0 -1.6 0M138.4 221.6a0.8 0.8 0 1 0 1.6 0a0.8 0.8 0 1 0 -1.6 0M139.1 220.6a0.8 0.8 0 1 0 1.6 0a0.8 0.8 0 1 0 -1.6 0M139.9 211.8a0.8 0.8 0 1 0 1.6 0a0.8 0.8 0 1 0 -1.6 0M140.5 210.6a0.8 0.8 0 1 0 1.6 0a0.8 0.8 0 1 0 -1.6 0M141.3 208a0.8 0.8 0 1 0 1.6 0a0.8 0.8 0 1 0 -1.6 0M142.1 204.9a0.8 0.8 0 1 0 1.6 0a0.8 0.8 0 1 0 -1.6 0M142.9 214.6a0.8 0.8 0 1 0 1.6 0a0.8 0.8 0 1 0 -1.6 0M151.7 214.2a0.8 0.8 0 1 0 1.6 0a0.8 0.8 0 1 0 -1.6 0M152.3 210.5a0.8 0.8 0 1 0 1.6 0a0.8 0.8 0 1 0 -1.6 0M152.9 208.6a0.8 0.8 0 1 0 1.6 0a0.8 0.8 0 1 0 -1.6 0M153.3 210.1a0.8 0.8 0 1 0 1.6 0a0.8 0.8 0 1 0 -1.6 0M154.4 212.1a0.8 0.8 0 1 0 1.6 0a0.8 0.8 0 1 0 -1.6 0M155 215.2a0.8 0.8 0 1 0 1.6 0a0.8 0.8 0 1 0 -1.6 0M155.4 218.3a0.8 0.8 0 1 0 1.6 0a0.8 0.8 0 1 0 -1.6 0M156.2 214.3a0.8 0.8 0 1 0 1.6 0a0.8 0.8 0 1 0 -1.6 0M156.9 214.7a0.8 0.8 0 1 0 1.6 0a0.8 0.8 0 1 0 -1.6 0M157.6 207.8a0.8 0.8 0 1 0 1.6 0a0.8 0.8 0 1 0 -1.6 0M158.4 211.6a0.8 0.8 0 1 0 1.6 0a0.8 0.8 0 1 0 -1.6 0M159 222.5a0.8 0.8 0 1 0 1.6 0a0.8 0.8 0 1 0 -1.6 0M159.3 214.3a0.8 0.8 0 1 0 1.6 0a0.8 0.8 0 1 0 -1.6 0M160.3 212.2a0.8 0.8 0 1 0 1.6 0a0.8 0.8 0 1 0 -1.6 0M160.6 212.8a0.8 0.8 0 1 0 1.6 0a0.8 0.8 0 1 0 -1.6 0M161.5 211.1a0.8 0.8 0 1 0 1.6 0a0.8 0.8 0 1 0 -1.6 0M162.3 220a0.8 0.8 0 1 0 1.6 0a0.8 0.8 0 1 0 -1.6 0M162.8 218.6a0.8 0.8 0 1 0 1.6 0a0.8 0.8 0 1 0 -1.6 0M163.4 211.7a0.8 0.8 0 1 0 1.6 0a0.8 0.8 0 1 0 -1.6 0M164.2 213.8a0.8 0.8 0 1 0 1.6 0a0.8 0.8 0 1 0 -1.6 0M165.1 215.4a0.8 0.8 0 1 0 1.6 0a0.8 0.8 0 1 0 -1.6 0M165.3 214.1a0.8 0.8 0 1 0 1.6 0a0.8 0.8 0 1 0 -1.6 0M165.9 214.6a0.8 0.8 0 1 0 1.6 0a0.8 0.8 0 1 0 -1.6 0M167.1 216.4a0.8 0.8 0 1 0 1.6 0a0.8 0.8 0 1 0 -1.6 0M167.7 211.4a0.8 0.8 0 1 0 1.6 0a0.8 0.8 0 1 0 -1.6 0M168 219.6a0.8 0.8 0 1 0 1.6 0a0.8 0.8 0 1 0 -1.6 0M168.9 222.8a0.8 0.8 0 1 0 1.6 0a0.8 0.8 0 1 0 -1.6 0M169.3 213.3a0.8 0.8 0 1 0 1.6 0a0.8 0.8 0 1 0 -1.6 0M170 206.5a0.8 0.8 0 1 0 1.6 0a0.8 0.8 0 1 0 -1.6 0M171 214.5a0.8 0.8 0 1 0 1.6 0a0.8 0.8 0 1 0 -1.6 0M171.3 216.6a0.8 0.8 0 1 0 1.6 0a0.8 0.8 0 1 0 -1.6 0M172.8 214.6a0.8 0.8 0 1 0 1.6 0a0.8 0.8 0 1 0 -1.6 0M173.7 215.1a0.8 0.8 0 1 0 1.6 0a0.8 0.8 0 1 0 -1.6 0M175.1 215.8a0.8 0.8 0 1 0 1.6 0a0.8 0.8 0 1 0 -1.6 0M176.2 216.3a0.8 0.8 0 1 0 1.6 0a0.8 0.8 0 1 0 -1.6 0M177.4 216.4a0.8 0.8 0 1 0 1.6 0a0.8 0.8 0 1 0 -1.6 0M177.9 218.8a0.8 0.8 0 1 0 1.6 0a0.8 0.8 0 1 0 -1.6 0M179.2 218.3a0.8 0.8 0 1 0 1.6 0a0.8 0.8 0 1 0 -1.6 0M180.2 215.4a0.8 0.8 0 1 0 1.6 0a0.8 0.8 0 1 0 -1.6 0M181.7 214.7a0.8 0.8 0 1 0 1.6 0a0.8 0.8 0 1 0 -1.6 0M182.6 215.7a0.8 0.8 0 1 0 1.6 0a0.8 0.8 0 1 0 -1.6 0M183.7 214.8a0.8 0.8 0 1 0 1.6 0a0.8 0.8 0 1 0 -1.6 0M184.3 211.9a0.8 0.8 0 1 0 1.6 0a0.8 0.8 0 1 0 -1.6 0M185.6 213a0.8 0.8 0 1 0 1.6 0a0.8 0.8 0 1 0 -1.6 0" fill="#33904c" stroke="#1a3320" stroke-width="0.3"/>
<path d="M25.6 196.6a0.9 0.9 0 1 0 1.8 0a0.9 0.9 0 1 0 -1.8 0M27.6 199.6a0.9 0.9 0 1 0 1.8 0a0.9 0.9 0 1 0 -1.8 0M32.6 223a0.9 0.9 0 1 0 1.8 0a0.9 0.9 0 1 0 -1.8 0M41.6 206a0.9 0.9 0 1 0 1.8 0a0.9 0.9 0 1 0 -1.8 0M42.6 224a0.9 0.9 0 1 0 1.8 0a0.9 0.9 0 1 0 -1.8 0M45.6 204a0.9 0.9 0 1 0 1.8 0a0.9 0.9 0 1 0 -1.8 0M47.6 204.4a0.9 0.9 0 1 0 1.8 0a0.9 0.9 0 1 0 -1.8 0M49.6 231a0.9 0.9 0 1 0 1.8 0a0.9 0.9 0 1 0 -1.8 0M54.6 204.6a0.9 0.9 0 1 0 1.8 0a0.9 0.9 0 1 0 -1.8 0M54.6 227a0.9 0.9 0 1 0 1.8 0a0.9 0.9 0 1 0 -1.8 0M58.6 227a0.9 0.9 0 1 0 1.8 0a0.9 0.9 0 1 0 -1.8 0M65.6 223.6a0.9 0.9 0 1 0 1.8 0a0.9 0.9 0 1 0 -1.8 0M68.6 202a0.9 0.9 0 1 0 1.8 0a0.9 0.9 0 1 0 -1.8 0M72.6 230.4a0.9 0.9 0 1 0 1.8 0a0.9 0.9 0 1 0 -1.8 0M82.6 221a0.9 0.9 0 1 0 1.8 0a0.9 0.9 0 1 0 -1.8 0M89.6 225a0.9 0.9 0 1 0 1.8 0a0.9 0.9 0 1 0 -1.8 0M91.6 194a0.9 0.9 0 1 0 1.8 0a0.9 0.9 0 1 0 -1.8 0M91.6 203a0.9 0.9 0 1 0 1.8 0a0.9 0.9 0 1 0 -1.8 0M92.6 225a0.9 0.9 0 1 0 1.8 0a0.9 0.9 0 1 0 -1.8 0M97.6 226a0.9 0.9 0 1 0 1.8 0a0.9 0.9 0 1 0 -1.8 0M103.6 204.6a0.9 0.9 0 1 0 1.8 0a0.9 0.9 0 1 0 -1.8 0M110.6 229a0.9 0.9 0 1 0 1.8 0a0.9 0.9 0 1 0 -1.8 0M121.6 219a0.9 0.9 0 1 0 1.8 0a0.9 0.9 0 1 0 -1.8 0M128.6 224a0.9 0.9 0 1 0 1.8 0a0.9 0.9 0 1 0 -1.8 0M133.6 213a0.9 0.9 0 1 0 1.8 0a0.9 0.9 0 1 0 -1.8 0M133.6 230a0.9 0.9 0 1 0 1.8 0a0.9 0.9 0 1 0 -1.8 0M135.6 199.6a0.9 0.9 0 1 0 1.8 0a0.9 0.9 0 1 0 -1.8 0M159.6 196a0.9 0.9 0 1 0 1.8 0a0.9 0.9 0 1 0 -1.8 0M165.6 205a0.9 0.9 0 1 0 1.8 0a0.9 0.9 0 1 0 -1.8 0M168.6 220a0.9 0.9 0 1 0 1.8 0a0.9 0.9 0 1 0 -1.8 0M182.6 202.4a0.9 0.9 0 1 0 1.8 0a0.9 0.9 0 1 0 -1.8 0M151.6 222a0.9 0.9 0 1 0 1.8 0a0.9 0.9 0 1 0 -1.8 0M155.6 219a0.9 0.9 0 1 0 1.8 0a0.9 0.9 0 1 0 -1.8 0M162.6 222a0.9 0.9 0 1 0 1.8 0a0.9 0.9 0 1 0 -1.8 0" fill="#275a32" stroke="#1a3320" stroke-width="0.4"/>
<path d="M25.7 219a0.9 0.9 0 1 0 1.8 0a0.9 0.9 0 1 0 -1.8 0" fill="#c83a2a" stroke="#6a2a1a" stroke-width="0.25"/>
<path d="M25.6 241a0.9 0.9 0 1 0 1.8 0a0.9 0.9 0 1 0 -1.8 0M27.6 243.6a0.9 0.9 0 1 0 1.8 0a0.9 0.9 0 1 0 -1.8 0M33.6 205.6a0.9 0.9 0 1 0 1.8 0a0.9 0.9 0 1 0 -1.8 0M37.6 246.6a0.9 0.9 0 1 0 1.8 0a0.9 0.9 0 1 0 -1.8 0M46.6 243a0.9 0.9 0 1 0 1.8 0a0.9 0.9 0 1 0 -1.8 0M61.6 172.6a0.9 0.9 0 1 0 1.8 0a0.9 0.9 0 1 0 -1.8 0M75.6 192a0.9 0.9 0 1 0 1.8 0a0.9 0.9 0 1 0 -1.8 0M81.6 149a0.9 0.9 0 1 0 1.8 0a0.9 0.9 0 1 0 -1.8 0M136.6 241a0.9 0.9 0 1 0 1.8 0a0.9 0.9 0 1 0 -1.8 0M140.6 241a0.9 0.9 0 1 0 1.8 0a0.9 0.9 0 1 0 -1.8 0M145.6 169a0.9 0.9 0 1 0 1.8 0a0.9 0.9 0 1 0 -1.8 0M147.6 179a0.9 0.9 0 1 0 1.8 0a0.9 0.9 0 1 0 -1.8 0M147.6 192a0.9 0.9 0 1 0 1.8 0a0.9 0.9 0 1 0 -1.8 0M148.6 242a0.9 0.9 0 1 0 1.8 0a0.9 0.9 0 1 0 -1.8 0M149.6 232a0.9 0.9 0 1 0 1.8 0a0.9 0.9 0 1 0 -1.8 0M172.6 244a0.9 0.9 0 1 0 1.8 0a0.9 0.9 0 1 0 -1.8 0M145.6 192a0.9 0.9 0 1 0 1.8 0a0.9 0.9 0 1 0 -1.8 0M149.6 193a0.9 0.9 0 1 0 1.8 0a0.9 0.9 0 1 0 -1.8 0" fill="#6a3a28" stroke="#3a1a10" stroke-width="0.3"/>
<rect x="145.4" y="192.5" width="6" height="22.5" fill="#f0a8a0" stroke="#c84030" stroke-width="0.6"/>
<line x1="176.6" y1="157" x2="176.6" y2="251" stroke="#cfcfe8" stroke-width="1.1"/>
<line x1="176.6" y1="157" x2="176.6" y2="251" stroke="#8080b8" stroke-width="0.7" stroke-dasharray="1.3 1.1"/>
<line x1="188.4" y1="157" x2="188.4" y2="251" stroke="#cfcfe8" stroke-width="1.1"/>
<line x1="188.4" y1="157" x2="188.4" y2="251" stroke="#8080b8" stroke-width="0.7" stroke-dasharray="1.3 1.1"/>
</g>
<rect x="17.5" y="145.5" width="179" height="106" fill="none" stroke="#989898" stroke-width="1.0"/>
<line x1="16.4" y1="155" x2="17.7" y2="155" stroke="#333" stroke-width="0.5"/>
<text x="15.8" y="156.04" text-anchor="end" font-size="3.02" textLength="4.61" lengthAdjust="spacingAndGlyphs" fill="#111" stroke="#111" stroke-width="0.14">0.8</text>
<line x1="16.4" y1="169.83" x2="17.7" y2="169.83" stroke="#333" stroke-width="0.5"/>
<text x="15.8" y="170.87" text-anchor="end" font-size="3.02" textLength="4.61" lengthAdjust="spacingAndGlyphs" fill="#111" stroke="#111" stroke-width="0.14">0.6</text>
<line x1="16.4" y1="184.66" x2="17.7" y2="184.66" stroke="#333" stroke-width="0.5"/>
<text x="15.8" y="185.7" text-anchor="end" font-size="3.02" textLength="4.61" lengthAdjust="spacingAndGlyphs" fill="#111" stroke="#111" stroke-width="0.14">0.4</text>
<line x1="16.4" y1="199.49" x2="17.7" y2="199.49" stroke="#333" stroke-width="0.5"/>
<text x="15.8" y="200.53" text-anchor="end" font-size="3.02" textLength="4.61" lengthAdjust="spacingAndGlyphs" fill="#111" stroke="#111" stroke-width="0.14">0.2</text>
<line x1="16.4" y1="214.32" x2="17.7" y2="214.32" stroke="#333" stroke-width="0.5"/>
<text x="15.8" y="215.36" text-anchor="end" font-size="3.02" textLength="4.61" lengthAdjust="spacingAndGlyphs" fill="#111" stroke="#111" stroke-width="0.14">0.0</text>
<line x1="16.4" y1="229.15" x2="17.7" y2="229.15" stroke="#333" stroke-width="0.5"/>
<text x="15.8" y="230.19" text-anchor="end" font-size="3.02" textLength="7.04" lengthAdjust="spacingAndGlyphs" fill="#111" stroke="#111" stroke-width="0.14">−0.2</text>
<line x1="16.4" y1="243.98" x2="17.7" y2="243.98" stroke="#333" stroke-width="0.5"/>
<text x="15.8" y="245.02" text-anchor="end" font-size="3.02" textLength="7.04" lengthAdjust="spacingAndGlyphs" fill="#111" stroke="#111" stroke-width="0.14">−0.4</text>
<line x1="25.75" y1="251.7" x2="25.75" y2="253" stroke="#333" stroke-width="0.5"/>
<text transform="translate(27.14 254.1) rotate(-90)" text-anchor="end" font-size="3.02" textLength="8.43" lengthAdjust="spacingAndGlyphs" fill="#222" stroke="#222" stroke-width="0.06">07-27</text>
<line x1="30.5" y1="251.7" x2="30.5" y2="253" stroke="#333" stroke-width="0.5"/>
<text transform="translate(31.89 254.1) rotate(-90)" text-anchor="end" font-size="3.02" textLength="8.43" lengthAdjust="spacingAndGlyphs" fill="#222" stroke="#222" stroke-width="0.06">07-27</text>
<line x1="39.25" y1="251.7" x2="39.25" y2="253" stroke="#333" stroke-width="0.5"/>
<text transform="translate(40.64 254.1) rotate(-90)" text-anchor="end" font-size="3.02" textLength="8.43" lengthAdjust="spacingAndGlyphs" fill="#222" stroke="#222" stroke-width="0.06">07-27</text>
<line x1="46.1" y1="251.7" x2="46.1" y2="253" stroke="#333" stroke-width="0.5"/>
<text transform="translate(47.49 254.1) rotate(-90)" text-anchor="end" font-size="3.02" textLength="8.43" lengthAdjust="spacingAndGlyphs" fill="#222" stroke="#222" stroke-width="0.06">07-27</text>
<line x1="53.25" y1="251.7" x2="53.25" y2="253" stroke="#333" stroke-width="0.5"/>
<text transform="translate(54.64 254.1) rotate(-90)" text-anchor="end" font-size="3.02" textLength="8.43" lengthAdjust="spacingAndGlyphs" fill="#222" stroke="#222" stroke-width="0.06">07-27</text>
<line x1="57.25" y1="251.7" x2="57.25" y2="253" stroke="#333" stroke-width="0.5"/>
<text transform="translate(58.64 254.1) rotate(-90)" text-anchor="end" font-size="3.02" textLength="8.43" lengthAdjust="spacingAndGlyphs" fill="#222" stroke="#222" stroke-width="0.06">07-27</text>
<line x1="60.75" y1="251.7" x2="60.75" y2="253" stroke="#333" stroke-width="0.5"/>
<text transform="translate(62.14 254.1) rotate(-90)" text-anchor="end" font-size="3.02" textLength="8.43" lengthAdjust="spacingAndGlyphs" fill="#222" stroke="#222" stroke-width="0.06">07-27</text>
<line x1="75.6" y1="251.7" x2="75.6" y2="253" stroke="#333" stroke-width="0.5"/>
<text transform="translate(76.99 254.1) rotate(-90)" text-anchor="end" font-size="3.02" textLength="8.43" lengthAdjust="spacingAndGlyphs" fill="#222" stroke="#222" stroke-width="0.06">07-27</text>
<line x1="86.9" y1="251.7" x2="86.9" y2="253" stroke="#333" stroke-width="0.5"/>
<text transform="translate(88.29 254.1) rotate(-90)" text-anchor="end" font-size="3.02" textLength="8.43" lengthAdjust="spacingAndGlyphs" fill="#222" stroke="#222" stroke-width="0.06">07-27</text>
<line x1="91.9" y1="251.7" x2="91.9" y2="253" stroke="#333" stroke-width="0.5"/>
<text transform="translate(93.29 254.1) rotate(-90)" text-anchor="end" font-size="3.02" textLength="8.43" lengthAdjust="spacingAndGlyphs" fill="#222" stroke="#222" stroke-width="0.06">07-27</text>
<line x1="96.25" y1="251.7" x2="96.25" y2="253" stroke="#333" stroke-width="0.5"/>
<text transform="translate(97.64 254.1) rotate(-90)" text-anchor="end" font-size="3.02" textLength="8.43" lengthAdjust="spacingAndGlyphs" fill="#222" stroke="#222" stroke-width="0.06">07-27</text>
<line x1="102.8" y1="251.7" x2="102.8" y2="253" stroke="#333" stroke-width="0.5"/>
<text transform="translate(104.19 254.1) rotate(-90)" text-anchor="end" font-size="3.02" textLength="8.43" lengthAdjust="spacingAndGlyphs" fill="#222" stroke="#222" stroke-width="0.06">07-27</text>
<line x1="105" y1="251.7" x2="105" y2="253" stroke="#333" stroke-width="0.5"/>
<text transform="translate(106.39 254.1) rotate(-90)" text-anchor="end" font-size="3.02" textLength="8.43" lengthAdjust="spacingAndGlyphs" fill="#222" stroke="#222" stroke-width="0.06">07-27</text>
<line x1="107.5" y1="251.7" x2="107.5" y2="253" stroke="#333" stroke-width="0.5"/>
<text transform="translate(108.89 254.1) rotate(-90)" text-anchor="end" font-size="3.02" textLength="8.43" lengthAdjust="spacingAndGlyphs" fill="#222" stroke="#222" stroke-width="0.06">07-27</text>
<line x1="111.9" y1="251.7" x2="111.9" y2="253" stroke="#333" stroke-width="0.5"/>
<text transform="translate(113.29 254.1) rotate(-90)" text-anchor="end" font-size="3.02" textLength="8.43" lengthAdjust="spacingAndGlyphs" fill="#222" stroke="#222" stroke-width="0.06">07-27</text>
<line x1="116.25" y1="251.7" x2="116.25" y2="253" stroke="#333" stroke-width="0.5"/>
<text transform="translate(117.64 254.1) rotate(-90)" text-anchor="end" font-size="3.02" textLength="8.43" lengthAdjust="spacingAndGlyphs" fill="#222" stroke="#222" stroke-width="0.06">07-27</text>
<line x1="122.5" y1="251.7" x2="122.5" y2="253" stroke="#333" stroke-width="0.5"/>
<text transform="translate(123.89 254.1) rotate(-90)" text-anchor="end" font-size="3.02" textLength="8.43" lengthAdjust="spacingAndGlyphs" fill="#222" stroke="#222" stroke-width="0.06">07-27</text>
<line x1="126.25" y1="251.7" x2="126.25" y2="253" stroke="#333" stroke-width="0.5"/>
<text transform="translate(127.64 254.1) rotate(-90)" text-anchor="end" font-size="3.02" textLength="8.43" lengthAdjust="spacingAndGlyphs" fill="#222" stroke="#222" stroke-width="0.06">07-27</text>
<line x1="131.9" y1="251.7" x2="131.9" y2="253" stroke="#333" stroke-width="0.5"/>
<text transform="translate(133.29 254.1) rotate(-90)" text-anchor="end" font-size="3.02" textLength="8.43" lengthAdjust="spacingAndGlyphs" fill="#222" stroke="#222" stroke-width="0.06">07-27</text>
<line x1="135.6" y1="251.7" x2="135.6" y2="253" stroke="#333" stroke-width="0.5"/>
<text transform="translate(136.99 254.1) rotate(-90)" text-anchor="end" font-size="3.02" textLength="8.43" lengthAdjust="spacingAndGlyphs" fill="#222" stroke="#222" stroke-width="0.06">07-27</text>
<line x1="141.25" y1="251.7" x2="141.25" y2="253" stroke="#333" stroke-width="0.5"/>
<text transform="translate(142.64 254.1) rotate(-90)" text-anchor="end" font-size="3.02" textLength="8.43" lengthAdjust="spacingAndGlyphs" fill="#222" stroke="#222" stroke-width="0.06">07-27</text>
<line x1="147.5" y1="251.7" x2="147.5" y2="253" stroke="#333" stroke-width="0.5"/>
<text transform="translate(148.89 254.1) rotate(-90)" text-anchor="end" font-size="3.02" textLength="8.43" lengthAdjust="spacingAndGlyphs" fill="#222" stroke="#222" stroke-width="0.06">07-27</text>
<line x1="153.75" y1="251.7" x2="153.75" y2="253" stroke="#333" stroke-width="0.5"/>
<text transform="translate(155.14 254.1) rotate(-90)" text-anchor="end" font-size="3.02" textLength="8.43" lengthAdjust="spacingAndGlyphs" fill="#222" stroke="#222" stroke-width="0.06">07-27</text>
<line x1="155.6" y1="251.7" x2="155.6" y2="253" stroke="#333" stroke-width="0.5"/>
<text transform="translate(156.99 254.1) rotate(-90)" text-anchor="end" font-size="3.02" textLength="8.43" lengthAdjust="spacingAndGlyphs" fill="#222" stroke="#222" stroke-width="0.06">07-27</text>
<line x1="166" y1="251.7" x2="166" y2="253" stroke="#333" stroke-width="0.5"/>
<text transform="translate(167.39 254.1) rotate(-90)" text-anchor="end" font-size="3.02" textLength="8.43" lengthAdjust="spacingAndGlyphs" fill="#222" stroke="#222" stroke-width="0.06">07-27</text>
<line x1="175.6" y1="251.7" x2="175.6" y2="253" stroke="#333" stroke-width="0.5"/>
<text transform="translate(176.99 254.1) rotate(-90)" text-anchor="end" font-size="3.02" textLength="13.04" lengthAdjust="spacingAndGlyphs" fill="#222" stroke="#222" stroke-width="0.06">07-27 13</text>
<line x1="179.75" y1="251.7" x2="179.75" y2="253" stroke="#333" stroke-width="0.5"/>
<text transform="translate(181.14 254.1) rotate(-90)" text-anchor="end" font-size="3.02" textLength="8.43" lengthAdjust="spacingAndGlyphs" fill="#222" stroke="#222" stroke-width="0.06">07-27</text>
<line x1="188.6" y1="251.7" x2="188.6" y2="253" stroke="#333" stroke-width="0.5"/>
<text transform="translate(189.99 254.1) rotate(-90)" text-anchor="end" font-size="3.02" textLength="13.04" lengthAdjust="spacingAndGlyphs" fill="#222" stroke="#222" stroke-width="0.06">07-27 13</text>
<text x="106.95" y="143.1" text-anchor="middle" font-size="3.92" textLength="43.27" lengthAdjust="spacingAndGlyphs" fill="#1a1a1a" stroke="#1a1a1a" stroke-width="0.05">ARPA_2021-7-27 13:47</text>
<text transform="translate(5.9 198.35) rotate(-90)" text-anchor="middle" font-size="3.17" textLength="17.63" lengthAdjust="spacingAndGlyphs" fill="#111" stroke="#111" stroke-width="0.14">btc_volume</text>
<text x="106.95" y="271.9" text-anchor="middle" font-size="3.17" textLength="13.77" lengthAdjust="spacingAndGlyphs" fill="#111" stroke="#111" stroke-width="0.14">datetime</text>
<rect x="150.2" y="146.3" width="45" height="10" rx="0.6" fill="#fff" fill-opacity="0.85" stroke="#ddd" stroke-width="0.3"/>
<line x1="152.1" y1="149.3" x2="159.6" y2="149.3" stroke="#5a5aa0" stroke-width="0.8" stroke-dasharray="1.6 0.9"/>
<line x1="152.1" y1="154.4" x2="159.6" y2="154.4" stroke="#ede4aa" stroke-width="1.4" stroke-dasharray="3.2 0.4"/>
<text x="161.7" y="150.42" font-size="3.24" textLength="26.13" lengthAdjust="spacingAndGlyphs" fill="#111" stroke="#111" stroke-width="0.14">2021-7-27 13:47</text>
<text x="161.7" y="155.52" font-size="3.24" textLength="31.3" lengthAdjust="spacingAndGlyphs" fill="#111" stroke="#111" stroke-width="0.14">anomalous volumes</text>
<clipPath id="c4"><rect x="217.9" y="145" width="178.9" height="106.69999999999999"/></clipPath>
<g clip-path="url(#c4)">
<rect x="305.5" y="170" width="4" height="81" fill="#fff7f9"/>
<rect x="330" y="146" width="4" height="105" fill="#fff7f9"/>
<rect x="342.5" y="146" width="8" height="105" fill="#fff5f7"/>
<rect x="226" y="206" width="64" height="20" fill="#edfcf8"/>
<rect x="338" y="206" width="52" height="20" fill="#edfcf8"/>
<line x1="225" y1="187" x2="390" y2="187" stroke="#ede4aa" stroke-width="1.4" stroke-dasharray="3.2 0.4"/>
<line x1="225" y1="246.6" x2="390" y2="246.6" stroke="#ede4aa" stroke-width="1.4" stroke-dasharray="3.2 0.4"/>
<path d="M227.5 216.8V210M227.5 216.8V232M228.5 216.8V231M234.5 216.8V194.6M235.5 216.8V211M236.5 216.8V226.6M237.5 216.8V224M241.5 216.8V208M254.5 216.8V210.6M255.5 216.8V236M256.5 216.8V211M258.5 216.8V223.6M259.5 216.8V214M266.5 216.8V207.4M267.5 216.8V225M269.5 216.8V223M270.5 216.8V215M273.5 216.8V226.6M275.5 216.8V210M276.5 216.8V229M294.5 216.8V220.6M295.5 216.8V214M306.5 216.8V211M309.5 216.8V221M311.5 216.8V211M311.5 216.8V229M317.5 216.8V227M324.5 216.8V213M324.5 216.8V224M327.5 216.8V210M334.5 216.8V209M334.5 216.8V224.6M344.5 216.8V223M345.5 216.8V196M348.5 216.8V222M351.5 216.8V209M355.5 216.8V230.6M358.5 216.8V207M361.5 216.8V229M364.5 216.8V233M365.5 216.8V212M369.5 216.8V233M369.5 216.8V209M372.5 216.8V207M373.5 216.8V225M374.5 216.8V202M376.5 216.8V208" stroke="#4f7458" stroke-width="0.75" fill="none"/>
<path d="M226.3 216.8V216.97M227.37 216.8V215.26M229.17 216.8V215.04M229.76 216.8V218.97M231.61 216.8V218.49M252.25 216.8V221.68M254.41 216.8V215.21M255.46 216.8V221.6M257.36 216.8V213.86M259.41 216.8V217.15M260.24 216.8V217.29M261.82 216.8V215.59M263.55 216.8V215.06M264.81 216.8V220.25M266.38 216.8V224.8M268.3 216.8V219.38M270.25 216.8V220.81M271.44 216.8V224.8M272.85 216.8V224.8M274.28 216.8V221.02M275.73 216.8V217.12M277.84 216.8V220.26M278.82 216.8V216.49M300.65 216.8V216.41M304 216.8V217.45M305.73 216.8V217.36M308.36 216.8V215.74M309.4 216.8V215.99M312.93 216.8V216.63M314.39 216.8V216.5M318.7 216.8V218.89M320.82 216.8V218.18M323.12 216.8V217.2M324.66 216.8V212.04M327.3 216.8V213.06M329.6 216.8V215.03M330.48 216.8V217.04M333.68 216.8V216.57M334.7 216.8V222.8M336.43 216.8V221.02M338.33 216.8V219.38M339.01 216.8V217.64M339.88 216.8V219.07M342 216.8V221.3M342.82 216.8V215.07M344.5 216.8V215.79M345.33 216.8V217.91M347.85 216.8V217.17M348.78 216.8V215.52M350.26 216.8V219.98M351.98 216.8V215.88M353.18 216.8V215.84M354.23 216.8V214.25M356.11 216.8V216.82M357.33 216.8V222.6M359.24 216.8V220.76M360.69 216.8V220.82M361.16 216.8V215.87M363.32 216.8V218.85M364.45 216.8V220.14M365.7 216.8V217.66M367.51 216.8V214.18M368.23 216.8V215.33M370.45 216.8V213.56M371.56 216.8V212.86M372.63 216.8V216.67M374.18 216.8V213.35M375.81 216.8V214.28M377.17 216.8V217.74M378.52 216.8V220.49M380.36 216.8V216.47M381.46 216.8V212.98M383.31 216.8V212.83M383.97 216.8V217.45M386.03 216.8V216.04M386.95 216.8V216.33M283.51 216.8V215.21M285.67 216.8V214.99M290.35 216.8V217.08M294.97 216.8V215.37M298.54 216.8V217.13" stroke="#3f7a4e" stroke-width="0.6" fill="none"/>
<path d="M307.5 216.8V182M332.5 216.8V246.6M344.5 216.8V185.4M345.5 216.8V191M348.5 216.8V149M348.5 216.8V239" stroke="#bc8064" stroke-width="0.75" fill="none"/>
<path d="M226 215.8 226 216.2 226.3 217 226.5 219.1 226.6 218.3 226.8 215 227 210 227 216.7 227.1 214.3 227.4 215.3 227.4 214.6 227.6 216.9 227.9 219.9 228.4 217.1 228.4 216 228.8 218 228.9 215.3 229.2 215 229.2 214.1 229.4 218.2 229.8 219 229.8 217.6 230.1 217.7 230.1 214 230.4 219.7 230.8 217.6 230.8 218.2 231.3 213.8 231.6 218.5 231.6 218.5 231.8 216.7 232.3 217.5 232.9 215.1 233.7 216.7 234.2 216.3 234.9 217.8 235.3 215.6 235.6 211 235.9 215.4 236.5 218.1 237 215.5 237.8 215.6 238.2 216.9 238.9 216.3 239.3 216.1 240 218.5 240.5 217.5 241.2 218 241.6 215.1 242 217 242.4 218.3 242.9 216.6 243.3 218.2 243.7 216 244.2 215.7 244.6 217.9 245 216.1 245.3 217 245.9 218.3 246.3 218.4 246.7 216.3 247.4 218.1 248.2 215.6 248.6 216.3 249.1 217.1 249.5 217.1 249.8 216.2 250.4 215.9 251.1 217.7 251.7 216.6 252 215.7 252.2 220 252.3 216.8 252.5 217.6 253 218.6 253 217.1 253.4 216.5 253.5 218.1 253.9 218 254 210.6 254.1 216.9 254.3 218.8 254.4 215.2 254.7 217.8 254.9 213.9 255.2 215 255.5 220 255.5 216.9 255.5 218.4 255.8 217.2 256 217.1 256.3 215.4 256.4 211 256.6 215.9 256.9 216 257 214.3 257.4 213.9 257.4 219 257.6 216.4 257.9 214 258 223.6 258.3 213.9 258.3 215.2 258.8 214.4 259 214 259.1 217.5 259.1 217.7 259.4 217.2 259.5 216 259.7 217.6 260.1 217.7 260.2 217.3 260.3 217.9 260.5 213.6 260.6 217.9 260.9 218 261.2 216.6 261.3 214.8 261.8 215.6 261.9 215.6 261.9 218.9 262.3 219.7 262.5 216.1 262.7 214 263.1 219.1 263.3 218.3 263.5 215.1 263.6 217.1 264 215.7 264 215.4 264.4 216.6 264.4 216.2 264.8 215.8 264.8 220 264.9 219.6 265.2 215.2 265.4 217.7 265.8 217.8 266 218.6 266.1 216.4 266.4 220 266.6 219.4 266.7 218.5 266.9 219.4 267.3 216.3 267.5 215.4 267.9 218.9 268.1 217.1 268.3 219.4 268.3 218.1 268.7 215.5 268.8 214.1 269 223 269.1 215 269.1 216.2 269.5 219.6 269.5 216 269.9 215.1 270.1 217.6 270.2 220 270.3 217 270.4 215 270.6 216.3 270.7 215.7 271.1 217.1 271.2 219.4 271.4 220 271.5 219.4 271.9 218.5 272.1 218 272.3 216.4 272.6 216 272.8 220 272.9 217.3 273.2 218.4 273.4 215.7 273.7 216.5 274.1 218 274.1 216.2 274.3 220 274.6 213.6 274.8 217.3 275 210 275 217 275.2 215.9 275.4 214.4 275.7 217.1 275.7 213.7 275.8 217.7 276.1 216.1 276.5 217.7 276.6 215.7 276.9 214.4 276.9 218 277.5 217.6 277.7 215.4 277.8 220 278 218 278.2 215.8 278.4 217.4 278.7 216.2 278.8 217.8 278.8 216.5 279.2 216.5 279.3 213.7 279.7 216 279.9 214.3 280 218.7 280.3 216.7 280.4 218.1 280.9 217.4 280.9 215.6 281.2 219.6 281.5 218 281.6 214.1 281.9 215.6 282.1 219.2 282.5 215.6 282.5 217.7 282.8 214.7 282.9 216 283.2 213.8 283.5 215.2 283.7 217.4 283.7 213.6 284.2 217.9 284.2 217.1 284.5 220 284.8 217.2 285 218.4 285.4 216.1 285.5 217.2 285.7 215 285.9 217.5 285.9 218.6 286.4 215.9 286.6 216.9 286.7 219.6 287.1 219.5 287.3 216.1 287.7 217.9 287.7 213.9 288.2 216.9 288.3 215.8 288.8 218.6 288.9 217.2 289.2 218.7 289.5 216.9 289.5 219.4 290 217.8 290 219.9 290.4 217.1 290.5 218.1 290.5 217.7 290.9 215.3 291.2 218.2 291.2 217.4 291.8 216.3 291.8 215.5 292.1 214.1 292.4 218.3 292.6 216.6 292.8 216.6 293.4 216.6 293.4 217.9 293.7 219.6 294 220.6 294.1 216.3 294.2 214.6 294.5 219.3 294.6 216.1 294.9 216.9 295 215.4 295.3 218.3 295.3 217 295.6 214 295.7 217.9 295.8 215 296.3 214.3 296.6 215 296.7 218.3 297.1 216 297.2 219.1 297.7 217.9 297.7 215.7 298.1 219.1 298.4 218 298.5 214.1 298.5 217.1 298.8 215.6 299 217.2 299.4 217.5 299.6 216.9 299.7 213.9 300 216.3 300.2 215.5 300.3 215.3 300.6 217.1 300.7 216.4 300.9 216.4 301 217.4 301.2 218.7 301.6 214.7 301.6 218 302.1 217.9 302.1 216.5 302.5 218.1 302.6 216.7 303 215.8 303.3 218.1 303.5 213.6 303.7 218 304 215.5 304 217.5 304.5 218.5 304.5 216.8 304.9 217.9 305.1 218.4 305.4 214.7 305.7 215.6 305.7 217.4 306 216.7 306 211 306.4 216.4 306.6 214.1 306.9 217.7 307 214.6 307.4 219.3 307.4 218.3 307.8 215.9 307.9 216.1 308.3 217.8 308.4 215.7 308.4 213.9 308.7 218.5 308.8 215.6 309 221 309.2 218.9 309.3 217.6 309.4 216 309.6 219.6 310 215.1 310.1 218.6 310.6 217 310.8 218 310.9 213.7 311.2 218.3 311.4 216.7 311.6 211 311.7 214.3 311.9 218.4 312.2 218.6 312.6 215 312.7 217.3 312.9 216.6 313 218.3 313.2 218 313.6 219.5 313.8 218.6 314.1 217.9 314.2 216.7 314.4 216.5 314.6 219.9 315 215.9 315.1 214.3 315.5 219.5 315.6 215.4 315.9 215.2 316 216.4 316.7 215.1 317.2 215.3 317.7 218.2 318 214.8 318.5 216.3 318.5 215.4 318.7 218.9 318.9 215.7 318.9 215.7 319.2 215.7 319.4 216.1 319.7 217 319.8 217.1 320.2 214.6 320.3 217.3 320.5 218.5 320.8 218.2 321 217.8 321.1 218.5 321.6 215.6 321.8 215.2 322.1 215.4 322.5 215.3 322.6 219.4 323 217.5 323.1 217.2 323.2 217.6 323.6 216.7 323.7 217.8 324 219.7 324 213 324.3 218.4 324.5 215.7 324.7 213.6 324.8 216.9 324.9 213.7 325.2 219.9 325.4 215.9 325.7 218.6 326 218.4 326 219 326.6 219.2 326.7 216.6 327 219.5 327.2 216 327.3 213.6 327.5 214.5 327.6 210 328 218.1 328 215.5 328.4 215.1 328.6 217.1 329 218.3 329 216.9 329.4 217.6 329.5 214.1 329.6 215 329.8 214.1 330.2 216.2 330.3 215.8 330.5 217 330.6 216.2 330.8 217.3 331.1 217.7 331.2 217.5 331.7 215.1 331.7 215.8 332.1 218.5 332.3 213.7 332.5 215.8 332.6 216.7 333.1 216.3 333.1 215.7 333.7 217.1 333.7 216.6 333.8 217.7 334 216.1 334.4 217.5 334.5 215.3 334.7 220 334.8 217.7 335 217.4 335.3 219.9 335.8 215.9 335.8 215.6 336.2 214.7 336.2 216 336.4 220 336.6 216.3 337 216.5 337 214.1 337.4 216.2 337.6 217.1 337.9 214.3 338 214.4 338.2 215 338.3 219.4 338.4 213.7 338.4 216 338.8 214 338.8 215.1 339 218 339 217.6 339.3 218.1 339.4 216.9 339.4 215 339.7 218.4 339.7 218.9 339.8 217.1 339.9 219.1 340 219.2 340.3 215.8 340.4 214.4 340.8 218.9 341 215.7 341.3 219.8 341.5 215.7 341.7 216 342 216.7 342 220 342.3 218.8 342.7 216 342.8 215.1 342.8 214.1 343.2 216.2 343.4 217.5 343.7 218 344 223 344 215.7 344.1 218 344.5 218.3 344.5 215.8 344.6 218.9 344.9 218.4 345 217.8 345.3 217.4 345.3 217.9 345.4 218.4 345.7 215.8 345.8 216 346.1 213.8 346.4 218 346.4 217.9 346.9 217.8 347.2 215.5 347.3 217.4 347.5 216.2 347.9 217.2 347.9 219.9 348 222 348.1 217.2 348.3 218.4 348.8 215.5 348.8 219 348.9 218.1 349.3 215.1 349.5 218.4 349.9 217.2 350.3 215.2 350.3 220 350.4 218.4 350.8 214.1 350.8 215.2 351.2 216.9 351.3 217.9 351.6 213.9 351.8 217.8 352 215.9 352 217.8 352.4 218 352.5 217.2 352.8 217.7 353.1 215.3 353.1 215.1 353.2 215.8 353.5 218 353.6 218.3 354 214 354.2 214.3 354.3 219 354.3 218 354.7 219.5 355 217.8 355.3 218.8 355.5 216.7 355.6 214.3 355.8 217.9 356.1 216.8 356.2 216.3 356.5 214.3 356.5 218 356.9 215.2 357.1 216 357.2 218.2 357.3 220 357.5 215.4 357.7 215 358 218.4 358.2 217.5 358.5 215.1 358.7 215.6 358.9 217.6 359.2 220 359.4 218.3 359.4 216.5 360 216.3 360 215.6 360.5 219.4 360.5 218.5 360.7 220 361 214.5 361.1 215.6 361.2 215.9 361.5 213.8 361.8 215.5 361.8 217.6 362.2 215.1 362.2 219.8 362.7 216.5 362.7 216.4 363.2 216.3 363.3 218.9 363.4 215.2 363.8 217.6 364.1 216.6 364.2 219.6 364.4 220 364.5 215.4 364.7 216.2 365 212 365.1 215.5 365.3 214 365.4 218.6 365.7 217.7 365.9 216.5 366.1 217.5 366.3 219.2 366.8 216.4 366.8 215.4 367.1 218 367.5 214.2 367.5 215.9 367.6 217.9 368 219.2 368.1 216.8 368.2 215.3 368.4 214.3 368.5 218.3 368.8 214.4 369.1 216.9 369.2 217.4 369.7 218.1 369.8 215.4 370.2 215.1 370.3 219.9 370.4 213.6 370.7 219.1 370.9 218.4 371.3 216.9 371.6 213.6 371.6 215.9 371.9 217.2 372.4 218.6 372.4 218.8 372.6 216.7 372.7 217.1 373 216.9 373.2 216.7 373.3 214 373.6 217.3 373.8 217.5 374.2 213.6 374.2 217.4 374.4 214.7 374.8 216.9 374.9 219.9 375.2 218.4 375.4 214.2 375.8 214.3 375.8 216.9 375.9 214.1 376.4 218.8 376.5 218.3 376.8 219.4 376.9 216.3 377.2 217.7 377.2 218.9 377.4 216.1 377.6 218.2 377.9 215.8 378.1 216.9 378.4 219.3 378.5 220 378.5 216.7 378.9 214.3 379.1 218.3 379.4 219 379.9 217.7 379.9 216.5 380.3 218.1 380.3 218.6 380.4 216.5 380.7 217.4 381 214 381 216.7 381.4 216.3 381.5 213.6 381.5 216.6 381.7 217.7 382.1 217.8 382.2 218.3 382.5 218.2 382.6 217.6 382.9 216.5 383.2 215.6 383.3 213.6 383.4 218.6 383.7 214.7 384 215.7 384 217.4 384.2 220 384.4 215 384.6 218 384.8 217.8 384.9 220 385.2 217.9 385.2 215.2 385.7 218.5 385.9 216.8 386 216 386.1 214.1 386.5 215.7 386.6 214.1 386.9 216.3 387 219.7 387.2 217.6 387.5 213.6 387.8 216.8 387.9 215.3 388.3 215.6" stroke="#2e8c48" stroke-width="1.0" fill="none" stroke-linejoin="round"/>
<line x1="226" y1="216.8" x2="388.5" y2="216.8" stroke="#30482c" stroke-width="1.3"/>
<path d="M225.2 215.8a0.75 0.75 0 1 0 1.5 0a0.75 0.75 0 1 0 -1.5 0M226.3 216.7a0.75 0.75 0 1 0 1.5 0a0.75 0.75 0 1 0 -1.5 0M227.6 217.1a0.75 0.75 0 1 0 1.5 0a0.75 0.75 0 1 0 -1.5 0M228.7 218.2a0.75 0.75 0 1 0 1.5 0a0.75 0.75 0 1 0 -1.5 0M230.1 218.2a0.75 0.75 0 1 0 1.5 0a0.75 0.75 0 1 0 -1.5 0M231.6 217.5a0.75 0.75 0 1 0 1.5 0a0.75 0.75 0 1 0 -1.5 0M232.9 216.7a0.75 0.75 0 1 0 1.5 0a0.75 0.75 0 1 0 -1.5 0M234.1 217.8a0.75 0.75 0 1 0 1.5 0a0.75 0.75 0 1 0 -1.5 0M235.1 215.4a0.75 0.75 0 1 0 1.5 0a0.75 0.75 0 1 0 -1.5 0M236.3 215.5a0.75 0.75 0 1 0 1.5 0a0.75 0.75 0 1 0 -1.5 0M237.5 216.9a0.75 0.75 0 1 0 1.5 0a0.75 0.75 0 1 0 -1.5 0M238.5 216.1a0.75 0.75 0 1 0 1.5 0a0.75 0.75 0 1 0 -1.5 0M239.8 217.5a0.75 0.75 0 1 0 1.5 0a0.75 0.75 0 1 0 -1.5 0M240.8 215.1a0.75 0.75 0 1 0 1.5 0a0.75 0.75 0 1 0 -1.5 0M241.6 218.3a0.75 0.75 0 1 0 1.5 0a0.75 0.75 0 1 0 -1.5 0M242.5 218.2a0.75 0.75 0 1 0 1.5 0a0.75 0.75 0 1 0 -1.5 0M243.4 215.7a0.75 0.75 0 1 0 1.5 0a0.75 0.75 0 1 0 -1.5 0M244.2 216.1a0.75 0.75 0 1 0 1.5 0a0.75 0.75 0 1 0 -1.5 0M245.2 218.3a0.75 0.75 0 1 0 1.5 0a0.75 0.75 0 1 0 -1.5 0M245.9 216.3a0.75 0.75 0 1 0 1.5 0a0.75 0.75 0 1 0 -1.5 0M247.5 215.6a0.75 0.75 0 1 0 1.5 0a0.75 0.75 0 1 0 -1.5 0M248.4 217.1a0.75 0.75 0 1 0 1.5 0a0.75 0.75 0 1 0 -1.5 0M249.1 216.2a0.75 0.75 0 1 0 1.5 0a0.75 0.75 0 1 0 -1.5 0M250.4 217.7a0.75 0.75 0 1 0 1.5 0a0.75 0.75 0 1 0 -1.5 0M251.5 216.8a0.75 0.75 0 1 0 1.5 0a0.75 0.75 0 1 0 -1.5 0M252.7 218.1a0.75 0.75 0 1 0 1.5 0a0.75 0.75 0 1 0 -1.5 0M253.9 217.8a0.75 0.75 0 1 0 1.5 0a0.75 0.75 0 1 0 -1.5 0M255.1 217.2a0.75 0.75 0 1 0 1.5 0a0.75 0.75 0 1 0 -1.5 0M256.1 216a0.75 0.75 0 1 0 1.5 0a0.75 0.75 0 1 0 -1.5 0M257.6 215.2a0.75 0.75 0 1 0 1.5 0a0.75 0.75 0 1 0 -1.5 0M258.7 216a0.75 0.75 0 1 0 1.5 0a0.75 0.75 0 1 0 -1.5 0M259.9 217.9a0.75 0.75 0 1 0 1.5 0a0.75 0.75 0 1 0 -1.5 0M261.1 215.6a0.75 0.75 0 1 0 1.5 0a0.75 0.75 0 1 0 -1.5 0M262.5 218.3a0.75 0.75 0 1 0 1.5 0a0.75 0.75 0 1 0 -1.5 0M263.7 216.6a0.75 0.75 0 1 0 1.5 0a0.75 0.75 0 1 0 -1.5 0M264.7 217.7a0.75 0.75 0 1 0 1.5 0a0.75 0.75 0 1 0 -1.5 0M266 218.5a0.75 0.75 0 1 0 1.5 0a0.75 0.75 0 1 0 -1.5 0M267.4 217.1a0.75 0.75 0 1 0 1.5 0a0.75 0.75 0 1 0 -1.5 0M268.4 215a0.75 0.75 0 1 0 1.5 0a0.75 0.75 0 1 0 -1.5 0M269.3 217.6a0.75 0.75 0 1 0 1.5 0a0.75 0.75 0 1 0 -1.5 0M270.4 217.1a0.75 0.75 0 1 0 1.5 0a0.75 0.75 0 1 0 -1.5 0M271.6 216.4a0.75 0.75 0 1 0 1.5 0a0.75 0.75 0 1 0 -1.5 0M272.6 215.7a0.75 0.75 0 1 0 1.5 0a0.75 0.75 0 1 0 -1.5 0M274.1 217.3a0.75 0.75 0 1 0 1.5 0a0.75 0.75 0 1 0 -1.5 0M275 217.7a0.75 0.75 0 1 0 1.5 0a0.75 0.75 0 1 0 -1.5 0M276.2 218a0.75 0.75 0 1 0 1.5 0a0.75 0.75 0 1 0 -1.5 0M277.5 215.8a0.75 0.75 0 1 0 1.5 0a0.75 0.75 0 1 0 -1.5 0M278.5 216.5a0.75 0.75 0 1 0 1.5 0a0.75 0.75 0 1 0 -1.5 0M279.6 216.7a0.75 0.75 0 1 0 1.5 0a0.75 0.75 0 1 0 -1.5 0M280.7 218a0.75 0.75 0 1 0 1.5 0a0.75 0.75 0 1 0 -1.5 0M281.7 215.6a0.75 0.75 0 1 0 1.5 0a0.75 0.75 0 1 0 -1.5 0M282.9 217.4a0.75 0.75 0 1 0 1.5 0a0.75 0.75 0 1 0 -1.5 0M284 217.2a0.75 0.75 0 1 0 1.5 0a0.75 0.75 0 1 0 -1.5 0M285.2 218.6a0.75 0.75 0 1 0 1.5 0a0.75 0.75 0 1 0 -1.5 0M286.5 216.1a0.75 0.75 0 1 0 1.5 0a0.75 0.75 0 1 0 -1.5 0M287.4 216.9a0.75 0.75 0 1 0 1.5 0a0.75 0.75 0 1 0 -1.5 0M288.8 216.9a0.75 0.75 0 1 0 1.5 0a0.75 0.75 0 1 0 -1.5 0M289.7 217.7a0.75 0.75 0 1 0 1.5 0a0.75 0.75 0 1 0 -1.5 0M291.1 215.5a0.75 0.75 0 1 0 1.5 0a0.75 0.75 0 1 0 -1.5 0M292.6 216.6a0.75 0.75 0 1 0 1.5 0a0.75 0.75 0 1 0 -1.5 0M293.9 216.1a0.75 0.75 0 1 0 1.5 0a0.75 0.75 0 1 0 -1.5 0M295.1 215a0.75 0.75 0 1 0 1.5 0a0.75 0.75 0 1 0 -1.5 0M296.3 216a0.75 0.75 0 1 0 1.5 0a0.75 0.75 0 1 0 -1.5 0M297.7 218a0.75 0.75 0 1 0 1.5 0a0.75 0.75 0 1 0 -1.5 0M298.9 216.9a0.75 0.75 0 1 0 1.5 0a0.75 0.75 0 1 0 -1.5 0M299.8 217.1a0.75 0.75 0 1 0 1.5 0a0.75 0.75 0 1 0 -1.5 0M300.8 218a0.75 0.75 0 1 0 1.5 0a0.75 0.75 0 1 0 -1.5 0M301.9 216.7a0.75 0.75 0 1 0 1.5 0a0.75 0.75 0 1 0 -1.5 0M303 218a0.75 0.75 0 1 0 1.5 0a0.75 0.75 0 1 0 -1.5 0M304.3 218.4a0.75 0.75 0 1 0 1.5 0a0.75 0.75 0 1 0 -1.5 0M305.7 216.4a0.75 0.75 0 1 0 1.5 0a0.75 0.75 0 1 0 -1.5 0M306.6 218.3a0.75 0.75 0 1 0 1.5 0a0.75 0.75 0 1 0 -1.5 0M307.6 217.8a0.75 0.75 0 1 0 1.5 0a0.75 0.75 0 1 0 -1.5 0M308.5 217.6a0.75 0.75 0 1 0 1.5 0a0.75 0.75 0 1 0 -1.5 0M310 218a0.75 0.75 0 1 0 1.5 0a0.75 0.75 0 1 0 -1.5 0M311.1 218.4a0.75 0.75 0 1 0 1.5 0a0.75 0.75 0 1 0 -1.5 0M312.3 218.3a0.75 0.75 0 1 0 1.5 0a0.75 0.75 0 1 0 -1.5 0M313.5 216.7a0.75 0.75 0 1 0 1.5 0a0.75 0.75 0 1 0 -1.5 0M314.8 215.4a0.75 0.75 0 1 0 1.5 0a0.75 0.75 0 1 0 -1.5 0M315.9 215.1a0.75 0.75 0 1 0 1.5 0a0.75 0.75 0 1 0 -1.5 0M316.9 218.2a0.75 0.75 0 1 0 1.5 0a0.75 0.75 0 1 0 -1.5 0M318.2 215.7a0.75 0.75 0 1 0 1.5 0a0.75 0.75 0 1 0 -1.5 0M319 217.1a0.75 0.75 0 1 0 1.5 0a0.75 0.75 0 1 0 -1.5 0M320.3 218.5a0.75 0.75 0 1 0 1.5 0a0.75 0.75 0 1 0 -1.5 0M321.8 215.3a0.75 0.75 0 1 0 1.5 0a0.75 0.75 0 1 0 -1.5 0M322.9 217.8a0.75 0.75 0 1 0 1.5 0a0.75 0.75 0 1 0 -1.5 0M324 216.9a0.75 0.75 0 1 0 1.5 0a0.75 0.75 0 1 0 -1.5 0M325.3 218.4a0.75 0.75 0 1 0 1.5 0a0.75 0.75 0 1 0 -1.5 0M326.5 216a0.75 0.75 0 1 0 1.5 0a0.75 0.75 0 1 0 -1.5 0M327.7 215.1a0.75 0.75 0 1 0 1.5 0a0.75 0.75 0 1 0 -1.5 0M328.7 217.6a0.75 0.75 0 1 0 1.5 0a0.75 0.75 0 1 0 -1.5 0M330.1 217.3a0.75 0.75 0 1 0 1.5 0a0.75 0.75 0 1 0 -1.5 0M330.9 215.1a0.75 0.75 0 1 0 1.5 0a0.75 0.75 0 1 0 -1.5 0M331.8 215.8a0.75 0.75 0 1 0 1.5 0a0.75 0.75 0 1 0 -1.5 0M333 217.7a0.75 0.75 0 1 0 1.5 0a0.75 0.75 0 1 0 -1.5 0M334.3 217.4a0.75 0.75 0 1 0 1.5 0a0.75 0.75 0 1 0 -1.5 0M335.4 216a0.75 0.75 0 1 0 1.5 0a0.75 0.75 0 1 0 -1.5 0M336.8 217.1a0.75 0.75 0 1 0 1.5 0a0.75 0.75 0 1 0 -1.5 0M338 215.1a0.75 0.75 0 1 0 1.5 0a0.75 0.75 0 1 0 -1.5 0M339 217.1a0.75 0.75 0 1 0 1.5 0a0.75 0.75 0 1 0 -1.5 0M340.3 215.7a0.75 0.75 0 1 0 1.5 0a0.75 0.75 0 1 0 -1.5 0M341.2 216.7a0.75 0.75 0 1 0 1.5 0a0.75 0.75 0 1 0 -1.5 0M342.7 217.5a0.75 0.75 0 1 0 1.5 0a0.75 0.75 0 1 0 -1.5 0M343.7 218.3a0.75 0.75 0 1 0 1.5 0a0.75 0.75 0 1 0 -1.5 0M344.6 218.4a0.75 0.75 0 1 0 1.5 0a0.75 0.75 0 1 0 -1.5 0M345.6 218a0.75 0.75 0 1 0 1.5 0a0.75 0.75 0 1 0 -1.5 0M346.8 216.2a0.75 0.75 0 1 0 1.5 0a0.75 0.75 0 1 0 -1.5 0M348.1 218.1a0.75 0.75 0 1 0 1.5 0a0.75 0.75 0 1 0 -1.5 0M349.5 215.2a0.75 0.75 0 1 0 1.5 0a0.75 0.75 0 1 0 -1.5 0M350.5 216.9a0.75 0.75 0 1 0 1.5 0a0.75 0.75 0 1 0 -1.5 0M351.8 217.2a0.75 0.75 0 1 0 1.5 0a0.75 0.75 0 1 0 -1.5 0M352.8 218.3a0.75 0.75 0 1 0 1.5 0a0.75 0.75 0 1 0 -1.5 0M354.3 217.8a0.75 0.75 0 1 0 1.5 0a0.75 0.75 0 1 0 -1.5 0M355.1 217.9a0.75 0.75 0 1 0 1.5 0a0.75 0.75 0 1 0 -1.5 0M356.4 216a0.75 0.75 0 1 0 1.5 0a0.75 0.75 0 1 0 -1.5 0M357.4 217.5a0.75 0.75 0 1 0 1.5 0a0.75 0.75 0 1 0 -1.5 0M358.7 216.5a0.75 0.75 0 1 0 1.5 0a0.75 0.75 0 1 0 -1.5 0M359.8 218.5a0.75 0.75 0 1 0 1.5 0a0.75 0.75 0 1 0 -1.5 0M361.1 217.6a0.75 0.75 0 1 0 1.5 0a0.75 0.75 0 1 0 -1.5 0M361.9 216.5a0.75 0.75 0 1 0 1.5 0a0.75 0.75 0 1 0 -1.5 0M363.3 216.6a0.75 0.75 0 1 0 1.5 0a0.75 0.75 0 1 0 -1.5 0M364.3 215.5a0.75 0.75 0 1 0 1.5 0a0.75 0.75 0 1 0 -1.5 0M365.4 217.5a0.75 0.75 0 1 0 1.5 0a0.75 0.75 0 1 0 -1.5 0M366.8 215.9a0.75 0.75 0 1 0 1.5 0a0.75 0.75 0 1 0 -1.5 0M367.8 218.3a0.75 0.75 0 1 0 1.5 0a0.75 0.75 0 1 0 -1.5 0M369.1 215.4a0.75 0.75 0 1 0 1.5 0a0.75 0.75 0 1 0 -1.5 0M370.2 218.4a0.75 0.75 0 1 0 1.5 0a0.75 0.75 0 1 0 -1.5 0M371.6 218.6a0.75 0.75 0 1 0 1.5 0a0.75 0.75 0 1 0 -1.5 0M372.4 216.7a0.75 0.75 0 1 0 1.5 0a0.75 0.75 0 1 0 -1.5 0M373.5 217.4a0.75 0.75 0 1 0 1.5 0a0.75 0.75 0 1 0 -1.5 0M374.4 218.4a0.75 0.75 0 1 0 1.5 0a0.75 0.75 0 1 0 -1.5 0M375.7 218.3a0.75 0.75 0 1 0 1.5 0a0.75 0.75 0 1 0 -1.5 0M376.6 216.1a0.75 0.75 0 1 0 1.5 0a0.75 0.75 0 1 0 -1.5 0M377.8 216.7a0.75 0.75 0 1 0 1.5 0a0.75 0.75 0 1 0 -1.5 0M379.1 217.7a0.75 0.75 0 1 0 1.5 0a0.75 0.75 0 1 0 -1.5 0M380.3 216.7a0.75 0.75 0 1 0 1.5 0a0.75 0.75 0 1 0 -1.5 0M381.4 217.8a0.75 0.75 0 1 0 1.5 0a0.75 0.75 0 1 0 -1.5 0M382.2 216.5a0.75 0.75 0 1 0 1.5 0a0.75 0.75 0 1 0 -1.5 0M383.2 215.7a0.75 0.75 0 1 0 1.5 0a0.75 0.75 0 1 0 -1.5 0M384 217.8a0.75 0.75 0 1 0 1.5 0a0.75 0.75 0 1 0 -1.5 0M385.1 216.8a0.75 0.75 0 1 0 1.5 0a0.75 0.75 0 1 0 -1.5 0M386.4 217.6a0.75 0.75 0 1 0 1.5 0a0.75 0.75 0 1 0 -1.5 0M387.5 215.6a0.75 0.75 0 1 0 1.5 0a0.75 0.75 0 1 0 -1.5 0" fill="#24602f"/>
<path d="M225.5 217a0.8 0.8 0 1 0 1.6 0a0.8 0.8 0 1 0 -1.6 0M226.6 215.3a0.8 0.8 0 1 0 1.6 0a0.8 0.8 0 1 0 -1.6 0M228.4 215a0.8 0.8 0 1 0 1.6 0a0.8 0.8 0 1 0 -1.6 0M229 219a0.8 0.8 0 1 0 1.6 0a0.8 0.8 0 1 0 -1.6 0M230.8 218.5a0.8 0.8 0 1 0 1.6 0a0.8 0.8 0 1 0 -1.6 0M251.4 221.7a0.8 0.8 0 1 0 1.6 0a0.8 0.8 0 1 0 -1.6 0M253.6 215.2a0.8 0.8 0 1 0 1.6 0a0.8 0.8 0 1 0 -1.6 0M254.7 221.6a0.8 0.8 0 1 0 1.6 0a0.8 0.8 0 1 0 -1.6 0M256.6 213.9a0.8 0.8 0 1 0 1.6 0a0.8 0.8 0 1 0 -1.6 0M258.6 217.2a0.8 0.8 0 1 0 1.6 0a0.8 0.8 0 1 0 -1.6 0M259.4 217.3a0.8 0.8 0 1 0 1.6 0a0.8 0.8 0 1 0 -1.6 0M261 215.6a0.8 0.8 0 1 0 1.6 0a0.8 0.8 0 1 0 -1.6 0M262.7 215.1a0.8 0.8 0 1 0 1.6 0a0.8 0.8 0 1 0 -1.6 0M264 220.2a0.8 0.8 0 1 0 1.6 0a0.8 0.8 0 1 0 -1.6 0M265.6 224.8a0.8 0.8 0 1 0 1.6 0a0.8 0.8 0 1 0 -1.6 0M267.5 219.4a0.8 0.8 0 1 0 1.6 0a0.8 0.8 0 1 0 -1.6 0M269.4 220.8a0.8 0.8 0 1 0 1.6 0a0.8 0.8 0 1 0 -1.6 0M270.6 224.8a0.8 0.8 0 1 0 1.6 0a0.8 0.8 0 1 0 -1.6 0M272 224.8a0.8 0.8 0 1 0 1.6 0a0.8 0.8 0 1 0 -1.6 0M273.5 221a0.8 0.8 0 1 0 1.6 0a0.8 0.8 0 1 0 -1.6 0M274.9 217.1a0.8 0.8 0 1 0 1.6 0a0.8 0.8 0 1 0 -1.6 0M277 220.3a0.8 0.8 0 1 0 1.6 0a0.8 0.8 0 1 0 -1.6 0M278 216.5a0.8 0.8 0 1 0 1.6 0a0.8 0.8 0 1 0 -1.6 0M299.9 216.4a0.8 0.8 0 1 0 1.6 0a0.8 0.8 0 1 0 -1.6 0M303.2 217.5a0.8 0.8 0 1 0 1.6 0a0.8 0.8 0 1 0 -1.6 0M304.9 217.4a0.8 0.8 0 1 0 1.6 0a0.8 0.8 0 1 0 -1.6 0M307.6 215.7a0.8 0.8 0 1 0 1.6 0a0.8 0.8 0 1 0 -1.6 0M308.6 216a0.8 0.8 0 1 0 1.6 0a0.8 0.8 0 1 0 -1.6 0M312.1 216.6a0.8 0.8 0 1 0 1.6 0a0.8 0.8 0 1 0 -1.6 0M313.6 216.5a0.8 0.8 0 1 0 1.6 0a0.8 0.8 0 1 0 -1.6 0M317.9 218.9a0.8 0.8 0 1 0 1.6 0a0.8 0.8 0 1 0 -1.6 0M320 218.2a0.8 0.8 0 1 0 1.6 0a0.8 0.8 0 1 0 -1.6 0M322.3 217.2a0.8 0.8 0 1 0 1.6 0a0.8 0.8 0 1 0 -1.6 0M323.9 212a0.8 0.8 0 1 0 1.6 0a0.8 0.8 0 1 0 -1.6 0M326.5 213.1a0.8 0.8 0 1 0 1.6 0a0.8 0.8 0 1 0 -1.6 0M328.8 215a0.8 0.8 0 1 0 1.6 0a0.8 0.8 0 1 0 -1.6 0M329.7 217a0.8 0.8 0 1 0 1.6 0a0.8 0.8 0 1 0 -1.6 0M332.9 216.6a0.8 0.8 0 1 0 1.6 0a0.8 0.8 0 1 0 -1.6 0M333.9 222.8a0.8 0.8 0 1 0 1.6 0a0.8 0.8 0 1 0 -1.6 0M335.6 221a0.8 0.8 0 1 0 1.6 0a0.8 0.8 0 1 0 -1.6 0M337.5 219.4a0.8 0.8 0 1 0 1.6 0a0.8 0.8 0 1 0 -1.6 0M338.2 217.6a0.8 0.8 0 1 0 1.6 0a0.8 0.8 0 1 0 -1.6 0M339.1 219.1a0.8 0.8 0 1 0 1.6 0a0.8 0.8 0 1 0 -1.6 0M341.2 221.3a0.8 0.8 0 1 0 1.6 0a0.8 0.8 0 1 0 -1.6 0M342 215.1a0.8 0.8 0 1 0 1.6 0a0.8 0.8 0 1 0 -1.6 0M343.7 215.8a0.8 0.8 0 1 0 1.6 0a0.8 0.8 0 1 0 -1.6 0M344.5 217.9a0.8 0.8 0 1 0 1.6 0a0.8 0.8 0 1 0 -1.6 0M347.1 217.2a0.8 0.8 0 1 0 1.6 0a0.8 0.8 0 1 0 -1.6 0M348 215.5a0.8 0.8 0 1 0 1.6 0a0.8 0.8 0 1 0 -1.6 0M349.5 220a0.8 0.8 0 1 0 1.6 0a0.8 0.8 0 1 0 -1.6 0M351.2 215.9a0.8 0.8 0 1 0 1.6 0a0.8 0.8 0 1 0 -1.6 0M352.4 215.8a0.8 0.8 0 1 0 1.6 0a0.8 0.8 0 1 0 -1.6 0M353.4 214.3a0.8 0.8 0 1 0 1.6 0a0.8 0.8 0 1 0 -1.6 0M355.3 216.8a0.8 0.8 0 1 0 1.6 0a0.8 0.8 0 1 0 -1.6 0M356.5 222.6a0.8 0.8 0 1 0 1.6 0a0.8 0.8 0 1 0 -1.6 0M358.4 220.8a0.8 0.8 0 1 0 1.6 0a0.8 0.8 0 1 0 -1.6 0M359.9 220.8a0.8 0.8 0 1 0 1.6 0a0.8 0.8 0 1 0 -1.6 0M360.4 215.9a0.8 0.8 0 1 0 1.6 0a0.8 0.8 0 1 0 -1.6 0M362.5 218.9a0.8 0.8 0 1 0 1.6 0a0.8 0.8 0 1 0 -1.6 0M363.6 220.1a0.8 0.8 0 1 0 1.6 0a0.8 0.8 0 1 0 -1.6 0M364.9 217.7a0.8 0.8 0 1 0 1.6 0a0.8 0.8 0 1 0 -1.6 0M366.7 214.2a0.8 0.8 0 1 0 1.6 0a0.8 0.8 0 1 0 -1.6 0M367.4 215.3a0.8 0.8 0 1 0 1.6 0a0.8 0.8 0 1 0 -1.6 0M369.6 213.6a0.8 0.8 0 1 0 1.6 0a0.8 0.8 0 1 0 -1.6 0M370.8 212.9a0.8 0.8 0 1 0 1.6 0a0.8 0.8 0 1 0 -1.6 0M371.8 216.7a0.8 0.8 0 1 0 1.6 0a0.8 0.8 0 1 0 -1.6 0M373.4 213.4a0.8 0.8 0 1 0 1.6 0a0.8 0.8 0 1 0 -1.6 0M375 214.3a0.8 0.8 0 1 0 1.6 0a0.8 0.8 0 1 0 -1.6 0M376.4 217.7a0.8 0.8 0 1 0 1.6 0a0.8 0.8 0 1 0 -1.6 0M377.7 220.5a0.8 0.8 0 1 0 1.6 0a0.8 0.8 0 1 0 -1.6 0M379.6 216.5a0.8 0.8 0 1 0 1.6 0a0.8 0.8 0 1 0 -1.6 0M380.7 213a0.8 0.8 0 1 0 1.6 0a0.8 0.8 0 1 0 -1.6 0M382.5 212.8a0.8 0.8 0 1 0 1.6 0a0.8 0.8 0 1 0 -1.6 0M383.2 217.4a0.8 0.8 0 1 0 1.6 0a0.8 0.8 0 1 0 -1.6 0M385.2 216a0.8 0.8 0 1 0 1.6 0a0.8 0.8 0 1 0 -1.6 0M386.1 216.3a0.8 0.8 0 1 0 1.6 0a0.8 0.8 0 1 0 -1.6 0M282.7 215.2a0.8 0.8 0 1 0 1.6 0a0.8 0.8 0 1 0 -1.6 0M284.9 215a0.8 0.8 0 1 0 1.6 0a0.8 0.8 0 1 0 -1.6 0M289.6 217.1a0.8 0.8 0 1 0 1.6 0a0.8 0.8 0 1 0 -1.6 0M294.2 215.4a0.8 0.8 0 1 0 1.6 0a0.8 0.8 0 1 0 -1.6 0M297.7 217.1a0.8 0.8 0 1 0 1.6 0a0.8 0.8 0 1 0 -1.6 0" fill="#33904c" stroke="#1a3320" stroke-width="0.3"/>
<path d="M226.6 210a0.9 0.9 0 1 0 1.8 0a0.9 0.9 0 1 0 -1.8 0M226.6 232a0.9 0.9 0 1 0 1.8 0a0.9 0.9 0 1 0 -1.8 0M227.6 231a0.9 0.9 0 1 0 1.8 0a0.9 0.9 0 1 0 -1.8 0M233.6 194.6a0.9 0.9 0 1 0 1.8 0a0.9 0.9 0 1 0 -1.8 0M234.6 211a0.9 0.9 0 1 0 1.8 0a0.9 0.9 0 1 0 -1.8 0M235.6 226.6a0.9 0.9 0 1 0 1.8 0a0.9 0.9 0 1 0 -1.8 0M236.6 224a0.9 0.9 0 1 0 1.8 0a0.9 0.9 0 1 0 -1.8 0M240.6 208a0.9 0.9 0 1 0 1.8 0a0.9 0.9 0 1 0 -1.8 0M253.6 210.6a0.9 0.9 0 1 0 1.8 0a0.9 0.9 0 1 0 -1.8 0M254.6 236a0.9 0.9 0 1 0 1.8 0a0.9 0.9 0 1 0 -1.8 0M255.6 211a0.9 0.9 0 1 0 1.8 0a0.9 0.9 0 1 0 -1.8 0M257.6 223.6a0.9 0.9 0 1 0 1.8 0a0.9 0.9 0 1 0 -1.8 0M258.6 214a0.9 0.9 0 1 0 1.8 0a0.9 0.9 0 1 0 -1.8 0M265.6 207.4a0.9 0.9 0 1 0 1.8 0a0.9 0.9 0 1 0 -1.8 0M266.6 225a0.9 0.9 0 1 0 1.8 0a0.9 0.9 0 1 0 -1.8 0M268.6 223a0.9 0.9 0 1 0 1.8 0a0.9 0.9 0 1 0 -1.8 0M269.6 215a0.9 0.9 0 1 0 1.8 0a0.9 0.9 0 1 0 -1.8 0M272.6 226.6a0.9 0.9 0 1 0 1.8 0a0.9 0.9 0 1 0 -1.8 0M274.6 210a0.9 0.9 0 1 0 1.8 0a0.9 0.9 0 1 0 -1.8 0M275.6 229a0.9 0.9 0 1 0 1.8 0a0.9 0.9 0 1 0 -1.8 0M293.6 220.6a0.9 0.9 0 1 0 1.8 0a0.9 0.9 0 1 0 -1.8 0M294.6 214a0.9 0.9 0 1 0 1.8 0a0.9 0.9 0 1 0 -1.8 0M305.6 211a0.9 0.9 0 1 0 1.8 0a0.9 0.9 0 1 0 -1.8 0M308.6 221a0.9 0.9 0 1 0 1.8 0a0.9 0.9 0 1 0 -1.8 0M310.6 211a0.9 0.9 0 1 0 1.8 0a0.9 0.9 0 1 0 -1.8 0M310.6 229a0.9 0.9 0 1 0 1.8 0a0.9 0.9 0 1 0 -1.8 0M316.6 227a0.9 0.9 0 1 0 1.8 0a0.9 0.9 0 1 0 -1.8 0M323.6 213a0.9 0.9 0 1 0 1.8 0a0.9 0.9 0 1 0 -1.8 0M323.6 224a0.9 0.9 0 1 0 1.8 0a0.9 0.9 0 1 0 -1.8 0M326.6 210a0.9 0.9 0 1 0 1.8 0a0.9 0.9 0 1 0 -1.8 0M333.6 209a0.9 0.9 0 1 0 1.8 0a0.9 0.9 0 1 0 -1.8 0M333.6 224.6a0.9 0.9 0 1 0 1.8 0a0.9 0.9 0 1 0 -1.8 0M343.6 223a0.9 0.9 0 1 0 1.8 0a0.9 0.9 0 1 0 -1.8 0M344.6 196a0.9 0.9 0 1 0 1.8 0a0.9 0.9 0 1 0 -1.8 0M347.6 222a0.9 0.9 0 1 0 1.8 0a0.9 0.9 0 1 0 -1.8 0M350.6 209a0.9 0.9 0 1 0 1.8 0a0.9 0.9 0 1 0 -1.8 0M354.6 230.6a0.9 0.9 0 1 0 1.8 0a0.9 0.9 0 1 0 -1.8 0M357.6 207a0.9 0.9 0 1 0 1.8 0a0.9 0.9 0 1 0 -1.8 0M360.6 229a0.9 0.9 0 1 0 1.8 0a0.9 0.9 0 1 0 -1.8 0M363.6 233a0.9 0.9 0 1 0 1.8 0a0.9 0.9 0 1 0 -1.8 0M364.6 212a0.9 0.9 0 1 0 1.8 0a0.9 0.9 0 1 0 -1.8 0M368.6 233a0.9 0.9 0 1 0 1.8 0a0.9 0.9 0 1 0 -1.8 0M368.6 209a0.9 0.9 0 1 0 1.8 0a0.9 0.9 0 1 0 -1.8 0M371.6 207a0.9 0.9 0 1 0 1.8 0a0.9 0.9 0 1 0 -1.8 0M372.6 225a0.9 0.9 0 1 0 1.8 0a0.9 0.9 0 1 0 -1.8 0M373.6 202a0.9 0.9 0 1 0 1.8 0a0.9 0.9 0 1 0 -1.8 0M375.6 208a0.9 0.9 0 1 0 1.8 0a0.9 0.9 0 1 0 -1.8 0" fill="#275a32" stroke="#1a3320" stroke-width="0.4"/>
<path d="M306.6 182a0.9 0.9 0 1 0 1.8 0a0.9 0.9 0 1 0 -1.8 0M331.6 246.6a0.9 0.9 0 1 0 1.8 0a0.9 0.9 0 1 0 -1.8 0M343.6 185.4a0.9 0.9 0 1 0 1.8 0a0.9 0.9 0 1 0 -1.8 0M344.6 191a0.9 0.9 0 1 0 1.8 0a0.9 0.9 0 1 0 -1.8 0M347.6 149a0.9 0.9 0 1 0 1.8 0a0.9 0.9 0 1 0 -1.8 0M347.6 239a0.9 0.9 0 1 0 1.8 0a0.9 0.9 0 1 0 -1.8 0" fill="#6a3a28" stroke="#3a1a10" stroke-width="0.3"/>
<line x1="382" y1="155" x2="382" y2="246" stroke="#cfcfe8" stroke-width="1.1"/>
<line x1="382" y1="155" x2="382" y2="246" stroke="#8080b8" stroke-width="0.7" stroke-dasharray="1.3 1.1"/>
<line x1="388" y1="155" x2="388" y2="246" stroke="#cfcfe8" stroke-width="1.1"/>
<line x1="388" y1="155" x2="388" y2="246" stroke="#8080b8" stroke-width="0.7" stroke-dasharray="1.3 1.1"/>
</g>
<rect x="217.5" y="145.5" width="179" height="106" fill="none" stroke="#989898" stroke-width="1.0"/>
<line x1="216.6" y1="149.2" x2="217.9" y2="149.2" stroke="#333" stroke-width="0.5"/>
<text x="216" y="150.24" text-anchor="end" font-size="3.02" textLength="4.61" lengthAdjust="spacingAndGlyphs" fill="#111" stroke="#111" stroke-width="0.14">0.8</text>
<line x1="216.6" y1="166.08" x2="217.9" y2="166.08" stroke="#333" stroke-width="0.5"/>
<text x="216" y="167.12" text-anchor="end" font-size="3.02" textLength="4.61" lengthAdjust="spacingAndGlyphs" fill="#111" stroke="#111" stroke-width="0.14">0.6</text>
<line x1="216.6" y1="182.96" x2="217.9" y2="182.96" stroke="#333" stroke-width="0.5"/>
<text x="216" y="184" text-anchor="end" font-size="3.02" textLength="4.61" lengthAdjust="spacingAndGlyphs" fill="#111" stroke="#111" stroke-width="0.14">0.4</text>
<line x1="216.6" y1="199.84" x2="217.9" y2="199.84" stroke="#333" stroke-width="0.5"/>
<text x="216" y="200.88" text-anchor="end" font-size="3.02" textLength="4.61" lengthAdjust="spacingAndGlyphs" fill="#111" stroke="#111" stroke-width="0.14">0.2</text>
<line x1="216.6" y1="216.72" x2="217.9" y2="216.72" stroke="#333" stroke-width="0.5"/>
<text x="216" y="217.76" text-anchor="end" font-size="3.02" textLength="4.61" lengthAdjust="spacingAndGlyphs" fill="#111" stroke="#111" stroke-width="0.14">0.0</text>
<line x1="216.6" y1="233.6" x2="217.9" y2="233.6" stroke="#333" stroke-width="0.5"/>
<text x="216" y="234.64" text-anchor="end" font-size="3.02" textLength="7.04" lengthAdjust="spacingAndGlyphs" fill="#111" stroke="#111" stroke-width="0.14">−0.2</text>
<line x1="216.6" y1="250.48" x2="217.9" y2="250.48" stroke="#333" stroke-width="0.5"/>
<text x="216" y="251.52" text-anchor="end" font-size="3.02" textLength="7.04" lengthAdjust="spacingAndGlyphs" fill="#111" stroke="#111" stroke-width="0.14">−0.4</text>
<line x1="226" y1="251.7" x2="226" y2="253" stroke="#333" stroke-width="0.5"/>
<text transform="translate(227.39 254.1) rotate(-90)" text-anchor="end" font-size="3.02" textLength="8.43" lengthAdjust="spacingAndGlyphs" fill="#222" stroke="#222" stroke-width="0.06">08-09</text>
<line x1="235.75" y1="251.7" x2="235.75" y2="253" stroke="#333" stroke-width="0.5"/>
<text transform="translate(237.14 254.1) rotate(-90)" text-anchor="end" font-size="3.02" textLength="8.43" lengthAdjust="spacingAndGlyphs" fill="#222" stroke="#222" stroke-width="0.06">08-09</text>
<line x1="243.25" y1="251.7" x2="243.25" y2="253" stroke="#333" stroke-width="0.5"/>
<text transform="translate(244.64 254.1) rotate(-90)" text-anchor="end" font-size="3.02" textLength="8.43" lengthAdjust="spacingAndGlyphs" fill="#222" stroke="#222" stroke-width="0.06">08-09</text>
<line x1="248.9" y1="251.7" x2="248.9" y2="253" stroke="#333" stroke-width="0.5"/>
<text transform="translate(250.29 254.1) rotate(-90)" text-anchor="end" font-size="3.02" textLength="8.43" lengthAdjust="spacingAndGlyphs" fill="#222" stroke="#222" stroke-width="0.06">08-09</text>
<line x1="251" y1="251.7" x2="251" y2="253" stroke="#333" stroke-width="0.5"/>
<text transform="translate(252.39 254.1) rotate(-90)" text-anchor="end" font-size="3.02" textLength="8.43" lengthAdjust="spacingAndGlyphs" fill="#222" stroke="#222" stroke-width="0.06">08-09</text>
<line x1="253.25" y1="251.7" x2="253.25" y2="253" stroke="#333" stroke-width="0.5"/>
<text transform="translate(254.64 254.1) rotate(-90)" text-anchor="end" font-size="3.02" textLength="8.43" lengthAdjust="spacingAndGlyphs" fill="#222" stroke="#222" stroke-width="0.06">08-09</text>
<line x1="259.5" y1="251.7" x2="259.5" y2="253" stroke="#333" stroke-width="0.5"/>
<text transform="translate(260.89 254.1) rotate(-90)" text-anchor="end" font-size="3.02" textLength="8.43" lengthAdjust="spacingAndGlyphs" fill="#222" stroke="#222" stroke-width="0.06">08-09</text>
<line x1="262" y1="251.7" x2="262" y2="253" stroke="#333" stroke-width="0.5"/>
<text transform="translate(263.39 254.1) rotate(-90)" text-anchor="end" font-size="3.02" textLength="8.43" lengthAdjust="spacingAndGlyphs" fill="#222" stroke="#222" stroke-width="0.06">08-09</text>
<line x1="264.5" y1="251.7" x2="264.5" y2="253" stroke="#333" stroke-width="0.5"/>
<text transform="translate(265.89 254.1) rotate(-90)" text-anchor="end" font-size="3.02" textLength="8.43" lengthAdjust="spacingAndGlyphs" fill="#222" stroke="#222" stroke-width="0.06">08-09</text>
<line x1="272.75" y1="251.7" x2="272.75" y2="253" stroke="#333" stroke-width="0.5"/>
<text transform="translate(274.14 254.1) rotate(-90)" text-anchor="end" font-size="3.02" textLength="8.43" lengthAdjust="spacingAndGlyphs" fill="#222" stroke="#222" stroke-width="0.06">08-09</text>
<line x1="275.6" y1="251.7" x2="275.6" y2="253" stroke="#333" stroke-width="0.5"/>
<text transform="translate(276.99 254.1) rotate(-90)" text-anchor="end" font-size="3.02" textLength="8.43" lengthAdjust="spacingAndGlyphs" fill="#222" stroke="#222" stroke-width="0.06">08-09</text>
<line x1="278" y1="251.7" x2="278" y2="253" stroke="#333" stroke-width="0.5"/>
<text transform="translate(279.39 254.1) rotate(-90)" text-anchor="end" font-size="3.02" textLength="8.43" lengthAdjust="spacingAndGlyphs" fill="#222" stroke="#222" stroke-width="0.06">08-09</text>
<line x1="280" y1="251.7" x2="280" y2="253" stroke="#333" stroke-width="0.5"/>
<text transform="translate(281.39 254.1) rotate(-90)" text-anchor="end" font-size="3.02" textLength="8.43" lengthAdjust="spacingAndGlyphs" fill="#222" stroke="#222" stroke-width="0.06">08-09</text>
<line x1="283" y1="251.7" x2="283" y2="253" stroke="#333" stroke-width="0.5"/>
<text transform="translate(284.39 254.1) rotate(-90)" text-anchor="end" font-size="3.02" textLength="8.43" lengthAdjust="spacingAndGlyphs" fill="#222" stroke="#222" stroke-width="0.06">08-09</text>
<line x1="285.2" y1="251.7" x2="285.2" y2="253" stroke="#333" stroke-width="0.5"/>
<text transform="translate(286.59 254.1) rotate(-90)" text-anchor="end" font-size="3.02" textLength="8.43" lengthAdjust="spacingAndGlyphs" fill="#222" stroke="#222" stroke-width="0.06">08-09</text>
<line x1="287.5" y1="251.7" x2="287.5" y2="253" stroke="#333" stroke-width="0.5"/>
<text transform="translate(288.89 254.1) rotate(-90)" text-anchor="end" font-size="3.02" textLength="8.43" lengthAdjust="spacingAndGlyphs" fill="#222" stroke="#222" stroke-width="0.06">08-09</text>
<line x1="290.6" y1="251.7" x2="290.6" y2="253" stroke="#333" stroke-width="0.5"/>
<text transform="translate(291.99 254.1) rotate(-90)" text-anchor="end" font-size="3.02" textLength="8.43" lengthAdjust="spacingAndGlyphs" fill="#222" stroke="#222" stroke-width="0.06">08-09</text>
<line x1="292.75" y1="251.7" x2="292.75" y2="253" stroke="#333" stroke-width="0.5"/>
<text transform="translate(294.14 254.1) rotate(-90)" text-anchor="end" font-size="3.02" textLength="8.43" lengthAdjust="spacingAndGlyphs" fill="#222" stroke="#222" stroke-width="0.06">08-09</text>
<line x1="295" y1="251.7" x2="295" y2="253" stroke="#333" stroke-width="0.5"/>
<text transform="translate(296.39 254.1) rotate(-90)" text-anchor="end" font-size="3.02" textLength="8.43" lengthAdjust="spacingAndGlyphs" fill="#222" stroke="#222" stroke-width="0.06">08-09</text>
<line x1="301.9" y1="251.7" x2="301.9" y2="253" stroke="#333" stroke-width="0.5"/>
<text transform="translate(303.29 254.1) rotate(-90)" text-anchor="end" font-size="3.02" textLength="8.43" lengthAdjust="spacingAndGlyphs" fill="#222" stroke="#222" stroke-width="0.06">08-09</text>
<line x1="309.4" y1="251.7" x2="309.4" y2="253" stroke="#333" stroke-width="0.5"/>
<text transform="translate(310.79 254.1) rotate(-90)" text-anchor="end" font-size="3.02" textLength="8.43" lengthAdjust="spacingAndGlyphs" fill="#222" stroke="#222" stroke-width="0.06">08-09</text>
<line x1="316.9" y1="251.7" x2="316.9" y2="253" stroke="#333" stroke-width="0.5"/>
<text transform="translate(318.29 254.1) rotate(-90)" text-anchor="end" font-size="3.02" textLength="8.43" lengthAdjust="spacingAndGlyphs" fill="#222" stroke="#222" stroke-width="0.06">08-09</text>
<line x1="328.75" y1="251.7" x2="328.75" y2="253" stroke="#333" stroke-width="0.5"/>
<text transform="translate(330.14 254.1) rotate(-90)" text-anchor="end" font-size="3.02" textLength="8.43" lengthAdjust="spacingAndGlyphs" fill="#222" stroke="#222" stroke-width="0.06">08-09</text>
<line x1="339.4" y1="251.7" x2="339.4" y2="253" stroke="#333" stroke-width="0.5"/>
<text transform="translate(340.79 254.1) rotate(-90)" text-anchor="end" font-size="3.02" textLength="8.43" lengthAdjust="spacingAndGlyphs" fill="#222" stroke="#222" stroke-width="0.06">08-09</text>
<line x1="354" y1="251.7" x2="354" y2="253" stroke="#333" stroke-width="0.5"/>
<text transform="translate(355.39 254.1) rotate(-90)" text-anchor="end" font-size="3.02" textLength="8.43" lengthAdjust="spacingAndGlyphs" fill="#222" stroke="#222" stroke-width="0.06">08-09</text>
<line x1="362" y1="251.7" x2="362" y2="253" stroke="#333" stroke-width="0.5"/>
<text transform="translate(363.39 254.1) rotate(-90)" text-anchor="end" font-size="3.02" textLength="8.43" lengthAdjust="spacingAndGlyphs" fill="#222" stroke="#222" stroke-width="0.06">08-09</text>
<line x1="364.2" y1="251.7" x2="364.2" y2="253" stroke="#333" stroke-width="0.5"/>
<text transform="translate(365.59 254.1) rotate(-90)" text-anchor="end" font-size="3.02" textLength="8.43" lengthAdjust="spacingAndGlyphs" fill="#222" stroke="#222" stroke-width="0.06">08-09</text>
<line x1="366.4" y1="251.7" x2="366.4" y2="253" stroke="#333" stroke-width="0.5"/>
<text transform="translate(367.79 254.1) rotate(-90)" text-anchor="end" font-size="3.02" textLength="8.43" lengthAdjust="spacingAndGlyphs" fill="#222" stroke="#222" stroke-width="0.06">08-09</text>
<line x1="372" y1="251.7" x2="372" y2="253" stroke="#333" stroke-width="0.5"/>
<text transform="translate(373.39 254.1) rotate(-90)" text-anchor="end" font-size="3.02" textLength="8.43" lengthAdjust="spacingAndGlyphs" fill="#222" stroke="#222" stroke-width="0.06">08-09</text>
<line x1="382" y1="251.7" x2="382" y2="253" stroke="#333" stroke-width="0.5"/>
<text transform="translate(383.39 254.1) rotate(-90)" text-anchor="end" font-size="3.02" textLength="13.04" lengthAdjust="spacingAndGlyphs" fill="#222" stroke="#222" stroke-width="0.06">08-09 17</text>
<line x1="387.3" y1="251.7" x2="387.3" y2="253" stroke="#333" stroke-width="0.5"/>
<text transform="translate(388.69 254.1) rotate(-90)" text-anchor="end" font-size="3.02" textLength="13.04" lengthAdjust="spacingAndGlyphs" fill="#222" stroke="#222" stroke-width="0.06">08-09 17</text>
<text x="307.35" y="143.1" text-anchor="middle" font-size="3.92" textLength="40.87" lengthAdjust="spacingAndGlyphs" fill="#1a1a1a" stroke="#1a1a1a" stroke-width="0.05">ARPA_2021-8-9 17:37</text>
<text transform="translate(205.6 198.35) rotate(-90)" text-anchor="middle" font-size="3.17" textLength="17.63" lengthAdjust="spacingAndGlyphs" fill="#111" stroke="#111" stroke-width="0.14">btc_volume</text>
<text x="307.35" y="271.9" text-anchor="middle" font-size="3.17" textLength="13.77" lengthAdjust="spacingAndGlyphs" fill="#111" stroke="#111" stroke-width="0.14">datetime</text>
<rect x="350.8" y="146.3" width="45" height="10" rx="0.6" fill="#fff" fill-opacity="0.85" stroke="#ddd" stroke-width="0.3"/>
<line x1="352.7" y1="149.3" x2="360.2" y2="149.3" stroke="#5a5aa0" stroke-width="0.8" stroke-dasharray="1.6 0.9"/>
<line x1="352.7" y1="154.4" x2="360.2" y2="154.4" stroke="#ede4aa" stroke-width="1.4" stroke-dasharray="3.2 0.4"/>
<text x="362.3" y="150.42" font-size="3.24" textLength="24.15" lengthAdjust="spacingAndGlyphs" fill="#111" stroke="#111" stroke-width="0.14">2021-8-9 17:37</text>
<text x="362.3" y="155.52" font-size="3.24" textLength="31.3" lengthAdjust="spacingAndGlyphs" fill="#111" stroke="#111" stroke-width="0.14">anomalous volumes</text>
<clipPath id="c5"><rect x="19.5" y="282.7" width="178.8" height="106.80000000000001"/></clipPath>
<g clip-path="url(#c5)">
<rect x="44" y="300" width="4" height="89" fill="#fff7f9"/>
<rect x="79.5" y="283" width="4" height="106" fill="#fff7f9"/>
<rect x="152.6" y="300" width="4" height="89" fill="#fff7f9"/>
<rect x="178.6" y="283" width="4" height="106" fill="#fff5f7"/>
<rect x="186.6" y="283" width="4.4" height="106" fill="#fff5f7"/>
<rect x="27" y="334" width="163" height="18" fill="#edfcf8"/>
<rect x="70" y="312" width="12" height="22" fill="#edfcf8"/>
<line x1="27" y1="317.6" x2="192" y2="317.6" stroke="#ede4aa" stroke-width="1.4" stroke-dasharray="3.2 0.4"/>
<line x1="27" y1="369.5" x2="192" y2="369.5" stroke="#ede4aa" stroke-width="1.4" stroke-dasharray="3.2 0.4"/>
<path d="M33.5 343.6V347M38.5 343.6V345.6M45.5 343.6V346.4M49.5 343.6V339M49.5 343.6V353.6M54.5 343.6V352.4M59.5 343.6V339.6M60.5 343.6V350M62.5 343.6V338M64.5 343.6V346M66.5 343.6V337.6M66.5 343.6V368M69.5 343.6V337M69.5 343.6V350M76.5 343.6V318M77.5 343.6V322.6M78.5 343.6V317M78.5 343.6V322.6M81.5 343.6V356M82.5 343.6V348M85.5 343.6V338M85.5 343.6V348M89.5 343.6V335.6M89.5 343.6V354M92.5 343.6V354M95.5 343.6V357.6M98.5 343.6V332.4M99.5 343.6V357M101.5 343.6V336M104.5 343.6V331M105.5 343.6V335M106.5 343.6V348M109.5 343.6V345M116.5 343.6V339M122.5 343.6V337M122.5 343.6V349M125.5 343.6V335M125.5 343.6V355M128.5 343.6V333.6M128.5 343.6V353M131.5 343.6V348M136.5 343.6V360M144.5 343.6V357M147.5 343.6V330.4M150.5 343.6V353.6M153.5 343.6V339.6M154.5 343.6V357M157.5 343.6V325M159.5 343.6V350.4M165.5 343.6V340M165.5 343.6V358M170.5 343.6V350M173.5 343.6V339M177.5 343.6V338M186.5 343.6V328.6M187.5 343.6V365.6" stroke="#4f7458" stroke-width="0.75" fill="none"/>
<path d="M28.23 343.6V344.16M29.48 343.6V348.01M31.85 343.6V346.27M34.61 343.6V347.45M36.99 343.6V346.17M38.63 343.6V347.78M41.01 343.6V345.37M42.84 343.6V344.19M44.98 343.6V345.19M46.07 343.6V346.42M49.29 343.6V346.86M50.81 343.6V348.6M53.18 343.6V347.42M53.98 343.6V342.37M56.41 343.6V345.35M59.55 343.6V343.75M61 343.6V340.75M63.26 343.6V339.68M65.42 343.6V338.6M66.96 343.6V342.03M69.25 343.6V340.82M70.57 343.6V341.95M71.83 343.6V340.66M73.14 343.6V343.92M73.63 343.6V343.85M75.14 343.6V345.58M75.87 343.6V349.6M77.32 343.6V347.79M78.41 343.6V343.66M79.06 343.6V344.94M80.65 343.6V346.07M81.88 343.6V345.97M82.27 343.6V343.11M85.07 343.6V345.24M86.01 343.6V342.37M87.54 343.6V341.92M89.07 343.6V337.83M91.1 343.6V342.91M92.78 343.6V341.11M94.69 343.6V346.06M95.7 343.6V342.77M98.27 343.6V344.59M99.92 343.6V341.07M100.94 343.6V341.29M102.16 343.6V346.07M104.74 343.6V347.18M105.55 343.6V342.72M107.49 343.6V342.03M109.3 343.6V347.59M110.45 343.6V350.45M112.27 343.6V341.53M114.49 343.6V344.98M116.6 343.6V340.54M117.26 343.6V340.43M118.87 343.6V346.57M120.52 343.6V341.11M122.48 343.6V338.96M123.85 343.6V339.56M126.3 343.6V342.23M127.95 343.6V345.2M129.72 343.6V350.96M130.76 343.6V351.6M132.7 343.6V351.6M134.54 343.6V349.96M135.5 343.6V348.96M137.57 343.6V345.37M138.8 343.6V349.11M140.79 343.6V348.99M142.91 343.6V351.03M144.7 343.6V350.9M145.82 343.6V351.6M148.16 343.6V347M149.41 343.6V343.47M151.27 343.6V340.41M153.38 343.6V336.6M154.98 343.6V343.81M156.26 343.6V338.33M158.51 343.6V346.59M160.23 343.6V341.83M162.24 343.6V339.47M163.83 343.6V349.8M166.57 343.6V351.6M167.06 343.6V351.55M169.98 343.6V346.65M170.59 343.6V347.67M172.73 343.6V347.99M174.32 343.6V348.74M176.58 343.6V343.42M178.07 343.6V343.01M180.23 343.6V344.3M181.48 343.6V343.97M183.27 343.6V346.46M185.63 343.6V345.46M187.66 343.6V341.31M188.43 343.6V343.36" stroke="#3f7a4e" stroke-width="0.6" fill="none"/>
<path d="M46.5 343.6V314.4M81.5 343.6V287.6M81.5 343.6V361.6M154.5 343.6V314.4M180.5 343.6V305M180.5 343.6V372M181.5 343.6V353.6M188.5 343.6V384M189.5 343.6V317" stroke="#bc8064" stroke-width="0.75" fill="none"/>
<path d="M27 341 27 342.5 27.6 341.4 27.7 344.2 28.1 345.8 28.2 344.2 28.3 342.5 28.6 342.3 29 344.5 29 345 29.5 346.8 29.6 344.6 29.6 343.8 30.1 342.9 30.2 344.9 30.5 345 30.9 342 30.9 343.8 31.3 344.1 31.4 344.4 31.7 341.9 31.9 346.3 32.1 345.1 32.3 344.1 32.8 342.9 32.8 340.7 33.2 343.6 33.4 347 33.4 343 33.7 341.6 34.2 342.6 34.2 343 34.6 346.8 34.6 345.7 34.7 342 35 346.4 35.3 344.8 35.3 342.7 35.6 344.1 35.7 343.4 36.2 344.3 36.3 341.8 36.7 343.2 36.7 343.2 37 346.2 37.1 341.9 37.1 341.2 37.5 345.4 37.6 343.1 38.1 344.3 38.1 342 38.4 345.6 38.6 345.6 38.6 346.8 38.9 344.8 39 342 39.3 342.4 39.5 344.9 39.9 342.1 39.9 344.2 40.2 343.1 40.4 342.9 40.7 343.5 40.8 342.7 41 345.4 41.1 343.9 41.3 344.5 41.4 341.8 41.9 343.4 41.9 343.1 42.3 342.2 42.5 344.5 42.8 344.2 42.9 345.5 43 343.3 43.4 342.7 43.7 343.2 43.8 344.9 44.3 344.5 44.5 344.2 44.6 345 44.9 342.5 45 344.1 45 345.2 45 346.4 45.4 346.5 45.4 342.9 45.8 344.5 46 342 46.1 346.4 46.2 346.4 46.6 343.9 46.6 345.4 47.1 344.9 47.4 344.6 47.5 344.5 47.8 346.7 48 344 48.3 344.2 48.6 345.2 48.6 343.5 49 339 49.1 343 49.3 343.9 49.3 346.8 49.5 341.7 50 341.7 50.1 344.4 50.5 344.7 50.5 345 50.8 346.8 50.9 345.6 51.2 343.4 51.3 346.5 51.6 342.7 51.7 343.1 52.1 342.1 52.4 344.8 52.5 343.1 52.8 343.1 52.9 346 53.2 346.8 53.2 343.4 53.3 340.8 53.7 343.3 53.8 343.2 54 342.4 54.1 344.6 54.1 345.2 54.7 344.6 54.8 343.7 55.2 342.1 55.3 344.5 55.8 342.7 56 342 56.3 346.8 56.4 345.3 56.5 342 56.8 343.1 57.1 341.8 57.3 345 57.5 342.2 57.8 340.9 58 343.7 58.2 344.8 58.5 343 58.8 342.2 59 339.6 59 345 59.4 341.3 59.5 343.9 59.5 343.7 59.9 344.3 60.3 343.7 60.3 343.7 60.6 350 60.9 344.6 60.9 343.4 61 340.8 61.3 340.8 61.5 343.1 61.8 340.5 62.1 345.4 62.4 343.7 62.6 345.4 62.6 338 62.8 344.8 63.1 344.6 63.2 345.7 63.3 340.4 63.7 340.9 63.9 341.9 64 346 64.2 345.9 64.6 343.9 64.8 341 65.4 342.6 65.4 345.4 65.4 340.4 65.8 340.9 66.1 343.4 66.3 340.8 66.6 337.6 66.6 343.8 66.8 345.6 67 342 67 344.6 67.2 342.5 67.6 341.1 67.8 343.6 67.9 344 68.3 341.8 68.5 346.7 68.8 342.3 69 337 69 350 69.1 344.7 69.2 340.8 69.3 342.3 69.8 342 69.9 346.4 70 343 70.3 344.2 70.5 340.8 70.6 341.9 70.9 341.9 71 345 71.2 343.4 71.3 343.1 71.7 345 71.8 340.7 71.8 342.5 72.2 340.5 72.3 341.9 72.7 342.9 73 342.2 73.1 343.9 73.3 342 73.5 344.5 73.6 343.9 73.9 342.4 73.9 342.4 74.5 346.4 74.6 342.1 74.9 341 75.1 342.2 75.1 345.6 75.4 344.1 75.6 343.9 75.9 341.3 75.9 346.8 76 343.5 76.4 342.6 76.6 342.5 76.8 340.9 77.1 343.3 77.2 345.2 77.3 346.8 77.5 342.4 77.8 345.1 78 345.2 78.4 343.7 78.4 341.8 78.4 344.7 78.9 344 78.9 342.9 79.1 344.9 79.5 345.3 79.6 344.6 80.1 342.1 80.3 342.8 80.6 343.1 80.7 346.1 80.8 344.6 81 341.1 81.2 342.1 81.4 344.6 81.7 344 81.8 341 81.9 346 82 346.1 82 348 82.3 343.1 82.4 342.5 82.5 343.4 82.9 343.3 83.1 342.9 83.5 345.6 83.7 343.9 84 345.2 84.1 342 84.3 343.7 84.6 344 84.7 340.7 85 338 85 348 85.1 345.2 85.2 342.5 85.3 343.3 85.7 344.1 85.7 344.8 86 342.4 86.2 341.2 86.2 343 86.5 341 86.9 343.5 87 341.5 87.5 345.5 87.5 341.9 87.7 342.4 88.1 346.7 88.3 343.6 88.5 343.8 88.8 344.8 89 344.3 89.1 340.4 89.5 342.1 89.5 342 90 345.3 90.2 343.7 90.4 341 90.8 342 90.9 342 91.1 342.9 91.2 346 91.6 344.5 91.8 346.5 92.2 344.7 92.3 345 92.6 343.5 92.6 344.4 92.8 341.1 93.1 341.7 93.2 344.7 93.6 344.5 93.8 342.9 93.9 345.4 94.3 344.1 94.3 346.1 94.7 346.1 94.7 346.1 95.1 343.7 95.2 342.4 95.6 343.6 95.7 342.8 95.7 344.8 96 344.3 96.2 343.3 96.4 340.6 96.8 343.9 96.9 345.1 97.3 342 97.5 342.8 97.8 341.7 98 342.1 98.3 344.6 98.3 344.4 98.6 345.2 98.7 341.3 99.1 342.9 99.3 341.5 99.6 343 99.8 341.4 99.9 341.1 100.2 341.6 100.3 344.3 100.7 344.7 100.7 343.7 100.9 341.3 101.1 340.6 101.3 342.1 101.5 342 101.9 343.2 102.1 344.3 102.2 346.1 102.4 342.4 102.6 341.5 102.9 345.4 103.1 343.9 103.5 343.4 103.9 341.9 104 343.5 104.3 341.5 104.6 343.9 104.6 341 104.7 346.8 105 341.5 105.2 344.3 105.6 342.7 105.6 345.4 105.8 343.6 106 348 106.2 340.6 106.6 343.1 106.8 345.3 107.3 340.7 107.4 343.1 107.5 342 107.9 346.7 107.9 345.2 108.3 343.4 108.3 344.9 108.7 345.8 109 345 109 344.3 109 345.3 109.3 346.8 109.6 344 109.6 342.4 110 342.8 110 344.6 110.3 341.6 110.5 346.8 110.6 344.8 110.9 346.5 111.2 341.4 111.2 343.1 111.5 345.2 111.9 342.5 112.1 340.6 112.3 341.5 112.3 343.1 112.7 344 112.8 342.6 113 344.8 113.2 343.7 113.5 341.8 113.8 342.1 114 343.5 114.2 342.8 114.5 345 114.6 344 114.7 340.9 115.1 346.4 115.3 344 115.6 341.1 115.8 342.6 116 339 116.1 345.8 116.4 345.6 116.5 342.2 116.6 340.5 117 345 117.1 343.2 117.3 340.4 117.5 343.5 117.6 345.2 118.1 341.3 118.2 343.6 118.6 344.2 118.7 345.9 118.9 346.6 119.1 343.8 119.4 342.9 119.6 341.7 119.8 345.2 120 341.7 120.4 342.7 120.5 341.1 120.5 342.4 120.9 346.1 120.9 341.8 121.4 341.7 121.6 344.9 121.7 343.1 122 337 122 349 122.2 341.5 122.4 344.2 122.5 340.4 122.7 340.4 122.7 342.2 123.1 343.9 123.4 342.6 123.6 341.6 123.9 340.4 124 342.8 124 342.2 124.3 345.3 124.8 343.7 124.9 341.2 125.3 346.1 125.4 342 125.8 344.8 126.2 345.2 126.2 341.9 126.3 342.2 126.6 342.3 126.7 345 127 344.1 127.1 345.6 127.7 342.8 127.7 340.8 128 345.2 128.3 343.7 128.3 342.1 128.7 343.9 129.1 345.1 129.2 343.8 129.7 344.8 129.7 346.8 129.7 343.9 130.1 342.4 130.2 343.6 130.4 346.5 130.8 346.8 130.8 345 130.9 345.4 131 348 131.3 345.1 131.4 345 131.8 346.3 131.9 342.9 132.1 346.1 132.5 343 132.7 346.5 132.7 346.8 132.8 344.1 133.3 344.7 133.6 342.2 133.8 341.8 134.3 345.3 134.3 345.5 134.5 346.8 134.8 342.2 135 344.7 135.2 343.7 135.4 344.1 135.5 346.8 135.6 342.3 136 346.5 136.1 344.7 136.4 342.1 136.6 343.2 136.9 342.2 137.2 343.8 137.3 345.5 137.6 345.4 137.7 343.8 137.8 345.4 138.1 342.8 138.4 345.2 138.4 343.8 138.8 346.8 138.8 343.9 139 343 139.2 341 139.4 343.8 139.5 346.5 139.9 341.8 140 342 140.1 342.9 140.3 346.6 140.6 345.2 140.7 344 140.8 346.8 141.2 344.6 141.2 343 141.6 344.9 141.7 343.1 142.1 343.9 142.2 342.8 142.6 343.3 142.6 344.5 142.9 346.8 143 341 143.2 344.6 143.6 342.6 144 342.7 144.1 346.4 144.4 343.6 144.6 344.2 144.7 346.8 144.8 345 145.1 342.4 145.4 346 145.8 341.6 145.8 344.2 145.8 346.8 146.3 345.9 146.4 343.3 146.8 344.8 147 342.6 147.2 346.5 147.5 344.7 147.7 346.7 148 341.8 148.1 342.4 148.2 346.8 148.4 343.4 148.4 341.4 148.9 344 148.9 344.1 149.3 344.8 149.4 342.3 149.4 343.5 149.7 340.9 149.9 342.6 150.2 345.1 150.6 341.6 150.7 343.9 151.1 345.4 151.1 343.4 151.3 340.4 151.6 344.1 151.7 342 152.2 344.9 152.2 342 152.8 343.7 152.8 344.3 153.3 342.3 153.4 340.4 153.4 344.1 153.6 339.6 153.8 343.7 154.1 342.8 154.2 345.8 154.6 341.9 154.8 342.8 154.9 343.1 155 343.8 155.3 342.7 155.4 343.2 155.7 344.6 155.9 342.4 156.2 341.6 156.3 340.4 156.6 340.7 156.7 341.8 157 346.6 157.1 344.2 157.4 345.7 157.8 342.6 157.9 342.4 158.2 343.8 158.3 345.5 158.5 346.6 158.6 345 158.9 346.2 159 344.8 159 350.4 159.5 341 159.6 344.7 160 343.6 160.2 341.8 160.3 346.6 160.4 342.7 160.9 344.9 161.2 345.3 161.4 340.7 161.7 342.5 161.9 341.8 162.2 341.5 162.2 340.4 162.3 343.5 162.5 343.5 162.7 344.2 163.1 343.2 163.1 346.2 163.5 345.2 163.5 345.4 163.8 344.6 163.8 346.8 163.9 343 164.1 345.6 164.3 344 164.6 346.8 165 343.1 165 340 165 344.8 165.4 346.1 165.7 343.8 165.9 344.8 166.5 342 166.5 345.2 166.6 346.8 166.8 346.6 167 343.9 167.1 346.8 167.2 343.6 167.6 344.1 167.6 345.1 168 343.3 168.2 344.3 168.4 344 168.7 341.6 168.8 343.5 169.1 342.7 169.5 342.1 169.6 340.4 170 346.6 170 350 170.1 342.2 170.1 344.4 170.6 346.8 170.7 341.1 170.7 342.2 171.1 340.8 171.3 343.2 171.5 346.8 171.7 343.9 171.8 346.6 172.2 344.2 172.3 346 172.5 342.7 172.7 346.5 172.7 346.8 173 339 173 343 173.3 344.6 173.5 344.6 173.7 342.9 173.9 341.3 174.1 344.4 174.3 342.2 174.3 346.8 174.7 343.1 174.7 345.2 175.3 343.5 175.4 345.3 175.7 346.8 176.1 345.2 176.2 346.3 176.5 344.6 176.6 343.5 176.6 343.4 176.9 345.5 177 338 177.1 342.2 177.4 340.7 177.6 344.9 178 342.8 178.1 343 178.3 343.3 178.3 346.6 178.8 344.9 178.9 344.5 179.2 345.3 179.3 340.7 179.7 345 179.9 346 180.2 344.3 180.3 340.4 180.5 343.5 180.7 342.4 180.9 343.8 181.2 344.6 181.5 344 181.6 343.8 181.7 341.9 182 341.8 182.3 343.8 182.4 341.8 182.8 342.4 183.1 345.2 183.1 341.3 183.3 346.5 183.6 342.3 183.7 346.1 184.1 341.7 184.2 343.3 184.6 341.8 184.6 343.2 184.9 341.9 185 344.5 185.4 344.4 185.5 346 185.6 345.5 185.9 340.6 186 344.4 186.2 344.8 186.4 342.8 186.7 342.2 187.1 344.2 187.2 341 187.7 343.9 187.7 341.3 187.9 343 188.2 346.7 188.4 343.4 188.5 343.8 188.7 346.1 189 346.1 189.2 343.5 189.5 340.9 189.8 343.6 189.9 343.5" stroke="#2e8c48" stroke-width="1.0" fill="none" stroke-linejoin="round"/>
<line x1="27" y1="343.6" x2="190" y2="343.6" stroke="#30482c" stroke-width="1.3"/>
<path d="M26.2 342.5a0.75 0.75 0 1 0 1.5 0a0.75 0.75 0 1 0 -1.5 0M27.6 342.5a0.75 0.75 0 1 0 1.5 0a0.75 0.75 0 1 0 -1.5 0M28.9 343.8a0.75 0.75 0 1 0 1.5 0a0.75 0.75 0 1 0 -1.5 0M30.1 342a0.75 0.75 0 1 0 1.5 0a0.75 0.75 0 1 0 -1.5 0M31.3 345.1a0.75 0.75 0 1 0 1.5 0a0.75 0.75 0 1 0 -1.5 0M32.7 343a0.75 0.75 0 1 0 1.5 0a0.75 0.75 0 1 0 -1.5 0M34 342a0.75 0.75 0 1 0 1.5 0a0.75 0.75 0 1 0 -1.5 0M34.9 344.1a0.75 0.75 0 1 0 1.5 0a0.75 0.75 0 1 0 -1.5 0M36 343.2a0.75 0.75 0 1 0 1.5 0a0.75 0.75 0 1 0 -1.5 0M36.7 345.4a0.75 0.75 0 1 0 1.5 0a0.75 0.75 0 1 0 -1.5 0M38.1 344.8a0.75 0.75 0 1 0 1.5 0a0.75 0.75 0 1 0 -1.5 0M39.2 344.2a0.75 0.75 0 1 0 1.5 0a0.75 0.75 0 1 0 -1.5 0M40.1 342.7a0.75 0.75 0 1 0 1.5 0a0.75 0.75 0 1 0 -1.5 0M41.2 343.1a0.75 0.75 0 1 0 1.5 0a0.75 0.75 0 1 0 -1.5 0M42.2 343.3a0.75 0.75 0 1 0 1.5 0a0.75 0.75 0 1 0 -1.5 0M43.7 344.2a0.75 0.75 0 1 0 1.5 0a0.75 0.75 0 1 0 -1.5 0M44.7 342.9a0.75 0.75 0 1 0 1.5 0a0.75 0.75 0 1 0 -1.5 0M45.9 345.4a0.75 0.75 0 1 0 1.5 0a0.75 0.75 0 1 0 -1.5 0M47.2 344a0.75 0.75 0 1 0 1.5 0a0.75 0.75 0 1 0 -1.5 0M48.5 343.9a0.75 0.75 0 1 0 1.5 0a0.75 0.75 0 1 0 -1.5 0M49.7 344.7a0.75 0.75 0 1 0 1.5 0a0.75 0.75 0 1 0 -1.5 0M50.9 342.7a0.75 0.75 0 1 0 1.5 0a0.75 0.75 0 1 0 -1.5 0M52 343.1a0.75 0.75 0 1 0 1.5 0a0.75 0.75 0 1 0 -1.5 0M52.9 343.3a0.75 0.75 0 1 0 1.5 0a0.75 0.75 0 1 0 -1.5 0M54 343.7a0.75 0.75 0 1 0 1.5 0a0.75 0.75 0 1 0 -1.5 0M55.3 342a0.75 0.75 0 1 0 1.5 0a0.75 0.75 0 1 0 -1.5 0M56.3 341.8a0.75 0.75 0 1 0 1.5 0a0.75 0.75 0 1 0 -1.5 0M57.3 343.7a0.75 0.75 0 1 0 1.5 0a0.75 0.75 0 1 0 -1.5 0M58.8 343.9a0.75 0.75 0 1 0 1.5 0a0.75 0.75 0 1 0 -1.5 0M60.2 343.4a0.75 0.75 0 1 0 1.5 0a0.75 0.75 0 1 0 -1.5 0M61.4 345.4a0.75 0.75 0 1 0 1.5 0a0.75 0.75 0 1 0 -1.5 0M62.4 344.6a0.75 0.75 0 1 0 1.5 0a0.75 0.75 0 1 0 -1.5 0M63.9 343.9a0.75 0.75 0 1 0 1.5 0a0.75 0.75 0 1 0 -1.5 0M65.3 343.4a0.75 0.75 0 1 0 1.5 0a0.75 0.75 0 1 0 -1.5 0M66.3 344.6a0.75 0.75 0 1 0 1.5 0a0.75 0.75 0 1 0 -1.5 0M67.6 341.8a0.75 0.75 0 1 0 1.5 0a0.75 0.75 0 1 0 -1.5 0M69 342a0.75 0.75 0 1 0 1.5 0a0.75 0.75 0 1 0 -1.5 0M70.2 345a0.75 0.75 0 1 0 1.5 0a0.75 0.75 0 1 0 -1.5 0M70.9 345a0.75 0.75 0 1 0 1.5 0a0.75 0.75 0 1 0 -1.5 0M72.3 342.2a0.75 0.75 0 1 0 1.5 0a0.75 0.75 0 1 0 -1.5 0M73.1 342.4a0.75 0.75 0 1 0 1.5 0a0.75 0.75 0 1 0 -1.5 0M74.3 342.2a0.75 0.75 0 1 0 1.5 0a0.75 0.75 0 1 0 -1.5 0M75.2 343.5a0.75 0.75 0 1 0 1.5 0a0.75 0.75 0 1 0 -1.5 0M76.4 345.2a0.75 0.75 0 1 0 1.5 0a0.75 0.75 0 1 0 -1.5 0M77.7 344.7a0.75 0.75 0 1 0 1.5 0a0.75 0.75 0 1 0 -1.5 0M78.8 344.6a0.75 0.75 0 1 0 1.5 0a0.75 0.75 0 1 0 -1.5 0M80 344.6a0.75 0.75 0 1 0 1.5 0a0.75 0.75 0 1 0 -1.5 0M80.9 344a0.75 0.75 0 1 0 1.5 0a0.75 0.75 0 1 0 -1.5 0M82.2 343.3a0.75 0.75 0 1 0 1.5 0a0.75 0.75 0 1 0 -1.5 0M83.3 342a0.75 0.75 0 1 0 1.5 0a0.75 0.75 0 1 0 -1.5 0M84.5 342.5a0.75 0.75 0 1 0 1.5 0a0.75 0.75 0 1 0 -1.5 0M85.5 343a0.75 0.75 0 1 0 1.5 0a0.75 0.75 0 1 0 -1.5 0M86.9 342.4a0.75 0.75 0 1 0 1.5 0a0.75 0.75 0 1 0 -1.5 0M88 344.8a0.75 0.75 0 1 0 1.5 0a0.75 0.75 0 1 0 -1.5 0M89.4 343.7a0.75 0.75 0 1 0 1.5 0a0.75 0.75 0 1 0 -1.5 0M90.8 344.5a0.75 0.75 0 1 0 1.5 0a0.75 0.75 0 1 0 -1.5 0M91.9 343.5a0.75 0.75 0 1 0 1.5 0a0.75 0.75 0 1 0 -1.5 0M93 342.9a0.75 0.75 0 1 0 1.5 0a0.75 0.75 0 1 0 -1.5 0M94.3 343.7a0.75 0.75 0 1 0 1.5 0a0.75 0.75 0 1 0 -1.5 0M95.5 343.3a0.75 0.75 0 1 0 1.5 0a0.75 0.75 0 1 0 -1.5 0M96.7 342.8a0.75 0.75 0 1 0 1.5 0a0.75 0.75 0 1 0 -1.5 0M97.8 345.2a0.75 0.75 0 1 0 1.5 0a0.75 0.75 0 1 0 -1.5 0M98.8 343a0.75 0.75 0 1 0 1.5 0a0.75 0.75 0 1 0 -1.5 0M99.9 344.7a0.75 0.75 0 1 0 1.5 0a0.75 0.75 0 1 0 -1.5 0M101.2 343.2a0.75 0.75 0 1 0 1.5 0a0.75 0.75 0 1 0 -1.5 0M102.3 343.9a0.75 0.75 0 1 0 1.5 0a0.75 0.75 0 1 0 -1.5 0M103.8 343.9a0.75 0.75 0 1 0 1.5 0a0.75 0.75 0 1 0 -1.5 0M105.1 343.6a0.75 0.75 0 1 0 1.5 0a0.75 0.75 0 1 0 -1.5 0M106.6 343.1a0.75 0.75 0 1 0 1.5 0a0.75 0.75 0 1 0 -1.5 0M107.6 343.4a0.75 0.75 0 1 0 1.5 0a0.75 0.75 0 1 0 -1.5 0M108.8 344a0.75 0.75 0 1 0 1.5 0a0.75 0.75 0 1 0 -1.5 0M109.8 344.8a0.75 0.75 0 1 0 1.5 0a0.75 0.75 0 1 0 -1.5 0M111.1 342.5a0.75 0.75 0 1 0 1.5 0a0.75 0.75 0 1 0 -1.5 0M112 342.6a0.75 0.75 0 1 0 1.5 0a0.75 0.75 0 1 0 -1.5 0M113.2 343.5a0.75 0.75 0 1 0 1.5 0a0.75 0.75 0 1 0 -1.5 0M114.5 344a0.75 0.75 0 1 0 1.5 0a0.75 0.75 0 1 0 -1.5 0M115.7 342.2a0.75 0.75 0 1 0 1.5 0a0.75 0.75 0 1 0 -1.5 0M116.8 343.5a0.75 0.75 0 1 0 1.5 0a0.75 0.75 0 1 0 -1.5 0M117.9 344.2a0.75 0.75 0 1 0 1.5 0a0.75 0.75 0 1 0 -1.5 0M119.1 345.2a0.75 0.75 0 1 0 1.5 0a0.75 0.75 0 1 0 -1.5 0M120.2 341.8a0.75 0.75 0 1 0 1.5 0a0.75 0.75 0 1 0 -1.5 0M121.6 344.2a0.75 0.75 0 1 0 1.5 0a0.75 0.75 0 1 0 -1.5 0M122.6 342.6a0.75 0.75 0 1 0 1.5 0a0.75 0.75 0 1 0 -1.5 0M124.1 343.7a0.75 0.75 0 1 0 1.5 0a0.75 0.75 0 1 0 -1.5 0M125.4 345.2a0.75 0.75 0 1 0 1.5 0a0.75 0.75 0 1 0 -1.5 0M126.3 344.1a0.75 0.75 0 1 0 1.5 0a0.75 0.75 0 1 0 -1.5 0M127.5 342.1a0.75 0.75 0 1 0 1.5 0a0.75 0.75 0 1 0 -1.5 0M129 343.9a0.75 0.75 0 1 0 1.5 0a0.75 0.75 0 1 0 -1.5 0M130 345a0.75 0.75 0 1 0 1.5 0a0.75 0.75 0 1 0 -1.5 0M131.2 342.9a0.75 0.75 0 1 0 1.5 0a0.75 0.75 0 1 0 -1.5 0M132.1 344.1a0.75 0.75 0 1 0 1.5 0a0.75 0.75 0 1 0 -1.5 0M133.5 345.3a0.75 0.75 0 1 0 1.5 0a0.75 0.75 0 1 0 -1.5 0M134.7 344.1a0.75 0.75 0 1 0 1.5 0a0.75 0.75 0 1 0 -1.5 0M135.8 343.2a0.75 0.75 0 1 0 1.5 0a0.75 0.75 0 1 0 -1.5 0M136.9 343.8a0.75 0.75 0 1 0 1.5 0a0.75 0.75 0 1 0 -1.5 0M138.2 343a0.75 0.75 0 1 0 1.5 0a0.75 0.75 0 1 0 -1.5 0M139.4 342.9a0.75 0.75 0 1 0 1.5 0a0.75 0.75 0 1 0 -1.5 0M140.4 344.6a0.75 0.75 0 1 0 1.5 0a0.75 0.75 0 1 0 -1.5 0M141.5 342.8a0.75 0.75 0 1 0 1.5 0a0.75 0.75 0 1 0 -1.5 0M142.4 344.6a0.75 0.75 0 1 0 1.5 0a0.75 0.75 0 1 0 -1.5 0M143.9 344.2a0.75 0.75 0 1 0 1.5 0a0.75 0.75 0 1 0 -1.5 0M145 344.2a0.75 0.75 0 1 0 1.5 0a0.75 0.75 0 1 0 -1.5 0M146.2 342.6a0.75 0.75 0 1 0 1.5 0a0.75 0.75 0 1 0 -1.5 0M147.3 341.8a0.75 0.75 0 1 0 1.5 0a0.75 0.75 0 1 0 -1.5 0M148.2 344a0.75 0.75 0 1 0 1.5 0a0.75 0.75 0 1 0 -1.5 0M149.2 342.6a0.75 0.75 0 1 0 1.5 0a0.75 0.75 0 1 0 -1.5 0M150.4 345.4a0.75 0.75 0 1 0 1.5 0a0.75 0.75 0 1 0 -1.5 0M151.5 342a0.75 0.75 0 1 0 1.5 0a0.75 0.75 0 1 0 -1.5 0M152.7 344.1a0.75 0.75 0 1 0 1.5 0a0.75 0.75 0 1 0 -1.5 0M154 342.8a0.75 0.75 0 1 0 1.5 0a0.75 0.75 0 1 0 -1.5 0M155.2 342.4a0.75 0.75 0 1 0 1.5 0a0.75 0.75 0 1 0 -1.5 0M156.4 344.2a0.75 0.75 0 1 0 1.5 0a0.75 0.75 0 1 0 -1.5 0M157.5 343.8a0.75 0.75 0 1 0 1.5 0a0.75 0.75 0 1 0 -1.5 0M158.2 344.8a0.75 0.75 0 1 0 1.5 0a0.75 0.75 0 1 0 -1.5 0M159.7 342.7a0.75 0.75 0 1 0 1.5 0a0.75 0.75 0 1 0 -1.5 0M161 342.5a0.75 0.75 0 1 0 1.5 0a0.75 0.75 0 1 0 -1.5 0M161.9 344.2a0.75 0.75 0 1 0 1.5 0a0.75 0.75 0 1 0 -1.5 0M162.7 345.2a0.75 0.75 0 1 0 1.5 0a0.75 0.75 0 1 0 -1.5 0M163.6 344a0.75 0.75 0 1 0 1.5 0a0.75 0.75 0 1 0 -1.5 0M164.9 343.8a0.75 0.75 0 1 0 1.5 0a0.75 0.75 0 1 0 -1.5 0M166.3 343.9a0.75 0.75 0 1 0 1.5 0a0.75 0.75 0 1 0 -1.5 0M167.4 344.3a0.75 0.75 0 1 0 1.5 0a0.75 0.75 0 1 0 -1.5 0M168.8 342.1a0.75 0.75 0 1 0 1.5 0a0.75 0.75 0 1 0 -1.5 0M170 342.2a0.75 0.75 0 1 0 1.5 0a0.75 0.75 0 1 0 -1.5 0M170.9 343.9a0.75 0.75 0 1 0 1.5 0a0.75 0.75 0 1 0 -1.5 0M171.8 342.7a0.75 0.75 0 1 0 1.5 0a0.75 0.75 0 1 0 -1.5 0M173 342.9a0.75 0.75 0 1 0 1.5 0a0.75 0.75 0 1 0 -1.5 0M173.9 343.1a0.75 0.75 0 1 0 1.5 0a0.75 0.75 0 1 0 -1.5 0M175.4 345.2a0.75 0.75 0 1 0 1.5 0a0.75 0.75 0 1 0 -1.5 0M176.4 342.2a0.75 0.75 0 1 0 1.5 0a0.75 0.75 0 1 0 -1.5 0M177.5 343.3a0.75 0.75 0 1 0 1.5 0a0.75 0.75 0 1 0 -1.5 0M178.4 345.3a0.75 0.75 0 1 0 1.5 0a0.75 0.75 0 1 0 -1.5 0M179.7 343.5a0.75 0.75 0 1 0 1.5 0a0.75 0.75 0 1 0 -1.5 0M180.8 343.8a0.75 0.75 0 1 0 1.5 0a0.75 0.75 0 1 0 -1.5 0M182.4 345.2a0.75 0.75 0 1 0 1.5 0a0.75 0.75 0 1 0 -1.5 0M183.4 343.3a0.75 0.75 0 1 0 1.5 0a0.75 0.75 0 1 0 -1.5 0M184.2 344.5a0.75 0.75 0 1 0 1.5 0a0.75 0.75 0 1 0 -1.5 0M185.2 344.4a0.75 0.75 0 1 0 1.5 0a0.75 0.75 0 1 0 -1.5 0M186.3 344.2a0.75 0.75 0 1 0 1.5 0a0.75 0.75 0 1 0 -1.5 0M187.8 343.8a0.75 0.75 0 1 0 1.5 0a0.75 0.75 0 1 0 -1.5 0M189 343.6a0.75 0.75 0 1 0 1.5 0a0.75 0.75 0 1 0 -1.5 0" fill="#24602f"/>
<path d="M27.4 344.2a0.8 0.8 0 1 0 1.6 0a0.8 0.8 0 1 0 -1.6 0M28.7 348a0.8 0.8 0 1 0 1.6 0a0.8 0.8 0 1 0 -1.6 0M31.1 346.3a0.8 0.8 0 1 0 1.6 0a0.8 0.8 0 1 0 -1.6 0M33.8 347.5a0.8 0.8 0 1 0 1.6 0a0.8 0.8 0 1 0 -1.6 0M36.2 346.2a0.8 0.8 0 1 0 1.6 0a0.8 0.8 0 1 0 -1.6 0M37.8 347.8a0.8 0.8 0 1 0 1.6 0a0.8 0.8 0 1 0 -1.6 0M40.2 345.4a0.8 0.8 0 1 0 1.6 0a0.8 0.8 0 1 0 -1.6 0M42 344.2a0.8 0.8 0 1 0 1.6 0a0.8 0.8 0 1 0 -1.6 0M44.2 345.2a0.8 0.8 0 1 0 1.6 0a0.8 0.8 0 1 0 -1.6 0M45.3 346.4a0.8 0.8 0 1 0 1.6 0a0.8 0.8 0 1 0 -1.6 0M48.5 346.9a0.8 0.8 0 1 0 1.6 0a0.8 0.8 0 1 0 -1.6 0M50 348.6a0.8 0.8 0 1 0 1.6 0a0.8 0.8 0 1 0 -1.6 0M52.4 347.4a0.8 0.8 0 1 0 1.6 0a0.8 0.8 0 1 0 -1.6 0M53.2 342.4a0.8 0.8 0 1 0 1.6 0a0.8 0.8 0 1 0 -1.6 0M55.6 345.3a0.8 0.8 0 1 0 1.6 0a0.8 0.8 0 1 0 -1.6 0M58.7 343.7a0.8 0.8 0 1 0 1.6 0a0.8 0.8 0 1 0 -1.6 0M60.2 340.8a0.8 0.8 0 1 0 1.6 0a0.8 0.8 0 1 0 -1.6 0M62.5 339.7a0.8 0.8 0 1 0 1.6 0a0.8 0.8 0 1 0 -1.6 0M64.6 338.6a0.8 0.8 0 1 0 1.6 0a0.8 0.8 0 1 0 -1.6 0M66.2 342a0.8 0.8 0 1 0 1.6 0a0.8 0.8 0 1 0 -1.6 0M68.4 340.8a0.8 0.8 0 1 0 1.6 0a0.8 0.8 0 1 0 -1.6 0M69.8 341.9a0.8 0.8 0 1 0 1.6 0a0.8 0.8 0 1 0 -1.6 0M71 340.7a0.8 0.8 0 1 0 1.6 0a0.8 0.8 0 1 0 -1.6 0M72.3 343.9a0.8 0.8 0 1 0 1.6 0a0.8 0.8 0 1 0 -1.6 0M72.8 343.9a0.8 0.8 0 1 0 1.6 0a0.8 0.8 0 1 0 -1.6 0M74.3 345.6a0.8 0.8 0 1 0 1.6 0a0.8 0.8 0 1 0 -1.6 0M75.1 349.6a0.8 0.8 0 1 0 1.6 0a0.8 0.8 0 1 0 -1.6 0M76.5 347.8a0.8 0.8 0 1 0 1.6 0a0.8 0.8 0 1 0 -1.6 0M77.6 343.7a0.8 0.8 0 1 0 1.6 0a0.8 0.8 0 1 0 -1.6 0M78.3 344.9a0.8 0.8 0 1 0 1.6 0a0.8 0.8 0 1 0 -1.6 0M79.9 346.1a0.8 0.8 0 1 0 1.6 0a0.8 0.8 0 1 0 -1.6 0M81.1 346a0.8 0.8 0 1 0 1.6 0a0.8 0.8 0 1 0 -1.6 0M81.5 343.1a0.8 0.8 0 1 0 1.6 0a0.8 0.8 0 1 0 -1.6 0M84.3 345.2a0.8 0.8 0 1 0 1.6 0a0.8 0.8 0 1 0 -1.6 0M85.2 342.4a0.8 0.8 0 1 0 1.6 0a0.8 0.8 0 1 0 -1.6 0M86.7 341.9a0.8 0.8 0 1 0 1.6 0a0.8 0.8 0 1 0 -1.6 0M88.3 337.8a0.8 0.8 0 1 0 1.6 0a0.8 0.8 0 1 0 -1.6 0M90.3 342.9a0.8 0.8 0 1 0 1.6 0a0.8 0.8 0 1 0 -1.6 0M92 341.1a0.8 0.8 0 1 0 1.6 0a0.8 0.8 0 1 0 -1.6 0M93.9 346.1a0.8 0.8 0 1 0 1.6 0a0.8 0.8 0 1 0 -1.6 0M94.9 342.8a0.8 0.8 0 1 0 1.6 0a0.8 0.8 0 1 0 -1.6 0M97.5 344.6a0.8 0.8 0 1 0 1.6 0a0.8 0.8 0 1 0 -1.6 0M99.1 341.1a0.8 0.8 0 1 0 1.6 0a0.8 0.8 0 1 0 -1.6 0M100.1 341.3a0.8 0.8 0 1 0 1.6 0a0.8 0.8 0 1 0 -1.6 0M101.4 346.1a0.8 0.8 0 1 0 1.6 0a0.8 0.8 0 1 0 -1.6 0M103.9 347.2a0.8 0.8 0 1 0 1.6 0a0.8 0.8 0 1 0 -1.6 0M104.8 342.7a0.8 0.8 0 1 0 1.6 0a0.8 0.8 0 1 0 -1.6 0M106.7 342a0.8 0.8 0 1 0 1.6 0a0.8 0.8 0 1 0 -1.6 0M108.5 347.6a0.8 0.8 0 1 0 1.6 0a0.8 0.8 0 1 0 -1.6 0M109.7 350.5a0.8 0.8 0 1 0 1.6 0a0.8 0.8 0 1 0 -1.6 0M111.5 341.5a0.8 0.8 0 1 0 1.6 0a0.8 0.8 0 1 0 -1.6 0M113.7 345a0.8 0.8 0 1 0 1.6 0a0.8 0.8 0 1 0 -1.6 0M115.8 340.5a0.8 0.8 0 1 0 1.6 0a0.8 0.8 0 1 0 -1.6 0M116.5 340.4a0.8 0.8 0 1 0 1.6 0a0.8 0.8 0 1 0 -1.6 0M118.1 346.6a0.8 0.8 0 1 0 1.6 0a0.8 0.8 0 1 0 -1.6 0M119.7 341.1a0.8 0.8 0 1 0 1.6 0a0.8 0.8 0 1 0 -1.6 0M121.7 339a0.8 0.8 0 1 0 1.6 0a0.8 0.8 0 1 0 -1.6 0M123.1 339.6a0.8 0.8 0 1 0 1.6 0a0.8 0.8 0 1 0 -1.6 0M125.5 342.2a0.8 0.8 0 1 0 1.6 0a0.8 0.8 0 1 0 -1.6 0M127.2 345.2a0.8 0.8 0 1 0 1.6 0a0.8 0.8 0 1 0 -1.6 0M128.9 351a0.8 0.8 0 1 0 1.6 0a0.8 0.8 0 1 0 -1.6 0M130 351.6a0.8 0.8 0 1 0 1.6 0a0.8 0.8 0 1 0 -1.6 0M131.9 351.6a0.8 0.8 0 1 0 1.6 0a0.8 0.8 0 1 0 -1.6 0M133.7 350a0.8 0.8 0 1 0 1.6 0a0.8 0.8 0 1 0 -1.6 0M134.7 349a0.8 0.8 0 1 0 1.6 0a0.8 0.8 0 1 0 -1.6 0M136.8 345.4a0.8 0.8 0 1 0 1.6 0a0.8 0.8 0 1 0 -1.6 0M138 349.1a0.8 0.8 0 1 0 1.6 0a0.8 0.8 0 1 0 -1.6 0M140 349a0.8 0.8 0 1 0 1.6 0a0.8 0.8 0 1 0 -1.6 0M142.1 351a0.8 0.8 0 1 0 1.6 0a0.8 0.8 0 1 0 -1.6 0M143.9 350.9a0.8 0.8 0 1 0 1.6 0a0.8 0.8 0 1 0 -1.6 0M145 351.6a0.8 0.8 0 1 0 1.6 0a0.8 0.8 0 1 0 -1.6 0M147.4 347a0.8 0.8 0 1 0 1.6 0a0.8 0.8 0 1 0 -1.6 0M148.6 343.5a0.8 0.8 0 1 0 1.6 0a0.8 0.8 0 1 0 -1.6 0M150.5 340.4a0.8 0.8 0 1 0 1.6 0a0.8 0.8 0 1 0 -1.6 0M152.6 336.6a0.8 0.8 0 1 0 1.6 0a0.8 0.8 0 1 0 -1.6 0M154.2 343.8a0.8 0.8 0 1 0 1.6 0a0.8 0.8 0 1 0 -1.6 0M155.5 338.3a0.8 0.8 0 1 0 1.6 0a0.8 0.8 0 1 0 -1.6 0M157.7 346.6a0.8 0.8 0 1 0 1.6 0a0.8 0.8 0 1 0 -1.6 0M159.4 341.8a0.8 0.8 0 1 0 1.6 0a0.8 0.8 0 1 0 -1.6 0M161.4 339.5a0.8 0.8 0 1 0 1.6 0a0.8 0.8 0 1 0 -1.6 0M163 349.8a0.8 0.8 0 1 0 1.6 0a0.8 0.8 0 1 0 -1.6 0M165.8 351.6a0.8 0.8 0 1 0 1.6 0a0.8 0.8 0 1 0 -1.6 0M166.3 351.5a0.8 0.8 0 1 0 1.6 0a0.8 0.8 0 1 0 -1.6 0M169.2 346.6a0.8 0.8 0 1 0 1.6 0a0.8 0.8 0 1 0 -1.6 0M169.8 347.7a0.8 0.8 0 1 0 1.6 0a0.8 0.8 0 1 0 -1.6 0M171.9 348a0.8 0.8 0 1 0 1.6 0a0.8 0.8 0 1 0 -1.6 0M173.5 348.7a0.8 0.8 0 1 0 1.6 0a0.8 0.8 0 1 0 -1.6 0M175.8 343.4a0.8 0.8 0 1 0 1.6 0a0.8 0.8 0 1 0 -1.6 0M177.3 343a0.8 0.8 0 1 0 1.6 0a0.8 0.8 0 1 0 -1.6 0M179.4 344.3a0.8 0.8 0 1 0 1.6 0a0.8 0.8 0 1 0 -1.6 0M180.7 344a0.8 0.8 0 1 0 1.6 0a0.8 0.8 0 1 0 -1.6 0M182.5 346.5a0.8 0.8 0 1 0 1.6 0a0.8 0.8 0 1 0 -1.6 0M184.8 345.5a0.8 0.8 0 1 0 1.6 0a0.8 0.8 0 1 0 -1.6 0M186.9 341.3a0.8 0.8 0 1 0 1.6 0a0.8 0.8 0 1 0 -1.6 0M187.6 343.4a0.8 0.8 0 1 0 1.6 0a0.8 0.8 0 1 0 -1.6 0" fill="#33904c" stroke="#1a3320" stroke-width="0.3"/>
<path d="M32.6 347a0.9 0.9 0 1 0 1.8 0a0.9 0.9 0 1 0 -1.8 0M37.6 345.6a0.9 0.9 0 1 0 1.8 0a0.9 0.9 0 1 0 -1.8 0M44.6 346.4a0.9 0.9 0 1 0 1.8 0a0.9 0.9 0 1 0 -1.8 0M48.6 339a0.9 0.9 0 1 0 1.8 0a0.9 0.9 0 1 0 -1.8 0M48.6 353.6a0.9 0.9 0 1 0 1.8 0a0.9 0.9 0 1 0 -1.8 0M53.6 352.4a0.9 0.9 0 1 0 1.8 0a0.9 0.9 0 1 0 -1.8 0M58.6 339.6a0.9 0.9 0 1 0 1.8 0a0.9 0.9 0 1 0 -1.8 0M59.6 350a0.9 0.9 0 1 0 1.8 0a0.9 0.9 0 1 0 -1.8 0M61.6 338a0.9 0.9 0 1 0 1.8 0a0.9 0.9 0 1 0 -1.8 0M63.6 346a0.9 0.9 0 1 0 1.8 0a0.9 0.9 0 1 0 -1.8 0M65.6 337.6a0.9 0.9 0 1 0 1.8 0a0.9 0.9 0 1 0 -1.8 0M65.6 368a0.9 0.9 0 1 0 1.8 0a0.9 0.9 0 1 0 -1.8 0M68.6 337a0.9 0.9 0 1 0 1.8 0a0.9 0.9 0 1 0 -1.8 0M68.6 350a0.9 0.9 0 1 0 1.8 0a0.9 0.9 0 1 0 -1.8 0M75.6 318a0.9 0.9 0 1 0 1.8 0a0.9 0.9 0 1 0 -1.8 0M76.6 322.6a0.9 0.9 0 1 0 1.8 0a0.9 0.9 0 1 0 -1.8 0M77.6 317a0.9 0.9 0 1 0 1.8 0a0.9 0.9 0 1 0 -1.8 0M77.6 322.6a0.9 0.9 0 1 0 1.8 0a0.9 0.9 0 1 0 -1.8 0M80.6 356a0.9 0.9 0 1 0 1.8 0a0.9 0.9 0 1 0 -1.8 0M81.6 348a0.9 0.9 0 1 0 1.8 0a0.9 0.9 0 1 0 -1.8 0M84.6 338a0.9 0.9 0 1 0 1.8 0a0.9 0.9 0 1 0 -1.8 0M84.6 348a0.9 0.9 0 1 0 1.8 0a0.9 0.9 0 1 0 -1.8 0M88.6 335.6a0.9 0.9 0 1 0 1.8 0a0.9 0.9 0 1 0 -1.8 0M88.6 354a0.9 0.9 0 1 0 1.8 0a0.9 0.9 0 1 0 -1.8 0M91.6 354a0.9 0.9 0 1 0 1.8 0a0.9 0.9 0 1 0 -1.8 0M94.6 357.6a0.9 0.9 0 1 0 1.8 0a0.9 0.9 0 1 0 -1.8 0M97.6 332.4a0.9 0.9 0 1 0 1.8 0a0.9 0.9 0 1 0 -1.8 0M98.6 357a0.9 0.9 0 1 0 1.8 0a0.9 0.9 0 1 0 -1.8 0M100.6 336a0.9 0.9 0 1 0 1.8 0a0.9 0.9 0 1 0 -1.8 0M103.6 331a0.9 0.9 0 1 0 1.8 0a0.9 0.9 0 1 0 -1.8 0M104.6 335a0.9 0.9 0 1 0 1.8 0a0.9 0.9 0 1 0 -1.8 0M105.6 348a0.9 0.9 0 1 0 1.8 0a0.9 0.9 0 1 0 -1.8 0M108.6 345a0.9 0.9 0 1 0 1.8 0a0.9 0.9 0 1 0 -1.8 0M115.6 339a0.9 0.9 0 1 0 1.8 0a0.9 0.9 0 1 0 -1.8 0M121.6 337a0.9 0.9 0 1 0 1.8 0a0.9 0.9 0 1 0 -1.8 0M121.6 349a0.9 0.9 0 1 0 1.8 0a0.9 0.9 0 1 0 -1.8 0M124.6 335a0.9 0.9 0 1 0 1.8 0a0.9 0.9 0 1 0 -1.8 0M124.6 355a0.9 0.9 0 1 0 1.8 0a0.9 0.9 0 1 0 -1.8 0M127.6 333.6a0.9 0.9 0 1 0 1.8 0a0.9 0.9 0 1 0 -1.8 0M127.6 353a0.9 0.9 0 1 0 1.8 0a0.9 0.9 0 1 0 -1.8 0M130.6 348a0.9 0.9 0 1 0 1.8 0a0.9 0.9 0 1 0 -1.8 0M135.6 360a0.9 0.9 0 1 0 1.8 0a0.9 0.9 0 1 0 -1.8 0M143.6 357a0.9 0.9 0 1 0 1.8 0a0.9 0.9 0 1 0 -1.8 0M146.6 330.4a0.9 0.9 0 1 0 1.8 0a0.9 0.9 0 1 0 -1.8 0M149.6 353.6a0.9 0.9 0 1 0 1.8 0a0.9 0.9 0 1 0 -1.8 0M152.6 339.6a0.9 0.9 0 1 0 1.8 0a0.9 0.9 0 1 0 -1.8 0M153.6 357a0.9 0.9 0 1 0 1.8 0a0.9 0.9 0 1 0 -1.8 0M156.6 325a0.9 0.9 0 1 0 1.8 0a0.9 0.9 0 1 0 -1.8 0M158.6 350.4a0.9 0.9 0 1 0 1.8 0a0.9 0.9 0 1 0 -1.8 0M164.6 340a0.9 0.9 0 1 0 1.8 0a0.9 0.9 0 1 0 -1.8 0M164.6 358a0.9 0.9 0 1 0 1.8 0a0.9 0.9 0 1 0 -1.8 0M169.6 350a0.9 0.9 0 1 0 1.8 0a0.9 0.9 0 1 0 -1.8 0M172.6 339a0.9 0.9 0 1 0 1.8 0a0.9 0.9 0 1 0 -1.8 0M176.6 338a0.9 0.9 0 1 0 1.8 0a0.9 0.9 0 1 0 -1.8 0M185.6 328.6a0.9 0.9 0 1 0 1.8 0a0.9 0.9 0 1 0 -1.8 0M186.6 365.6a0.9 0.9 0 1 0 1.8 0a0.9 0.9 0 1 0 -1.8 0" fill="#275a32" stroke="#1a3320" stroke-width="0.4"/>
<path d="M45.6 314.4a0.9 0.9 0 1 0 1.8 0a0.9 0.9 0 1 0 -1.8 0M80.6 287.6a0.9 0.9 0 1 0 1.8 0a0.9 0.9 0 1 0 -1.8 0M80.6 361.6a0.9 0.9 0 1 0 1.8 0a0.9 0.9 0 1 0 -1.8 0M153.6 314.4a0.9 0.9 0 1 0 1.8 0a0.9 0.9 0 1 0 -1.8 0M179.6 305a0.9 0.9 0 1 0 1.8 0a0.9 0.9 0 1 0 -1.8 0M179.6 372a0.9 0.9 0 1 0 1.8 0a0.9 0.9 0 1 0 -1.8 0M180.6 353.6a0.9 0.9 0 1 0 1.8 0a0.9 0.9 0 1 0 -1.8 0M187.6 384a0.9 0.9 0 1 0 1.8 0a0.9 0.9 0 1 0 -1.8 0M188.6 317a0.9 0.9 0 1 0 1.8 0a0.9 0.9 0 1 0 -1.8 0" fill="#6a3a28" stroke="#3a1a10" stroke-width="0.3"/>
<line x1="183.6" y1="297" x2="183.6" y2="385" stroke="#cfcfe8" stroke-width="1.1"/>
<line x1="183.6" y1="297" x2="183.6" y2="385" stroke="#8080b8" stroke-width="0.7" stroke-dasharray="1.3 1.1"/>
<line x1="190.6" y1="297" x2="190.6" y2="385" stroke="#cfcfe8" stroke-width="1.1"/>
<line x1="190.6" y1="297" x2="190.6" y2="385" stroke="#8080b8" stroke-width="0.7" stroke-dasharray="1.3 1.1"/>
</g>
<rect x="19.5" y="282.5" width="179" height="107" fill="none" stroke="#989898" stroke-width="1.0"/>
<line x1="18.2" y1="287" x2="19.5" y2="287" stroke="#333" stroke-width="0.5"/>
<text x="17.6" y="288.04" text-anchor="end" font-size="3.02" textLength="4.61" lengthAdjust="spacingAndGlyphs" fill="#111" stroke="#111" stroke-width="0.14">0.8</text>
<line x1="18.2" y1="301.07" x2="19.5" y2="301.07" stroke="#333" stroke-width="0.5"/>
<text x="17.6" y="302.11" text-anchor="end" font-size="3.02" textLength="4.61" lengthAdjust="spacingAndGlyphs" fill="#111" stroke="#111" stroke-width="0.14">0.6</text>
<line x1="18.2" y1="315.14" x2="19.5" y2="315.14" stroke="#333" stroke-width="0.5"/>
<text x="17.6" y="316.18" text-anchor="end" font-size="3.02" textLength="4.61" lengthAdjust="spacingAndGlyphs" fill="#111" stroke="#111" stroke-width="0.14">0.4</text>
<line x1="18.2" y1="329.21" x2="19.5" y2="329.21" stroke="#333" stroke-width="0.5"/>
<text x="17.6" y="330.25" text-anchor="end" font-size="3.02" textLength="4.61" lengthAdjust="spacingAndGlyphs" fill="#111" stroke="#111" stroke-width="0.14">0.2</text>
<line x1="18.2" y1="343.28" x2="19.5" y2="343.28" stroke="#333" stroke-width="0.5"/>
<text x="17.6" y="344.32" text-anchor="end" font-size="3.02" textLength="4.61" lengthAdjust="spacingAndGlyphs" fill="#111" stroke="#111" stroke-width="0.14">0.0</text>
<line x1="18.2" y1="357.35" x2="19.5" y2="357.35" stroke="#333" stroke-width="0.5"/>
<text x="17.6" y="358.39" text-anchor="end" font-size="3.02" textLength="7.04" lengthAdjust="spacingAndGlyphs" fill="#111" stroke="#111" stroke-width="0.14">−0.2</text>
<line x1="18.2" y1="371.42" x2="19.5" y2="371.42" stroke="#333" stroke-width="0.5"/>
<text x="17.6" y="372.46" text-anchor="end" font-size="3.02" textLength="7.04" lengthAdjust="spacingAndGlyphs" fill="#111" stroke="#111" stroke-width="0.14">−0.4</text>
<line x1="18.2" y1="385.49" x2="19.5" y2="385.49" stroke="#333" stroke-width="0.5"/>
<text x="17.6" y="386.53" text-anchor="end" font-size="3.02" textLength="7.04" lengthAdjust="spacingAndGlyphs" fill="#111" stroke="#111" stroke-width="0.14">−0.6</text>
<line x1="27.1" y1="389.5" x2="27.1" y2="390.8" stroke="#333" stroke-width="0.5"/>
<text transform="translate(28.49 392.1) rotate(-90)" text-anchor="end" font-size="3.02" textLength="8.43" lengthAdjust="spacingAndGlyphs" fill="#222" stroke="#222" stroke-width="0.06">08-10</text>
<line x1="31.8" y1="389.5" x2="31.8" y2="390.8" stroke="#333" stroke-width="0.5"/>
<text transform="translate(33.19 392.1) rotate(-90)" text-anchor="end" font-size="3.02" textLength="8.43" lengthAdjust="spacingAndGlyphs" fill="#222" stroke="#222" stroke-width="0.06">08-10</text>
<line x1="34.5" y1="389.5" x2="34.5" y2="390.8" stroke="#333" stroke-width="0.5"/>
<text transform="translate(35.89 392.1) rotate(-90)" text-anchor="end" font-size="3.02" textLength="8.43" lengthAdjust="spacingAndGlyphs" fill="#222" stroke="#222" stroke-width="0.06">08-10</text>
<line x1="40.9" y1="389.5" x2="40.9" y2="390.8" stroke="#333" stroke-width="0.5"/>
<text transform="translate(42.29 392.1) rotate(-90)" text-anchor="end" font-size="3.02" textLength="8.43" lengthAdjust="spacingAndGlyphs" fill="#222" stroke="#222" stroke-width="0.06">08-10</text>
<line x1="47.5" y1="389.5" x2="47.5" y2="390.8" stroke="#333" stroke-width="0.5"/>
<text transform="translate(48.89 392.1) rotate(-90)" text-anchor="end" font-size="3.02" textLength="8.43" lengthAdjust="spacingAndGlyphs" fill="#222" stroke="#222" stroke-width="0.06">08-10</text>
<line x1="53.75" y1="389.5" x2="53.75" y2="390.8" stroke="#333" stroke-width="0.5"/>
<text transform="translate(55.14 392.1) rotate(-90)" text-anchor="end" font-size="3.02" textLength="8.43" lengthAdjust="spacingAndGlyphs" fill="#222" stroke="#222" stroke-width="0.06">08-10</text>
<line x1="64.6" y1="389.5" x2="64.6" y2="390.8" stroke="#333" stroke-width="0.5"/>
<text transform="translate(65.99 392.1) rotate(-90)" text-anchor="end" font-size="3.02" textLength="8.43" lengthAdjust="spacingAndGlyphs" fill="#222" stroke="#222" stroke-width="0.06">08-10</text>
<line x1="73.4" y1="389.5" x2="73.4" y2="390.8" stroke="#333" stroke-width="0.5"/>
<text transform="translate(74.79 392.1) rotate(-90)" text-anchor="end" font-size="3.02" textLength="8.43" lengthAdjust="spacingAndGlyphs" fill="#222" stroke="#222" stroke-width="0.06">08-10</text>
<line x1="86.25" y1="389.5" x2="86.25" y2="390.8" stroke="#333" stroke-width="0.5"/>
<text transform="translate(87.64 392.1) rotate(-90)" text-anchor="end" font-size="3.02" textLength="8.43" lengthAdjust="spacingAndGlyphs" fill="#222" stroke="#222" stroke-width="0.06">08-10</text>
<line x1="93.4" y1="389.5" x2="93.4" y2="390.8" stroke="#333" stroke-width="0.5"/>
<text transform="translate(94.79 392.1) rotate(-90)" text-anchor="end" font-size="3.02" textLength="8.43" lengthAdjust="spacingAndGlyphs" fill="#222" stroke="#222" stroke-width="0.06">08-10</text>
<line x1="95.5" y1="389.5" x2="95.5" y2="390.8" stroke="#333" stroke-width="0.5"/>
<text transform="translate(96.89 392.1) rotate(-90)" text-anchor="end" font-size="3.02" textLength="8.43" lengthAdjust="spacingAndGlyphs" fill="#222" stroke="#222" stroke-width="0.06">08-10</text>
<line x1="97.75" y1="389.5" x2="97.75" y2="390.8" stroke="#333" stroke-width="0.5"/>
<text transform="translate(99.14 392.1) rotate(-90)" text-anchor="end" font-size="3.02" textLength="8.43" lengthAdjust="spacingAndGlyphs" fill="#222" stroke="#222" stroke-width="0.06">08-10</text>
<line x1="101.5" y1="389.5" x2="101.5" y2="390.8" stroke="#333" stroke-width="0.5"/>
<text transform="translate(102.89 392.1) rotate(-90)" text-anchor="end" font-size="3.02" textLength="8.43" lengthAdjust="spacingAndGlyphs" fill="#222" stroke="#222" stroke-width="0.06">08-10</text>
<line x1="110.5" y1="389.5" x2="110.5" y2="390.8" stroke="#333" stroke-width="0.5"/>
<text transform="translate(111.89 392.1) rotate(-90)" text-anchor="end" font-size="3.02" textLength="8.43" lengthAdjust="spacingAndGlyphs" fill="#222" stroke="#222" stroke-width="0.06">08-10</text>
<line x1="116.1" y1="389.5" x2="116.1" y2="390.8" stroke="#333" stroke-width="0.5"/>
<text transform="translate(117.49 392.1) rotate(-90)" text-anchor="end" font-size="3.02" textLength="8.43" lengthAdjust="spacingAndGlyphs" fill="#222" stroke="#222" stroke-width="0.06">08-10</text>
<line x1="126.75" y1="389.5" x2="126.75" y2="390.8" stroke="#333" stroke-width="0.5"/>
<text transform="translate(128.14 392.1) rotate(-90)" text-anchor="end" font-size="3.02" textLength="8.43" lengthAdjust="spacingAndGlyphs" fill="#222" stroke="#222" stroke-width="0.06">08-10</text>
<line x1="141.1" y1="389.5" x2="141.1" y2="390.8" stroke="#333" stroke-width="0.5"/>
<text transform="translate(142.49 392.1) rotate(-90)" text-anchor="end" font-size="3.02" textLength="8.43" lengthAdjust="spacingAndGlyphs" fill="#222" stroke="#222" stroke-width="0.06">08-10</text>
<line x1="155.1" y1="389.5" x2="155.1" y2="390.8" stroke="#333" stroke-width="0.5"/>
<text transform="translate(156.49 392.1) rotate(-90)" text-anchor="end" font-size="3.02" textLength="8.43" lengthAdjust="spacingAndGlyphs" fill="#222" stroke="#222" stroke-width="0.06">08-10</text>
<line x1="160.6" y1="389.5" x2="160.6" y2="390.8" stroke="#333" stroke-width="0.5"/>
<text transform="translate(161.99 392.1) rotate(-90)" text-anchor="end" font-size="3.02" textLength="8.43" lengthAdjust="spacingAndGlyphs" fill="#222" stroke="#222" stroke-width="0.06">08-10</text>
<line x1="164.4" y1="389.5" x2="164.4" y2="390.8" stroke="#333" stroke-width="0.5"/>
<text transform="translate(165.79 392.1) rotate(-90)" text-anchor="end" font-size="3.02" textLength="8.43" lengthAdjust="spacingAndGlyphs" fill="#222" stroke="#222" stroke-width="0.06">08-10</text>
<line x1="168" y1="389.5" x2="168" y2="390.8" stroke="#333" stroke-width="0.5"/>
<text transform="translate(169.39 392.1) rotate(-90)" text-anchor="end" font-size="3.02" textLength="8.43" lengthAdjust="spacingAndGlyphs" fill="#222" stroke="#222" stroke-width="0.06">08-10</text>
<line x1="170.5" y1="389.5" x2="170.5" y2="390.8" stroke="#333" stroke-width="0.5"/>
<text transform="translate(171.89 392.1) rotate(-90)" text-anchor="end" font-size="3.02" textLength="8.43" lengthAdjust="spacingAndGlyphs" fill="#222" stroke="#222" stroke-width="0.06">08-10</text>
<line x1="176.25" y1="389.5" x2="176.25" y2="390.8" stroke="#333" stroke-width="0.5"/>
<text transform="translate(177.64 392.1) rotate(-90)" text-anchor="end" font-size="3.02" textLength="8.43" lengthAdjust="spacingAndGlyphs" fill="#222" stroke="#222" stroke-width="0.06">08-10</text>
<line x1="178.4" y1="389.5" x2="178.4" y2="390.8" stroke="#333" stroke-width="0.5"/>
<text transform="translate(179.79 392.1) rotate(-90)" text-anchor="end" font-size="3.02" textLength="8.43" lengthAdjust="spacingAndGlyphs" fill="#222" stroke="#222" stroke-width="0.06">08-10</text>
<line x1="180.6" y1="389.5" x2="180.6" y2="390.8" stroke="#333" stroke-width="0.5"/>
<text transform="translate(181.99 392.1) rotate(-90)" text-anchor="end" font-size="3.02" textLength="8.43" lengthAdjust="spacingAndGlyphs" fill="#222" stroke="#222" stroke-width="0.06">08-10</text>
<line x1="183.5" y1="389.5" x2="183.5" y2="390.8" stroke="#333" stroke-width="0.5"/>
<text transform="translate(184.89 392.1) rotate(-90)" text-anchor="end" font-size="3.02" textLength="13.04" lengthAdjust="spacingAndGlyphs" fill="#222" stroke="#222" stroke-width="0.06">08-10 04</text>
<line x1="189.8" y1="389.5" x2="189.8" y2="390.8" stroke="#333" stroke-width="0.5"/>
<text transform="translate(191.19 392.1) rotate(-90)" text-anchor="end" font-size="3.02" textLength="13.04" lengthAdjust="spacingAndGlyphs" fill="#222" stroke="#222" stroke-width="0.06">08-10 04</text>
<text x="108.9" y="280.8" text-anchor="middle" font-size="3.92" textLength="40.87" lengthAdjust="spacingAndGlyphs" fill="#1a1a1a" stroke="#1a1a1a" stroke-width="0.05">ARPA_2021-8-10 4:44</text>
<text transform="translate(5.9 336.1) rotate(-90)" text-anchor="middle" font-size="3.17" textLength="17.63" lengthAdjust="spacingAndGlyphs" fill="#111" stroke="#111" stroke-width="0.14">btc_volume</text>
<text x="108.9" y="409.9" text-anchor="middle" font-size="3.17" textLength="13.77" lengthAdjust="spacingAndGlyphs" fill="#111" stroke="#111" stroke-width="0.14">datetime</text>
<rect x="152.3" y="284" width="45" height="10" rx="0.6" fill="#fff" fill-opacity="0.85" stroke="#ddd" stroke-width="0.3"/>
<line x1="154.2" y1="287" x2="161.7" y2="287" stroke="#5a5aa0" stroke-width="0.8" stroke-dasharray="1.6 0.9"/>
<line x1="154.2" y1="292.1" x2="161.7" y2="292.1" stroke="#ede4aa" stroke-width="1.4" stroke-dasharray="3.2 0.4"/>
<text x="163.8" y="288.12" font-size="3.24" textLength="24.15" lengthAdjust="spacingAndGlyphs" fill="#111" stroke="#111" stroke-width="0.14">2021-8-10 4:44</text>
<text x="163.8" y="293.22" font-size="3.24" textLength="31.3" lengthAdjust="spacingAndGlyphs" fill="#111" stroke="#111" stroke-width="0.14">anomalous volumes</text>
<clipPath id="c6"><rect x="216.7" y="282.7" width="178.5" height="106.80000000000001"/></clipPath>
<g clip-path="url(#c6)">
<rect x="232.4" y="303" width="7.6" height="86" fill="#ffeef2"/>
<rect x="240" y="303" width="8" height="86" fill="#fff5f7"/>
<rect x="248.2" y="283" width="7.6" height="106" fill="#ffe8ee"/>
<rect x="284" y="300" width="12" height="89" fill="#fff6f8"/>
<rect x="383" y="300" width="5" height="89" fill="#fff6f8"/>
<rect x="224" y="326.5" width="163" height="18" fill="#e6fbf6"/>
<line x1="224" y1="324.9" x2="388" y2="324.9" stroke="#ede4aa" stroke-width="1.4" stroke-dasharray="3.2 0.4"/>
<line x1="224" y1="344.3" x2="388" y2="344.3" stroke="#ede4aa" stroke-width="1.4" stroke-dasharray="3.2 0.4"/>
<path d="M226.5 334.4V331M228.5 334.4V338M236.5 334.4V341M240.5 334.4V330M242.5 334.4V345M246.5 334.4V329M262.5 334.4V330M264.5 334.4V340M270.5 334.4V331M276.5 334.4V342M282.5 334.4V338M286.5 334.4V326.4M290.5 334.4V343M298.5 334.4V327M304.5 334.4V342M309.5 334.4V343M313.5 334.4V325.6M318.5 334.4V342M322.5 334.4V330M326.5 334.4V342M342.5 334.4V340M340.5 334.4V331M351.5 334.4V328.4M356.5 334.4V343M360.5 334.4V337M366.5 334.4V338M372.5 334.4V330M378.5 334.4V340" stroke="#4f7458" stroke-width="0.75" fill="none"/>
<path d="M224.53 334.4V335.77M225.62 334.4V335.84M227.5 334.4V337.08M228.36 334.4V334.19M230.42 334.4V330.68M231.75 334.4V330.9M233.24 334.4V329.93M234.26 334.4V332.03M235.4 334.4V332.27M236.76 334.4V331.85M238.89 334.4V330.61M239.62 334.4V333.96M240.98 334.4V333.53M242.91 334.4V332.49M243.61 334.4V333.58M244.95 334.4V335.14M247.36 334.4V338.9M248.76 334.4V338.87M249.29 334.4V334.81M251.23 334.4V335.71M252.21 334.4V332.34M254.13 334.4V336.01M255.19 334.4V332.33M256.85 334.4V330.88M257.69 334.4V329.9M258.95 334.4V329.9M260.69 334.4V332.41M262.33 334.4V333M263.04 334.4V336.22M265.4 334.4V335.11M266.12 334.4V334.83M267.46 334.4V335.38M269.42 334.4V332.49M270.72 334.4V331.64M272 334.4V335.16M273.6 334.4V331.43M274.21 334.4V330.26M275.59 334.4V331.49M277.02 334.4V333.52M279.21 334.4V331.89M280.14 334.4V330.53M281.2 334.4V330.53M283.01 334.4V333.1M284.76 334.4V335.99M285.67 334.4V336.28M286.63 334.4V332.81M287.99 334.4V336.25M289.83 334.4V336.23M290.75 334.4V332.25M292.74 334.4V332.08M293.45 334.4V331.62M295.4 334.4V331.25M296.56 334.4V335.52M298.6 334.4V335.55M299.63 334.4V335.91M301.33 334.4V336.75M302.02 334.4V337.57M303.27 334.4V338.9M304.84 334.4V336.39M306.62 334.4V333.76M307.84 334.4V336.24M309.38 334.4V335.34M310.03 334.4V337.17M311.95 334.4V334.05M313.8 334.4V336.94M314.45 334.4V333.76M316.45 334.4V334.71M317.52 334.4V334.02M318.79 334.4V334.56M320.13 334.4V334.88M321.7 334.4V332.74M323.05 334.4V333.51M324.4 334.4V332.98M326.22 334.4V334.83M326.93 334.4V333.05M328.43 334.4V331.99M329.94 334.4V330.05M331.1 334.4V332.65M332.4 334.4V333.69M333.61 334.4V333.22M335.9 334.4V331.14M337.17 334.4V335M338.63 334.4V335.38M339.87 334.4V334.93M340.72 334.4V337.41M342.64 334.4V337.42M343.76 334.4V335.25M345.59 334.4V332.49M345.99 334.4V335.2M347.96 334.4V336.18M349.73 334.4V333.35M350.78 334.4V332.61M351.8 334.4V335.76M353.01 334.4V336.26M355.22 334.4V333.95M356.68 334.4V331.75M357.6 334.4V330.14M359.29 334.4V333.83M360.12 334.4V333.44M362.07 334.4V332.88M363.38 334.4V334.49M364.3 334.4V333.92M366.37 334.4V330.44M367.68 334.4V334.7M368.16 334.4V333.42M370 334.4V331.74M371.24 334.4V336.49M372.33 334.4V333.89M373.76 334.4V337.17M375.43 334.4V336.22M377.14 334.4V335.66M378.93 334.4V337.27M380.3 334.4V334.89M381.64 334.4V334.85M382.43 334.4V334.17M384.26 334.4V333.27M385.54 334.4V335.06" stroke="#3f7a4e" stroke-width="0.6" fill="none"/>
<path d="M234.5 334.4V308M236.5 334.4V322M237.5 334.4V316M238.5 334.4V311M238.5 334.4V357M240.5 334.4V322M243.5 334.4V316M244.5 334.4V350M247.5 334.4V323M250.5 334.4V287M250.5 334.4V384M251.5 334.4V291M251.5 334.4V298M252.5 334.4V305M252.5 334.4V313M253.5 334.4V350M254.5 334.4V345M249.5 334.4V318M258.5 334.4V321M258.5 334.4V364M257.5 334.4V340M287.5 334.4V317M286.5 334.4V326.4M293.5 334.4V322M293.5 334.4V352.4M298.5 334.4V327M385.5 334.4V318M385.5 334.4V346M386.5 334.4V330" stroke="#bc8064" stroke-width="0.75" fill="none"/>
<path d="M224 331.7 224 335.5 224.4 332.8 224.5 335.8 224.7 335.5 224.9 332.8 225.3 334.9 225.4 334.8 225.6 335.8 225.9 331.5 225.9 337.1 226 331 226.4 334.2 226.6 335.1 226.7 336.2 227 334.9 227.1 333.5 227.4 335.9 227.5 337.1 227.6 333.1 227.8 334.4 228 338 228.1 333.6 228.3 336.6 228.4 334.2 228.5 333 228.9 333.6 229.1 334.9 229.5 335.7 229.6 334.8 230 337.5 230 333.1 230.3 333.2 230.4 331.2 230.5 337.6 230.8 333.2 230.9 336.1 231.2 332.5 231.4 333.4 231.7 337.4 231.8 331.2 232.2 334.9 232.3 336.3 232.7 333.2 232.9 335 233.1 331.3 233.2 331.2 233.3 334.1 233.5 334.2 233.8 336.8 233.9 335.4 234.2 333.6 234.3 332 234.4 331.8 234.6 335.5 234.9 333.9 235 331.8 235.4 333.6 235.4 332.3 235.5 334.3 235.8 337.1 236 341 236.3 332.7 236.4 332.4 236.8 331.9 236.9 337.5 236.9 336.4 237.4 336.9 237.5 333 238.1 334.9 238.1 333.7 238.5 331.4 238.7 332.6 238.9 331.2 239 332.3 239.3 336.7 239.4 334 239.6 334 239.7 336.4 240 330 240 334.7 240.2 331.9 240.6 332.3 240.7 334.6 240.9 335.5 241 333.5 241.4 331.4 241.4 332.4 241.8 333.9 241.9 334.6 242.3 331.8 242.5 336.9 242.8 337 242.9 333.8 242.9 332.5 243.3 335 243.4 332.7 243.6 333.6 243.7 335.9 243.9 331.6 244 336.2 244.3 337.4 244.4 333 244.7 332.6 244.9 335.1 244.9 335.1 245.1 332.9 245.4 336 245.6 332.9 245.9 336 246 329 246.1 336.7 246.3 332.3 246.6 332.1 246.7 335.8 247 331.7 247.1 335.8 247.3 332 247.4 337.6 247.7 337.1 247.9 333.5 248.3 334.7 248.3 332.4 248.6 337.2 248.7 334.4 248.8 337.6 249 334.5 249.3 334.8 249.3 335.7 249.5 333.9 249.7 337.1 249.8 336.9 250.2 333.4 250.5 332.6 250.7 333 251 331.7 251 332.9 251.2 335.7 251.5 334.5 251.6 335.7 251.9 336.6 252 335.4 252.2 332.3 252.4 332.5 252.7 334.3 252.8 336.9 253.2 333.1 253.2 334.7 253.6 337.6 253.6 337.2 254.1 336.5 254.1 336 254.2 335.6 254.5 335.6 254.5 335 254.8 332 255 335.8 255.2 332.3 255.2 333.1 255.7 334.8 255.8 332.6 256.3 336.8 256.3 333.2 256.7 336.9 256.9 331.2 256.9 333.1 257.2 336 257.6 333.1 257.7 334.7 257.7 331.2 258.1 335.5 258.1 333.6 258.6 333.6 258.7 335.3 259 331.2 259.3 334.7 259.4 336.4 259.9 336.5 260.1 336.9 260.4 337.3 260.7 332.4 260.7 336.6 260.9 334.1 261.3 334.2 261.4 335.7 261.9 334.8 261.9 336 262 330 262.2 332.4 262.3 333 262.3 336.9 262.6 333 262.8 336.9 263 336.2 263.1 337.3 263.2 336.4 263.5 331.8 263.5 337.3 263.9 333.8 264 340 264.1 337.5 264.3 336.4 264.6 337.5 264.8 333.9 265.1 334.3 265.1 336 265.4 335.1 265.7 336.7 265.8 331.2 266.1 337.5 266.1 334.8 266.4 337.2 266.5 333.9 266.8 331.4 267 337.3 267.3 333.2 267.4 332.3 267.5 335.4 267.7 334.4 268.1 336.4 268.1 337 268.4 333.1 268.4 337.2 268.9 335.2 269.1 333.7 269.3 333 269.4 332.5 269.6 333.5 269.6 336.5 270 335.2 270 331 270 332.5 270.6 336.2 270.7 336.6 270.7 331.6 271.2 334.8 271.4 332.1 271.8 333.8 272 335.2 272.1 335.6 272.3 337.4 272.8 334.4 272.8 334.3 273.3 335.6 273.4 335.4 273.6 331.4 273.7 337.6 273.8 335.7 274.2 337.2 274.2 331.2 274.2 332.8 274.7 333.7 274.8 332.4 275.1 332.8 275.3 335.8 275.6 331.5 275.6 337.3 275.9 332.3 276 333.5 276.3 333.4 276.6 335.3 276.7 335.2 277 333.5 277.1 337 277.3 336.1 277.4 333 277.8 335.3 278 337 278.3 335.1 278.6 332.5 278.8 336.6 279 335.6 279.2 331.9 279.3 334.2 279.5 332.2 279.7 336.3 280 332.8 280.1 331.2 280.3 333.2 280.5 336.9 280.8 331.5 281 337.5 281.2 331.2 281.2 336.8 281.4 336.7 281.6 331.8 281.9 333.1 282 333.8 282 338 282.5 331.3 282.6 335.9 283 333.1 283.1 334.9 283.1 333.1 283.7 335.5 283.8 337.5 284.1 332.4 284.5 335.2 284.6 332.8 284.8 336 284.9 331.5 285 336 285.4 337.4 285.6 336.6 285.7 336.3 285.8 331.8 286.2 336.4 286.4 334 286.6 332.8 286.8 331.5 286.9 333.2 287.4 335.7 287.4 334.4 287.8 334.3 288 336.3 288.1 336.9 288.2 337.2 288.6 334.8 288.8 337.1 289.2 336.5 289.3 336.2 289.8 335.1 289.8 332.6 289.8 336.2 290.3 334.5 290.3 334.5 290.7 334.9 290.8 332.2 291.1 333.8 291.1 333.7 291.5 333.5 291.6 332.8 291.9 335.6 292 333 292.3 332.8 292.5 334.7 292.7 334.8 292.7 332.1 293 335.7 293.1 332.1 293.5 331.6 293.5 336.2 293.6 335.8 293.9 333.7 294.1 334.8 294.3 335.2 294.5 336.7 294.7 335.4 295 337.5 295.2 332.8 295.4 331.2 295.5 331.7 295.7 335.9 296.1 335 296.4 335.6 296.5 335 296.6 335.5 296.9 335.1 297.1 335.1 297.4 331.8 297.6 336 297.8 336.5 298.2 334.5 298.3 334.9 298.6 335.5 298.6 335.4 298.8 334.3 299 332 299.3 331.5 299.4 333.7 299.6 335.9 299.7 336.5 299.7 332.3 300.2 333.6 300.2 334.3 300.7 334 300.8 336.4 301.3 333.3 301.3 336.8 301.6 332.8 301.6 336.9 302 337.3 302 337.2 302 337.6 302.3 337.4 302.5 333.5 302.9 335.8 303 333.9 303.3 337.2 303.3 337.6 303.6 333.6 303.8 333.7 304.2 332.1 304.3 334.5 304.6 336.8 304.8 336.4 304.9 337.5 304.9 331.7 305.4 335.6 305.6 335.3 305.9 331.5 306 331.7 306.4 337 306.6 336.2 306.6 333.8 306.7 332.4 307.1 334.5 307.1 336.8 307.5 332.7 307.8 334.7 307.8 336.2 307.9 334.6 308.3 331.6 308.4 336.5 308.8 331.4 309.1 333.8 309.4 335.6 309.4 335.3 309.5 337 309.8 335.4 310 335.1 310 337.2 310.3 337 310.4 335.4 310.7 336.3 310.7 332.2 311.1 333.7 311.3 333.8 311.5 336.2 311.9 335.4 312 334.1 312 335.6 312.4 333.1 312.6 337.1 312.9 335.1 313.3 334.9 313.4 333.5 313.7 331.4 313.8 336.9 313.9 336.1 314.4 332.1 314.5 333.8 314.5 336.3 314.9 335.1 315.2 333.2 315.3 337.3 315.6 334.7 316 335.3 316 332.4 316.4 336.1 316.4 334.7 316.5 337.4 316.9 335.7 317.1 335.9 317.3 333.8 317.5 334 317.6 335.4 317.6 335.5 318 336.5 318.2 332.8 318.4 332.2 318.8 334.6 318.9 336.5 319 332.8 319.4 331.6 319.5 331.8 319.9 334.2 320.1 334.9 320.1 331.8 320.3 336.3 320.6 333.8 320.7 333 321.1 335.6 321.2 334.8 321.6 332.7 321.7 332.7 321.9 332.7 322 330 322 336.9 322.6 333.3 322.6 332.9 323.1 333.5 323.1 331.3 323.4 336.1 323.6 336.7 324.1 332 324.2 336.2 324.4 333 324.6 337.2 324.6 332.4 325 336.3 325.1 335.6 325.5 336.3 325.7 336 326.1 336.8 326.2 334.8 326.2 332.9 326.5 333.2 326.8 336.3 326.9 333 326.9 333.1 327.2 331.9 327.5 334.9 327.7 333.9 327.9 334 328.2 333.1 328.4 332 328.5 333.4 328.5 336.1 328.9 336.2 329.1 336.7 329.2 334.5 329.7 336.8 329.8 332.6 329.9 331.2 330.2 336.5 330.4 336.6 330.6 333 330.8 335.8 331 334.4 331.1 332.7 331.3 337.3 331.5 331.6 331.8 332.6 332 331.5 332.3 336.2 332.4 331.3 332.4 333.7 332.8 335.7 333.2 332.5 333.3 336.9 333.6 333.2 333.8 335 333.9 331.2 334.3 331.8 334.4 333.7 334.8 334.2 335 335.2 335.1 334.8 335.4 333.8 335.5 333 335.9 331.2 336 334.4 336.2 334.2 336.4 335.8 336.9 332.3 336.9 333.4 337.2 335 337.3 337 337.5 335.4 337.7 337 338.1 334.6 338.2 336 338.6 335.4 338.7 335.6 338.8 334.1 339.3 331.8 339.4 336.8 339.8 333 339.9 334.9 340 334.4 340 331 340.3 334.2 340.4 334.5 340.7 333 340.7 337.4 341 333.3 341.1 333.8 341.4 332.8 341.6 333 341.9 337.3 342 340 342 333.6 342.2 332.8 342.6 337.4 342.8 331.5 342.8 335.3 343.3 337 343.4 333.4 343.8 335.2 343.8 333.3 344 332.7 344.4 337.1 344.4 337.5 344.8 335.1 344.9 334.7 345.2 331.7 345.6 334.4 345.6 332.5 345.7 335.5 346 331.4 346 335.2 346.3 333.2 346.6 333.4 346.8 333.1 347.2 333.8 347.3 333.9 347.7 333.4 348 332 348 336.2 348.3 336.8 348.3 334.9 348.8 334 348.9 335.5 349.2 332.4 349.3 333.3 349.7 333.3 349.8 334 349.9 332.5 350.4 333.3 350.4 335.1 350.8 332.6 350.9 334.5 350.9 333.1 351 328.4 351.5 331.5 351.5 333.9 351.8 335.8 351.9 335.8 352.2 332.1 352.5 335.3 352.8 337.3 352.8 335.6 353 336.3 353.3 336.2 353.3 331.9 353.7 333.1 354 336.2 354.2 333.7 354.4 336.3 354.7 333.3 355 333.3 355 333 355.2 333.9 355.6 333.2 355.7 334 355.9 333.7 356.2 331.7 356.4 333 356.6 335.9 356.7 331.7 356.8 332.3 357.1 334.3 357.3 334.9 357.5 337 357.6 331.2 357.7 331.9 358 335.2 358.1 334.9 358.5 332 358.6 336.5 359 333.7 359.1 336.4 359.3 333.8 359.3 331.8 359.7 336.7 359.8 333.5 360 337 360.1 333.4 360.4 337.6 360.5 337.2 360.8 336.9 361 331.7 361.2 335.6 361.6 332.7 361.7 335.8 362.1 332.9 362.2 334.7 362.2 333.6 362.6 331.7 362.7 332 363.1 336.7 363.1 336.4 363.4 334.5 363.5 336.4 363.5 335.7 363.9 334.7 364 335.2 364.3 333.9 364.4 335.1 364.7 334.1 364.8 332.3 365.4 336.3 365.5 336 365.7 332.5 366 338 366.1 336.8 366.3 332.4 366.4 331.2 366.5 332.2 366.8 333 367 333.8 367.2 334.2 367.4 331.4 367.5 331.9 367.7 334.7 367.8 333.9 368.1 333.7 368.2 333.4 368.4 334.4 368.5 334.4 368.8 335.6 369 337.1 369.3 336.3 369.5 334.9 369.7 334 370 331.7 370.1 331.5 370.2 332.4 370.6 336.7 370.8 336.3 371.1 336.2 371.1 332.7 371.2 336.5 371.4 331.6 371.7 336.4 371.9 335.3 372 330 372 335.2 372.3 333.9 372.4 334.9 372.7 334.9 372.8 332.9 373.3 331.3 373.3 337.2 373.8 337.2 373.8 332.1 374 336.5 374.3 334.4 374.7 333.9 374.8 336 375.2 331.6 375.2 335.1 375.4 336.2 375.7 333.7 375.9 331.4 376 334.5 376.2 333 376.4 331.8 376.6 331.9 376.9 337.4 377 332.5 377.1 335.7 377.3 334.8 377.6 332.2 377.8 336.8 377.9 337 378 340 378.3 337.5 378.4 336.8 378.8 332.4 378.9 337.3 379 337 379.2 331.9 379.4 336 379.6 335 379.9 335.5 380.1 331.4 380.3 334.9 380.4 336.5 380.4 332.2 380.8 334.4 381 336.1 381.4 335.3 381.5 334 381.6 334.8 381.7 332.1 382 335.5 382.3 331.3 382.4 334.2 382.5 334.3 382.7 334.2 383 335.7 383.2 336.1 383.6 331.4 383.7 334 384 331.5 384.2 331.7 384.3 333.3 384.6 336.5 384.7 335.8 384.9 332.2 385.5 336.6 385.5 331.3 385.5 335.1 386 333.5" stroke="#2e8c48" stroke-width="1.0" fill="none" stroke-linejoin="round"/>
<line x1="224" y1="334.4" x2="386" y2="334.4" stroke="#30482c" stroke-width="1.3"/>
<path d="M223.2 335.5a0.75 0.75 0 1 0 1.5 0a0.75 0.75 0 1 0 -1.5 0M224.6 334.9a0.75 0.75 0 1 0 1.5 0a0.75 0.75 0 1 0 -1.5 0M225.9 335.1a0.75 0.75 0 1 0 1.5 0a0.75 0.75 0 1 0 -1.5 0M226.8 333.1a0.75 0.75 0 1 0 1.5 0a0.75 0.75 0 1 0 -1.5 0M227.8 333a0.75 0.75 0 1 0 1.5 0a0.75 0.75 0 1 0 -1.5 0M228.8 334.8a0.75 0.75 0 1 0 1.5 0a0.75 0.75 0 1 0 -1.5 0M229.7 337.6a0.75 0.75 0 1 0 1.5 0a0.75 0.75 0 1 0 -1.5 0M230.7 333.4a0.75 0.75 0 1 0 1.5 0a0.75 0.75 0 1 0 -1.5 0M232.1 335a0.75 0.75 0 1 0 1.5 0a0.75 0.75 0 1 0 -1.5 0M233 336.8a0.75 0.75 0 1 0 1.5 0a0.75 0.75 0 1 0 -1.5 0M233.8 335.5a0.75 0.75 0 1 0 1.5 0a0.75 0.75 0 1 0 -1.5 0M234.8 334.3a0.75 0.75 0 1 0 1.5 0a0.75 0.75 0 1 0 -1.5 0M236.2 337.5a0.75 0.75 0 1 0 1.5 0a0.75 0.75 0 1 0 -1.5 0M237.3 333.7a0.75 0.75 0 1 0 1.5 0a0.75 0.75 0 1 0 -1.5 0M238.7 334a0.75 0.75 0 1 0 1.5 0a0.75 0.75 0 1 0 -1.5 0M239.9 334.6a0.75 0.75 0 1 0 1.5 0a0.75 0.75 0 1 0 -1.5 0M241.1 333.9a0.75 0.75 0 1 0 1.5 0a0.75 0.75 0 1 0 -1.5 0M242.1 333.8a0.75 0.75 0 1 0 1.5 0a0.75 0.75 0 1 0 -1.5 0M243.2 331.6a0.75 0.75 0 1 0 1.5 0a0.75 0.75 0 1 0 -1.5 0M244.2 335.1a0.75 0.75 0 1 0 1.5 0a0.75 0.75 0 1 0 -1.5 0M245.4 336.7a0.75 0.75 0 1 0 1.5 0a0.75 0.75 0 1 0 -1.5 0M246.3 335.8a0.75 0.75 0 1 0 1.5 0a0.75 0.75 0 1 0 -1.5 0M247.5 332.4a0.75 0.75 0 1 0 1.5 0a0.75 0.75 0 1 0 -1.5 0M248.6 335.7a0.75 0.75 0 1 0 1.5 0a0.75 0.75 0 1 0 -1.5 0M249.7 332.6a0.75 0.75 0 1 0 1.5 0a0.75 0.75 0 1 0 -1.5 0M250.9 335.7a0.75 0.75 0 1 0 1.5 0a0.75 0.75 0 1 0 -1.5 0M251.9 334.3a0.75 0.75 0 1 0 1.5 0a0.75 0.75 0 1 0 -1.5 0M252.8 337.6a0.75 0.75 0 1 0 1.5 0a0.75 0.75 0 1 0 -1.5 0M253.8 335a0.75 0.75 0 1 0 1.5 0a0.75 0.75 0 1 0 -1.5 0M254.9 334.8a0.75 0.75 0 1 0 1.5 0a0.75 0.75 0 1 0 -1.5 0M256.2 333.1a0.75 0.75 0 1 0 1.5 0a0.75 0.75 0 1 0 -1.5 0M257.3 335.5a0.75 0.75 0 1 0 1.5 0a0.75 0.75 0 1 0 -1.5 0M258.6 336.4a0.75 0.75 0 1 0 1.5 0a0.75 0.75 0 1 0 -1.5 0M260 336.6a0.75 0.75 0 1 0 1.5 0a0.75 0.75 0 1 0 -1.5 0M261.1 334.8a0.75 0.75 0 1 0 1.5 0a0.75 0.75 0 1 0 -1.5 0M261.9 333a0.75 0.75 0 1 0 1.5 0a0.75 0.75 0 1 0 -1.5 0M262.8 331.8a0.75 0.75 0 1 0 1.5 0a0.75 0.75 0 1 0 -1.5 0M263.8 337.5a0.75 0.75 0 1 0 1.5 0a0.75 0.75 0 1 0 -1.5 0M265.1 331.2a0.75 0.75 0 1 0 1.5 0a0.75 0.75 0 1 0 -1.5 0M266.2 337.3a0.75 0.75 0 1 0 1.5 0a0.75 0.75 0 1 0 -1.5 0M267.3 336.4a0.75 0.75 0 1 0 1.5 0a0.75 0.75 0 1 0 -1.5 0M268.3 333.7a0.75 0.75 0 1 0 1.5 0a0.75 0.75 0 1 0 -1.5 0M269.2 335.2a0.75 0.75 0 1 0 1.5 0a0.75 0.75 0 1 0 -1.5 0M270.7 332.1a0.75 0.75 0 1 0 1.5 0a0.75 0.75 0 1 0 -1.5 0M272.1 334.3a0.75 0.75 0 1 0 1.5 0a0.75 0.75 0 1 0 -1.5 0M273.1 335.7a0.75 0.75 0 1 0 1.5 0a0.75 0.75 0 1 0 -1.5 0M274 333.7a0.75 0.75 0 1 0 1.5 0a0.75 0.75 0 1 0 -1.5 0M275.2 332.3a0.75 0.75 0 1 0 1.5 0a0.75 0.75 0 1 0 -1.5 0M276.5 336.1a0.75 0.75 0 1 0 1.5 0a0.75 0.75 0 1 0 -1.5 0M278 336.6a0.75 0.75 0 1 0 1.5 0a0.75 0.75 0 1 0 -1.5 0M279 336.3a0.75 0.75 0 1 0 1.5 0a0.75 0.75 0 1 0 -1.5 0M280.3 337.5a0.75 0.75 0 1 0 1.5 0a0.75 0.75 0 1 0 -1.5 0M281.2 333.1a0.75 0.75 0 1 0 1.5 0a0.75 0.75 0 1 0 -1.5 0M282.3 334.9a0.75 0.75 0 1 0 1.5 0a0.75 0.75 0 1 0 -1.5 0M283.8 335.2a0.75 0.75 0 1 0 1.5 0a0.75 0.75 0 1 0 -1.5 0M284.9 336.6a0.75 0.75 0 1 0 1.5 0a0.75 0.75 0 1 0 -1.5 0M286 331.5a0.75 0.75 0 1 0 1.5 0a0.75 0.75 0 1 0 -1.5 0M287.3 336.9a0.75 0.75 0 1 0 1.5 0a0.75 0.75 0 1 0 -1.5 0M288.5 336.5a0.75 0.75 0 1 0 1.5 0a0.75 0.75 0 1 0 -1.5 0M289.6 334.5a0.75 0.75 0 1 0 1.5 0a0.75 0.75 0 1 0 -1.5 0M290.8 333.5a0.75 0.75 0 1 0 1.5 0a0.75 0.75 0 1 0 -1.5 0M291.7 334.7a0.75 0.75 0 1 0 1.5 0a0.75 0.75 0 1 0 -1.5 0M292.7 336.2a0.75 0.75 0 1 0 1.5 0a0.75 0.75 0 1 0 -1.5 0M293.8 336.7a0.75 0.75 0 1 0 1.5 0a0.75 0.75 0 1 0 -1.5 0M295 335.9a0.75 0.75 0 1 0 1.5 0a0.75 0.75 0 1 0 -1.5 0M296.2 335.1a0.75 0.75 0 1 0 1.5 0a0.75 0.75 0 1 0 -1.5 0M297.4 334.5a0.75 0.75 0 1 0 1.5 0a0.75 0.75 0 1 0 -1.5 0M298.6 331.5a0.75 0.75 0 1 0 1.5 0a0.75 0.75 0 1 0 -1.5 0M299.4 333.6a0.75 0.75 0 1 0 1.5 0a0.75 0.75 0 1 0 -1.5 0M300.8 336.9a0.75 0.75 0 1 0 1.5 0a0.75 0.75 0 1 0 -1.5 0M301.8 333.5a0.75 0.75 0 1 0 1.5 0a0.75 0.75 0 1 0 -1.5 0M302.8 333.6a0.75 0.75 0 1 0 1.5 0a0.75 0.75 0 1 0 -1.5 0M304.1 337.5a0.75 0.75 0 1 0 1.5 0a0.75 0.75 0 1 0 -1.5 0M305.2 331.7a0.75 0.75 0 1 0 1.5 0a0.75 0.75 0 1 0 -1.5 0M306.4 334.5a0.75 0.75 0 1 0 1.5 0a0.75 0.75 0 1 0 -1.5 0M307.6 336.5a0.75 0.75 0 1 0 1.5 0a0.75 0.75 0 1 0 -1.5 0M308.8 337a0.75 0.75 0 1 0 1.5 0a0.75 0.75 0 1 0 -1.5 0M309.6 335.4a0.75 0.75 0 1 0 1.5 0a0.75 0.75 0 1 0 -1.5 0M310.6 333.8a0.75 0.75 0 1 0 1.5 0a0.75 0.75 0 1 0 -1.5 0M311.8 337.1a0.75 0.75 0 1 0 1.5 0a0.75 0.75 0 1 0 -1.5 0M313 331.4a0.75 0.75 0 1 0 1.5 0a0.75 0.75 0 1 0 -1.5 0M314.5 337.3a0.75 0.75 0 1 0 1.5 0a0.75 0.75 0 1 0 -1.5 0M315.8 337.4a0.75 0.75 0 1 0 1.5 0a0.75 0.75 0 1 0 -1.5 0M316.8 335.4a0.75 0.75 0 1 0 1.5 0a0.75 0.75 0 1 0 -1.5 0M318.2 332.8a0.75 0.75 0 1 0 1.5 0a0.75 0.75 0 1 0 -1.5 0M319.4 331.8a0.75 0.75 0 1 0 1.5 0a0.75 0.75 0 1 0 -1.5 0M320.4 334.8a0.75 0.75 0 1 0 1.5 0a0.75 0.75 0 1 0 -1.5 0M321.9 332.9a0.75 0.75 0 1 0 1.5 0a0.75 0.75 0 1 0 -1.5 0M323.4 332a0.75 0.75 0 1 0 1.5 0a0.75 0.75 0 1 0 -1.5 0M324.3 336.3a0.75 0.75 0 1 0 1.5 0a0.75 0.75 0 1 0 -1.5 0M325.5 332.9a0.75 0.75 0 1 0 1.5 0a0.75 0.75 0 1 0 -1.5 0M326.7 334.9a0.75 0.75 0 1 0 1.5 0a0.75 0.75 0 1 0 -1.5 0M327.8 333.4a0.75 0.75 0 1 0 1.5 0a0.75 0.75 0 1 0 -1.5 0M329 336.8a0.75 0.75 0 1 0 1.5 0a0.75 0.75 0 1 0 -1.5 0M330.1 335.8a0.75 0.75 0 1 0 1.5 0a0.75 0.75 0 1 0 -1.5 0M331.3 331.5a0.75 0.75 0 1 0 1.5 0a0.75 0.75 0 1 0 -1.5 0M332.4 332.5a0.75 0.75 0 1 0 1.5 0a0.75 0.75 0 1 0 -1.5 0M333.6 333.7a0.75 0.75 0 1 0 1.5 0a0.75 0.75 0 1 0 -1.5 0M334.7 333a0.75 0.75 0 1 0 1.5 0a0.75 0.75 0 1 0 -1.5 0M336.1 332.3a0.75 0.75 0 1 0 1.5 0a0.75 0.75 0 1 0 -1.5 0M337.4 334.6a0.75 0.75 0 1 0 1.5 0a0.75 0.75 0 1 0 -1.5 0M338.6 336.8a0.75 0.75 0 1 0 1.5 0a0.75 0.75 0 1 0 -1.5 0M339.6 334.5a0.75 0.75 0 1 0 1.5 0a0.75 0.75 0 1 0 -1.5 0M340.6 332.8a0.75 0.75 0 1 0 1.5 0a0.75 0.75 0 1 0 -1.5 0M342 331.5a0.75 0.75 0 1 0 1.5 0a0.75 0.75 0 1 0 -1.5 0M343.2 332.7a0.75 0.75 0 1 0 1.5 0a0.75 0.75 0 1 0 -1.5 0M344.1 335.1a0.75 0.75 0 1 0 1.5 0a0.75 0.75 0 1 0 -1.5 0M345.2 331.4a0.75 0.75 0 1 0 1.5 0a0.75 0.75 0 1 0 -1.5 0M346.5 333.9a0.75 0.75 0 1 0 1.5 0a0.75 0.75 0 1 0 -1.5 0M347.6 334.9a0.75 0.75 0 1 0 1.5 0a0.75 0.75 0 1 0 -1.5 0M348.5 332.4a0.75 0.75 0 1 0 1.5 0a0.75 0.75 0 1 0 -1.5 0M349.6 333.3a0.75 0.75 0 1 0 1.5 0a0.75 0.75 0 1 0 -1.5 0M350.8 333.9a0.75 0.75 0 1 0 1.5 0a0.75 0.75 0 1 0 -1.5 0M352 337.3a0.75 0.75 0 1 0 1.5 0a0.75 0.75 0 1 0 -1.5 0M353.3 336.2a0.75 0.75 0 1 0 1.5 0a0.75 0.75 0 1 0 -1.5 0M354.2 333.3a0.75 0.75 0 1 0 1.5 0a0.75 0.75 0 1 0 -1.5 0M355.5 331.7a0.75 0.75 0 1 0 1.5 0a0.75 0.75 0 1 0 -1.5 0M356.6 334.9a0.75 0.75 0 1 0 1.5 0a0.75 0.75 0 1 0 -1.5 0M357.4 334.9a0.75 0.75 0 1 0 1.5 0a0.75 0.75 0 1 0 -1.5 0M358.3 336.4a0.75 0.75 0 1 0 1.5 0a0.75 0.75 0 1 0 -1.5 0M359.7 337.2a0.75 0.75 0 1 0 1.5 0a0.75 0.75 0 1 0 -1.5 0M361 335.8a0.75 0.75 0 1 0 1.5 0a0.75 0.75 0 1 0 -1.5 0M362 332a0.75 0.75 0 1 0 1.5 0a0.75 0.75 0 1 0 -1.5 0M362.7 335.7a0.75 0.75 0 1 0 1.5 0a0.75 0.75 0 1 0 -1.5 0M363.9 334.1a0.75 0.75 0 1 0 1.5 0a0.75 0.75 0 1 0 -1.5 0M365.3 336.8a0.75 0.75 0 1 0 1.5 0a0.75 0.75 0 1 0 -1.5 0M366.2 333.8a0.75 0.75 0 1 0 1.5 0a0.75 0.75 0 1 0 -1.5 0M367.4 333.7a0.75 0.75 0 1 0 1.5 0a0.75 0.75 0 1 0 -1.5 0M368.3 337.1a0.75 0.75 0 1 0 1.5 0a0.75 0.75 0 1 0 -1.5 0M369.3 331.5a0.75 0.75 0 1 0 1.5 0a0.75 0.75 0 1 0 -1.5 0M370.4 332.7a0.75 0.75 0 1 0 1.5 0a0.75 0.75 0 1 0 -1.5 0M371.3 335.2a0.75 0.75 0 1 0 1.5 0a0.75 0.75 0 1 0 -1.5 0M372.5 337.2a0.75 0.75 0 1 0 1.5 0a0.75 0.75 0 1 0 -1.5 0M374 333.9a0.75 0.75 0 1 0 1.5 0a0.75 0.75 0 1 0 -1.5 0M375.1 331.4a0.75 0.75 0 1 0 1.5 0a0.75 0.75 0 1 0 -1.5 0M375.9 331.9a0.75 0.75 0 1 0 1.5 0a0.75 0.75 0 1 0 -1.5 0M376.8 332.2a0.75 0.75 0 1 0 1.5 0a0.75 0.75 0 1 0 -1.5 0M377.6 337.5a0.75 0.75 0 1 0 1.5 0a0.75 0.75 0 1 0 -1.5 0M378.6 336a0.75 0.75 0 1 0 1.5 0a0.75 0.75 0 1 0 -1.5 0M379.6 336.5a0.75 0.75 0 1 0 1.5 0a0.75 0.75 0 1 0 -1.5 0M380.8 334a0.75 0.75 0 1 0 1.5 0a0.75 0.75 0 1 0 -1.5 0M381.7 334.3a0.75 0.75 0 1 0 1.5 0a0.75 0.75 0 1 0 -1.5 0M383 334a0.75 0.75 0 1 0 1.5 0a0.75 0.75 0 1 0 -1.5 0M384 335.8a0.75 0.75 0 1 0 1.5 0a0.75 0.75 0 1 0 -1.5 0" fill="#24602f"/>
<path d="M223.7 335.8a0.8 0.8 0 1 0 1.6 0a0.8 0.8 0 1 0 -1.6 0M224.8 335.8a0.8 0.8 0 1 0 1.6 0a0.8 0.8 0 1 0 -1.6 0M226.7 337.1a0.8 0.8 0 1 0 1.6 0a0.8 0.8 0 1 0 -1.6 0M227.6 334.2a0.8 0.8 0 1 0 1.6 0a0.8 0.8 0 1 0 -1.6 0M229.6 330.7a0.8 0.8 0 1 0 1.6 0a0.8 0.8 0 1 0 -1.6 0M231 330.9a0.8 0.8 0 1 0 1.6 0a0.8 0.8 0 1 0 -1.6 0M232.4 329.9a0.8 0.8 0 1 0 1.6 0a0.8 0.8 0 1 0 -1.6 0M233.5 332a0.8 0.8 0 1 0 1.6 0a0.8 0.8 0 1 0 -1.6 0M234.6 332.3a0.8 0.8 0 1 0 1.6 0a0.8 0.8 0 1 0 -1.6 0M236 331.9a0.8 0.8 0 1 0 1.6 0a0.8 0.8 0 1 0 -1.6 0M238.1 330.6a0.8 0.8 0 1 0 1.6 0a0.8 0.8 0 1 0 -1.6 0M238.8 334a0.8 0.8 0 1 0 1.6 0a0.8 0.8 0 1 0 -1.6 0M240.2 333.5a0.8 0.8 0 1 0 1.6 0a0.8 0.8 0 1 0 -1.6 0M242.1 332.5a0.8 0.8 0 1 0 1.6 0a0.8 0.8 0 1 0 -1.6 0M242.8 333.6a0.8 0.8 0 1 0 1.6 0a0.8 0.8 0 1 0 -1.6 0M244.1 335.1a0.8 0.8 0 1 0 1.6 0a0.8 0.8 0 1 0 -1.6 0M246.6 338.9a0.8 0.8 0 1 0 1.6 0a0.8 0.8 0 1 0 -1.6 0M248 338.9a0.8 0.8 0 1 0 1.6 0a0.8 0.8 0 1 0 -1.6 0M248.5 334.8a0.8 0.8 0 1 0 1.6 0a0.8 0.8 0 1 0 -1.6 0M250.4 335.7a0.8 0.8 0 1 0 1.6 0a0.8 0.8 0 1 0 -1.6 0M251.4 332.3a0.8 0.8 0 1 0 1.6 0a0.8 0.8 0 1 0 -1.6 0M253.3 336a0.8 0.8 0 1 0 1.6 0a0.8 0.8 0 1 0 -1.6 0M254.4 332.3a0.8 0.8 0 1 0 1.6 0a0.8 0.8 0 1 0 -1.6 0M256.1 330.9a0.8 0.8 0 1 0 1.6 0a0.8 0.8 0 1 0 -1.6 0M256.9 329.9a0.8 0.8 0 1 0 1.6 0a0.8 0.8 0 1 0 -1.6 0M258.2 329.9a0.8 0.8 0 1 0 1.6 0a0.8 0.8 0 1 0 -1.6 0M259.9 332.4a0.8 0.8 0 1 0 1.6 0a0.8 0.8 0 1 0 -1.6 0M261.5 333a0.8 0.8 0 1 0 1.6 0a0.8 0.8 0 1 0 -1.6 0M262.2 336.2a0.8 0.8 0 1 0 1.6 0a0.8 0.8 0 1 0 -1.6 0M264.6 335.1a0.8 0.8 0 1 0 1.6 0a0.8 0.8 0 1 0 -1.6 0M265.3 334.8a0.8 0.8 0 1 0 1.6 0a0.8 0.8 0 1 0 -1.6 0M266.7 335.4a0.8 0.8 0 1 0 1.6 0a0.8 0.8 0 1 0 -1.6 0M268.6 332.5a0.8 0.8 0 1 0 1.6 0a0.8 0.8 0 1 0 -1.6 0M269.9 331.6a0.8 0.8 0 1 0 1.6 0a0.8 0.8 0 1 0 -1.6 0M271.2 335.2a0.8 0.8 0 1 0 1.6 0a0.8 0.8 0 1 0 -1.6 0M272.8 331.4a0.8 0.8 0 1 0 1.6 0a0.8 0.8 0 1 0 -1.6 0M273.4 330.3a0.8 0.8 0 1 0 1.6 0a0.8 0.8 0 1 0 -1.6 0M274.8 331.5a0.8 0.8 0 1 0 1.6 0a0.8 0.8 0 1 0 -1.6 0M276.2 333.5a0.8 0.8 0 1 0 1.6 0a0.8 0.8 0 1 0 -1.6 0M278.4 331.9a0.8 0.8 0 1 0 1.6 0a0.8 0.8 0 1 0 -1.6 0M279.3 330.5a0.8 0.8 0 1 0 1.6 0a0.8 0.8 0 1 0 -1.6 0M280.4 330.5a0.8 0.8 0 1 0 1.6 0a0.8 0.8 0 1 0 -1.6 0M282.2 333.1a0.8 0.8 0 1 0 1.6 0a0.8 0.8 0 1 0 -1.6 0M284 336a0.8 0.8 0 1 0 1.6 0a0.8 0.8 0 1 0 -1.6 0M284.9 336.3a0.8 0.8 0 1 0 1.6 0a0.8 0.8 0 1 0 -1.6 0M285.8 332.8a0.8 0.8 0 1 0 1.6 0a0.8 0.8 0 1 0 -1.6 0M287.2 336.3a0.8 0.8 0 1 0 1.6 0a0.8 0.8 0 1 0 -1.6 0M289 336.2a0.8 0.8 0 1 0 1.6 0a0.8 0.8 0 1 0 -1.6 0M290 332.2a0.8 0.8 0 1 0 1.6 0a0.8 0.8 0 1 0 -1.6 0M291.9 332.1a0.8 0.8 0 1 0 1.6 0a0.8 0.8 0 1 0 -1.6 0M292.7 331.6a0.8 0.8 0 1 0 1.6 0a0.8 0.8 0 1 0 -1.6 0M294.6 331.2a0.8 0.8 0 1 0 1.6 0a0.8 0.8 0 1 0 -1.6 0M295.8 335.5a0.8 0.8 0 1 0 1.6 0a0.8 0.8 0 1 0 -1.6 0M297.8 335.5a0.8 0.8 0 1 0 1.6 0a0.8 0.8 0 1 0 -1.6 0M298.8 335.9a0.8 0.8 0 1 0 1.6 0a0.8 0.8 0 1 0 -1.6 0M300.5 336.8a0.8 0.8 0 1 0 1.6 0a0.8 0.8 0 1 0 -1.6 0M301.2 337.6a0.8 0.8 0 1 0 1.6 0a0.8 0.8 0 1 0 -1.6 0M302.5 338.9a0.8 0.8 0 1 0 1.6 0a0.8 0.8 0 1 0 -1.6 0M304 336.4a0.8 0.8 0 1 0 1.6 0a0.8 0.8 0 1 0 -1.6 0M305.8 333.8a0.8 0.8 0 1 0 1.6 0a0.8 0.8 0 1 0 -1.6 0M307 336.2a0.8 0.8 0 1 0 1.6 0a0.8 0.8 0 1 0 -1.6 0M308.6 335.3a0.8 0.8 0 1 0 1.6 0a0.8 0.8 0 1 0 -1.6 0M309.2 337.2a0.8 0.8 0 1 0 1.6 0a0.8 0.8 0 1 0 -1.6 0M311.2 334.1a0.8 0.8 0 1 0 1.6 0a0.8 0.8 0 1 0 -1.6 0M313 336.9a0.8 0.8 0 1 0 1.6 0a0.8 0.8 0 1 0 -1.6 0M313.7 333.8a0.8 0.8 0 1 0 1.6 0a0.8 0.8 0 1 0 -1.6 0M315.6 334.7a0.8 0.8 0 1 0 1.6 0a0.8 0.8 0 1 0 -1.6 0M316.7 334a0.8 0.8 0 1 0 1.6 0a0.8 0.8 0 1 0 -1.6 0M318 334.6a0.8 0.8 0 1 0 1.6 0a0.8 0.8 0 1 0 -1.6 0M319.3 334.9a0.8 0.8 0 1 0 1.6 0a0.8 0.8 0 1 0 -1.6 0M320.9 332.7a0.8 0.8 0 1 0 1.6 0a0.8 0.8 0 1 0 -1.6 0M322.3 333.5a0.8 0.8 0 1 0 1.6 0a0.8 0.8 0 1 0 -1.6 0M323.6 333a0.8 0.8 0 1 0 1.6 0a0.8 0.8 0 1 0 -1.6 0M325.4 334.8a0.8 0.8 0 1 0 1.6 0a0.8 0.8 0 1 0 -1.6 0M326.1 333.1a0.8 0.8 0 1 0 1.6 0a0.8 0.8 0 1 0 -1.6 0M327.6 332a0.8 0.8 0 1 0 1.6 0a0.8 0.8 0 1 0 -1.6 0M329.1 330.1a0.8 0.8 0 1 0 1.6 0a0.8 0.8 0 1 0 -1.6 0M330.3 332.7a0.8 0.8 0 1 0 1.6 0a0.8 0.8 0 1 0 -1.6 0M331.6 333.7a0.8 0.8 0 1 0 1.6 0a0.8 0.8 0 1 0 -1.6 0M332.8 333.2a0.8 0.8 0 1 0 1.6 0a0.8 0.8 0 1 0 -1.6 0M335.1 331.1a0.8 0.8 0 1 0 1.6 0a0.8 0.8 0 1 0 -1.6 0M336.4 335a0.8 0.8 0 1 0 1.6 0a0.8 0.8 0 1 0 -1.6 0M337.8 335.4a0.8 0.8 0 1 0 1.6 0a0.8 0.8 0 1 0 -1.6 0M339.1 334.9a0.8 0.8 0 1 0 1.6 0a0.8 0.8 0 1 0 -1.6 0M339.9 337.4a0.8 0.8 0 1 0 1.6 0a0.8 0.8 0 1 0 -1.6 0M341.8 337.4a0.8 0.8 0 1 0 1.6 0a0.8 0.8 0 1 0 -1.6 0M343 335.2a0.8 0.8 0 1 0 1.6 0a0.8 0.8 0 1 0 -1.6 0M344.8 332.5a0.8 0.8 0 1 0 1.6 0a0.8 0.8 0 1 0 -1.6 0M345.2 335.2a0.8 0.8 0 1 0 1.6 0a0.8 0.8 0 1 0 -1.6 0M347.2 336.2a0.8 0.8 0 1 0 1.6 0a0.8 0.8 0 1 0 -1.6 0M348.9 333.3a0.8 0.8 0 1 0 1.6 0a0.8 0.8 0 1 0 -1.6 0M350 332.6a0.8 0.8 0 1 0 1.6 0a0.8 0.8 0 1 0 -1.6 0M351 335.8a0.8 0.8 0 1 0 1.6 0a0.8 0.8 0 1 0 -1.6 0M352.2 336.3a0.8 0.8 0 1 0 1.6 0a0.8 0.8 0 1 0 -1.6 0M354.4 333.9a0.8 0.8 0 1 0 1.6 0a0.8 0.8 0 1 0 -1.6 0M355.9 331.7a0.8 0.8 0 1 0 1.6 0a0.8 0.8 0 1 0 -1.6 0M356.8 330.1a0.8 0.8 0 1 0 1.6 0a0.8 0.8 0 1 0 -1.6 0M358.5 333.8a0.8 0.8 0 1 0 1.6 0a0.8 0.8 0 1 0 -1.6 0M359.3 333.4a0.8 0.8 0 1 0 1.6 0a0.8 0.8 0 1 0 -1.6 0M361.3 332.9a0.8 0.8 0 1 0 1.6 0a0.8 0.8 0 1 0 -1.6 0M362.6 334.5a0.8 0.8 0 1 0 1.6 0a0.8 0.8 0 1 0 -1.6 0M363.5 333.9a0.8 0.8 0 1 0 1.6 0a0.8 0.8 0 1 0 -1.6 0M365.6 330.4a0.8 0.8 0 1 0 1.6 0a0.8 0.8 0 1 0 -1.6 0M366.9 334.7a0.8 0.8 0 1 0 1.6 0a0.8 0.8 0 1 0 -1.6 0M367.4 333.4a0.8 0.8 0 1 0 1.6 0a0.8 0.8 0 1 0 -1.6 0M369.2 331.7a0.8 0.8 0 1 0 1.6 0a0.8 0.8 0 1 0 -1.6 0M370.4 336.5a0.8 0.8 0 1 0 1.6 0a0.8 0.8 0 1 0 -1.6 0M371.5 333.9a0.8 0.8 0 1 0 1.6 0a0.8 0.8 0 1 0 -1.6 0M373 337.2a0.8 0.8 0 1 0 1.6 0a0.8 0.8 0 1 0 -1.6 0M374.6 336.2a0.8 0.8 0 1 0 1.6 0a0.8 0.8 0 1 0 -1.6 0M376.3 335.7a0.8 0.8 0 1 0 1.6 0a0.8 0.8 0 1 0 -1.6 0M378.1 337.3a0.8 0.8 0 1 0 1.6 0a0.8 0.8 0 1 0 -1.6 0M379.5 334.9a0.8 0.8 0 1 0 1.6 0a0.8 0.8 0 1 0 -1.6 0M380.8 334.8a0.8 0.8 0 1 0 1.6 0a0.8 0.8 0 1 0 -1.6 0M381.6 334.2a0.8 0.8 0 1 0 1.6 0a0.8 0.8 0 1 0 -1.6 0M383.5 333.3a0.8 0.8 0 1 0 1.6 0a0.8 0.8 0 1 0 -1.6 0M384.7 335.1a0.8 0.8 0 1 0 1.6 0a0.8 0.8 0 1 0 -1.6 0" fill="#33904c" stroke="#1a3320" stroke-width="0.3"/>
<path d="M225.6 331a0.9 0.9 0 1 0 1.8 0a0.9 0.9 0 1 0 -1.8 0M227.6 338a0.9 0.9 0 1 0 1.8 0a0.9 0.9 0 1 0 -1.8 0M235.6 341a0.9 0.9 0 1 0 1.8 0a0.9 0.9 0 1 0 -1.8 0M239.6 330a0.9 0.9 0 1 0 1.8 0a0.9 0.9 0 1 0 -1.8 0M241.6 345a0.9 0.9 0 1 0 1.8 0a0.9 0.9 0 1 0 -1.8 0M245.6 329a0.9 0.9 0 1 0 1.8 0a0.9 0.9 0 1 0 -1.8 0M261.6 330a0.9 0.9 0 1 0 1.8 0a0.9 0.9 0 1 0 -1.8 0M263.6 340a0.9 0.9 0 1 0 1.8 0a0.9 0.9 0 1 0 -1.8 0M269.6 331a0.9 0.9 0 1 0 1.8 0a0.9 0.9 0 1 0 -1.8 0M275.6 342a0.9 0.9 0 1 0 1.8 0a0.9 0.9 0 1 0 -1.8 0M281.6 338a0.9 0.9 0 1 0 1.8 0a0.9 0.9 0 1 0 -1.8 0M285.6 326.4a0.9 0.9 0 1 0 1.8 0a0.9 0.9 0 1 0 -1.8 0M289.6 343a0.9 0.9 0 1 0 1.8 0a0.9 0.9 0 1 0 -1.8 0M297.6 327a0.9 0.9 0 1 0 1.8 0a0.9 0.9 0 1 0 -1.8 0M303.6 342a0.9 0.9 0 1 0 1.8 0a0.9 0.9 0 1 0 -1.8 0M308.6 343a0.9 0.9 0 1 0 1.8 0a0.9 0.9 0 1 0 -1.8 0M312.6 325.6a0.9 0.9 0 1 0 1.8 0a0.9 0.9 0 1 0 -1.8 0M317.6 342a0.9 0.9 0 1 0 1.8 0a0.9 0.9 0 1 0 -1.8 0M321.6 330a0.9 0.9 0 1 0 1.8 0a0.9 0.9 0 1 0 -1.8 0M325.6 342a0.9 0.9 0 1 0 1.8 0a0.9 0.9 0 1 0 -1.8 0M341.6 340a0.9 0.9 0 1 0 1.8 0a0.9 0.9 0 1 0 -1.8 0M339.6 331a0.9 0.9 0 1 0 1.8 0a0.9 0.9 0 1 0 -1.8 0M350.6 328.4a0.9 0.9 0 1 0 1.8 0a0.9 0.9 0 1 0 -1.8 0M355.6 343a0.9 0.9 0 1 0 1.8 0a0.9 0.9 0 1 0 -1.8 0M359.6 337a0.9 0.9 0 1 0 1.8 0a0.9 0.9 0 1 0 -1.8 0M365.6 338a0.9 0.9 0 1 0 1.8 0a0.9 0.9 0 1 0 -1.8 0M371.6 330a0.9 0.9 0 1 0 1.8 0a0.9 0.9 0 1 0 -1.8 0M377.6 340a0.9 0.9 0 1 0 1.8 0a0.9 0.9 0 1 0 -1.8 0" fill="#275a32" stroke="#1a3320" stroke-width="0.4"/>
<path d="M233.6 308a0.9 0.9 0 1 0 1.8 0a0.9 0.9 0 1 0 -1.8 0M235.6 322a0.9 0.9 0 1 0 1.8 0a0.9 0.9 0 1 0 -1.8 0M236.6 316a0.9 0.9 0 1 0 1.8 0a0.9 0.9 0 1 0 -1.8 0M237.6 311a0.9 0.9 0 1 0 1.8 0a0.9 0.9 0 1 0 -1.8 0M237.6 357a0.9 0.9 0 1 0 1.8 0a0.9 0.9 0 1 0 -1.8 0M239.6 322a0.9 0.9 0 1 0 1.8 0a0.9 0.9 0 1 0 -1.8 0M242.6 316a0.9 0.9 0 1 0 1.8 0a0.9 0.9 0 1 0 -1.8 0M243.6 350a0.9 0.9 0 1 0 1.8 0a0.9 0.9 0 1 0 -1.8 0M246.6 323a0.9 0.9 0 1 0 1.8 0a0.9 0.9 0 1 0 -1.8 0M249.6 287a0.9 0.9 0 1 0 1.8 0a0.9 0.9 0 1 0 -1.8 0M249.6 384a0.9 0.9 0 1 0 1.8 0a0.9 0.9 0 1 0 -1.8 0M250.6 291a0.9 0.9 0 1 0 1.8 0a0.9 0.9 0 1 0 -1.8 0M250.6 298a0.9 0.9 0 1 0 1.8 0a0.9 0.9 0 1 0 -1.8 0M251.6 305a0.9 0.9 0 1 0 1.8 0a0.9 0.9 0 1 0 -1.8 0M251.6 313a0.9 0.9 0 1 0 1.8 0a0.9 0.9 0 1 0 -1.8 0M252.6 350a0.9 0.9 0 1 0 1.8 0a0.9 0.9 0 1 0 -1.8 0M253.6 345a0.9 0.9 0 1 0 1.8 0a0.9 0.9 0 1 0 -1.8 0M248.6 318a0.9 0.9 0 1 0 1.8 0a0.9 0.9 0 1 0 -1.8 0M257.6 321a0.9 0.9 0 1 0 1.8 0a0.9 0.9 0 1 0 -1.8 0M257.6 364a0.9 0.9 0 1 0 1.8 0a0.9 0.9 0 1 0 -1.8 0M256.6 340a0.9 0.9 0 1 0 1.8 0a0.9 0.9 0 1 0 -1.8 0M286.6 317a0.9 0.9 0 1 0 1.8 0a0.9 0.9 0 1 0 -1.8 0M285.6 326.4a0.9 0.9 0 1 0 1.8 0a0.9 0.9 0 1 0 -1.8 0M292.6 322a0.9 0.9 0 1 0 1.8 0a0.9 0.9 0 1 0 -1.8 0M292.6 352.4a0.9 0.9 0 1 0 1.8 0a0.9 0.9 0 1 0 -1.8 0M297.6 327a0.9 0.9 0 1 0 1.8 0a0.9 0.9 0 1 0 -1.8 0M384.6 318a0.9 0.9 0 1 0 1.8 0a0.9 0.9 0 1 0 -1.8 0M384.6 346a0.9 0.9 0 1 0 1.8 0a0.9 0.9 0 1 0 -1.8 0M385.6 330a0.9 0.9 0 1 0 1.8 0a0.9 0.9 0 1 0 -1.8 0" fill="#6a3a28" stroke="#3a1a10" stroke-width="0.3"/>
<rect x="232.5" y="328.5" width="7.5" height="7" fill="#8f6040" stroke="none" stroke-width="0.6"/>
<rect x="248.4" y="312" width="7.2" height="24" fill="#e04232" stroke="none" stroke-width="0.6"/>
<rect x="248.4" y="336" width="7.2" height="10" fill="#b4664a" stroke="none" stroke-width="0.6"/>
<path d="M250.6 333.6a0.85 0.85 0 1 0 1.7 0a0.85 0.85 0 1 0 -1.7 0M250.9 334a0.85 0.85 0 1 0 1.7 0a0.85 0.85 0 1 0 -1.7 0M251 332.7a0.85 0.85 0 1 0 1.7 0a0.85 0.85 0 1 0 -1.7 0M249.7 305.2a0.85 0.85 0 1 0 1.7 0a0.85 0.85 0 1 0 -1.7 0M251.2 318.5a0.85 0.85 0 1 0 1.7 0a0.85 0.85 0 1 0 -1.7 0M253.6 324.3a0.85 0.85 0 1 0 1.7 0a0.85 0.85 0 1 0 -1.7 0M248.8 318.8a0.85 0.85 0 1 0 1.7 0a0.85 0.85 0 1 0 -1.7 0M251.3 307a0.85 0.85 0 1 0 1.7 0a0.85 0.85 0 1 0 -1.7 0M254.6 315.1a0.85 0.85 0 1 0 1.7 0a0.85 0.85 0 1 0 -1.7 0M247.8 335.1a0.85 0.85 0 1 0 1.7 0a0.85 0.85 0 1 0 -1.7 0M249.4 330.6a0.85 0.85 0 1 0 1.7 0a0.85 0.85 0 1 0 -1.7 0M252.8 317.9a0.85 0.85 0 1 0 1.7 0a0.85 0.85 0 1 0 -1.7 0M252.2 338.1a0.85 0.85 0 1 0 1.7 0a0.85 0.85 0 1 0 -1.7 0M252.1 326.9a0.85 0.85 0 1 0 1.7 0a0.85 0.85 0 1 0 -1.7 0M254.6 319.4a0.85 0.85 0 1 0 1.7 0a0.85 0.85 0 1 0 -1.7 0M249.8 311a0.85 0.85 0 1 0 1.7 0a0.85 0.85 0 1 0 -1.7 0M252.8 309.2a0.85 0.85 0 1 0 1.7 0a0.85 0.85 0 1 0 -1.7 0M253.1 342.7a0.85 0.85 0 1 0 1.7 0a0.85 0.85 0 1 0 -1.7 0M252.6 327.6a0.85 0.85 0 1 0 1.7 0a0.85 0.85 0 1 0 -1.7 0M253 330.2a0.85 0.85 0 1 0 1.7 0a0.85 0.85 0 1 0 -1.7 0M250.4 344.3a0.85 0.85 0 1 0 1.7 0a0.85 0.85 0 1 0 -1.7 0M251.9 302.6a0.85 0.85 0 1 0 1.7 0a0.85 0.85 0 1 0 -1.7 0M252.2 321.5a0.85 0.85 0 1 0 1.7 0a0.85 0.85 0 1 0 -1.7 0M250.5 337.3a0.85 0.85 0 1 0 1.7 0a0.85 0.85 0 1 0 -1.7 0M247.6 301.7a0.85 0.85 0 1 0 1.7 0a0.85 0.85 0 1 0 -1.7 0M251.1 312.5a0.85 0.85 0 1 0 1.7 0a0.85 0.85 0 1 0 -1.7 0" fill="#c83a2a" stroke="#7a2a1a" stroke-width="0.25"/>
<path d="M235.7 332.6a0.85 0.85 0 1 0 1.7 0a0.85 0.85 0 1 0 -1.7 0M244.3 320.3a0.85 0.85 0 1 0 1.7 0a0.85 0.85 0 1 0 -1.7 0M236.7 319.2a0.85 0.85 0 1 0 1.7 0a0.85 0.85 0 1 0 -1.7 0M236 328a0.85 0.85 0 1 0 1.7 0a0.85 0.85 0 1 0 -1.7 0M244 332.3a0.85 0.85 0 1 0 1.7 0a0.85 0.85 0 1 0 -1.7 0M241.8 334.5a0.85 0.85 0 1 0 1.7 0a0.85 0.85 0 1 0 -1.7 0M233.3 345.9a0.85 0.85 0 1 0 1.7 0a0.85 0.85 0 1 0 -1.7 0M244.6 340.7a0.85 0.85 0 1 0 1.7 0a0.85 0.85 0 1 0 -1.7 0M242.6 342.2a0.85 0.85 0 1 0 1.7 0a0.85 0.85 0 1 0 -1.7 0M238.9 334.7a0.85 0.85 0 1 0 1.7 0a0.85 0.85 0 1 0 -1.7 0M238.9 336.3a0.85 0.85 0 1 0 1.7 0a0.85 0.85 0 1 0 -1.7 0M238.1 333a0.85 0.85 0 1 0 1.7 0a0.85 0.85 0 1 0 -1.7 0M242.3 320.8a0.85 0.85 0 1 0 1.7 0a0.85 0.85 0 1 0 -1.7 0M239.7 344.9a0.85 0.85 0 1 0 1.7 0a0.85 0.85 0 1 0 -1.7 0M240.1 332.4a0.85 0.85 0 1 0 1.7 0a0.85 0.85 0 1 0 -1.7 0M242.5 329.1a0.85 0.85 0 1 0 1.7 0a0.85 0.85 0 1 0 -1.7 0M234.4 318.8a0.85 0.85 0 1 0 1.7 0a0.85 0.85 0 1 0 -1.7 0M234.3 327.2a0.85 0.85 0 1 0 1.7 0a0.85 0.85 0 1 0 -1.7 0" fill="#c83a2a" stroke="#7a2a1a" stroke-width="0.25"/>
<line x1="381" y1="296" x2="381" y2="384" stroke="#cfcfe8" stroke-width="1.1"/>
<line x1="381" y1="296" x2="381" y2="384" stroke="#8080b8" stroke-width="0.7" stroke-dasharray="1.3 1.1"/>
<line x1="387" y1="296" x2="387" y2="384" stroke="#cfcfe8" stroke-width="1.1"/>
<line x1="387" y1="296" x2="387" y2="384" stroke="#8080b8" stroke-width="0.7" stroke-dasharray="1.3 1.1"/>
</g>
<rect x="216.5" y="282.5" width="179" height="107" fill="none" stroke="#989898" stroke-width="1.0"/>
<line x1="215.4" y1="298.2" x2="216.7" y2="298.2" stroke="#333" stroke-width="0.5"/>
<text x="214.8" y="299.24" text-anchor="end" font-size="3.02" textLength="1.85" lengthAdjust="spacingAndGlyphs" fill="#111" stroke="#111" stroke-width="0.14">4</text>
<line x1="215.4" y1="316.26" x2="216.7" y2="316.26" stroke="#333" stroke-width="0.5"/>
<text x="214.8" y="317.3" text-anchor="end" font-size="3.02" textLength="1.85" lengthAdjust="spacingAndGlyphs" fill="#111" stroke="#111" stroke-width="0.14">2</text>
<line x1="215.4" y1="334.32" x2="216.7" y2="334.32" stroke="#333" stroke-width="0.5"/>
<text x="214.8" y="335.36" text-anchor="end" font-size="3.02" textLength="1.85" lengthAdjust="spacingAndGlyphs" fill="#111" stroke="#111" stroke-width="0.14">0</text>
<line x1="215.4" y1="352.38" x2="216.7" y2="352.38" stroke="#333" stroke-width="0.5"/>
<text x="214.8" y="353.42" text-anchor="end" font-size="3.02" textLength="4.27" lengthAdjust="spacingAndGlyphs" fill="#111" stroke="#111" stroke-width="0.14">−2</text>
<line x1="215.4" y1="370.44" x2="216.7" y2="370.44" stroke="#333" stroke-width="0.5"/>
<text x="214.8" y="371.48" text-anchor="end" font-size="3.02" textLength="4.27" lengthAdjust="spacingAndGlyphs" fill="#111" stroke="#111" stroke-width="0.14">−4</text>
<line x1="215.4" y1="388.5" x2="216.7" y2="388.5" stroke="#333" stroke-width="0.5"/>
<text x="214.8" y="389.54" text-anchor="end" font-size="3.02" textLength="4.27" lengthAdjust="spacingAndGlyphs" fill="#111" stroke="#111" stroke-width="0.14">−6</text>
<line x1="223.2" y1="389.5" x2="223.2" y2="390.8" stroke="#333" stroke-width="0.5"/>
<text transform="translate(224.59 392.1) rotate(-90)" text-anchor="end" font-size="3.02" textLength="8.43" lengthAdjust="spacingAndGlyphs" fill="#222" stroke="#222" stroke-width="0.06">08-20</text>
<line x1="225.6" y1="389.5" x2="225.6" y2="390.8" stroke="#333" stroke-width="0.5"/>
<text transform="translate(226.99 392.1) rotate(-90)" text-anchor="end" font-size="3.02" textLength="8.43" lengthAdjust="spacingAndGlyphs" fill="#222" stroke="#222" stroke-width="0.06">08-20</text>
<line x1="230.75" y1="389.5" x2="230.75" y2="390.8" stroke="#333" stroke-width="0.5"/>
<text transform="translate(232.14 392.1) rotate(-90)" text-anchor="end" font-size="3.02" textLength="8.43" lengthAdjust="spacingAndGlyphs" fill="#222" stroke="#222" stroke-width="0.06">08-20</text>
<line x1="238.25" y1="389.5" x2="238.25" y2="390.8" stroke="#333" stroke-width="0.5"/>
<text transform="translate(239.64 392.1) rotate(-90)" text-anchor="end" font-size="3.02" textLength="8.43" lengthAdjust="spacingAndGlyphs" fill="#222" stroke="#222" stroke-width="0.06">08-20</text>
<line x1="248.75" y1="389.5" x2="248.75" y2="390.8" stroke="#333" stroke-width="0.5"/>
<text transform="translate(250.14 392.1) rotate(-90)" text-anchor="end" font-size="3.02" textLength="8.43" lengthAdjust="spacingAndGlyphs" fill="#222" stroke="#222" stroke-width="0.06">08-20</text>
<line x1="260" y1="389.5" x2="260" y2="390.8" stroke="#333" stroke-width="0.5"/>
<text transform="translate(261.39 392.1) rotate(-90)" text-anchor="end" font-size="3.02" textLength="8.43" lengthAdjust="spacingAndGlyphs" fill="#222" stroke="#222" stroke-width="0.06">08-20</text>
<line x1="269.75" y1="389.5" x2="269.75" y2="390.8" stroke="#333" stroke-width="0.5"/>
<text transform="translate(271.14 392.1) rotate(-90)" text-anchor="end" font-size="3.02" textLength="8.43" lengthAdjust="spacingAndGlyphs" fill="#222" stroke="#222" stroke-width="0.06">08-20</text>
<line x1="278.5" y1="389.5" x2="278.5" y2="390.8" stroke="#333" stroke-width="0.5"/>
<text transform="translate(279.89 392.1) rotate(-90)" text-anchor="end" font-size="3.02" textLength="8.43" lengthAdjust="spacingAndGlyphs" fill="#222" stroke="#222" stroke-width="0.06">08-20</text>
<line x1="286.5" y1="389.5" x2="286.5" y2="390.8" stroke="#333" stroke-width="0.5"/>
<text transform="translate(287.89 392.1) rotate(-90)" text-anchor="end" font-size="3.02" textLength="8.43" lengthAdjust="spacingAndGlyphs" fill="#222" stroke="#222" stroke-width="0.06">08-20</text>
<line x1="296.9" y1="389.5" x2="296.9" y2="390.8" stroke="#333" stroke-width="0.5"/>
<text transform="translate(298.29 392.1) rotate(-90)" text-anchor="end" font-size="3.02" textLength="8.43" lengthAdjust="spacingAndGlyphs" fill="#222" stroke="#222" stroke-width="0.06">08-20</text>
<line x1="305.25" y1="389.5" x2="305.25" y2="390.8" stroke="#333" stroke-width="0.5"/>
<text transform="translate(306.64 392.1) rotate(-90)" text-anchor="end" font-size="3.02" textLength="8.43" lengthAdjust="spacingAndGlyphs" fill="#222" stroke="#222" stroke-width="0.06">08-20</text>
<line x1="313.1" y1="389.5" x2="313.1" y2="390.8" stroke="#333" stroke-width="0.5"/>
<text transform="translate(314.49 392.1) rotate(-90)" text-anchor="end" font-size="3.02" textLength="8.43" lengthAdjust="spacingAndGlyphs" fill="#222" stroke="#222" stroke-width="0.06">08-20</text>
<line x1="320.6" y1="389.5" x2="320.6" y2="390.8" stroke="#333" stroke-width="0.5"/>
<text transform="translate(321.99 392.1) rotate(-90)" text-anchor="end" font-size="3.02" textLength="8.43" lengthAdjust="spacingAndGlyphs" fill="#222" stroke="#222" stroke-width="0.06">08-20</text>
<line x1="328.1" y1="389.5" x2="328.1" y2="390.8" stroke="#333" stroke-width="0.5"/>
<text transform="translate(329.49 392.1) rotate(-90)" text-anchor="end" font-size="3.02" textLength="8.43" lengthAdjust="spacingAndGlyphs" fill="#222" stroke="#222" stroke-width="0.06">08-20</text>
<line x1="333.5" y1="389.5" x2="333.5" y2="390.8" stroke="#333" stroke-width="0.5"/>
<text transform="translate(334.89 392.1) rotate(-90)" text-anchor="end" font-size="3.02" textLength="8.43" lengthAdjust="spacingAndGlyphs" fill="#222" stroke="#222" stroke-width="0.06">08-20</text>
<line x1="340.25" y1="389.5" x2="340.25" y2="390.8" stroke="#333" stroke-width="0.5"/>
<text transform="translate(341.64 392.1) rotate(-90)" text-anchor="end" font-size="3.02" textLength="8.43" lengthAdjust="spacingAndGlyphs" fill="#222" stroke="#222" stroke-width="0.06">08-20</text>
<line x1="346.75" y1="389.5" x2="346.75" y2="390.8" stroke="#333" stroke-width="0.5"/>
<text transform="translate(348.14 392.1) rotate(-90)" text-anchor="end" font-size="3.02" textLength="8.43" lengthAdjust="spacingAndGlyphs" fill="#222" stroke="#222" stroke-width="0.06">08-20</text>
<line x1="353.4" y1="389.5" x2="353.4" y2="390.8" stroke="#333" stroke-width="0.5"/>
<text transform="translate(354.79 392.1) rotate(-90)" text-anchor="end" font-size="3.02" textLength="8.43" lengthAdjust="spacingAndGlyphs" fill="#222" stroke="#222" stroke-width="0.06">08-20</text>
<line x1="357" y1="389.5" x2="357" y2="390.8" stroke="#333" stroke-width="0.5"/>
<text transform="translate(358.39 392.1) rotate(-90)" text-anchor="end" font-size="3.02" textLength="8.43" lengthAdjust="spacingAndGlyphs" fill="#222" stroke="#222" stroke-width="0.06">08-20</text>
<line x1="360.6" y1="389.5" x2="360.6" y2="390.8" stroke="#333" stroke-width="0.5"/>
<text transform="translate(361.99 392.1) rotate(-90)" text-anchor="end" font-size="3.02" textLength="8.43" lengthAdjust="spacingAndGlyphs" fill="#222" stroke="#222" stroke-width="0.06">08-20</text>
<line x1="363.4" y1="389.5" x2="363.4" y2="390.8" stroke="#333" stroke-width="0.5"/>
<text transform="translate(364.79 392.1) rotate(-90)" text-anchor="end" font-size="3.02" textLength="8.43" lengthAdjust="spacingAndGlyphs" fill="#222" stroke="#222" stroke-width="0.06">08-20</text>
<line x1="369.7" y1="389.5" x2="369.7" y2="390.8" stroke="#333" stroke-width="0.5"/>
<text transform="translate(371.09 392.1) rotate(-90)" text-anchor="end" font-size="3.02" textLength="8.43" lengthAdjust="spacingAndGlyphs" fill="#222" stroke="#222" stroke-width="0.06">08-20</text>
<line x1="372.3" y1="389.5" x2="372.3" y2="390.8" stroke="#333" stroke-width="0.5"/>
<text transform="translate(373.69 392.1) rotate(-90)" text-anchor="end" font-size="3.02" textLength="8.43" lengthAdjust="spacingAndGlyphs" fill="#222" stroke="#222" stroke-width="0.06">08-20</text>
<line x1="378" y1="389.5" x2="378" y2="390.8" stroke="#333" stroke-width="0.5"/>
<text transform="translate(379.39 392.1) rotate(-90)" text-anchor="end" font-size="3.02" textLength="8.43" lengthAdjust="spacingAndGlyphs" fill="#222" stroke="#222" stroke-width="0.06">08-20</text>
<line x1="380.5" y1="389.5" x2="380.5" y2="390.8" stroke="#333" stroke-width="0.5"/>
<text transform="translate(381.89 392.1) rotate(-90)" text-anchor="end" font-size="3.02" textLength="13.04" lengthAdjust="spacingAndGlyphs" fill="#222" stroke="#222" stroke-width="0.06">08-20 04</text>
<line x1="385" y1="389.5" x2="385" y2="390.8" stroke="#333" stroke-width="0.5"/>
<text transform="translate(386.39 392.1) rotate(-90)" text-anchor="end" font-size="3.02" textLength="8.43" lengthAdjust="spacingAndGlyphs" fill="#222" stroke="#222" stroke-width="0.06">08-20</text>
<line x1="387.4" y1="389.5" x2="387.4" y2="390.8" stroke="#333" stroke-width="0.5"/>
<text transform="translate(388.79 392.1) rotate(-90)" text-anchor="end" font-size="3.02" textLength="13.04" lengthAdjust="spacingAndGlyphs" fill="#222" stroke="#222" stroke-width="0.06">08-20 04</text>
<text x="305.95" y="280.8" text-anchor="middle" font-size="3.92" textLength="40.87" lengthAdjust="spacingAndGlyphs" fill="#1a1a1a" stroke="#1a1a1a" stroke-width="0.05">ARPA_2021-8-20 4:15</text>
<text transform="translate(205.6 336.1) rotate(-90)" text-anchor="middle" font-size="3.17" textLength="17.63" lengthAdjust="spacingAndGlyphs" fill="#111" stroke="#111" stroke-width="0.14">btc_volume</text>
<text x="305.95" y="409.9" text-anchor="middle" font-size="3.17" textLength="13.77" lengthAdjust="spacingAndGlyphs" fill="#111" stroke="#111" stroke-width="0.14">datetime</text>
<rect x="349.2" y="284" width="45" height="10" rx="0.6" fill="#fff" fill-opacity="0.85" stroke="#ddd" stroke-width="0.3"/>
<line x1="351.1" y1="287" x2="358.6" y2="287" stroke="#5a5aa0" stroke-width="0.8" stroke-dasharray="1.6 0.9"/>
<line x1="351.1" y1="292.1" x2="358.6" y2="292.1" stroke="#ede4aa" stroke-width="1.4" stroke-dasharray="3.2 0.4"/>
<text x="360.7" y="288.12" font-size="3.24" textLength="24.15" lengthAdjust="spacingAndGlyphs" fill="#111" stroke="#111" stroke-width="0.14">2021-8-20 4:15</text>
<text x="360.7" y="293.22" font-size="3.24" textLength="31.3" lengthAdjust="spacingAndGlyphs" fill="#111" stroke="#111" stroke-width="0.14">anomalous volumes</text>
<clipPath id="c7"><rect x="18.7" y="420.5" width="179.0" height="106.60000000000002"/></clipPath>
<g clip-path="url(#c7)">
<rect x="119" y="452" width="5.5" height="54" fill="#fff2f4"/>
<rect x="105.5" y="480" width="12.5" height="27" fill="#fff4f6"/>
<rect x="169" y="421" width="7" height="49" fill="#fff3f5"/>
<rect x="80" y="482" width="4" height="40" fill="#fff6f8"/>
<rect x="128" y="452" width="4" height="30" fill="#fff6f8"/>
<rect x="26" y="470" width="164" height="26" fill="#edfcf8"/>
<line x1="26" y1="464.4" x2="192" y2="464.4" stroke="#ede4aa" stroke-width="1.4" stroke-dasharray="3.2 0.4"/>
<line x1="26" y1="500.6" x2="192" y2="500.6" stroke="#ede4aa" stroke-width="1.4" stroke-dasharray="3.2 0.4"/>
<path d="M27.5 482.4V470.4M27.5 482.4V497M29.5 482.4V476M30.5 482.4V487M32.5 482.4V492M34.5 482.4V478.4M40.5 482.4V497.6M44.5 482.4V472.4M45.5 482.4V486M53.5 482.4V491M54.5 482.4V493.6M58.5 482.4V475.6M60.5 482.4V490.4M69.5 482.4V485.6M73.5 482.4V472.4M79.5 482.4V474.6M84.5 482.4V496.6M87.5 482.4V501M89.5 482.4V491.6M92.5 482.4V498.6M96.5 482.4V479M103.5 482.4V471.6M106.5 482.4V478M109.5 482.4V490M110.5 482.4V495M113.5 482.4V480M117.5 482.4V479M125.5 482.4V492M125.5 482.4V477.6M131.5 482.4V494M135.5 482.4V471.6M143.5 482.4V475M145.5 482.4V466M152.5 482.4V478M155.5 482.4V491M163.5 482.4V465M165.5 482.4V489.6M169.5 482.4V469M179.5 482.4V490M181.5 482.4V494.4" stroke="#4f7458" stroke-width="0.75" fill="none"/>
<path d="M27.13 482.4V477.6M27.36 482.4V478.69M28.43 482.4V478.26M29.71 482.4V480.26M30.5 482.4V481.76M31.06 482.4V483.37M32.06 482.4V480.01M32.5 482.4V479.1M33.86 482.4V472.4M34.65 482.4V481.72M35.38 482.4V477.58M36.35 482.4V477.91M37.2 482.4V479.4M37.59 482.4V480.66M39.01 482.4V478.28M39.56 482.4V477.4M40.89 482.4V482.65M41.29 482.4V483.08M42.63 482.4V478.54M43.98 482.4V481.05M45.32 482.4V482.63M46.06 482.4V481.19M47.58 482.4V480M48.15 482.4V478.13M49.32 482.4V475.4M50.34 482.4V475.4M51.92 482.4V476.69M52.36 482.4V476.52M53.97 482.4V482.28M54.73 482.4V482.53M56.23 482.4V475.8M57.21 482.4V477.25M58.43 482.4V480.12M59.03 482.4V480.86M60.76 482.4V483.92M61.7 482.4V483.03M63.11 482.4V486.3M63.96 482.4V484.76M65.33 482.4V479.45M66.18 482.4V479.92M67.41 482.4V478.22M68.59 482.4V475.4M69.25 482.4V477.61M70.6 482.4V480.07M71.3 482.4V479.54M72.96 482.4V476.94M73.87 482.4V479.29M74.95 482.4V477M76.01 482.4V482.2M77.11 482.4V480.54M78 482.4V483.78M79.7 482.4V483.11M80.36 482.4V480M81.99 482.4V482.01M83.15 482.4V483.88M84.14 482.4V486.49M85.54 482.4V484.02M86.22 482.4V482.49M87.35 482.4V483.88M88.95 482.4V482.89M90.27 482.4V482.37M91.41 482.4V477.98M92.42 482.4V480.73M93.85 482.4V481.6M94.68 482.4V478.42M96.23 482.4V481.41M97.13 482.4V480.35M98.46 482.4V480.44M99.49 482.4V479.45M100.93 482.4V482.39M102.09 482.4V483.82M103.58 482.4V481.72M104.92 482.4V484.2M106.06 482.4V484.39M106.55 482.4V484.84M107.9 482.4V487.08M109.86 482.4V482.34M110.75 482.4V481.22M111.36 482.4V481.74M112.69 482.4V482.18M114.56 482.4V476.56M115.08 482.4V477.62M116.49 482.4V481.07M117.93 482.4V477.6M118.68 482.4V480.01M120.6 482.4V477.69M121.38 482.4V483.02M122.77 482.4V487.66M124.14 482.4V489.28M124.61 482.4V482.48M125.92 482.4V477.11M127.09 482.4V477.27M128.57 482.4V480.74M129.45 482.4V479.4M130.94 482.4V484.63M132.37 482.4V483.46M133.76 482.4V487.11M134.29 482.4V485.93M135.68 482.4V486.18M136.64 482.4V479.92M138.17 482.4V480.3M139.09 482.4V475.4M140.92 482.4V482.66M142.02 482.4V480.19M142.8 482.4V484.04M144.2 482.4V481.22M144.67 482.4V478.52M145.8 482.4V480.59M147.46 482.4V483.73M148.58 482.4V482.1M149.28 482.4V483.54M150.98 482.4V484.82M151.73 482.4V487.1M153.36 482.4V476.85M154.32 482.4V480.32M155.43 482.4V479.96M156.42 482.4V480.98M157.69 482.4V481.83M158.32 482.4V484.68M159.78 482.4V483.77M160.62 482.4V483.47M161.94 482.4V481.65M163.53 482.4V482.47M164.32 482.4V476.79M166.02 482.4V476.62M166.36 482.4V476.67M168.02 482.4V477.79M169.32 482.4V477.44M169.89 482.4V480.89M171.44 482.4V480.71M172.43 482.4V483.93M173.63 482.4V480.07M175 482.4V477.4M175.92 482.4V481.48M176.59 482.4V480.22M178.12 482.4V481.19M179.5 482.4V482.77M180.14 482.4V484.79M181.85 482.4V476.71M182.87 482.4V477.71M183.45 482.4V477.95M184.84 482.4V483.43M185.68 482.4V479.85M187.41 482.4V481.48M187.92 482.4V483.09M189.11 482.4V483.17" stroke="#3f7a4e" stroke-width="0.6" fill="none"/>
<path d="M27.5 482.4V448.6M82.5 482.4V522M107.5 482.4V503.6M115.5 482.4V505M121.5 482.4V453.6M130.5 482.4V452.6M174.5 482.4V425.6" stroke="#bc8064" stroke-width="0.75" fill="none"/>
<path d="M26.4 483.2 26.4 484.3 26.8 480.7 27 482.4 27.1 479.2 27.3 479.9 27.4 479.2 27.4 483.6 27.8 482.8 28 480.6 28.3 480.1 28.4 479.2 28.6 482.7 28.8 482.4 29.1 482.1 29.3 479.4 29.5 483.4 29.6 476 29.7 480.3 29.9 480.3 29.9 483.8 30.4 487 30.4 482.4 30.5 484 30.5 481.8 30.9 481.4 31 480.4 31.1 483.4 31.4 479.8 31.6 481.3 31.9 482.6 32 482 32.1 480 32.3 480.4 32.5 479.2 32.6 480.5 32.7 483.1 33.1 482 33.3 482.4 33.6 479.7 33.9 479.2 33.9 481.7 34 478.4 34.1 485.5 34.4 481.6 34.6 481.7 34.7 484 35.1 483.9 35.2 479.8 35.4 479.2 35.7 479.7 35.7 483.9 36.2 482.5 36.2 482.6 36.4 479.2 36.5 482 36.7 483.8 37.1 482.7 37.2 482.5 37.2 479.4 37.4 485.2 37.6 480.6 37.6 480.7 37.7 484.6 38.3 484 38.3 481.8 38.8 483.8 38.9 482.6 39 479.2 39.2 481.2 39.3 482.2 39.6 479.2 39.6 482.8 39.8 484.1 40 484.9 40 481.3 40.3 480.9 40.8 483.6 40.9 479.8 40.9 482.7 41.2 479.4 41.3 483.1 41.4 482.9 41.8 480.7 41.8 483.1 42.3 481.6 42.5 482.1 42.6 479.2 42.9 483.8 43.2 481.8 43.3 482.3 43.5 481.5 43.7 484.6 44 482.9 44 481 44 483.2 44.4 481 44.5 483.3 44.9 480.4 45 486 45.1 482.7 45.3 482.6 45.3 479.7 45.5 482.6 45.7 480.1 46 484.8 46 482.8 46.1 481.2 46.4 483.5 46.8 483.2 47 480.3 47.5 482.9 47.6 481.7 47.6 480 48 482.3 48 480.9 48.2 479.2 48.5 484.1 48.6 481 48.9 484.5 49 480.9 49.3 480.8 49.3 479.2 49.8 483.2 49.8 484.8 50.3 482 50.3 479.2 50.4 481.3 50.8 482.5 51 484.2 51.4 480.8 51.6 484 51.7 481.5 51.9 479.2 52.2 482.3 52.3 483.8 52.4 479.2 52.7 484.2 53.1 480.8 53.1 482.4 53.6 484.8 53.8 481.4 54 482.3 54 484 54.4 483.5 54.5 483.7 54.7 482.5 54.8 479.7 54.9 483.2 55.3 480.1 55.6 481.7 55.8 484.2 56.1 485 56.1 484.1 56.2 479.2 56.5 482.8 56.7 481.4 57 479.6 57.1 482.2 57.2 479.2 57.4 483.8 57.7 483.6 57.8 483.3 58.1 483.7 58.4 480.9 58.4 480.1 58.6 482.6 58.6 475.6 58.7 485.4 59 480.9 59 482.5 59.4 482.3 59.5 485.3 59.9 483.7 59.9 482.7 60.2 482.1 60.3 481 60.7 484.6 60.8 483.9 61 481.7 61 484 61.3 481.8 61.6 481.6 61.7 483 61.9 484.6 62.2 480.8 62.2 479.2 62.6 484.2 62.6 481.5 62.9 484.2 63.1 485.6 63.2 482.9 63.4 484.4 63.8 481.3 64 484.8 64 483.3 64.3 483.6 64.5 482.7 65 479.6 65 482.5 65.3 479.4 65.5 485.5 65.8 482.9 65.9 483.8 66.2 479.9 66.2 483.7 66.3 482.3 66.6 481.1 66.7 484.1 67.1 482.2 67.3 483.8 67.4 479.2 67.5 482.9 68 483.4 68.1 481.7 68.5 482 68.6 482.8 68.6 479.2 68.9 483.7 69 485.6 69.2 482 69.2 479.2 69.3 483.1 69.6 481.7 69.9 481.2 70 481.7 70.4 481.4 70.5 481.9 70.6 480.1 70.9 484 70.9 480.4 71.2 481.8 71.3 479.5 71.3 484.2 71.7 481.5 72 482.6 72.1 480.2 72.6 484.5 72.6 483.2 73 479.2 73 482.1 73.4 481.7 73.4 480.7 73.9 479.3 74 482.3 74 482.3 74.4 482.2 74.5 481 74.8 482.4 74.9 479.3 75 479.2 75.2 481.9 75.5 483.4 75.7 483.1 75.9 482 76 482.2 76.2 484.8 76.3 482.7 76.7 483.6 77.1 482.9 77.1 480.5 77.3 482.7 77.5 480.7 77.7 485.1 77.9 482 78 483.8 78.3 481.7 78.3 481 78.8 481.2 78.9 481.9 79.4 479.4 79.5 484.1 79.7 483.1 79.9 485.3 80 485.3 80.1 481.3 80.4 480 80.5 481.3 80.5 484.2 81 483.9 81.3 482.4 81.3 484.3 81.6 485.4 81.9 484.1 82 482 82.1 484.2 82.6 484.6 82.6 482.8 83 479.8 83.2 483.9 83.2 481.9 83.4 484 83.8 482.1 84 480.7 84.1 485.6 84.4 483 84.4 484.2 84.8 483.5 84.8 480.7 85.3 479.9 85.4 482.6 85.5 484 85.7 483 86.2 482.3 86.2 485.3 86.2 482.5 86.6 481.8 86.7 481.4 87 484.4 87.1 482.7 87.3 479.3 87.3 483.9 87.7 484.4 87.7 481.9 88.1 482.2 88.4 483.5 88.4 481 89 482.9 89 484.7 89.1 484.1 89.3 485.3 89.6 483.7 89.8 480.1 90 482.3 90.2 485.4 90.3 482.4 90.4 483 90.5 484.1 91.1 483.2 91.1 485.1 91.4 479.2 91.6 485.1 91.8 481.1 92 483.6 92.2 482.7 92.4 480.7 92.6 482.5 92.8 481.5 92.9 481.1 93.3 482 93.3 481.8 93.8 480.3 93.8 481.6 94 482.3 94.1 483.4 94.5 481.3 94.7 479.2 94.7 482.3 94.8 482.7 95.2 483.7 95.3 482.1 95.7 482.8 95.7 484.3 96 479 96 483.7 96.2 481.4 96.5 481.7 96.5 482.7 97 480 97 481.3 97.1 480.4 97.6 483 97.6 484.4 98.1 485.1 98.2 482.6 98.5 480.4 98.5 483 98.9 482.2 99.1 482.7 99.5 479.4 99.6 479.9 99.6 483.9 100.1 483.2 100.1 479.4 100.5 479.4 100.6 484.1 100.9 479.9 100.9 482.4 101 481.7 101.3 480 101.6 483.9 101.8 482.6 102 481.1 102.1 483.8 102.3 484.4 102.8 481.9 102.9 483.1 103.1 482.3 103.3 484.1 103.6 481.7 103.7 481.6 103.8 483.1 104.2 479.4 104.4 483.9 104.5 483.2 104.9 484.2 104.9 481.9 105.1 483.1 105.3 480.2 105.8 484.3 105.9 483.5 106 478 106.1 484.4 106.2 485.1 106.3 480.8 106.6 484.8 106.7 484 107 482.5 107.1 485.3 107.5 480.1 107.6 483.6 107.8 479.6 107.9 485.6 108 482.2 108.1 484.2 108.4 482.8 108.7 480.9 109 481.3 109 485 109.4 485 109.7 481.5 109.9 482.3 110 481.8 110.1 481.7 110.4 481.8 110.8 481.2 110.8 483.4 110.8 483.7 111.3 483.2 111.3 485.6 111.4 481.7 111.6 481.2 111.7 481.4 112.1 484.3 112.2 483.2 112.7 482.2 112.7 484.4 112.8 483.2 113 480 113 484.1 113.4 482 113.4 481.7 113.7 479.4 114.1 483.3 114.1 484.8 114.5 482.2 114.5 479.4 114.6 479.2 115 481 115.1 483.3 115.1 479.2 115.4 480.5 115.8 481.5 115.9 485 116.2 480.9 116.4 482.2 116.5 481.1 116.6 483.9 116.9 481.4 117 479 117.1 481.6 117.3 484.2 117.6 482.4 117.8 484.9 117.9 479.2 118.3 484.5 118.3 483 118.7 480 118.7 481.7 118.8 480.7 119.3 482.8 119.4 481.8 119.7 480.6 120.1 482.3 120.1 485.3 120.4 485.4 120.6 481 120.6 479.2 120.9 482.7 121 481.8 121.4 483 121.4 482.5 121.5 481.1 121.8 479.3 122 484.1 122.3 480.7 122.5 482.6 122.7 481 122.8 485.6 123.1 481.7 123.2 482.5 123.5 485.4 123.9 485.4 124 481.7 124.1 485.6 124.4 484.6 124.6 482.6 124.6 482.5 124.8 479.3 125.2 482.3 125.4 483.6 125.6 483.5 125.6 477.6 125.9 482 125.9 479.2 126.2 484 126.2 484.8 126.5 479.9 126.6 481.1 127 481.1 127.1 479.2 127.3 480.7 127.4 480.9 127.8 483 127.9 484.2 128.3 480 128.3 481.6 128.6 480.7 128.7 481.5 128.8 483.1 129.3 479.6 129.4 484.1 129.4 479.4 129.7 481.9 129.7 481.4 130.3 480.4 130.4 481.6 130.8 482.7 130.9 484.6 131.2 480.9 131.3 484.4 131.7 480.7 131.8 483.8 132.1 484 132.3 481.4 132.4 483.5 132.5 482.8 132.7 482.3 132.9 485.3 133.3 483.4 133.5 481.9 133.7 483.6 133.8 485.6 134.1 484.1 134.3 482.6 134.3 485.6 134.5 483.3 135 481 135.1 483.4 135.6 482.3 135.6 483.4 135.7 485.6 136 485 136.3 483.9 136.5 479.4 136.6 479.9 136.7 481.5 136.9 482.3 137.2 479.8 137.4 483.7 137.7 480.3 137.9 481.5 138.2 480.3 138.2 480 138.5 483 138.6 479.8 139.1 479.3 139.1 479.2 139.2 483.3 139.5 480.1 139.6 483.2 139.9 481.5 140 482.9 140.3 481.8 140.4 483 140.7 484.2 140.7 482.7 140.9 482.7 141.1 481.7 141.3 484 141.6 485.2 142 481 142 480.2 142 482.6 142.4 480.2 142.7 481.8 142.7 484.7 142.8 484 143 484.4 143.4 482.4 143.4 484.1 143.9 485.1 144.1 482.6 144.2 481.2 144.3 480.3 144.5 483.4 144.7 479.2 144.7 483 145 483.3 145.3 481.2 145.6 479.2 145.8 480.6 145.9 482.8 146.2 481.4 146.6 481.4 146.7 485.1 147.1 485.2 147.2 481.6 147.5 483.7 147.7 484.9 147.9 483.1 148.2 482.5 148.3 483.8 148.6 483.3 148.6 482.1 148.9 482.6 149.1 479.6 149.3 482.2 149.3 483.5 149.7 481.9 149.8 481.2 150 479.8 150.1 482.1 150.5 483.3 150.5 481.9 150.9 480.7 151 484.8 151.1 483.6 151.2 481 151.5 481.9 151.7 482.2 151.7 485.6 151.8 479.3 152 478 152.3 480.7 152.3 485.2 152.9 480 152.9 483.7 153.4 479.2 153.4 484.6 153.5 482.1 154 481.7 154.2 483.2 154.3 480.3 154.5 483.1 154.8 483.7 155.1 485.2 155.3 482.9 155.4 480 155.5 479.3 156 484 156 483.9 156.3 484.9 156.4 482 156.4 481 156.6 483.6 156.8 482.3 157.1 485.4 157.4 481.6 157.5 482.4 157.7 481.8 157.9 483.7 158 483.5 158.3 484.7 158.4 485.2 158.6 481.3 158.8 480 159 482.4 159.4 485.2 159.5 482.6 159.8 483.8 159.9 484.1 160 483.2 160.3 483.2 160.4 481.8 160.6 483.5 160.9 482.1 160.9 483.6 161.3 481 161.3 481 161.7 483 161.9 483.6 161.9 481.6 162.1 480.1 162.4 482.7 162.5 480 162.8 481.9 162.9 481.5 163.3 481.7 163.5 482.1 163.5 482.5 163.8 482.4 164 481.6 164.3 485.1 164.3 479.2 164.5 481.5 164.6 483.4 165 481.2 165.3 483.8 165.5 485.5 165.8 481.1 165.8 483.4 166 479.2 166.3 482 166.4 479.2 166.4 480.4 166.8 480.7 167 483.4 167.2 483.7 167.7 483.3 167.8 482.8 168 479.2 168.2 482.9 168.3 481.1 168.7 481.8 168.8 481.4 169.1 484 169.2 483.1 169.3 479.2 169.5 484.5 169.7 483.5 169.9 480.9 170 484.8 170.3 483.6 170.4 485.4 170.8 480.8 170.8 480.7 171.2 482.1 171.3 480.7 171.4 480.7 171.7 480.8 171.9 483.9 172.2 484.3 172.4 483.9 172.5 481 172.8 483.8 172.8 483.3 173.2 480.8 173.5 482.8 173.6 480.1 173.8 483.3 174 483.7 174.1 483.5 174.5 484 174.7 483.9 174.8 484.6 175 479.2 175.2 485.5 175.4 482.6 175.8 480.9 175.9 483.2 175.9 481.5 176.3 481 176.3 481.8 176.6 480.2 176.7 480.6 176.9 481.9 177.4 483.3 177.4 485.2 177.7 482.3 177.7 482.5 178.1 481.2 178.2 481.6 178.3 485.3 178.6 481.5 178.9 483.1 178.9 481.8 179.4 484.7 179.5 482.8 179.6 482.8 179.8 479.4 180.1 484.8 180.1 482.4 180.4 484.6 180.7 482.4 180.8 483.3 181.1 485.1 181.5 482.2 181.6 480.3 181.9 479.2 182 480.9 182 483.2 182.4 482 182.4 481.6 182.9 479.2 182.9 484.5 183.1 481.9 183.2 482.9 183.4 479.2 183.7 481.4 183.8 481.6 184.1 479.7 184.5 482 184.6 480 184.8 483.4 185 483.1 185.1 479.3 185.6 483.9 185.7 483.4 185.7 479.8 186 482.6 186 483.3 186.4 482 186.5 480.6 187 484.5 187.3 481.1 187.4 481.5 187.4 483.7 187.9 483.2 187.9 479.5 187.9 483.1 188.4 483.1 188.5 480 189 483.9 189 482.4 189.1 483.2 189.6 480.7 189.7 483.1" stroke="#2e8c48" stroke-width="1.0" fill="none" stroke-linejoin="round"/>
<line x1="26.4" y1="482.4" x2="190" y2="482.4" stroke="#30482c" stroke-width="1.3"/>
<path d="M25.6 483.2a0.75 0.75 0 1 0 1.5 0a0.75 0.75 0 1 0 -1.5 0M26.6 483.6a0.75 0.75 0 1 0 1.5 0a0.75 0.75 0 1 0 -1.5 0M27.8 482.7a0.75 0.75 0 1 0 1.5 0a0.75 0.75 0 1 0 -1.5 0M28.7 483.4a0.75 0.75 0 1 0 1.5 0a0.75 0.75 0 1 0 -1.5 0M29.7 484a0.75 0.75 0 1 0 1.5 0a0.75 0.75 0 1 0 -1.5 0M30.8 481.3a0.75 0.75 0 1 0 1.5 0a0.75 0.75 0 1 0 -1.5 0M31.9 483.1a0.75 0.75 0 1 0 1.5 0a0.75 0.75 0 1 0 -1.5 0M33.2 481.7a0.75 0.75 0 1 0 1.5 0a0.75 0.75 0 1 0 -1.5 0M34.3 483.9a0.75 0.75 0 1 0 1.5 0a0.75 0.75 0 1 0 -1.5 0M35.4 482.5a0.75 0.75 0 1 0 1.5 0a0.75 0.75 0 1 0 -1.5 0M36.4 482.5a0.75 0.75 0 1 0 1.5 0a0.75 0.75 0 1 0 -1.5 0M37.6 481.8a0.75 0.75 0 1 0 1.5 0a0.75 0.75 0 1 0 -1.5 0M38.5 481.2a0.75 0.75 0 1 0 1.5 0a0.75 0.75 0 1 0 -1.5 0M39.3 481.3a0.75 0.75 0 1 0 1.5 0a0.75 0.75 0 1 0 -1.5 0M40.6 482.9a0.75 0.75 0 1 0 1.5 0a0.75 0.75 0 1 0 -1.5 0M41.8 482.1a0.75 0.75 0 1 0 1.5 0a0.75 0.75 0 1 0 -1.5 0M42.8 481.5a0.75 0.75 0 1 0 1.5 0a0.75 0.75 0 1 0 -1.5 0M43.7 483.3a0.75 0.75 0 1 0 1.5 0a0.75 0.75 0 1 0 -1.5 0M44.8 482.6a0.75 0.75 0 1 0 1.5 0a0.75 0.75 0 1 0 -1.5 0M46.1 483.2a0.75 0.75 0 1 0 1.5 0a0.75 0.75 0 1 0 -1.5 0M47.3 480.9a0.75 0.75 0 1 0 1.5 0a0.75 0.75 0 1 0 -1.5 0M48.2 480.9a0.75 0.75 0 1 0 1.5 0a0.75 0.75 0 1 0 -1.5 0M49.6 482a0.75 0.75 0 1 0 1.5 0a0.75 0.75 0 1 0 -1.5 0M50.6 480.8a0.75 0.75 0 1 0 1.5 0a0.75 0.75 0 1 0 -1.5 0M51.5 483.8a0.75 0.75 0 1 0 1.5 0a0.75 0.75 0 1 0 -1.5 0M53 481.4a0.75 0.75 0 1 0 1.5 0a0.75 0.75 0 1 0 -1.5 0M54.2 483.2a0.75 0.75 0 1 0 1.5 0a0.75 0.75 0 1 0 -1.5 0M55.3 484.1a0.75 0.75 0 1 0 1.5 0a0.75 0.75 0 1 0 -1.5 0M56.4 482.2a0.75 0.75 0 1 0 1.5 0a0.75 0.75 0 1 0 -1.5 0M57.4 483.7a0.75 0.75 0 1 0 1.5 0a0.75 0.75 0 1 0 -1.5 0M58.6 482.3a0.75 0.75 0 1 0 1.5 0a0.75 0.75 0 1 0 -1.5 0M59.5 481a0.75 0.75 0 1 0 1.5 0a0.75 0.75 0 1 0 -1.5 0M60.8 481.6a0.75 0.75 0 1 0 1.5 0a0.75 0.75 0 1 0 -1.5 0M61.8 481.5a0.75 0.75 0 1 0 1.5 0a0.75 0.75 0 1 0 -1.5 0M63.1 481.3a0.75 0.75 0 1 0 1.5 0a0.75 0.75 0 1 0 -1.5 0M64.3 482.5a0.75 0.75 0 1 0 1.5 0a0.75 0.75 0 1 0 -1.5 0M65.5 483.7a0.75 0.75 0 1 0 1.5 0a0.75 0.75 0 1 0 -1.5 0M66.6 483.8a0.75 0.75 0 1 0 1.5 0a0.75 0.75 0 1 0 -1.5 0M67.7 482a0.75 0.75 0 1 0 1.5 0a0.75 0.75 0 1 0 -1.5 0M68.8 481.7a0.75 0.75 0 1 0 1.5 0a0.75 0.75 0 1 0 -1.5 0M69.7 481.9a0.75 0.75 0 1 0 1.5 0a0.75 0.75 0 1 0 -1.5 0M70.5 481.8a0.75 0.75 0 1 0 1.5 0a0.75 0.75 0 1 0 -1.5 0M71.8 483.2a0.75 0.75 0 1 0 1.5 0a0.75 0.75 0 1 0 -1.5 0M73.2 482.3a0.75 0.75 0 1 0 1.5 0a0.75 0.75 0 1 0 -1.5 0M74 482.4a0.75 0.75 0 1 0 1.5 0a0.75 0.75 0 1 0 -1.5 0M75.1 482a0.75 0.75 0 1 0 1.5 0a0.75 0.75 0 1 0 -1.5 0M76.3 482.9a0.75 0.75 0 1 0 1.5 0a0.75 0.75 0 1 0 -1.5 0M77.2 482a0.75 0.75 0 1 0 1.5 0a0.75 0.75 0 1 0 -1.5 0M78.1 481.2a0.75 0.75 0 1 0 1.5 0a0.75 0.75 0 1 0 -1.5 0M79.4 481.3a0.75 0.75 0 1 0 1.5 0a0.75 0.75 0 1 0 -1.5 0M80.5 482.4a0.75 0.75 0 1 0 1.5 0a0.75 0.75 0 1 0 -1.5 0M81.8 482.8a0.75 0.75 0 1 0 1.5 0a0.75 0.75 0 1 0 -1.5 0M83 482.1a0.75 0.75 0 1 0 1.5 0a0.75 0.75 0 1 0 -1.5 0M84 483.5a0.75 0.75 0 1 0 1.5 0a0.75 0.75 0 1 0 -1.5 0M85.4 482.3a0.75 0.75 0 1 0 1.5 0a0.75 0.75 0 1 0 -1.5 0M86.4 482.7a0.75 0.75 0 1 0 1.5 0a0.75 0.75 0 1 0 -1.5 0M87.6 483.5a0.75 0.75 0 1 0 1.5 0a0.75 0.75 0 1 0 -1.5 0M88.8 483.7a0.75 0.75 0 1 0 1.5 0a0.75 0.75 0 1 0 -1.5 0M89.7 483a0.75 0.75 0 1 0 1.5 0a0.75 0.75 0 1 0 -1.5 0M91.1 481.1a0.75 0.75 0 1 0 1.5 0a0.75 0.75 0 1 0 -1.5 0M92 481.5a0.75 0.75 0 1 0 1.5 0a0.75 0.75 0 1 0 -1.5 0M93.2 482.3a0.75 0.75 0 1 0 1.5 0a0.75 0.75 0 1 0 -1.5 0M94.1 482.7a0.75 0.75 0 1 0 1.5 0a0.75 0.75 0 1 0 -1.5 0M95 482.8a0.75 0.75 0 1 0 1.5 0a0.75 0.75 0 1 0 -1.5 0M96.3 481.3a0.75 0.75 0 1 0 1.5 0a0.75 0.75 0 1 0 -1.5 0M97.4 482.6a0.75 0.75 0 1 0 1.5 0a0.75 0.75 0 1 0 -1.5 0M98.9 483.9a0.75 0.75 0 1 0 1.5 0a0.75 0.75 0 1 0 -1.5 0M99.9 484.1a0.75 0.75 0 1 0 1.5 0a0.75 0.75 0 1 0 -1.5 0M100.8 483.9a0.75 0.75 0 1 0 1.5 0a0.75 0.75 0 1 0 -1.5 0M102 481.9a0.75 0.75 0 1 0 1.5 0a0.75 0.75 0 1 0 -1.5 0M103 483.1a0.75 0.75 0 1 0 1.5 0a0.75 0.75 0 1 0 -1.5 0M104.3 483.1a0.75 0.75 0 1 0 1.5 0a0.75 0.75 0 1 0 -1.5 0M105.6 480.8a0.75 0.75 0 1 0 1.5 0a0.75 0.75 0 1 0 -1.5 0M106.8 483.6a0.75 0.75 0 1 0 1.5 0a0.75 0.75 0 1 0 -1.5 0M107.6 482.8a0.75 0.75 0 1 0 1.5 0a0.75 0.75 0 1 0 -1.5 0M108.9 481.5a0.75 0.75 0 1 0 1.5 0a0.75 0.75 0 1 0 -1.5 0M110 483.4a0.75 0.75 0 1 0 1.5 0a0.75 0.75 0 1 0 -1.5 0M111 481.4a0.75 0.75 0 1 0 1.5 0a0.75 0.75 0 1 0 -1.5 0M112 483.2a0.75 0.75 0 1 0 1.5 0a0.75 0.75 0 1 0 -1.5 0M113.3 483.3a0.75 0.75 0 1 0 1.5 0a0.75 0.75 0 1 0 -1.5 0M114.3 483.3a0.75 0.75 0 1 0 1.5 0a0.75 0.75 0 1 0 -1.5 0M115.5 480.9a0.75 0.75 0 1 0 1.5 0a0.75 0.75 0 1 0 -1.5 0M116.3 481.6a0.75 0.75 0 1 0 1.5 0a0.75 0.75 0 1 0 -1.5 0M117.6 483a0.75 0.75 0 1 0 1.5 0a0.75 0.75 0 1 0 -1.5 0M118.6 481.8a0.75 0.75 0 1 0 1.5 0a0.75 0.75 0 1 0 -1.5 0M119.8 481a0.75 0.75 0 1 0 1.5 0a0.75 0.75 0 1 0 -1.5 0M120.7 482.5a0.75 0.75 0 1 0 1.5 0a0.75 0.75 0 1 0 -1.5 0M121.8 482.6a0.75 0.75 0 1 0 1.5 0a0.75 0.75 0 1 0 -1.5 0M123.3 481.7a0.75 0.75 0 1 0 1.5 0a0.75 0.75 0 1 0 -1.5 0M124.4 482.3a0.75 0.75 0 1 0 1.5 0a0.75 0.75 0 1 0 -1.5 0M125.4 484a0.75 0.75 0 1 0 1.5 0a0.75 0.75 0 1 0 -1.5 0M126.6 480.7a0.75 0.75 0 1 0 1.5 0a0.75 0.75 0 1 0 -1.5 0M127.6 481.6a0.75 0.75 0 1 0 1.5 0a0.75 0.75 0 1 0 -1.5 0M128.6 484.1a0.75 0.75 0 1 0 1.5 0a0.75 0.75 0 1 0 -1.5 0M129.7 481.6a0.75 0.75 0 1 0 1.5 0a0.75 0.75 0 1 0 -1.5 0M131 480.7a0.75 0.75 0 1 0 1.5 0a0.75 0.75 0 1 0 -1.5 0M132 482.3a0.75 0.75 0 1 0 1.5 0a0.75 0.75 0 1 0 -1.5 0M133.5 482.6a0.75 0.75 0 1 0 1.5 0a0.75 0.75 0 1 0 -1.5 0M134.9 483.4a0.75 0.75 0 1 0 1.5 0a0.75 0.75 0 1 0 -1.5 0M136 481.5a0.75 0.75 0 1 0 1.5 0a0.75 0.75 0 1 0 -1.5 0M137.2 481.5a0.75 0.75 0 1 0 1.5 0a0.75 0.75 0 1 0 -1.5 0M138.4 483.3a0.75 0.75 0 1 0 1.5 0a0.75 0.75 0 1 0 -1.5 0M139.5 481.8a0.75 0.75 0 1 0 1.5 0a0.75 0.75 0 1 0 -1.5 0M140.6 484a0.75 0.75 0 1 0 1.5 0a0.75 0.75 0 1 0 -1.5 0M141.9 481.8a0.75 0.75 0 1 0 1.5 0a0.75 0.75 0 1 0 -1.5 0M143.3 482.6a0.75 0.75 0 1 0 1.5 0a0.75 0.75 0 1 0 -1.5 0M144.5 481.2a0.75 0.75 0 1 0 1.5 0a0.75 0.75 0 1 0 -1.5 0M145.8 481.4a0.75 0.75 0 1 0 1.5 0a0.75 0.75 0 1 0 -1.5 0M147.2 483.1a0.75 0.75 0 1 0 1.5 0a0.75 0.75 0 1 0 -1.5 0M148.1 482.6a0.75 0.75 0 1 0 1.5 0a0.75 0.75 0 1 0 -1.5 0M149 481.2a0.75 0.75 0 1 0 1.5 0a0.75 0.75 0 1 0 -1.5 0M149.8 483.3a0.75 0.75 0 1 0 1.5 0a0.75 0.75 0 1 0 -1.5 0M151 482.2a0.75 0.75 0 1 0 1.5 0a0.75 0.75 0 1 0 -1.5 0M152.1 483.7a0.75 0.75 0 1 0 1.5 0a0.75 0.75 0 1 0 -1.5 0M153.5 483.2a0.75 0.75 0 1 0 1.5 0a0.75 0.75 0 1 0 -1.5 0M154.5 482.9a0.75 0.75 0 1 0 1.5 0a0.75 0.75 0 1 0 -1.5 0M155.6 482a0.75 0.75 0 1 0 1.5 0a0.75 0.75 0 1 0 -1.5 0M156.6 481.6a0.75 0.75 0 1 0 1.5 0a0.75 0.75 0 1 0 -1.5 0M157.8 481.3a0.75 0.75 0 1 0 1.5 0a0.75 0.75 0 1 0 -1.5 0M158.7 482.6a0.75 0.75 0 1 0 1.5 0a0.75 0.75 0 1 0 -1.5 0M159.6 481.8a0.75 0.75 0 1 0 1.5 0a0.75 0.75 0 1 0 -1.5 0M160.6 481a0.75 0.75 0 1 0 1.5 0a0.75 0.75 0 1 0 -1.5 0M161.7 482.7a0.75 0.75 0 1 0 1.5 0a0.75 0.75 0 1 0 -1.5 0M162.7 482.1a0.75 0.75 0 1 0 1.5 0a0.75 0.75 0 1 0 -1.5 0M163.8 481.5a0.75 0.75 0 1 0 1.5 0a0.75 0.75 0 1 0 -1.5 0M165.1 483.4a0.75 0.75 0 1 0 1.5 0a0.75 0.75 0 1 0 -1.5 0M166.3 483.4a0.75 0.75 0 1 0 1.5 0a0.75 0.75 0 1 0 -1.5 0M167.4 482.9a0.75 0.75 0 1 0 1.5 0a0.75 0.75 0 1 0 -1.5 0M168.3 484a0.75 0.75 0 1 0 1.5 0a0.75 0.75 0 1 0 -1.5 0M169.5 483.6a0.75 0.75 0 1 0 1.5 0a0.75 0.75 0 1 0 -1.5 0M170.4 482.1a0.75 0.75 0 1 0 1.5 0a0.75 0.75 0 1 0 -1.5 0M171.7 481a0.75 0.75 0 1 0 1.5 0a0.75 0.75 0 1 0 -1.5 0M172.8 482.8a0.75 0.75 0 1 0 1.5 0a0.75 0.75 0 1 0 -1.5 0M173.9 483.9a0.75 0.75 0 1 0 1.5 0a0.75 0.75 0 1 0 -1.5 0M175.1 483.2a0.75 0.75 0 1 0 1.5 0a0.75 0.75 0 1 0 -1.5 0M175.9 480.6a0.75 0.75 0 1 0 1.5 0a0.75 0.75 0 1 0 -1.5 0M177 482.3a0.75 0.75 0 1 0 1.5 0a0.75 0.75 0 1 0 -1.5 0M177.8 481.5a0.75 0.75 0 1 0 1.5 0a0.75 0.75 0 1 0 -1.5 0M178.9 482.8a0.75 0.75 0 1 0 1.5 0a0.75 0.75 0 1 0 -1.5 0M180 482.4a0.75 0.75 0 1 0 1.5 0a0.75 0.75 0 1 0 -1.5 0M181.3 483.2a0.75 0.75 0 1 0 1.5 0a0.75 0.75 0 1 0 -1.5 0M182.3 481.9a0.75 0.75 0 1 0 1.5 0a0.75 0.75 0 1 0 -1.5 0M183.8 482a0.75 0.75 0 1 0 1.5 0a0.75 0.75 0 1 0 -1.5 0M184.9 483.9a0.75 0.75 0 1 0 1.5 0a0.75 0.75 0 1 0 -1.5 0M185.8 480.6a0.75 0.75 0 1 0 1.5 0a0.75 0.75 0 1 0 -1.5 0M187.2 483.2a0.75 0.75 0 1 0 1.5 0a0.75 0.75 0 1 0 -1.5 0M188.2 483.9a0.75 0.75 0 1 0 1.5 0a0.75 0.75 0 1 0 -1.5 0" fill="#24602f"/>
<path d="M26.3 477.6a0.8 0.8 0 1 0 1.6 0a0.8 0.8 0 1 0 -1.6 0M26.6 478.7a0.8 0.8 0 1 0 1.6 0a0.8 0.8 0 1 0 -1.6 0M27.6 478.3a0.8 0.8 0 1 0 1.6 0a0.8 0.8 0 1 0 -1.6 0M28.9 480.3a0.8 0.8 0 1 0 1.6 0a0.8 0.8 0 1 0 -1.6 0M29.7 481.8a0.8 0.8 0 1 0 1.6 0a0.8 0.8 0 1 0 -1.6 0M30.3 483.4a0.8 0.8 0 1 0 1.6 0a0.8 0.8 0 1 0 -1.6 0M31.3 480a0.8 0.8 0 1 0 1.6 0a0.8 0.8 0 1 0 -1.6 0M31.7 479.1a0.8 0.8 0 1 0 1.6 0a0.8 0.8 0 1 0 -1.6 0M33.1 472.4a0.8 0.8 0 1 0 1.6 0a0.8 0.8 0 1 0 -1.6 0M33.8 481.7a0.8 0.8 0 1 0 1.6 0a0.8 0.8 0 1 0 -1.6 0M34.6 477.6a0.8 0.8 0 1 0 1.6 0a0.8 0.8 0 1 0 -1.6 0M35.6 477.9a0.8 0.8 0 1 0 1.6 0a0.8 0.8 0 1 0 -1.6 0M36.4 479.4a0.8 0.8 0 1 0 1.6 0a0.8 0.8 0 1 0 -1.6 0M36.8 480.7a0.8 0.8 0 1 0 1.6 0a0.8 0.8 0 1 0 -1.6 0M38.2 478.3a0.8 0.8 0 1 0 1.6 0a0.8 0.8 0 1 0 -1.6 0M38.8 477.4a0.8 0.8 0 1 0 1.6 0a0.8 0.8 0 1 0 -1.6 0M40.1 482.7a0.8 0.8 0 1 0 1.6 0a0.8 0.8 0 1 0 -1.6 0M40.5 483.1a0.8 0.8 0 1 0 1.6 0a0.8 0.8 0 1 0 -1.6 0M41.8 478.5a0.8 0.8 0 1 0 1.6 0a0.8 0.8 0 1 0 -1.6 0M43.2 481a0.8 0.8 0 1 0 1.6 0a0.8 0.8 0 1 0 -1.6 0M44.5 482.6a0.8 0.8 0 1 0 1.6 0a0.8 0.8 0 1 0 -1.6 0M45.3 481.2a0.8 0.8 0 1 0 1.6 0a0.8 0.8 0 1 0 -1.6 0M46.8 480a0.8 0.8 0 1 0 1.6 0a0.8 0.8 0 1 0 -1.6 0M47.4 478.1a0.8 0.8 0 1 0 1.6 0a0.8 0.8 0 1 0 -1.6 0M48.5 475.4a0.8 0.8 0 1 0 1.6 0a0.8 0.8 0 1 0 -1.6 0M49.5 475.4a0.8 0.8 0 1 0 1.6 0a0.8 0.8 0 1 0 -1.6 0M51.1 476.7a0.8 0.8 0 1 0 1.6 0a0.8 0.8 0 1 0 -1.6 0M51.6 476.5a0.8 0.8 0 1 0 1.6 0a0.8 0.8 0 1 0 -1.6 0M53.2 482.3a0.8 0.8 0 1 0 1.6 0a0.8 0.8 0 1 0 -1.6 0M53.9 482.5a0.8 0.8 0 1 0 1.6 0a0.8 0.8 0 1 0 -1.6 0M55.4 475.8a0.8 0.8 0 1 0 1.6 0a0.8 0.8 0 1 0 -1.6 0M56.4 477.2a0.8 0.8 0 1 0 1.6 0a0.8 0.8 0 1 0 -1.6 0M57.6 480.1a0.8 0.8 0 1 0 1.6 0a0.8 0.8 0 1 0 -1.6 0M58.2 480.9a0.8 0.8 0 1 0 1.6 0a0.8 0.8 0 1 0 -1.6 0M60 483.9a0.8 0.8 0 1 0 1.6 0a0.8 0.8 0 1 0 -1.6 0M60.9 483a0.8 0.8 0 1 0 1.6 0a0.8 0.8 0 1 0 -1.6 0M62.3 486.3a0.8 0.8 0 1 0 1.6 0a0.8 0.8 0 1 0 -1.6 0M63.2 484.8a0.8 0.8 0 1 0 1.6 0a0.8 0.8 0 1 0 -1.6 0M64.5 479.4a0.8 0.8 0 1 0 1.6 0a0.8 0.8 0 1 0 -1.6 0M65.4 479.9a0.8 0.8 0 1 0 1.6 0a0.8 0.8 0 1 0 -1.6 0M66.6 478.2a0.8 0.8 0 1 0 1.6 0a0.8 0.8 0 1 0 -1.6 0M67.8 475.4a0.8 0.8 0 1 0 1.6 0a0.8 0.8 0 1 0 -1.6 0M68.4 477.6a0.8 0.8 0 1 0 1.6 0a0.8 0.8 0 1 0 -1.6 0M69.8 480.1a0.8 0.8 0 1 0 1.6 0a0.8 0.8 0 1 0 -1.6 0M70.5 479.5a0.8 0.8 0 1 0 1.6 0a0.8 0.8 0 1 0 -1.6 0M72.2 476.9a0.8 0.8 0 1 0 1.6 0a0.8 0.8 0 1 0 -1.6 0M73.1 479.3a0.8 0.8 0 1 0 1.6 0a0.8 0.8 0 1 0 -1.6 0M74.2 477a0.8 0.8 0 1 0 1.6 0a0.8 0.8 0 1 0 -1.6 0M75.2 482.2a0.8 0.8 0 1 0 1.6 0a0.8 0.8 0 1 0 -1.6 0M76.3 480.5a0.8 0.8 0 1 0 1.6 0a0.8 0.8 0 1 0 -1.6 0M77.2 483.8a0.8 0.8 0 1 0 1.6 0a0.8 0.8 0 1 0 -1.6 0M78.9 483.1a0.8 0.8 0 1 0 1.6 0a0.8 0.8 0 1 0 -1.6 0M79.6 480a0.8 0.8 0 1 0 1.6 0a0.8 0.8 0 1 0 -1.6 0M81.2 482a0.8 0.8 0 1 0 1.6 0a0.8 0.8 0 1 0 -1.6 0M82.4 483.9a0.8 0.8 0 1 0 1.6 0a0.8 0.8 0 1 0 -1.6 0M83.3 486.5a0.8 0.8 0 1 0 1.6 0a0.8 0.8 0 1 0 -1.6 0M84.7 484a0.8 0.8 0 1 0 1.6 0a0.8 0.8 0 1 0 -1.6 0M85.4 482.5a0.8 0.8 0 1 0 1.6 0a0.8 0.8 0 1 0 -1.6 0M86.5 483.9a0.8 0.8 0 1 0 1.6 0a0.8 0.8 0 1 0 -1.6 0M88.2 482.9a0.8 0.8 0 1 0 1.6 0a0.8 0.8 0 1 0 -1.6 0M89.5 482.4a0.8 0.8 0 1 0 1.6 0a0.8 0.8 0 1 0 -1.6 0M90.6 478a0.8 0.8 0 1 0 1.6 0a0.8 0.8 0 1 0 -1.6 0M91.6 480.7a0.8 0.8 0 1 0 1.6 0a0.8 0.8 0 1 0 -1.6 0M93 481.6a0.8 0.8 0 1 0 1.6 0a0.8 0.8 0 1 0 -1.6 0M93.9 478.4a0.8 0.8 0 1 0 1.6 0a0.8 0.8 0 1 0 -1.6 0M95.4 481.4a0.8 0.8 0 1 0 1.6 0a0.8 0.8 0 1 0 -1.6 0M96.3 480.4a0.8 0.8 0 1 0 1.6 0a0.8 0.8 0 1 0 -1.6 0M97.7 480.4a0.8 0.8 0 1 0 1.6 0a0.8 0.8 0 1 0 -1.6 0M98.7 479.4a0.8 0.8 0 1 0 1.6 0a0.8 0.8 0 1 0 -1.6 0M100.1 482.4a0.8 0.8 0 1 0 1.6 0a0.8 0.8 0 1 0 -1.6 0M101.3 483.8a0.8 0.8 0 1 0 1.6 0a0.8 0.8 0 1 0 -1.6 0M102.8 481.7a0.8 0.8 0 1 0 1.6 0a0.8 0.8 0 1 0 -1.6 0M104.1 484.2a0.8 0.8 0 1 0 1.6 0a0.8 0.8 0 1 0 -1.6 0M105.3 484.4a0.8 0.8 0 1 0 1.6 0a0.8 0.8 0 1 0 -1.6 0M105.8 484.8a0.8 0.8 0 1 0 1.6 0a0.8 0.8 0 1 0 -1.6 0M107.1 487.1a0.8 0.8 0 1 0 1.6 0a0.8 0.8 0 1 0 -1.6 0M109.1 482.3a0.8 0.8 0 1 0 1.6 0a0.8 0.8 0 1 0 -1.6 0M110 481.2a0.8 0.8 0 1 0 1.6 0a0.8 0.8 0 1 0 -1.6 0M110.6 481.7a0.8 0.8 0 1 0 1.6 0a0.8 0.8 0 1 0 -1.6 0M111.9 482.2a0.8 0.8 0 1 0 1.6 0a0.8 0.8 0 1 0 -1.6 0M113.8 476.6a0.8 0.8 0 1 0 1.6 0a0.8 0.8 0 1 0 -1.6 0M114.3 477.6a0.8 0.8 0 1 0 1.6 0a0.8 0.8 0 1 0 -1.6 0M115.7 481.1a0.8 0.8 0 1 0 1.6 0a0.8 0.8 0 1 0 -1.6 0M117.1 477.6a0.8 0.8 0 1 0 1.6 0a0.8 0.8 0 1 0 -1.6 0M117.9 480a0.8 0.8 0 1 0 1.6 0a0.8 0.8 0 1 0 -1.6 0M119.8 477.7a0.8 0.8 0 1 0 1.6 0a0.8 0.8 0 1 0 -1.6 0M120.6 483a0.8 0.8 0 1 0 1.6 0a0.8 0.8 0 1 0 -1.6 0M122 487.7a0.8 0.8 0 1 0 1.6 0a0.8 0.8 0 1 0 -1.6 0M123.3 489.3a0.8 0.8 0 1 0 1.6 0a0.8 0.8 0 1 0 -1.6 0M123.8 482.5a0.8 0.8 0 1 0 1.6 0a0.8 0.8 0 1 0 -1.6 0M125.1 477.1a0.8 0.8 0 1 0 1.6 0a0.8 0.8 0 1 0 -1.6 0M126.3 477.3a0.8 0.8 0 1 0 1.6 0a0.8 0.8 0 1 0 -1.6 0M127.8 480.7a0.8 0.8 0 1 0 1.6 0a0.8 0.8 0 1 0 -1.6 0M128.6 479.4a0.8 0.8 0 1 0 1.6 0a0.8 0.8 0 1 0 -1.6 0M130.1 484.6a0.8 0.8 0 1 0 1.6 0a0.8 0.8 0 1 0 -1.6 0M131.6 483.5a0.8 0.8 0 1 0 1.6 0a0.8 0.8 0 1 0 -1.6 0M133 487.1a0.8 0.8 0 1 0 1.6 0a0.8 0.8 0 1 0 -1.6 0M133.5 485.9a0.8 0.8 0 1 0 1.6 0a0.8 0.8 0 1 0 -1.6 0M134.9 486.2a0.8 0.8 0 1 0 1.6 0a0.8 0.8 0 1 0 -1.6 0M135.8 479.9a0.8 0.8 0 1 0 1.6 0a0.8 0.8 0 1 0 -1.6 0M137.4 480.3a0.8 0.8 0 1 0 1.6 0a0.8 0.8 0 1 0 -1.6 0M138.3 475.4a0.8 0.8 0 1 0 1.6 0a0.8 0.8 0 1 0 -1.6 0M140.1 482.7a0.8 0.8 0 1 0 1.6 0a0.8 0.8 0 1 0 -1.6 0M141.2 480.2a0.8 0.8 0 1 0 1.6 0a0.8 0.8 0 1 0 -1.6 0M142 484a0.8 0.8 0 1 0 1.6 0a0.8 0.8 0 1 0 -1.6 0M143.4 481.2a0.8 0.8 0 1 0 1.6 0a0.8 0.8 0 1 0 -1.6 0M143.9 478.5a0.8 0.8 0 1 0 1.6 0a0.8 0.8 0 1 0 -1.6 0M145 480.6a0.8 0.8 0 1 0 1.6 0a0.8 0.8 0 1 0 -1.6 0M146.7 483.7a0.8 0.8 0 1 0 1.6 0a0.8 0.8 0 1 0 -1.6 0M147.8 482.1a0.8 0.8 0 1 0 1.6 0a0.8 0.8 0 1 0 -1.6 0M148.5 483.5a0.8 0.8 0 1 0 1.6 0a0.8 0.8 0 1 0 -1.6 0M150.2 484.8a0.8 0.8 0 1 0 1.6 0a0.8 0.8 0 1 0 -1.6 0M150.9 487.1a0.8 0.8 0 1 0 1.6 0a0.8 0.8 0 1 0 -1.6 0M152.6 476.9a0.8 0.8 0 1 0 1.6 0a0.8 0.8 0 1 0 -1.6 0M153.5 480.3a0.8 0.8 0 1 0 1.6 0a0.8 0.8 0 1 0 -1.6 0M154.6 480a0.8 0.8 0 1 0 1.6 0a0.8 0.8 0 1 0 -1.6 0M155.6 481a0.8 0.8 0 1 0 1.6 0a0.8 0.8 0 1 0 -1.6 0M156.9 481.8a0.8 0.8 0 1 0 1.6 0a0.8 0.8 0 1 0 -1.6 0M157.5 484.7a0.8 0.8 0 1 0 1.6 0a0.8 0.8 0 1 0 -1.6 0M159 483.8a0.8 0.8 0 1 0 1.6 0a0.8 0.8 0 1 0 -1.6 0M159.8 483.5a0.8 0.8 0 1 0 1.6 0a0.8 0.8 0 1 0 -1.6 0M161.1 481.6a0.8 0.8 0 1 0 1.6 0a0.8 0.8 0 1 0 -1.6 0M162.7 482.5a0.8 0.8 0 1 0 1.6 0a0.8 0.8 0 1 0 -1.6 0M163.5 476.8a0.8 0.8 0 1 0 1.6 0a0.8 0.8 0 1 0 -1.6 0M165.2 476.6a0.8 0.8 0 1 0 1.6 0a0.8 0.8 0 1 0 -1.6 0M165.6 476.7a0.8 0.8 0 1 0 1.6 0a0.8 0.8 0 1 0 -1.6 0M167.2 477.8a0.8 0.8 0 1 0 1.6 0a0.8 0.8 0 1 0 -1.6 0M168.5 477.4a0.8 0.8 0 1 0 1.6 0a0.8 0.8 0 1 0 -1.6 0M169.1 480.9a0.8 0.8 0 1 0 1.6 0a0.8 0.8 0 1 0 -1.6 0M170.6 480.7a0.8 0.8 0 1 0 1.6 0a0.8 0.8 0 1 0 -1.6 0M171.6 483.9a0.8 0.8 0 1 0 1.6 0a0.8 0.8 0 1 0 -1.6 0M172.8 480.1a0.8 0.8 0 1 0 1.6 0a0.8 0.8 0 1 0 -1.6 0M174.2 477.4a0.8 0.8 0 1 0 1.6 0a0.8 0.8 0 1 0 -1.6 0M175.1 481.5a0.8 0.8 0 1 0 1.6 0a0.8 0.8 0 1 0 -1.6 0M175.8 480.2a0.8 0.8 0 1 0 1.6 0a0.8 0.8 0 1 0 -1.6 0M177.3 481.2a0.8 0.8 0 1 0 1.6 0a0.8 0.8 0 1 0 -1.6 0M178.7 482.8a0.8 0.8 0 1 0 1.6 0a0.8 0.8 0 1 0 -1.6 0M179.3 484.8a0.8 0.8 0 1 0 1.6 0a0.8 0.8 0 1 0 -1.6 0M181.1 476.7a0.8 0.8 0 1 0 1.6 0a0.8 0.8 0 1 0 -1.6 0M182.1 477.7a0.8 0.8 0 1 0 1.6 0a0.8 0.8 0 1 0 -1.6 0M182.6 477.9a0.8 0.8 0 1 0 1.6 0a0.8 0.8 0 1 0 -1.6 0M184 483.4a0.8 0.8 0 1 0 1.6 0a0.8 0.8 0 1 0 -1.6 0M184.9 479.8a0.8 0.8 0 1 0 1.6 0a0.8 0.8 0 1 0 -1.6 0M186.6 481.5a0.8 0.8 0 1 0 1.6 0a0.8 0.8 0 1 0 -1.6 0M187.1 483.1a0.8 0.8 0 1 0 1.6 0a0.8 0.8 0 1 0 -1.6 0M188.3 483.2a0.8 0.8 0 1 0 1.6 0a0.8 0.8 0 1 0 -1.6 0" fill="#33904c" stroke="#1a3320" stroke-width="0.3"/>
<path d="M26.6 470.4a0.9 0.9 0 1 0 1.8 0a0.9 0.9 0 1 0 -1.8 0M26.6 497a0.9 0.9 0 1 0 1.8 0a0.9 0.9 0 1 0 -1.8 0M28.6 476a0.9 0.9 0 1 0 1.8 0a0.9 0.9 0 1 0 -1.8 0M29.6 487a0.9 0.9 0 1 0 1.8 0a0.9 0.9 0 1 0 -1.8 0M31.6 492a0.9 0.9 0 1 0 1.8 0a0.9 0.9 0 1 0 -1.8 0M33.6 478.4a0.9 0.9 0 1 0 1.8 0a0.9 0.9 0 1 0 -1.8 0M39.6 497.6a0.9 0.9 0 1 0 1.8 0a0.9 0.9 0 1 0 -1.8 0M43.6 472.4a0.9 0.9 0 1 0 1.8 0a0.9 0.9 0 1 0 -1.8 0M44.6 486a0.9 0.9 0 1 0 1.8 0a0.9 0.9 0 1 0 -1.8 0M52.6 491a0.9 0.9 0 1 0 1.8 0a0.9 0.9 0 1 0 -1.8 0M53.6 493.6a0.9 0.9 0 1 0 1.8 0a0.9 0.9 0 1 0 -1.8 0M57.6 475.6a0.9 0.9 0 1 0 1.8 0a0.9 0.9 0 1 0 -1.8 0M59.6 490.4a0.9 0.9 0 1 0 1.8 0a0.9 0.9 0 1 0 -1.8 0M68.6 485.6a0.9 0.9 0 1 0 1.8 0a0.9 0.9 0 1 0 -1.8 0M72.6 472.4a0.9 0.9 0 1 0 1.8 0a0.9 0.9 0 1 0 -1.8 0M78.6 474.6a0.9 0.9 0 1 0 1.8 0a0.9 0.9 0 1 0 -1.8 0M83.6 496.6a0.9 0.9 0 1 0 1.8 0a0.9 0.9 0 1 0 -1.8 0M86.6 501a0.9 0.9 0 1 0 1.8 0a0.9 0.9 0 1 0 -1.8 0M88.6 491.6a0.9 0.9 0 1 0 1.8 0a0.9 0.9 0 1 0 -1.8 0M91.6 498.6a0.9 0.9 0 1 0 1.8 0a0.9 0.9 0 1 0 -1.8 0M95.6 479a0.9 0.9 0 1 0 1.8 0a0.9 0.9 0 1 0 -1.8 0M102.6 471.6a0.9 0.9 0 1 0 1.8 0a0.9 0.9 0 1 0 -1.8 0M105.6 478a0.9 0.9 0 1 0 1.8 0a0.9 0.9 0 1 0 -1.8 0M108.6 490a0.9 0.9 0 1 0 1.8 0a0.9 0.9 0 1 0 -1.8 0M109.6 495a0.9 0.9 0 1 0 1.8 0a0.9 0.9 0 1 0 -1.8 0M112.6 480a0.9 0.9 0 1 0 1.8 0a0.9 0.9 0 1 0 -1.8 0M116.6 479a0.9 0.9 0 1 0 1.8 0a0.9 0.9 0 1 0 -1.8 0M124.6 492a0.9 0.9 0 1 0 1.8 0a0.9 0.9 0 1 0 -1.8 0M124.6 477.6a0.9 0.9 0 1 0 1.8 0a0.9 0.9 0 1 0 -1.8 0M130.6 494a0.9 0.9 0 1 0 1.8 0a0.9 0.9 0 1 0 -1.8 0M134.6 471.6a0.9 0.9 0 1 0 1.8 0a0.9 0.9 0 1 0 -1.8 0M142.6 475a0.9 0.9 0 1 0 1.8 0a0.9 0.9 0 1 0 -1.8 0M144.6 466a0.9 0.9 0 1 0 1.8 0a0.9 0.9 0 1 0 -1.8 0M151.6 478a0.9 0.9 0 1 0 1.8 0a0.9 0.9 0 1 0 -1.8 0M154.6 491a0.9 0.9 0 1 0 1.8 0a0.9 0.9 0 1 0 -1.8 0M162.6 465a0.9 0.9 0 1 0 1.8 0a0.9 0.9 0 1 0 -1.8 0M164.6 489.6a0.9 0.9 0 1 0 1.8 0a0.9 0.9 0 1 0 -1.8 0M168.6 469a0.9 0.9 0 1 0 1.8 0a0.9 0.9 0 1 0 -1.8 0M178.6 490a0.9 0.9 0 1 0 1.8 0a0.9 0.9 0 1 0 -1.8 0M180.6 494.4a0.9 0.9 0 1 0 1.8 0a0.9 0.9 0 1 0 -1.8 0" fill="#275a32" stroke="#1a3320" stroke-width="0.4"/>
<path d="M26.6 448.6a0.9 0.9 0 1 0 1.8 0a0.9 0.9 0 1 0 -1.8 0M81.6 522a0.9 0.9 0 1 0 1.8 0a0.9 0.9 0 1 0 -1.8 0M106.6 503.6a0.9 0.9 0 1 0 1.8 0a0.9 0.9 0 1 0 -1.8 0M114.6 505a0.9 0.9 0 1 0 1.8 0a0.9 0.9 0 1 0 -1.8 0M120.6 453.6a0.9 0.9 0 1 0 1.8 0a0.9 0.9 0 1 0 -1.8 0M129.6 452.6a0.9 0.9 0 1 0 1.8 0a0.9 0.9 0 1 0 -1.8 0M173.6 425.6a0.9 0.9 0 1 0 1.8 0a0.9 0.9 0 1 0 -1.8 0" fill="#6a3a28" stroke="#3a1a10" stroke-width="0.3"/>
<line x1="184.4" y1="426" x2="184.4" y2="522" stroke="#cfcfe8" stroke-width="1.1"/>
<line x1="184.4" y1="426" x2="184.4" y2="522" stroke="#8080b8" stroke-width="0.7" stroke-dasharray="1.3 1.1"/>
<line x1="189.6" y1="426" x2="189.6" y2="522" stroke="#cfcfe8" stroke-width="1.1"/>
<line x1="189.6" y1="426" x2="189.6" y2="522" stroke="#8080b8" stroke-width="0.7" stroke-dasharray="1.3 1.1"/>
</g>
<rect x="18.5" y="420.5" width="179" height="107" fill="none" stroke="#989898" stroke-width="1.0"/>
<line x1="17.4" y1="432.5" x2="18.7" y2="432.5" stroke="#333" stroke-width="0.5"/>
<text x="16.8" y="433.54" text-anchor="end" font-size="3.02" textLength="6.46" lengthAdjust="spacingAndGlyphs" fill="#111" stroke="#111" stroke-width="0.14">0.08</text>
<line x1="17.4" y1="444.96" x2="18.7" y2="444.96" stroke="#333" stroke-width="0.5"/>
<text x="16.8" y="446" text-anchor="end" font-size="3.02" textLength="6.46" lengthAdjust="spacingAndGlyphs" fill="#111" stroke="#111" stroke-width="0.14">0.06</text>
<line x1="17.4" y1="457.42" x2="18.7" y2="457.42" stroke="#333" stroke-width="0.5"/>
<text x="16.8" y="458.46" text-anchor="end" font-size="3.02" textLength="6.46" lengthAdjust="spacingAndGlyphs" fill="#111" stroke="#111" stroke-width="0.14">0.04</text>
<line x1="17.4" y1="469.88" x2="18.7" y2="469.88" stroke="#333" stroke-width="0.5"/>
<text x="16.8" y="470.92" text-anchor="end" font-size="3.02" textLength="6.46" lengthAdjust="spacingAndGlyphs" fill="#111" stroke="#111" stroke-width="0.14">0.02</text>
<line x1="17.4" y1="482.34" x2="18.7" y2="482.34" stroke="#333" stroke-width="0.5"/>
<text x="16.8" y="483.38" text-anchor="end" font-size="3.02" textLength="6.46" lengthAdjust="spacingAndGlyphs" fill="#111" stroke="#111" stroke-width="0.14">0.00</text>
<line x1="17.4" y1="494.8" x2="18.7" y2="494.8" stroke="#333" stroke-width="0.5"/>
<text x="16.8" y="495.84" text-anchor="end" font-size="3.02" textLength="8.89" lengthAdjust="spacingAndGlyphs" fill="#111" stroke="#111" stroke-width="0.14">−0.02</text>
<line x1="17.4" y1="507.26" x2="18.7" y2="507.26" stroke="#333" stroke-width="0.5"/>
<text x="16.8" y="508.3" text-anchor="end" font-size="3.02" textLength="8.89" lengthAdjust="spacingAndGlyphs" fill="#111" stroke="#111" stroke-width="0.14">−0.04</text>
<line x1="17.4" y1="519.72" x2="18.7" y2="519.72" stroke="#333" stroke-width="0.5"/>
<text x="16.8" y="520.76" text-anchor="end" font-size="3.02" textLength="8.89" lengthAdjust="spacingAndGlyphs" fill="#111" stroke="#111" stroke-width="0.14">−0.06</text>
<line x1="27" y1="527.1" x2="27" y2="528.4" stroke="#333" stroke-width="0.5"/>
<text transform="translate(28.39 530.1) rotate(-90)" text-anchor="end" font-size="3.02" textLength="8.43" lengthAdjust="spacingAndGlyphs" fill="#222" stroke="#222" stroke-width="0.06">11-12</text>
<line x1="38.6" y1="527.1" x2="38.6" y2="528.4" stroke="#333" stroke-width="0.5"/>
<text transform="translate(39.99 530.1) rotate(-90)" text-anchor="end" font-size="3.02" textLength="8.43" lengthAdjust="spacingAndGlyphs" fill="#222" stroke="#222" stroke-width="0.06">11-12</text>
<line x1="46.75" y1="527.1" x2="46.75" y2="528.4" stroke="#333" stroke-width="0.5"/>
<text transform="translate(48.14 530.1) rotate(-90)" text-anchor="end" font-size="3.02" textLength="8.43" lengthAdjust="spacingAndGlyphs" fill="#222" stroke="#222" stroke-width="0.06">11-12</text>
<line x1="56.1" y1="527.1" x2="56.1" y2="528.4" stroke="#333" stroke-width="0.5"/>
<text transform="translate(57.49 530.1) rotate(-90)" text-anchor="end" font-size="3.02" textLength="8.43" lengthAdjust="spacingAndGlyphs" fill="#222" stroke="#222" stroke-width="0.06">11-12</text>
<line x1="61.1" y1="527.1" x2="61.1" y2="528.4" stroke="#333" stroke-width="0.5"/>
<text transform="translate(62.49 530.1) rotate(-90)" text-anchor="end" font-size="3.02" textLength="8.43" lengthAdjust="spacingAndGlyphs" fill="#222" stroke="#222" stroke-width="0.06">11-12</text>
<line x1="67.1" y1="527.1" x2="67.1" y2="528.4" stroke="#333" stroke-width="0.5"/>
<text transform="translate(68.49 530.1) rotate(-90)" text-anchor="end" font-size="3.02" textLength="8.43" lengthAdjust="spacingAndGlyphs" fill="#222" stroke="#222" stroke-width="0.06">11-12</text>
<line x1="71.75" y1="527.1" x2="71.75" y2="528.4" stroke="#333" stroke-width="0.5"/>
<text transform="translate(73.14 530.1) rotate(-90)" text-anchor="end" font-size="3.02" textLength="8.43" lengthAdjust="spacingAndGlyphs" fill="#222" stroke="#222" stroke-width="0.06">11-12</text>
<line x1="78" y1="527.1" x2="78" y2="528.4" stroke="#333" stroke-width="0.5"/>
<text transform="translate(79.39 530.1) rotate(-90)" text-anchor="end" font-size="3.02" textLength="8.43" lengthAdjust="spacingAndGlyphs" fill="#222" stroke="#222" stroke-width="0.06">11-12</text>
<line x1="82.5" y1="527.1" x2="82.5" y2="528.4" stroke="#333" stroke-width="0.5"/>
<text transform="translate(83.89 530.1) rotate(-90)" text-anchor="end" font-size="3.02" textLength="8.43" lengthAdjust="spacingAndGlyphs" fill="#222" stroke="#222" stroke-width="0.06">11-12</text>
<line x1="86.75" y1="527.1" x2="86.75" y2="528.4" stroke="#333" stroke-width="0.5"/>
<text transform="translate(88.14 530.1) rotate(-90)" text-anchor="end" font-size="3.02" textLength="8.43" lengthAdjust="spacingAndGlyphs" fill="#222" stroke="#222" stroke-width="0.06">11-12</text>
<line x1="91.25" y1="527.1" x2="91.25" y2="528.4" stroke="#333" stroke-width="0.5"/>
<text transform="translate(92.64 530.1) rotate(-90)" text-anchor="end" font-size="3.02" textLength="8.43" lengthAdjust="spacingAndGlyphs" fill="#222" stroke="#222" stroke-width="0.06">11-12</text>
<line x1="99.25" y1="527.1" x2="99.25" y2="528.4" stroke="#333" stroke-width="0.5"/>
<text transform="translate(100.64 530.1) rotate(-90)" text-anchor="end" font-size="3.02" textLength="8.43" lengthAdjust="spacingAndGlyphs" fill="#222" stroke="#222" stroke-width="0.06">11-12</text>
<line x1="104.6" y1="527.1" x2="104.6" y2="528.4" stroke="#333" stroke-width="0.5"/>
<text transform="translate(105.99 530.1) rotate(-90)" text-anchor="end" font-size="3.02" textLength="8.43" lengthAdjust="spacingAndGlyphs" fill="#222" stroke="#222" stroke-width="0.06">11-12</text>
<line x1="112.6" y1="527.1" x2="112.6" y2="528.4" stroke="#333" stroke-width="0.5"/>
<text transform="translate(113.99 530.1) rotate(-90)" text-anchor="end" font-size="3.02" textLength="8.43" lengthAdjust="spacingAndGlyphs" fill="#222" stroke="#222" stroke-width="0.06">11-12</text>
<line x1="117.75" y1="527.1" x2="117.75" y2="528.4" stroke="#333" stroke-width="0.5"/>
<text transform="translate(119.14 530.1) rotate(-90)" text-anchor="end" font-size="3.02" textLength="8.43" lengthAdjust="spacingAndGlyphs" fill="#222" stroke="#222" stroke-width="0.06">11-12</text>
<line x1="124.4" y1="527.1" x2="124.4" y2="528.4" stroke="#333" stroke-width="0.5"/>
<text transform="translate(125.79 530.1) rotate(-90)" text-anchor="end" font-size="3.02" textLength="8.43" lengthAdjust="spacingAndGlyphs" fill="#222" stroke="#222" stroke-width="0.06">11-12</text>
<line x1="132.25" y1="527.1" x2="132.25" y2="528.4" stroke="#333" stroke-width="0.5"/>
<text transform="translate(133.64 530.1) rotate(-90)" text-anchor="end" font-size="3.02" textLength="8.43" lengthAdjust="spacingAndGlyphs" fill="#222" stroke="#222" stroke-width="0.06">11-12</text>
<line x1="141.5" y1="527.1" x2="141.5" y2="528.4" stroke="#333" stroke-width="0.5"/>
<text transform="translate(142.89 530.1) rotate(-90)" text-anchor="end" font-size="3.02" textLength="8.43" lengthAdjust="spacingAndGlyphs" fill="#222" stroke="#222" stroke-width="0.06">11-12</text>
<line x1="149.75" y1="527.1" x2="149.75" y2="528.4" stroke="#333" stroke-width="0.5"/>
<text transform="translate(151.14 530.1) rotate(-90)" text-anchor="end" font-size="3.02" textLength="8.43" lengthAdjust="spacingAndGlyphs" fill="#222" stroke="#222" stroke-width="0.06">11-12</text>
<line x1="156.4" y1="527.1" x2="156.4" y2="528.4" stroke="#333" stroke-width="0.5"/>
<text transform="translate(157.79 530.1) rotate(-90)" text-anchor="end" font-size="3.02" textLength="8.43" lengthAdjust="spacingAndGlyphs" fill="#222" stroke="#222" stroke-width="0.06">11-12</text>
<line x1="165.6" y1="527.1" x2="165.6" y2="528.4" stroke="#333" stroke-width="0.5"/>
<text transform="translate(166.99 530.1) rotate(-90)" text-anchor="end" font-size="3.02" textLength="8.43" lengthAdjust="spacingAndGlyphs" fill="#222" stroke="#222" stroke-width="0.06">11-12</text>
<line x1="171.9" y1="527.1" x2="171.9" y2="528.4" stroke="#333" stroke-width="0.5"/>
<text transform="translate(173.29 530.1) rotate(-90)" text-anchor="end" font-size="3.02" textLength="8.43" lengthAdjust="spacingAndGlyphs" fill="#222" stroke="#222" stroke-width="0.06">11-12</text>
<line x1="180.25" y1="527.1" x2="180.25" y2="528.4" stroke="#333" stroke-width="0.5"/>
<text transform="translate(181.64 530.1) rotate(-90)" text-anchor="end" font-size="3.02" textLength="8.43" lengthAdjust="spacingAndGlyphs" fill="#222" stroke="#222" stroke-width="0.06">11-12</text>
<line x1="183.75" y1="527.1" x2="183.75" y2="528.4" stroke="#333" stroke-width="0.5"/>
<text transform="translate(185.14 530.1) rotate(-90)" text-anchor="end" font-size="3.02" textLength="13.04" lengthAdjust="spacingAndGlyphs" fill="#222" stroke="#222" stroke-width="0.06">11-12 15</text>
<line x1="186.5" y1="527.1" x2="186.5" y2="528.4" stroke="#333" stroke-width="0.5"/>
<text transform="translate(187.89 530.1) rotate(-90)" text-anchor="end" font-size="3.02" textLength="8.43" lengthAdjust="spacingAndGlyphs" fill="#222" stroke="#222" stroke-width="0.06">11-12</text>
<line x1="189.75" y1="527.1" x2="189.75" y2="528.4" stroke="#333" stroke-width="0.5"/>
<text transform="translate(191.14 530.1) rotate(-90)" text-anchor="end" font-size="3.02" textLength="13.04" lengthAdjust="spacingAndGlyphs" fill="#222" stroke="#222" stroke-width="0.06">11-12 15</text>
<text x="108.2" y="418.6" text-anchor="middle" font-size="3.92" textLength="43.45" lengthAdjust="spacingAndGlyphs" fill="#1a1a1a" stroke="#1a1a1a" stroke-width="0.05">ASR_2021-11-12 15:36</text>
<text transform="translate(5.9 473.8) rotate(-90)" text-anchor="middle" font-size="3.17" textLength="17.63" lengthAdjust="spacingAndGlyphs" fill="#111" stroke="#111" stroke-width="0.14">btc_volume</text>
<text x="108.2" y="547.9" text-anchor="middle" font-size="3.17" textLength="13.77" lengthAdjust="spacingAndGlyphs" fill="#111" stroke="#111" stroke-width="0.14">datetime</text>
<rect x="19.7" y="421.8" width="45" height="10" rx="0.6" fill="#fff" fill-opacity="0.85" stroke="#ddd" stroke-width="0.3"/>
<line x1="21.6" y1="424.8" x2="29.1" y2="424.8" stroke="#5a5aa0" stroke-width="0.8" stroke-dasharray="1.6 0.9"/>
<line x1="21.6" y1="429.9" x2="29.1" y2="429.9" stroke="#ede4aa" stroke-width="1.4" stroke-dasharray="3.2 0.4"/>
<text x="31.2" y="425.92" font-size="3.24" textLength="28.12" lengthAdjust="spacingAndGlyphs" fill="#111" stroke="#111" stroke-width="0.14">2021-11-12 15:36</text>
<text x="31.2" y="431.02" font-size="3.24" textLength="31.3" lengthAdjust="spacingAndGlyphs" fill="#111" stroke="#111" stroke-width="0.14">anomalous volumes</text>
<clipPath id="c8"><rect x="218.6" y="420.5" width="179.00000000000003" height="106.60000000000002"/></clipPath>
<g clip-path="url(#c8)">
<rect x="263.6" y="446" width="8.4" height="54" fill="#fff5f7"/>
<rect x="336" y="456" width="11" height="60" fill="#fff5f7"/>
<rect x="377" y="421" width="6" height="106" fill="#fff5f7"/>
<rect x="226" y="484" width="164" height="22" fill="#edfcf8"/>
<line x1="226" y1="479" x2="392" y2="479" stroke="#ede4aa" stroke-width="1.4" stroke-dasharray="3.2 0.4"/>
<line x1="226" y1="510.9" x2="392" y2="510.9" stroke="#ede4aa" stroke-width="1.4" stroke-dasharray="3.2 0.4"/>
<path d="M234.5 494.7V507.6M247.5 494.7V485.6M248.5 494.7V499M260.5 494.7V499.4M264.5 494.7V487.4M266.5 494.7V499M273.5 494.7V486.4M274.5 494.7V497.6M289.5 494.7V499M292.5 494.7V510M298.5 494.7V505M307.5 494.7V499M312.5 494.7V485.6M324.5 494.7V508M329.5 494.7V487M331.5 494.7V500M337.5 494.7V493M353.5 494.7V499.6M365.5 494.7V499.6M372.5 494.7V494M379.5 494.7V497M386.5 494.7V493M389.5 494.7V492M340.5 494.7V490M342.5 494.7V499" stroke="#4f7458" stroke-width="0.75" fill="none"/>
<path d="M226.83 494.7V495.49M228.24 494.7V497.2M229.65 494.7V496.07M230.22 494.7V495.35M232.09 494.7V493.15M233.04 494.7V492.4M234.23 494.7V495.46M235.9 494.7V499.2M236.56 494.7V496.97M237.7 494.7V496.66M239.73 494.7V493.96M240.96 494.7V493.39M242.23 494.7V492.52M242.7 494.7V492.4M244.27 494.7V494.65M245.98 494.7V496.22M246.89 494.7V494.92M248.27 494.7V492.89M249.65 494.7V494.48M250.87 494.7V496.04M252.18 494.7V497.57M253.26 494.7V499.2M253.95 494.7V495.78M255.15 494.7V491.76M256.73 494.7V490.48M258.14 494.7V492.94M259.06 494.7V493M261.09 494.7V491.26M261.5 494.7V492.16M263.13 494.7V492.28M264.31 494.7V491.96M266.05 494.7V490.2M266.82 494.7V490.32M267.82 494.7V490.24M269.41 494.7V492.29M271.21 494.7V494.07M271.68 494.7V493.32M273.32 494.7V495.67M275.04 494.7V493M276.13 494.7V496.5M276.74 494.7V493.97M278.17 494.7V496.73M279.2 494.7V493.71M280.55 494.7V492.74M282.36 494.7V494.56M283.26 494.7V495.73M284.2 494.7V491.96M285.84 494.7V493.85M287.15 494.7V495.02M288.07 494.7V499.2M289.37 494.7V498.25M290.95 494.7V499.2M292.21 494.7V499.2M293.81 494.7V492.35M294.39 494.7V498.37M295.85 494.7V498.05M296.99 494.7V497.12M298.46 494.7V495.55M299.74 494.7V493.66M301.05 494.7V494.71M302.36 494.7V495.84M303.37 494.7V497.71M304.45 494.7V494.31M305.96 494.7V495.08M307.7 494.7V494.66M308.43 494.7V491.39M309.67 494.7V493.61M310.96 494.7V496.42M312.05 494.7V497.17M313.27 494.7V495.66M314.52 494.7V494.17M316.01 494.7V496.74M317.12 494.7V494.36M318.44 494.7V493.38M319.57 494.7V490.64M320.91 494.7V492.06M322.7 494.7V492.66M323.96 494.7V492.1M325.44 494.7V491.15M326.66 494.7V493.93M327.54 494.7V495.6M328.37 494.7V494.46M330.58 494.7V495.54M331.62 494.7V494.2M332.52 494.7V498.38M334.27 494.7V497.33M335.34 494.7V497.7M336.37 494.7V498.89M337.47 494.7V495.62M339.19 494.7V499.07M340.15 494.7V496.75M341.88 494.7V494.43M342.44 494.7V493.87M344.38 494.7V492.69M345.11 494.7V494.37M346.74 494.7V496.82M347.52 494.7V495.59M349.12 494.7V499.06M350.13 494.7V494.46M351.52 494.7V496.3M352.83 494.7V497.19M354.13 494.7V496.62M355.29 494.7V497.33M356.85 494.7V493.2M358.05 494.7V492.42M358.88 494.7V491.94M360.05 494.7V493.64M362 494.7V495.63M363.03 494.7V492.57M363.78 494.7V491.26M365.81 494.7V491.29M366.4 494.7V493.96M367.91 494.7V492M368.73 494.7V492.31M370.07 494.7V493.59M372.08 494.7V493.85M373.13 494.7V494.6M374.37 494.7V496.08M375.24 494.7V496.17M376.29 494.7V496.9M377.97 494.7V497.81M378.92 494.7V495.84M380.11 494.7V492.97M381.63 494.7V490.2M383.49 494.7V490.2M384.18 494.7V494.08M385.99 494.7V493M386.37 494.7V494.27M387.85 494.7V492.41M389.79 494.7V495.99" stroke="#3f7a4e" stroke-width="0.6" fill="none"/>
<path d="M269.5 494.7V470.6M325.5 494.7V522M341.5 494.7V466.6M341.5 494.7V515M343.5 494.7V458M346.5 494.7V511M378.5 494.7V425.6M380.5 494.7V478M381.5 494.7V505" stroke="#bc8064" stroke-width="0.75" fill="none"/>
<path d="M226 493.4 226 494 226.4 497.3 226.8 495.5 226.8 495.5 226.8 494.9 227.3 494.5 227.4 497 227.9 492.4 227.9 495.1 228.2 497.2 228.5 492.3 228.7 495.8 228.8 492.6 229.2 495.8 229.4 495.1 229.6 492.5 229.7 496.1 230 494.8 230 497 230.2 495.4 230.3 497.3 230.7 497.1 230.7 494.4 231.1 497.4 231.4 493.6 231.7 497.7 232.1 493.7 232.1 493.1 232.2 497.6 232.5 494.1 232.7 491.7 233 492.4 233.1 493.9 233.2 495 233.6 494.7 233.9 495.2 234 493.9 234.2 495.5 234.3 494.2 234.5 495.7 234.7 497 235 492.4 235.3 495.4 235.5 492 235.9 496 235.9 497.9 236 495.9 236.5 494.8 236.5 493.8 236.6 497 236.8 494.5 237.1 494.3 237.2 493.6 237.5 494.3 237.7 494 237.7 496.7 238.1 495.9 238.2 495.6 238.5 495.2 238.9 494.5 239 493.7 239.4 495.1 239.4 497.6 239.7 494 239.8 495.2 240 497.4 240.5 495 240.5 491.7 240.9 493 241 493.4 241.1 495.1 241.4 496.4 241.4 495.4 241.9 492 241.9 494.3 242.2 493.5 242.2 492.5 242.5 495.1 242.6 493.6 242.7 492.4 242.9 497.8 243.3 494.1 243.4 496.3 243.7 495.1 243.8 494.5 244.1 494 244.3 494.7 244.5 493.4 244.7 497.7 245 494.9 245.2 495.8 245.6 497.9 245.6 494.9 246 496.2 246.1 493.4 246.3 494.6 246.6 493.3 246.6 493.8 246.9 494.9 247.2 493.3 247.3 494.3 247.8 497.4 247.9 494.8 248 499 248.1 496.3 248.3 492.9 248.4 493.6 248.5 495.4 248.8 494 248.9 494.7 249.3 492.7 249.6 494.5 249.7 494.1 249.7 495.3 250.2 496 250.4 494.5 250.6 497 250.8 494.4 250.9 496 250.9 497.4 251.3 493.5 251.6 495.9 251.9 493.8 252.2 497.6 252.2 493.9 252.3 495.9 252.7 495.6 252.7 496.7 253.1 494 253.3 497.9 253.4 494.3 253.5 493.9 253.9 493.4 253.9 495.8 254.1 495.3 254.3 497.7 254.5 495.3 254.8 496.4 255 493.7 255.1 491.8 255.4 492.8 255.5 494.7 255.9 492.3 255.9 495.1 256.3 492.1 256.7 495.6 256.7 491.5 256.8 494.4 257.1 493.3 257.3 492.8 257.6 495.4 257.9 494.4 258 495.1 258.1 492.9 258.2 495.6 258.6 496.5 258.6 494 259 493.4 259 496 259.1 493 259.5 495.8 259.7 495.5 259.9 492.2 260 499.4 260.3 495 260.3 497.4 260.7 495 260.9 494.3 261.1 491.5 261.2 493.1 261.5 492.2 261.6 497.1 261.6 495.2 262.1 494 262.2 495.3 262.6 491.5 262.7 494 263 496.5 263.1 492.3 263.2 495 263.6 494 263.7 494.9 264.1 496.8 264.3 496.1 264.3 492 264.7 493.5 265 493.3 265 496.6 265.4 493.6 265.4 496.3 266 494.3 266 499 266.1 491.5 266.1 495.2 266.4 492.9 266.6 494.8 266.8 496.3 266.8 491.5 267.3 494.8 267.4 493 267.7 496.7 267.8 491.5 267.9 494.7 268.3 493.3 268.7 494.3 268.7 496.7 269.1 496.7 269.4 494 269.4 492.3 269.5 492.9 269.9 493.5 270 495.5 270.3 492.9 270.6 494.1 270.8 492.7 271 494.9 271.1 493 271.2 494.1 271.6 497.5 271.7 493.3 271.8 494.7 271.9 496.5 272.3 493.4 272.3 495.1 272.7 497.9 272.8 494.4 273 497 273.3 495.7 273.4 491.6 273.5 494.8 273.8 497.8 274 497.6 274.1 495 274.2 495 274.6 495.9 274.8 493.4 275 493 275.2 494.3 275.3 495.3 275.6 497.3 276 495.3 276.1 496.5 276.2 494.9 276.7 495.7 276.7 494.7 276.7 494 277.1 492 277.2 495.3 277.6 491.8 278 495.2 278 492.3 278.2 496.7 278.5 494.2 278.5 494.6 279.1 493.8 279.2 493.8 279.2 493.7 279.4 494.7 279.8 495.8 279.9 496.4 280.3 496.9 280.5 494.7 280.6 492.7 280.8 491.7 281.1 495.1 281.2 496.9 281.5 494.6 281.6 492 282 492.6 282.3 495.5 282.4 494.6 282.5 495.3 283 495.5 283.1 493.9 283.3 495.7 283.4 493.6 283.4 492 283.9 497.4 284.1 494 284.2 492 284.3 495.7 284.6 495.2 284.7 497.2 285.2 495.8 285.3 495.1 285.8 494.5 285.8 493.8 285.9 494 286.4 491.9 286.6 494.5 286.7 494.5 287.1 495 287.2 497.1 287.3 496 287.6 497.7 288 495.9 288.1 497.9 288.1 496.7 288.5 493.2 288.8 495.5 289 499 289 497.8 289.4 497.9 289.4 494.6 289.6 495.6 289.8 493.4 290.1 492.6 290.3 495.1 290.6 493.8 290.8 493.5 291 497.9 291.1 495.5 291.4 494.5 291.5 497.3 291.9 494.7 292 495.2 292.2 497.9 292.4 495.4 292.8 494.2 292.9 494 293.4 491.5 293.5 494.6 293.8 492.4 293.9 492.6 294.3 494.4 294.4 493.5 294.4 497.9 294.7 494.1 294.8 492.9 295.2 493.8 295.4 494.2 295.7 495.3 295.9 497.9 295.9 496 296.1 493.3 296.4 491.8 296.9 495.5 296.9 494 297 497.1 297.2 496 297.4 495.7 297.7 494 297.8 493.3 298.1 492.5 298.2 495.9 298.5 495.6 298.5 493.4 298.7 494.9 298.8 492.4 299.2 494 299.3 493.3 299.6 492.7 299.7 493.7 299.8 495.2 300.2 495.7 300.6 494.9 300.7 497.2 301 494.7 301.1 493.9 301.3 493.8 301.7 494.8 301.9 492.9 302.2 495.7 302.4 495.8 302.5 491.6 302.7 495.4 302.9 495.6 303.4 497.7 303.4 497.8 303.5 495.6 303.8 492.7 304.2 491.6 304.2 495.8 304.4 494.3 304.6 493.7 304.9 494.4 305.2 491.7 305.5 495.5 305.6 491.9 305.9 496.1 306 495.1 306.1 492.7 306.6 495.1 306.6 492 307.1 495.2 307.3 495.9 307.5 493.7 307.6 499 307.7 494.7 307.9 493.3 308.1 497.6 308.4 491.7 308.4 491.5 308.7 493.7 308.9 492.6 309.2 493.1 309.3 495.3 309.5 491.7 309.7 493.6 309.9 496.1 310.1 496.1 310.4 495 310.6 492.2 310.8 494.6 311 496.4 311.2 496 311.6 495.6 311.7 497.5 312 497.4 312.1 497.2 312.3 493.8 312.4 496.1 312.8 495.4 312.9 497.1 313.2 494.9 313.3 495.7 313.4 497.5 313.6 494.6 313.9 492.1 314.2 493.3 314.5 497.8 314.5 494.2 314.8 494.9 314.9 496.7 315.3 494 315.4 496 315.6 495.9 315.9 497.4 316 496.7 316.2 493.9 316.3 496 316.8 495.3 316.8 491.9 317.1 494.4 317.2 493.8 317.6 494.6 317.8 495.6 318 493.8 318.1 497.4 318.4 493.4 318.5 497.6 318.5 493.9 318.9 494.4 319.2 494.1 319.2 493.6 319.6 491.5 319.7 494.6 319.7 494.7 320 496.6 320.3 494.8 320.5 495.3 320.8 492.5 320.9 492.1 320.9 494.6 321.3 492.9 321.3 495.1 321.7 495.3 321.8 497.8 322.4 492.7 322.4 494.1 322.7 492.7 322.8 494.4 323 494.2 323.2 497.5 323.5 495.3 323.7 496.6 324 492.1 324 495.7 324.3 494.3 324.7 496.3 324.7 494.3 325.1 494.4 325.2 494.5 325.4 493.6 325.4 491.5 325.9 493.3 325.9 496.9 326.3 494.4 326.3 493.5 326.7 493.9 326.8 497.3 327 495.5 327.3 491.6 327.4 493.9 327.5 495.6 327.7 497.2 327.7 495.1 328.1 493.9 328.2 496.8 328.4 494.5 328.6 494.1 328.6 495 328.9 497.1 329.2 494.1 329.3 495 329.9 497.7 329.9 495.7 330.3 493.7 330.4 494.1 330.6 495.5 330.9 495.6 331 500 331.1 494.4 331.3 497.4 331.6 494.2 331.7 495 331.8 493.5 332.1 495 332.2 495.8 332.5 497.9 332.7 494.4 332.8 493.7 333.1 495.1 333.6 495.6 333.7 497.5 334 493.7 334.2 497.2 334.3 497.3 334.6 495.9 334.6 497.8 335 495.3 335.2 495.2 335.3 497.7 335.5 494.4 335.8 495.9 336 496.8 336.3 494.6 336.4 497.9 336.5 496.1 336.8 497.2 337 493 337.1 493.5 337.3 495.6 337.5 495.6 337.7 497 337.9 494.5 338.2 496.9 338.5 496.8 338.6 495.9 339.1 497.4 339.2 497.9 339.2 493.7 339.6 495.3 339.9 494.8 340 493.4 340.1 496.8 340.4 490 340.4 495.1 340.5 494.7 340.9 497.6 340.9 494.7 341.3 495.3 341.3 497 341.6 495.9 341.9 493.6 341.9 494.4 342 499 342.2 491.6 342.3 493.4 342.4 493.9 342.6 496.1 343 495.9 343 491.8 343.4 494.9 343.5 496.6 343.9 497.2 344.1 495.3 344.4 492.7 344.4 496.5 344.5 494.3 344.9 493.2 345.1 494.4 345.2 493.3 345.4 493.9 345.6 494 345.8 494.1 346.1 493.4 346.3 497.1 346.6 494.8 346.7 496.8 346.8 494.7 347 493.7 347.3 495.1 347.5 495.6 347.7 491.5 347.7 494.1 348.3 493 348.4 494.2 348.7 497 348.9 494.4 349.1 497.9 349.2 492.5 349.3 495.8 349.7 494.8 349.8 493.9 350.1 494.5 350.2 494 350.2 492.3 350.6 494.5 350.8 494.4 351.1 493.9 351.1 495.5 351.5 496.3 351.6 495.2 351.6 493.7 352.1 494.4 352.1 496 352.5 495 352.7 494.4 352.8 497.2 352.9 491.9 353 499.6 353.2 495.6 353.4 494.5 353.8 492.6 354 495 354.1 496.6 354.2 496.3 354.5 494.9 354.6 497.1 355 494.8 355.2 493.9 355.3 497.3 355.6 494.3 355.7 495 356.1 494.1 356.4 494.2 356.7 496.5 356.8 493.2 356.9 495.9 357.1 492.2 357.6 493.9 357.6 495.1 358.1 492.4 358.2 497.8 358.3 495.7 358.7 497.5 358.9 491.9 359 495.6 359.2 493.6 359.4 493.5 359.8 494.3 359.9 494.2 360.1 493.6 360.3 496.2 360.5 495 360.7 491.7 361 493.4 361.2 495.7 361.5 496 361.7 495.5 361.8 496.2 362 495.6 362.3 496.7 362.3 495.8 362.7 495.1 362.9 494.3 363 492.6 363.2 492.3 363.5 494.5 363.5 492.6 363.8 491.5 363.9 496.6 364.3 494.2 364.4 492.5 365 497.1 365 494 365.4 496 365.4 495.4 365.6 499.6 365.7 493.6 365.8 491.5 365.9 497 366.3 496.3 366.4 494 366.4 493.6 366.8 495.9 367 495.9 367.2 491.6 367.4 495.2 367.7 494.5 367.9 492 368 492.9 368.1 494.8 368.5 493.8 368.7 492.3 368.8 494.6 369.1 495.9 369.2 494.2 369.6 495.4 369.7 494.6 370.1 493.6 370.1 492.1 370.5 494.3 370.6 494.2 371 497.9 371.2 494.8 371.4 496.5 371.9 494.7 372 496 372 494 372.1 493.9 372.5 496.5 372.6 495.7 372.9 494.5 373.1 494.6 373.3 494.9 373.5 492.5 373.8 493.5 374 495.6 374.4 496.1 374.4 494.2 374.5 497.9 374.9 493.6 375 495.2 375.2 496.2 375.4 497.7 375.4 495.1 375.8 492.2 376.2 495.9 376.3 496.9 376.4 493.4 376.8 495 376.8 493.4 377.1 493.4 377.5 493.9 377.5 492.1 377.8 495.4 378 495.5 378 497.8 378.2 495.9 378.5 495.7 378.6 497.5 378.9 495.8 379 497 379 493.9 379.2 493.5 379.5 493.5 379.7 491.7 380.1 493 380.1 494.7 380.2 493.8 380.7 494 380.9 493.7 381.1 492.8 381.6 495.8 381.6 491.5 381.7 495.8 382 492.6 382.2 495.6 382.5 496.4 382.7 494.3 383.1 493.1 383.4 493.8 383.4 493.6 383.5 491.5 383.9 495.6 384 497.5 384.2 494.1 384.4 496 384.7 494.9 384.8 494.2 385.1 495.1 385.2 495.3 385.5 493.4 385.5 493.4 385.9 492.5 386 494.3 386 493 386 493 386.4 494.3 386.5 495.1 386.5 492.6 386.9 493.3 387.2 493.9 387.4 491.6 387.8 494.3 387.9 492.4 387.9 495.2 388.3 494.7 388.4 496.7 388.8 496.8 388.9 493.4 389 492 389.4 497.7 389.5 495.4 389.7 493.6 389.8 496 390 495.3" stroke="#2e8c48" stroke-width="1.0" fill="none" stroke-linejoin="round"/>
<line x1="226" y1="494.7" x2="390" y2="494.7" stroke="#30482c" stroke-width="1.3"/>
<path d="M225.2 493.4a0.75 0.75 0 1 0 1.5 0a0.75 0.75 0 1 0 -1.5 0M226.6 494.5a0.75 0.75 0 1 0 1.5 0a0.75 0.75 0 1 0 -1.5 0M227.9 495.8a0.75 0.75 0 1 0 1.5 0a0.75 0.75 0 1 0 -1.5 0M229.2 494.8a0.75 0.75 0 1 0 1.5 0a0.75 0.75 0 1 0 -1.5 0M230.6 493.6a0.75 0.75 0 1 0 1.5 0a0.75 0.75 0 1 0 -1.5 0M231.8 494.1a0.75 0.75 0 1 0 1.5 0a0.75 0.75 0 1 0 -1.5 0M233.1 495.2a0.75 0.75 0 1 0 1.5 0a0.75 0.75 0 1 0 -1.5 0M234.6 495.4a0.75 0.75 0 1 0 1.5 0a0.75 0.75 0 1 0 -1.5 0M235.7 494.8a0.75 0.75 0 1 0 1.5 0a0.75 0.75 0 1 0 -1.5 0M236.7 494.3a0.75 0.75 0 1 0 1.5 0a0.75 0.75 0 1 0 -1.5 0M238.2 493.7a0.75 0.75 0 1 0 1.5 0a0.75 0.75 0 1 0 -1.5 0M239.1 495.2a0.75 0.75 0 1 0 1.5 0a0.75 0.75 0 1 0 -1.5 0M240.3 495.1a0.75 0.75 0 1 0 1.5 0a0.75 0.75 0 1 0 -1.5 0M241.2 494.3a0.75 0.75 0 1 0 1.5 0a0.75 0.75 0 1 0 -1.5 0M242.6 494.1a0.75 0.75 0 1 0 1.5 0a0.75 0.75 0 1 0 -1.5 0M243.8 493.4a0.75 0.75 0 1 0 1.5 0a0.75 0.75 0 1 0 -1.5 0M244.9 494.9a0.75 0.75 0 1 0 1.5 0a0.75 0.75 0 1 0 -1.5 0M245.9 493.8a0.75 0.75 0 1 0 1.5 0a0.75 0.75 0 1 0 -1.5 0M247.2 494.8a0.75 0.75 0 1 0 1.5 0a0.75 0.75 0 1 0 -1.5 0M248.2 494.7a0.75 0.75 0 1 0 1.5 0a0.75 0.75 0 1 0 -1.5 0M249.6 494.5a0.75 0.75 0 1 0 1.5 0a0.75 0.75 0 1 0 -1.5 0M250.9 495.9a0.75 0.75 0 1 0 1.5 0a0.75 0.75 0 1 0 -1.5 0M251.9 495.6a0.75 0.75 0 1 0 1.5 0a0.75 0.75 0 1 0 -1.5 0M253.3 495.3a0.75 0.75 0 1 0 1.5 0a0.75 0.75 0 1 0 -1.5 0M254.2 493.7a0.75 0.75 0 1 0 1.5 0a0.75 0.75 0 1 0 -1.5 0M255.2 495.1a0.75 0.75 0 1 0 1.5 0a0.75 0.75 0 1 0 -1.5 0M256.4 493.3a0.75 0.75 0 1 0 1.5 0a0.75 0.75 0 1 0 -1.5 0M257.3 495.1a0.75 0.75 0 1 0 1.5 0a0.75 0.75 0 1 0 -1.5 0M258.2 496a0.75 0.75 0 1 0 1.5 0a0.75 0.75 0 1 0 -1.5 0M259.5 495a0.75 0.75 0 1 0 1.5 0a0.75 0.75 0 1 0 -1.5 0M260.9 495.2a0.75 0.75 0 1 0 1.5 0a0.75 0.75 0 1 0 -1.5 0M261.9 494a0.75 0.75 0 1 0 1.5 0a0.75 0.75 0 1 0 -1.5 0M262.9 494.9a0.75 0.75 0 1 0 1.5 0a0.75 0.75 0 1 0 -1.5 0M264.2 493.3a0.75 0.75 0 1 0 1.5 0a0.75 0.75 0 1 0 -1.5 0M265.3 495.2a0.75 0.75 0 1 0 1.5 0a0.75 0.75 0 1 0 -1.5 0M266.6 494.8a0.75 0.75 0 1 0 1.5 0a0.75 0.75 0 1 0 -1.5 0M268 494.3a0.75 0.75 0 1 0 1.5 0a0.75 0.75 0 1 0 -1.5 0M269.2 495.5a0.75 0.75 0 1 0 1.5 0a0.75 0.75 0 1 0 -1.5 0M270.3 494.9a0.75 0.75 0 1 0 1.5 0a0.75 0.75 0 1 0 -1.5 0M271.5 495.1a0.75 0.75 0 1 0 1.5 0a0.75 0.75 0 1 0 -1.5 0M272.7 494.8a0.75 0.75 0 1 0 1.5 0a0.75 0.75 0 1 0 -1.5 0M273.9 495.9a0.75 0.75 0 1 0 1.5 0a0.75 0.75 0 1 0 -1.5 0M275.3 495.3a0.75 0.75 0 1 0 1.5 0a0.75 0.75 0 1 0 -1.5 0M276.4 495.3a0.75 0.75 0 1 0 1.5 0a0.75 0.75 0 1 0 -1.5 0M277.8 494.6a0.75 0.75 0 1 0 1.5 0a0.75 0.75 0 1 0 -1.5 0M279 495.8a0.75 0.75 0 1 0 1.5 0a0.75 0.75 0 1 0 -1.5 0M280.4 495.1a0.75 0.75 0 1 0 1.5 0a0.75 0.75 0 1 0 -1.5 0M281.6 495.5a0.75 0.75 0 1 0 1.5 0a0.75 0.75 0 1 0 -1.5 0M282.6 493.6a0.75 0.75 0 1 0 1.5 0a0.75 0.75 0 1 0 -1.5 0M283.8 495.2a0.75 0.75 0 1 0 1.5 0a0.75 0.75 0 1 0 -1.5 0M285.1 494a0.75 0.75 0 1 0 1.5 0a0.75 0.75 0 1 0 -1.5 0M286.5 496a0.75 0.75 0 1 0 1.5 0a0.75 0.75 0 1 0 -1.5 0M288 495.5a0.75 0.75 0 1 0 1.5 0a0.75 0.75 0 1 0 -1.5 0M289.1 493.4a0.75 0.75 0 1 0 1.5 0a0.75 0.75 0 1 0 -1.5 0M290.1 493.5a0.75 0.75 0 1 0 1.5 0a0.75 0.75 0 1 0 -1.5 0M291.2 495.2a0.75 0.75 0 1 0 1.5 0a0.75 0.75 0 1 0 -1.5 0M292.8 494.6a0.75 0.75 0 1 0 1.5 0a0.75 0.75 0 1 0 -1.5 0M294 494.1a0.75 0.75 0 1 0 1.5 0a0.75 0.75 0 1 0 -1.5 0M294.9 495.3a0.75 0.75 0 1 0 1.5 0a0.75 0.75 0 1 0 -1.5 0M296.1 494a0.75 0.75 0 1 0 1.5 0a0.75 0.75 0 1 0 -1.5 0M297 493.3a0.75 0.75 0 1 0 1.5 0a0.75 0.75 0 1 0 -1.5 0M297.9 494.9a0.75 0.75 0 1 0 1.5 0a0.75 0.75 0 1 0 -1.5 0M299.1 495.2a0.75 0.75 0 1 0 1.5 0a0.75 0.75 0 1 0 -1.5 0M300.3 493.9a0.75 0.75 0 1 0 1.5 0a0.75 0.75 0 1 0 -1.5 0M301.4 495.7a0.75 0.75 0 1 0 1.5 0a0.75 0.75 0 1 0 -1.5 0M302.7 495.6a0.75 0.75 0 1 0 1.5 0a0.75 0.75 0 1 0 -1.5 0M304.1 494.4a0.75 0.75 0 1 0 1.5 0a0.75 0.75 0 1 0 -1.5 0M305.2 496.1a0.75 0.75 0 1 0 1.5 0a0.75 0.75 0 1 0 -1.5 0M306.6 495.9a0.75 0.75 0 1 0 1.5 0a0.75 0.75 0 1 0 -1.5 0M307.9 493.7a0.75 0.75 0 1 0 1.5 0a0.75 0.75 0 1 0 -1.5 0M309.1 496.1a0.75 0.75 0 1 0 1.5 0a0.75 0.75 0 1 0 -1.5 0M310.1 494.6a0.75 0.75 0 1 0 1.5 0a0.75 0.75 0 1 0 -1.5 0M311.6 493.8a0.75 0.75 0 1 0 1.5 0a0.75 0.75 0 1 0 -1.5 0M312.4 494.9a0.75 0.75 0 1 0 1.5 0a0.75 0.75 0 1 0 -1.5 0M313.5 493.3a0.75 0.75 0 1 0 1.5 0a0.75 0.75 0 1 0 -1.5 0M314.5 494a0.75 0.75 0 1 0 1.5 0a0.75 0.75 0 1 0 -1.5 0M315.5 493.9a0.75 0.75 0 1 0 1.5 0a0.75 0.75 0 1 0 -1.5 0M316.8 494.6a0.75 0.75 0 1 0 1.5 0a0.75 0.75 0 1 0 -1.5 0M317.7 493.9a0.75 0.75 0 1 0 1.5 0a0.75 0.75 0 1 0 -1.5 0M319 494.6a0.75 0.75 0 1 0 1.5 0a0.75 0.75 0 1 0 -1.5 0M320.2 494.6a0.75 0.75 0 1 0 1.5 0a0.75 0.75 0 1 0 -1.5 0M321 495.3a0.75 0.75 0 1 0 1.5 0a0.75 0.75 0 1 0 -1.5 0M322.3 494.2a0.75 0.75 0 1 0 1.5 0a0.75 0.75 0 1 0 -1.5 0M323.3 495.7a0.75 0.75 0 1 0 1.5 0a0.75 0.75 0 1 0 -1.5 0M324.4 494.5a0.75 0.75 0 1 0 1.5 0a0.75 0.75 0 1 0 -1.5 0M325.6 493.5a0.75 0.75 0 1 0 1.5 0a0.75 0.75 0 1 0 -1.5 0M326.6 493.9a0.75 0.75 0 1 0 1.5 0a0.75 0.75 0 1 0 -1.5 0M327.4 493.9a0.75 0.75 0 1 0 1.5 0a0.75 0.75 0 1 0 -1.5 0M328.5 494.1a0.75 0.75 0 1 0 1.5 0a0.75 0.75 0 1 0 -1.5 0M329.6 493.7a0.75 0.75 0 1 0 1.5 0a0.75 0.75 0 1 0 -1.5 0M331 493.5a0.75 0.75 0 1 0 1.5 0a0.75 0.75 0 1 0 -1.5 0M332.1 493.7a0.75 0.75 0 1 0 1.5 0a0.75 0.75 0 1 0 -1.5 0M333.3 493.7a0.75 0.75 0 1 0 1.5 0a0.75 0.75 0 1 0 -1.5 0M334.4 495.2a0.75 0.75 0 1 0 1.5 0a0.75 0.75 0 1 0 -1.5 0M335.6 494.6a0.75 0.75 0 1 0 1.5 0a0.75 0.75 0 1 0 -1.5 0M337.1 494.5a0.75 0.75 0 1 0 1.5 0a0.75 0.75 0 1 0 -1.5 0M338.4 493.7a0.75 0.75 0 1 0 1.5 0a0.75 0.75 0 1 0 -1.5 0M339.7 495.1a0.75 0.75 0 1 0 1.5 0a0.75 0.75 0 1 0 -1.5 0M340.5 495.3a0.75 0.75 0 1 0 1.5 0a0.75 0.75 0 1 0 -1.5 0M341.6 493.4a0.75 0.75 0 1 0 1.5 0a0.75 0.75 0 1 0 -1.5 0M342.6 494.9a0.75 0.75 0 1 0 1.5 0a0.75 0.75 0 1 0 -1.5 0M343.7 494.3a0.75 0.75 0 1 0 1.5 0a0.75 0.75 0 1 0 -1.5 0M344.8 494a0.75 0.75 0 1 0 1.5 0a0.75 0.75 0 1 0 -1.5 0M345.9 494.8a0.75 0.75 0 1 0 1.5 0a0.75 0.75 0 1 0 -1.5 0M347 494.1a0.75 0.75 0 1 0 1.5 0a0.75 0.75 0 1 0 -1.5 0M348.2 494.4a0.75 0.75 0 1 0 1.5 0a0.75 0.75 0 1 0 -1.5 0M349 494.8a0.75 0.75 0 1 0 1.5 0a0.75 0.75 0 1 0 -1.5 0M350 494.4a0.75 0.75 0 1 0 1.5 0a0.75 0.75 0 1 0 -1.5 0M350.8 495.2a0.75 0.75 0 1 0 1.5 0a0.75 0.75 0 1 0 -1.5 0M351.9 494.4a0.75 0.75 0 1 0 1.5 0a0.75 0.75 0 1 0 -1.5 0M353.3 495a0.75 0.75 0 1 0 1.5 0a0.75 0.75 0 1 0 -1.5 0M354.5 493.9a0.75 0.75 0 1 0 1.5 0a0.75 0.75 0 1 0 -1.5 0M355.6 494.2a0.75 0.75 0 1 0 1.5 0a0.75 0.75 0 1 0 -1.5 0M356.8 493.9a0.75 0.75 0 1 0 1.5 0a0.75 0.75 0 1 0 -1.5 0M358.2 495.6a0.75 0.75 0 1 0 1.5 0a0.75 0.75 0 1 0 -1.5 0M359.2 494.2a0.75 0.75 0 1 0 1.5 0a0.75 0.75 0 1 0 -1.5 0M360.5 495.7a0.75 0.75 0 1 0 1.5 0a0.75 0.75 0 1 0 -1.5 0M361.5 495.8a0.75 0.75 0 1 0 1.5 0a0.75 0.75 0 1 0 -1.5 0M362.7 494.5a0.75 0.75 0 1 0 1.5 0a0.75 0.75 0 1 0 -1.5 0M364.3 494a0.75 0.75 0 1 0 1.5 0a0.75 0.75 0 1 0 -1.5 0M365 493.6a0.75 0.75 0 1 0 1.5 0a0.75 0.75 0 1 0 -1.5 0M366.2 495.9a0.75 0.75 0 1 0 1.5 0a0.75 0.75 0 1 0 -1.5 0M367.3 494.8a0.75 0.75 0 1 0 1.5 0a0.75 0.75 0 1 0 -1.5 0M368.5 494.2a0.75 0.75 0 1 0 1.5 0a0.75 0.75 0 1 0 -1.5 0M369.7 494.3a0.75 0.75 0 1 0 1.5 0a0.75 0.75 0 1 0 -1.5 0M371.2 494.7a0.75 0.75 0 1 0 1.5 0a0.75 0.75 0 1 0 -1.5 0M372.5 494.9a0.75 0.75 0 1 0 1.5 0a0.75 0.75 0 1 0 -1.5 0M373.7 494.2a0.75 0.75 0 1 0 1.5 0a0.75 0.75 0 1 0 -1.5 0M374.7 495.1a0.75 0.75 0 1 0 1.5 0a0.75 0.75 0 1 0 -1.5 0M376.1 495a0.75 0.75 0 1 0 1.5 0a0.75 0.75 0 1 0 -1.5 0M377.2 495.5a0.75 0.75 0 1 0 1.5 0a0.75 0.75 0 1 0 -1.5 0M378.3 493.9a0.75 0.75 0 1 0 1.5 0a0.75 0.75 0 1 0 -1.5 0M379.4 494.7a0.75 0.75 0 1 0 1.5 0a0.75 0.75 0 1 0 -1.5 0M380.8 495.8a0.75 0.75 0 1 0 1.5 0a0.75 0.75 0 1 0 -1.5 0M382 494.3a0.75 0.75 0 1 0 1.5 0a0.75 0.75 0 1 0 -1.5 0M383.2 495.6a0.75 0.75 0 1 0 1.5 0a0.75 0.75 0 1 0 -1.5 0M384.4 495.3a0.75 0.75 0 1 0 1.5 0a0.75 0.75 0 1 0 -1.5 0M385.2 494.3a0.75 0.75 0 1 0 1.5 0a0.75 0.75 0 1 0 -1.5 0M386.4 493.9a0.75 0.75 0 1 0 1.5 0a0.75 0.75 0 1 0 -1.5 0M387.5 494.7a0.75 0.75 0 1 0 1.5 0a0.75 0.75 0 1 0 -1.5 0M388.7 495.4a0.75 0.75 0 1 0 1.5 0a0.75 0.75 0 1 0 -1.5 0" fill="#24602f"/>
<path d="M226 495.5a0.8 0.8 0 1 0 1.6 0a0.8 0.8 0 1 0 -1.6 0M227.4 497.2a0.8 0.8 0 1 0 1.6 0a0.8 0.8 0 1 0 -1.6 0M228.9 496.1a0.8 0.8 0 1 0 1.6 0a0.8 0.8 0 1 0 -1.6 0M229.4 495.4a0.8 0.8 0 1 0 1.6 0a0.8 0.8 0 1 0 -1.6 0M231.3 493.1a0.8 0.8 0 1 0 1.6 0a0.8 0.8 0 1 0 -1.6 0M232.2 492.4a0.8 0.8 0 1 0 1.6 0a0.8 0.8 0 1 0 -1.6 0M233.4 495.5a0.8 0.8 0 1 0 1.6 0a0.8 0.8 0 1 0 -1.6 0M235.1 499.2a0.8 0.8 0 1 0 1.6 0a0.8 0.8 0 1 0 -1.6 0M235.8 497a0.8 0.8 0 1 0 1.6 0a0.8 0.8 0 1 0 -1.6 0M236.9 496.7a0.8 0.8 0 1 0 1.6 0a0.8 0.8 0 1 0 -1.6 0M238.9 494a0.8 0.8 0 1 0 1.6 0a0.8 0.8 0 1 0 -1.6 0M240.2 493.4a0.8 0.8 0 1 0 1.6 0a0.8 0.8 0 1 0 -1.6 0M241.4 492.5a0.8 0.8 0 1 0 1.6 0a0.8 0.8 0 1 0 -1.6 0M241.9 492.4a0.8 0.8 0 1 0 1.6 0a0.8 0.8 0 1 0 -1.6 0M243.5 494.7a0.8 0.8 0 1 0 1.6 0a0.8 0.8 0 1 0 -1.6 0M245.2 496.2a0.8 0.8 0 1 0 1.6 0a0.8 0.8 0 1 0 -1.6 0M246.1 494.9a0.8 0.8 0 1 0 1.6 0a0.8 0.8 0 1 0 -1.6 0M247.5 492.9a0.8 0.8 0 1 0 1.6 0a0.8 0.8 0 1 0 -1.6 0M248.8 494.5a0.8 0.8 0 1 0 1.6 0a0.8 0.8 0 1 0 -1.6 0M250.1 496a0.8 0.8 0 1 0 1.6 0a0.8 0.8 0 1 0 -1.6 0M251.4 497.6a0.8 0.8 0 1 0 1.6 0a0.8 0.8 0 1 0 -1.6 0M252.5 499.2a0.8 0.8 0 1 0 1.6 0a0.8 0.8 0 1 0 -1.6 0M253.1 495.8a0.8 0.8 0 1 0 1.6 0a0.8 0.8 0 1 0 -1.6 0M254.3 491.8a0.8 0.8 0 1 0 1.6 0a0.8 0.8 0 1 0 -1.6 0M255.9 490.5a0.8 0.8 0 1 0 1.6 0a0.8 0.8 0 1 0 -1.6 0M257.3 492.9a0.8 0.8 0 1 0 1.6 0a0.8 0.8 0 1 0 -1.6 0M258.3 493a0.8 0.8 0 1 0 1.6 0a0.8 0.8 0 1 0 -1.6 0M260.3 491.3a0.8 0.8 0 1 0 1.6 0a0.8 0.8 0 1 0 -1.6 0M260.7 492.2a0.8 0.8 0 1 0 1.6 0a0.8 0.8 0 1 0 -1.6 0M262.3 492.3a0.8 0.8 0 1 0 1.6 0a0.8 0.8 0 1 0 -1.6 0M263.5 492a0.8 0.8 0 1 0 1.6 0a0.8 0.8 0 1 0 -1.6 0M265.3 490.2a0.8 0.8 0 1 0 1.6 0a0.8 0.8 0 1 0 -1.6 0M266 490.3a0.8 0.8 0 1 0 1.6 0a0.8 0.8 0 1 0 -1.6 0M267 490.2a0.8 0.8 0 1 0 1.6 0a0.8 0.8 0 1 0 -1.6 0M268.6 492.3a0.8 0.8 0 1 0 1.6 0a0.8 0.8 0 1 0 -1.6 0M270.4 494.1a0.8 0.8 0 1 0 1.6 0a0.8 0.8 0 1 0 -1.6 0M270.9 493.3a0.8 0.8 0 1 0 1.6 0a0.8 0.8 0 1 0 -1.6 0M272.5 495.7a0.8 0.8 0 1 0 1.6 0a0.8 0.8 0 1 0 -1.6 0M274.2 493a0.8 0.8 0 1 0 1.6 0a0.8 0.8 0 1 0 -1.6 0M275.3 496.5a0.8 0.8 0 1 0 1.6 0a0.8 0.8 0 1 0 -1.6 0M275.9 494a0.8 0.8 0 1 0 1.6 0a0.8 0.8 0 1 0 -1.6 0M277.4 496.7a0.8 0.8 0 1 0 1.6 0a0.8 0.8 0 1 0 -1.6 0M278.4 493.7a0.8 0.8 0 1 0 1.6 0a0.8 0.8 0 1 0 -1.6 0M279.8 492.7a0.8 0.8 0 1 0 1.6 0a0.8 0.8 0 1 0 -1.6 0M281.6 494.6a0.8 0.8 0 1 0 1.6 0a0.8 0.8 0 1 0 -1.6 0M282.5 495.7a0.8 0.8 0 1 0 1.6 0a0.8 0.8 0 1 0 -1.6 0M283.4 492a0.8 0.8 0 1 0 1.6 0a0.8 0.8 0 1 0 -1.6 0M285 493.8a0.8 0.8 0 1 0 1.6 0a0.8 0.8 0 1 0 -1.6 0M286.3 495a0.8 0.8 0 1 0 1.6 0a0.8 0.8 0 1 0 -1.6 0M287.3 499.2a0.8 0.8 0 1 0 1.6 0a0.8 0.8 0 1 0 -1.6 0M288.6 498.3a0.8 0.8 0 1 0 1.6 0a0.8 0.8 0 1 0 -1.6 0M290.2 499.2a0.8 0.8 0 1 0 1.6 0a0.8 0.8 0 1 0 -1.6 0M291.4 499.2a0.8 0.8 0 1 0 1.6 0a0.8 0.8 0 1 0 -1.6 0M293 492.4a0.8 0.8 0 1 0 1.6 0a0.8 0.8 0 1 0 -1.6 0M293.6 498.4a0.8 0.8 0 1 0 1.6 0a0.8 0.8 0 1 0 -1.6 0M295.1 498.1a0.8 0.8 0 1 0 1.6 0a0.8 0.8 0 1 0 -1.6 0M296.2 497.1a0.8 0.8 0 1 0 1.6 0a0.8 0.8 0 1 0 -1.6 0M297.7 495.6a0.8 0.8 0 1 0 1.6 0a0.8 0.8 0 1 0 -1.6 0M298.9 493.7a0.8 0.8 0 1 0 1.6 0a0.8 0.8 0 1 0 -1.6 0M300.2 494.7a0.8 0.8 0 1 0 1.6 0a0.8 0.8 0 1 0 -1.6 0M301.6 495.8a0.8 0.8 0 1 0 1.6 0a0.8 0.8 0 1 0 -1.6 0M302.6 497.7a0.8 0.8 0 1 0 1.6 0a0.8 0.8 0 1 0 -1.6 0M303.6 494.3a0.8 0.8 0 1 0 1.6 0a0.8 0.8 0 1 0 -1.6 0M305.2 495.1a0.8 0.8 0 1 0 1.6 0a0.8 0.8 0 1 0 -1.6 0M306.9 494.7a0.8 0.8 0 1 0 1.6 0a0.8 0.8 0 1 0 -1.6 0M307.6 491.4a0.8 0.8 0 1 0 1.6 0a0.8 0.8 0 1 0 -1.6 0M308.9 493.6a0.8 0.8 0 1 0 1.6 0a0.8 0.8 0 1 0 -1.6 0M310.2 496.4a0.8 0.8 0 1 0 1.6 0a0.8 0.8 0 1 0 -1.6 0M311.3 497.2a0.8 0.8 0 1 0 1.6 0a0.8 0.8 0 1 0 -1.6 0M312.5 495.7a0.8 0.8 0 1 0 1.6 0a0.8 0.8 0 1 0 -1.6 0M313.7 494.2a0.8 0.8 0 1 0 1.6 0a0.8 0.8 0 1 0 -1.6 0M315.2 496.7a0.8 0.8 0 1 0 1.6 0a0.8 0.8 0 1 0 -1.6 0M316.3 494.4a0.8 0.8 0 1 0 1.6 0a0.8 0.8 0 1 0 -1.6 0M317.6 493.4a0.8 0.8 0 1 0 1.6 0a0.8 0.8 0 1 0 -1.6 0M318.8 490.6a0.8 0.8 0 1 0 1.6 0a0.8 0.8 0 1 0 -1.6 0M320.1 492.1a0.8 0.8 0 1 0 1.6 0a0.8 0.8 0 1 0 -1.6 0M321.9 492.7a0.8 0.8 0 1 0 1.6 0a0.8 0.8 0 1 0 -1.6 0M323.2 492.1a0.8 0.8 0 1 0 1.6 0a0.8 0.8 0 1 0 -1.6 0M324.6 491.1a0.8 0.8 0 1 0 1.6 0a0.8 0.8 0 1 0 -1.6 0M325.9 493.9a0.8 0.8 0 1 0 1.6 0a0.8 0.8 0 1 0 -1.6 0M326.7 495.6a0.8 0.8 0 1 0 1.6 0a0.8 0.8 0 1 0 -1.6 0M327.6 494.5a0.8 0.8 0 1 0 1.6 0a0.8 0.8 0 1 0 -1.6 0M329.8 495.5a0.8 0.8 0 1 0 1.6 0a0.8 0.8 0 1 0 -1.6 0M330.8 494.2a0.8 0.8 0 1 0 1.6 0a0.8 0.8 0 1 0 -1.6 0M331.7 498.4a0.8 0.8 0 1 0 1.6 0a0.8 0.8 0 1 0 -1.6 0M333.5 497.3a0.8 0.8 0 1 0 1.6 0a0.8 0.8 0 1 0 -1.6 0M334.5 497.7a0.8 0.8 0 1 0 1.6 0a0.8 0.8 0 1 0 -1.6 0M335.6 498.9a0.8 0.8 0 1 0 1.6 0a0.8 0.8 0 1 0 -1.6 0M336.7 495.6a0.8 0.8 0 1 0 1.6 0a0.8 0.8 0 1 0 -1.6 0M338.4 499.1a0.8 0.8 0 1 0 1.6 0a0.8 0.8 0 1 0 -1.6 0M339.3 496.8a0.8 0.8 0 1 0 1.6 0a0.8 0.8 0 1 0 -1.6 0M341.1 494.4a0.8 0.8 0 1 0 1.6 0a0.8 0.8 0 1 0 -1.6 0M341.6 493.9a0.8 0.8 0 1 0 1.6 0a0.8 0.8 0 1 0 -1.6 0M343.6 492.7a0.8 0.8 0 1 0 1.6 0a0.8 0.8 0 1 0 -1.6 0M344.3 494.4a0.8 0.8 0 1 0 1.6 0a0.8 0.8 0 1 0 -1.6 0M345.9 496.8a0.8 0.8 0 1 0 1.6 0a0.8 0.8 0 1 0 -1.6 0M346.7 495.6a0.8 0.8 0 1 0 1.6 0a0.8 0.8 0 1 0 -1.6 0M348.3 499.1a0.8 0.8 0 1 0 1.6 0a0.8 0.8 0 1 0 -1.6 0M349.3 494.5a0.8 0.8 0 1 0 1.6 0a0.8 0.8 0 1 0 -1.6 0M350.7 496.3a0.8 0.8 0 1 0 1.6 0a0.8 0.8 0 1 0 -1.6 0M352 497.2a0.8 0.8 0 1 0 1.6 0a0.8 0.8 0 1 0 -1.6 0M353.3 496.6a0.8 0.8 0 1 0 1.6 0a0.8 0.8 0 1 0 -1.6 0M354.5 497.3a0.8 0.8 0 1 0 1.6 0a0.8 0.8 0 1 0 -1.6 0M356 493.2a0.8 0.8 0 1 0 1.6 0a0.8 0.8 0 1 0 -1.6 0M357.3 492.4a0.8 0.8 0 1 0 1.6 0a0.8 0.8 0 1 0 -1.6 0M358.1 491.9a0.8 0.8 0 1 0 1.6 0a0.8 0.8 0 1 0 -1.6 0M359.3 493.6a0.8 0.8 0 1 0 1.6 0a0.8 0.8 0 1 0 -1.6 0M361.2 495.6a0.8 0.8 0 1 0 1.6 0a0.8 0.8 0 1 0 -1.6 0M362.2 492.6a0.8 0.8 0 1 0 1.6 0a0.8 0.8 0 1 0 -1.6 0M363 491.3a0.8 0.8 0 1 0 1.6 0a0.8 0.8 0 1 0 -1.6 0M365 491.3a0.8 0.8 0 1 0 1.6 0a0.8 0.8 0 1 0 -1.6 0M365.6 494a0.8 0.8 0 1 0 1.6 0a0.8 0.8 0 1 0 -1.6 0M367.1 492a0.8 0.8 0 1 0 1.6 0a0.8 0.8 0 1 0 -1.6 0M367.9 492.3a0.8 0.8 0 1 0 1.6 0a0.8 0.8 0 1 0 -1.6 0M369.3 493.6a0.8 0.8 0 1 0 1.6 0a0.8 0.8 0 1 0 -1.6 0M371.3 493.9a0.8 0.8 0 1 0 1.6 0a0.8 0.8 0 1 0 -1.6 0M372.3 494.6a0.8 0.8 0 1 0 1.6 0a0.8 0.8 0 1 0 -1.6 0M373.6 496.1a0.8 0.8 0 1 0 1.6 0a0.8 0.8 0 1 0 -1.6 0M374.4 496.2a0.8 0.8 0 1 0 1.6 0a0.8 0.8 0 1 0 -1.6 0M375.5 496.9a0.8 0.8 0 1 0 1.6 0a0.8 0.8 0 1 0 -1.6 0M377.2 497.8a0.8 0.8 0 1 0 1.6 0a0.8 0.8 0 1 0 -1.6 0M378.1 495.8a0.8 0.8 0 1 0 1.6 0a0.8 0.8 0 1 0 -1.6 0M379.3 493a0.8 0.8 0 1 0 1.6 0a0.8 0.8 0 1 0 -1.6 0M380.8 490.2a0.8 0.8 0 1 0 1.6 0a0.8 0.8 0 1 0 -1.6 0M382.7 490.2a0.8 0.8 0 1 0 1.6 0a0.8 0.8 0 1 0 -1.6 0M383.4 494.1a0.8 0.8 0 1 0 1.6 0a0.8 0.8 0 1 0 -1.6 0M385.2 493a0.8 0.8 0 1 0 1.6 0a0.8 0.8 0 1 0 -1.6 0M385.6 494.3a0.8 0.8 0 1 0 1.6 0a0.8 0.8 0 1 0 -1.6 0M387.1 492.4a0.8 0.8 0 1 0 1.6 0a0.8 0.8 0 1 0 -1.6 0M389 496a0.8 0.8 0 1 0 1.6 0a0.8 0.8 0 1 0 -1.6 0" fill="#33904c" stroke="#1a3320" stroke-width="0.3"/>
<path d="M233.6 507.6a0.9 0.9 0 1 0 1.8 0a0.9 0.9 0 1 0 -1.8 0M246.6 485.6a0.9 0.9 0 1 0 1.8 0a0.9 0.9 0 1 0 -1.8 0M247.6 499a0.9 0.9 0 1 0 1.8 0a0.9 0.9 0 1 0 -1.8 0M259.6 499.4a0.9 0.9 0 1 0 1.8 0a0.9 0.9 0 1 0 -1.8 0M263.6 487.4a0.9 0.9 0 1 0 1.8 0a0.9 0.9 0 1 0 -1.8 0M265.6 499a0.9 0.9 0 1 0 1.8 0a0.9 0.9 0 1 0 -1.8 0M272.6 486.4a0.9 0.9 0 1 0 1.8 0a0.9 0.9 0 1 0 -1.8 0M273.6 497.6a0.9 0.9 0 1 0 1.8 0a0.9 0.9 0 1 0 -1.8 0M288.6 499a0.9 0.9 0 1 0 1.8 0a0.9 0.9 0 1 0 -1.8 0M291.6 510a0.9 0.9 0 1 0 1.8 0a0.9 0.9 0 1 0 -1.8 0M297.6 505a0.9 0.9 0 1 0 1.8 0a0.9 0.9 0 1 0 -1.8 0M306.6 499a0.9 0.9 0 1 0 1.8 0a0.9 0.9 0 1 0 -1.8 0M311.6 485.6a0.9 0.9 0 1 0 1.8 0a0.9 0.9 0 1 0 -1.8 0M323.6 508a0.9 0.9 0 1 0 1.8 0a0.9 0.9 0 1 0 -1.8 0M328.6 487a0.9 0.9 0 1 0 1.8 0a0.9 0.9 0 1 0 -1.8 0M330.6 500a0.9 0.9 0 1 0 1.8 0a0.9 0.9 0 1 0 -1.8 0M336.6 493a0.9 0.9 0 1 0 1.8 0a0.9 0.9 0 1 0 -1.8 0M352.6 499.6a0.9 0.9 0 1 0 1.8 0a0.9 0.9 0 1 0 -1.8 0M364.6 499.6a0.9 0.9 0 1 0 1.8 0a0.9 0.9 0 1 0 -1.8 0M371.6 494a0.9 0.9 0 1 0 1.8 0a0.9 0.9 0 1 0 -1.8 0M378.6 497a0.9 0.9 0 1 0 1.8 0a0.9 0.9 0 1 0 -1.8 0M385.6 493a0.9 0.9 0 1 0 1.8 0a0.9 0.9 0 1 0 -1.8 0M388.6 492a0.9 0.9 0 1 0 1.8 0a0.9 0.9 0 1 0 -1.8 0M339.6 490a0.9 0.9 0 1 0 1.8 0a0.9 0.9 0 1 0 -1.8 0M341.6 499a0.9 0.9 0 1 0 1.8 0a0.9 0.9 0 1 0 -1.8 0" fill="#275a32" stroke="#1a3320" stroke-width="0.4"/>
<path d="M268.6 470.6a0.9 0.9 0 1 0 1.8 0a0.9 0.9 0 1 0 -1.8 0M324.6 522a0.9 0.9 0 1 0 1.8 0a0.9 0.9 0 1 0 -1.8 0M340.6 466.6a0.9 0.9 0 1 0 1.8 0a0.9 0.9 0 1 0 -1.8 0M340.6 515a0.9 0.9 0 1 0 1.8 0a0.9 0.9 0 1 0 -1.8 0M342.6 458a0.9 0.9 0 1 0 1.8 0a0.9 0.9 0 1 0 -1.8 0M345.6 511a0.9 0.9 0 1 0 1.8 0a0.9 0.9 0 1 0 -1.8 0M377.6 425.6a0.9 0.9 0 1 0 1.8 0a0.9 0.9 0 1 0 -1.8 0M379.6 478a0.9 0.9 0 1 0 1.8 0a0.9 0.9 0 1 0 -1.8 0M380.6 505a0.9 0.9 0 1 0 1.8 0a0.9 0.9 0 1 0 -1.8 0" fill="#6a3a28" stroke="#3a1a10" stroke-width="0.3"/>
<line x1="372" y1="426" x2="372" y2="522" stroke="#cfcfe8" stroke-width="1.1"/>
<line x1="372" y1="426" x2="372" y2="522" stroke="#8080b8" stroke-width="0.7" stroke-dasharray="1.3 1.1"/>
<line x1="389.6" y1="426" x2="389.6" y2="522" stroke="#cfcfe8" stroke-width="1.1"/>
<line x1="389.6" y1="426" x2="389.6" y2="522" stroke="#8080b8" stroke-width="0.7" stroke-dasharray="1.3 1.1"/>
</g>
<rect x="218.5" y="420.5" width="179" height="107" fill="none" stroke="#989898" stroke-width="1.0"/>
<line x1="217.3" y1="434.2" x2="218.6" y2="434.2" stroke="#333" stroke-width="0.5"/>
<text x="216.7" y="435.24" text-anchor="end" font-size="3.02" textLength="4.61" lengthAdjust="spacingAndGlyphs" fill="#111" stroke="#111" stroke-width="0.14">0.3</text>
<line x1="217.3" y1="454.42" x2="218.6" y2="454.42" stroke="#333" stroke-width="0.5"/>
<text x="216.7" y="455.46" text-anchor="end" font-size="3.02" textLength="4.61" lengthAdjust="spacingAndGlyphs" fill="#111" stroke="#111" stroke-width="0.14">0.2</text>
<line x1="217.3" y1="474.64" x2="218.6" y2="474.64" stroke="#333" stroke-width="0.5"/>
<text x="216.7" y="475.68" text-anchor="end" font-size="3.02" textLength="4.61" lengthAdjust="spacingAndGlyphs" fill="#111" stroke="#111" stroke-width="0.14">0.1</text>
<line x1="217.3" y1="494.86" x2="218.6" y2="494.86" stroke="#333" stroke-width="0.5"/>
<text x="216.7" y="495.9" text-anchor="end" font-size="3.02" textLength="4.61" lengthAdjust="spacingAndGlyphs" fill="#111" stroke="#111" stroke-width="0.14">0.0</text>
<line x1="217.3" y1="515.08" x2="218.6" y2="515.08" stroke="#333" stroke-width="0.5"/>
<text x="216.7" y="516.12" text-anchor="end" font-size="3.02" textLength="7.04" lengthAdjust="spacingAndGlyphs" fill="#111" stroke="#111" stroke-width="0.14">−0.1</text>
<line x1="225.5" y1="527.1" x2="225.5" y2="528.4" stroke="#333" stroke-width="0.5"/>
<text transform="translate(226.89 530.1) rotate(-90)" text-anchor="end" font-size="3.02" textLength="8.43" lengthAdjust="spacingAndGlyphs" fill="#222" stroke="#222" stroke-width="0.06">01-08</text>
<line x1="228.5" y1="527.1" x2="228.5" y2="528.4" stroke="#333" stroke-width="0.5"/>
<text transform="translate(229.89 530.1) rotate(-90)" text-anchor="end" font-size="3.02" textLength="8.43" lengthAdjust="spacingAndGlyphs" fill="#222" stroke="#222" stroke-width="0.06">01-08</text>
<line x1="235.5" y1="527.1" x2="235.5" y2="528.4" stroke="#333" stroke-width="0.5"/>
<text transform="translate(236.89 530.1) rotate(-90)" text-anchor="end" font-size="3.02" textLength="8.43" lengthAdjust="spacingAndGlyphs" fill="#222" stroke="#222" stroke-width="0.06">01-08</text>
<line x1="242.6" y1="527.1" x2="242.6" y2="528.4" stroke="#333" stroke-width="0.5"/>
<text transform="translate(243.99 530.1) rotate(-90)" text-anchor="end" font-size="3.02" textLength="8.43" lengthAdjust="spacingAndGlyphs" fill="#222" stroke="#222" stroke-width="0.06">01-08</text>
<line x1="253.25" y1="527.1" x2="253.25" y2="528.4" stroke="#333" stroke-width="0.5"/>
<text transform="translate(254.64 530.1) rotate(-90)" text-anchor="end" font-size="3.02" textLength="8.43" lengthAdjust="spacingAndGlyphs" fill="#222" stroke="#222" stroke-width="0.06">01-08</text>
<line x1="257.25" y1="527.1" x2="257.25" y2="528.4" stroke="#333" stroke-width="0.5"/>
<text transform="translate(258.64 530.1) rotate(-90)" text-anchor="end" font-size="3.02" textLength="8.43" lengthAdjust="spacingAndGlyphs" fill="#222" stroke="#222" stroke-width="0.06">01-08</text>
<line x1="263.25" y1="527.1" x2="263.25" y2="528.4" stroke="#333" stroke-width="0.5"/>
<text transform="translate(264.64 530.1) rotate(-90)" text-anchor="end" font-size="3.02" textLength="8.43" lengthAdjust="spacingAndGlyphs" fill="#222" stroke="#222" stroke-width="0.06">01-08</text>
<line x1="285.75" y1="527.1" x2="285.75" y2="528.4" stroke="#333" stroke-width="0.5"/>
<text transform="translate(287.14 530.1) rotate(-90)" text-anchor="end" font-size="3.02" textLength="8.43" lengthAdjust="spacingAndGlyphs" fill="#222" stroke="#222" stroke-width="0.06">01-08</text>
<line x1="297.25" y1="527.1" x2="297.25" y2="528.4" stroke="#333" stroke-width="0.5"/>
<text transform="translate(298.64 530.1) rotate(-90)" text-anchor="end" font-size="3.02" textLength="8.43" lengthAdjust="spacingAndGlyphs" fill="#222" stroke="#222" stroke-width="0.06">01-08</text>
<line x1="305.3" y1="527.1" x2="305.3" y2="528.4" stroke="#333" stroke-width="0.5"/>
<text transform="translate(306.69 530.1) rotate(-90)" text-anchor="end" font-size="3.02" textLength="8.43" lengthAdjust="spacingAndGlyphs" fill="#222" stroke="#222" stroke-width="0.06">01-08</text>
<line x1="311" y1="527.1" x2="311" y2="528.4" stroke="#333" stroke-width="0.5"/>
<text transform="translate(312.39 530.1) rotate(-90)" text-anchor="end" font-size="3.02" textLength="8.43" lengthAdjust="spacingAndGlyphs" fill="#222" stroke="#222" stroke-width="0.06">01-08</text>
<line x1="318.75" y1="527.1" x2="318.75" y2="528.4" stroke="#333" stroke-width="0.5"/>
<text transform="translate(320.14 530.1) rotate(-90)" text-anchor="end" font-size="3.02" textLength="8.43" lengthAdjust="spacingAndGlyphs" fill="#222" stroke="#222" stroke-width="0.06">01-08</text>
<line x1="323.1" y1="527.1" x2="323.1" y2="528.4" stroke="#333" stroke-width="0.5"/>
<text transform="translate(324.49 530.1) rotate(-90)" text-anchor="end" font-size="3.02" textLength="8.43" lengthAdjust="spacingAndGlyphs" fill="#222" stroke="#222" stroke-width="0.06">01-08</text>
<line x1="328.1" y1="527.1" x2="328.1" y2="528.4" stroke="#333" stroke-width="0.5"/>
<text transform="translate(329.49 530.1) rotate(-90)" text-anchor="end" font-size="3.02" textLength="8.43" lengthAdjust="spacingAndGlyphs" fill="#222" stroke="#222" stroke-width="0.06">01-08</text>
<line x1="337.75" y1="527.1" x2="337.75" y2="528.4" stroke="#333" stroke-width="0.5"/>
<text transform="translate(339.14 530.1) rotate(-90)" text-anchor="end" font-size="3.02" textLength="8.43" lengthAdjust="spacingAndGlyphs" fill="#222" stroke="#222" stroke-width="0.06">01-08</text>
<line x1="351" y1="527.1" x2="351" y2="528.4" stroke="#333" stroke-width="0.5"/>
<text transform="translate(352.39 530.1) rotate(-90)" text-anchor="end" font-size="3.02" textLength="8.43" lengthAdjust="spacingAndGlyphs" fill="#222" stroke="#222" stroke-width="0.06">01-08</text>
<line x1="355" y1="527.1" x2="355" y2="528.4" stroke="#333" stroke-width="0.5"/>
<text transform="translate(356.39 530.1) rotate(-90)" text-anchor="end" font-size="3.02" textLength="8.43" lengthAdjust="spacingAndGlyphs" fill="#222" stroke="#222" stroke-width="0.06">01-08</text>
<line x1="357.5" y1="527.1" x2="357.5" y2="528.4" stroke="#333" stroke-width="0.5"/>
<text transform="translate(358.89 530.1) rotate(-90)" text-anchor="end" font-size="3.02" textLength="8.43" lengthAdjust="spacingAndGlyphs" fill="#222" stroke="#222" stroke-width="0.06">01-08</text>
<line x1="360" y1="527.1" x2="360" y2="528.4" stroke="#333" stroke-width="0.5"/>
<text transform="translate(361.39 530.1) rotate(-90)" text-anchor="end" font-size="3.02" textLength="8.43" lengthAdjust="spacingAndGlyphs" fill="#222" stroke="#222" stroke-width="0.06">01-08</text>
<line x1="365.2" y1="527.1" x2="365.2" y2="528.4" stroke="#333" stroke-width="0.5"/>
<text transform="translate(366.59 530.1) rotate(-90)" text-anchor="end" font-size="3.02" textLength="8.43" lengthAdjust="spacingAndGlyphs" fill="#222" stroke="#222" stroke-width="0.06">01-08</text>
<line x1="368.8" y1="527.1" x2="368.8" y2="528.4" stroke="#333" stroke-width="0.5"/>
<text transform="translate(370.19 530.1) rotate(-90)" text-anchor="end" font-size="3.02" textLength="8.43" lengthAdjust="spacingAndGlyphs" fill="#222" stroke="#222" stroke-width="0.06">01-08</text>
<line x1="370.6" y1="527.1" x2="370.6" y2="528.4" stroke="#333" stroke-width="0.5"/>
<text transform="translate(371.99 530.1) rotate(-90)" text-anchor="end" font-size="3.02" textLength="8.43" lengthAdjust="spacingAndGlyphs" fill="#222" stroke="#222" stroke-width="0.06">01-08</text>
<line x1="372.4" y1="527.1" x2="372.4" y2="528.4" stroke="#333" stroke-width="0.5"/>
<text transform="translate(373.79 530.1) rotate(-90)" text-anchor="end" font-size="3.02" textLength="13.04" lengthAdjust="spacingAndGlyphs" fill="#222" stroke="#222" stroke-width="0.06">01-08 16</text>
<line x1="375" y1="527.1" x2="375" y2="528.4" stroke="#333" stroke-width="0.5"/>
<text transform="translate(376.39 530.1) rotate(-90)" text-anchor="end" font-size="3.02" textLength="8.43" lengthAdjust="spacingAndGlyphs" fill="#222" stroke="#222" stroke-width="0.06">01-08</text>
<line x1="388.8" y1="527.1" x2="388.8" y2="528.4" stroke="#333" stroke-width="0.5"/>
<text transform="translate(390.19 530.1) rotate(-90)" text-anchor="end" font-size="3.02" textLength="13.04" lengthAdjust="spacingAndGlyphs" fill="#222" stroke="#222" stroke-width="0.06">01-08 16</text>
<text x="308.1" y="418.6" text-anchor="middle" font-size="3.92" textLength="38.65" lengthAdjust="spacingAndGlyphs" fill="#1a1a1a" stroke="#1a1a1a" stroke-width="0.05">ASR_2022-1-8 16:30</text>
<text transform="translate(205.6 473.8) rotate(-90)" text-anchor="middle" font-size="3.17" textLength="17.63" lengthAdjust="spacingAndGlyphs" fill="#111" stroke="#111" stroke-width="0.14">btc_volume</text>
<text x="308.1" y="547.9" text-anchor="middle" font-size="3.17" textLength="13.77" lengthAdjust="spacingAndGlyphs" fill="#111" stroke="#111" stroke-width="0.14">datetime</text>
<rect x="219.6" y="421.8" width="45" height="10" rx="0.6" fill="#fff" fill-opacity="0.85" stroke="#ddd" stroke-width="0.3"/>
<line x1="221.5" y1="424.8" x2="229" y2="424.8" stroke="#5a5aa0" stroke-width="0.8" stroke-dasharray="1.6 0.9"/>
<line x1="221.5" y1="429.9" x2="229" y2="429.9" stroke="#ede4aa" stroke-width="1.4" stroke-dasharray="3.2 0.4"/>
<text x="231.1" y="425.92" font-size="3.24" textLength="24.15" lengthAdjust="spacingAndGlyphs" fill="#111" stroke="#111" stroke-width="0.14">2022-1-8 16:30</text>
<text x="231.1" y="431.02" font-size="3.24" textLength="31.3" lengthAdjust="spacingAndGlyphs" fill="#111" stroke="#111" stroke-width="0.14">anomalous volumes</text>
</g>
</svg>
</body></html>
